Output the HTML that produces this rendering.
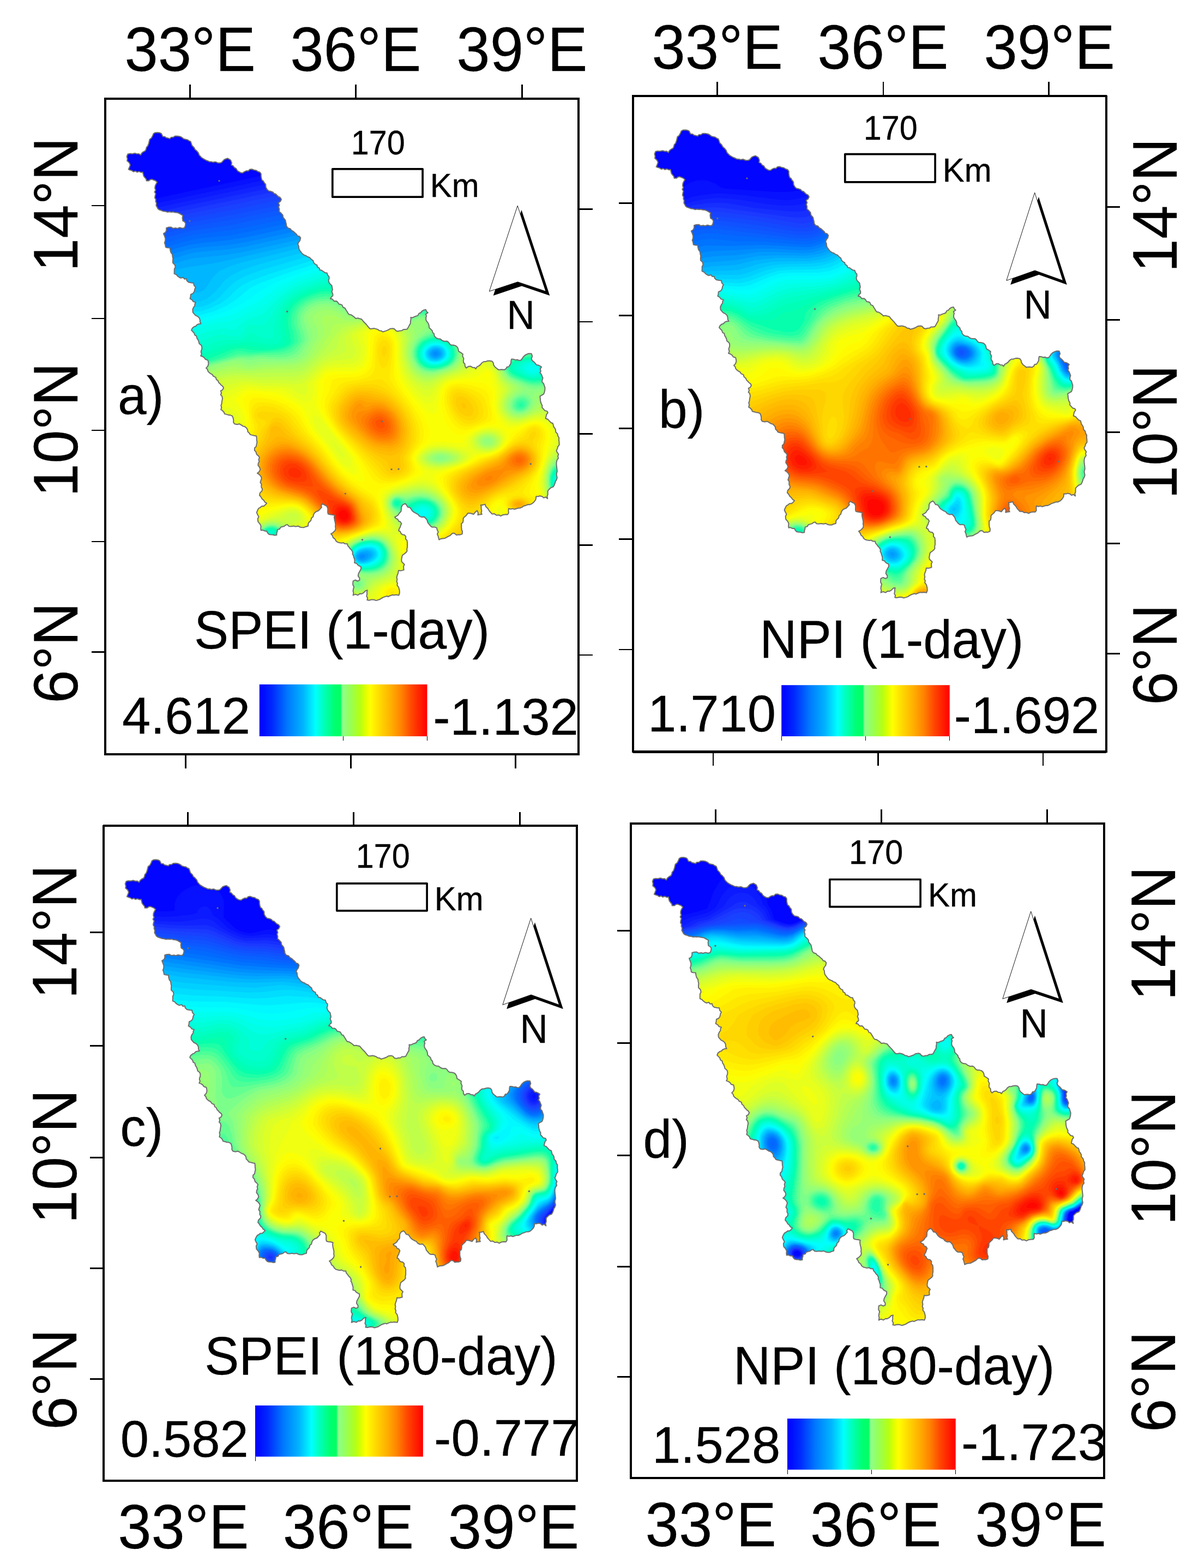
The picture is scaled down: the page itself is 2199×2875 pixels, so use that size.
<!DOCTYPE html>
<html lang="en"><head><meta charset="utf-8"><title>SPEI and NPI drought index maps</title>
<style>html,body{margin:0;padding:0;background:#fff}svg{display:block}text{font-family:'Liberation Sans', Arial, Helvetica, sans-serif;fill:#000;stroke:#000;stroke-width:.3px}</style>
</head><body>
<svg width="2199" height="2875" viewBox="0 0 2199 2875">
<defs>
<linearGradient id="ramp" x1="0" y1="0" x2="1" y2="0">
<stop offset="0" stop-color="#0000ff"/>
<stop offset="0.075" stop-color="#0028ff"/>
<stop offset="0.167" stop-color="#0078ff"/>
<stop offset="0.26" stop-color="#00b4ff"/>
<stop offset="0.334" stop-color="#00ffff"/>
<stop offset="0.38" stop-color="#00ffbe"/>
<stop offset="0.45" stop-color="#00ff6e"/>
<stop offset="0.483" stop-color="#00ff64"/>
<stop offset="0.494" stop-color="#8cff8c"/>
<stop offset="0.538" stop-color="#96ff5a"/>
<stop offset="0.6" stop-color="#b4ff14"/>
<stop offset="0.63" stop-color="#dcff00"/>
<stop offset="0.66" stop-color="#ffff00"/>
<stop offset="0.72" stop-color="#ffd700"/>
<stop offset="0.785" stop-color="#ffaf00"/>
<stop offset="0.847" stop-color="#ff8200"/>
<stop offset="0.908" stop-color="#ff4600"/>
<stop offset="1" stop-color="#ff0000"/>
</linearGradient>
<path id="basin" d="M39.6,106.3 41.4,101.9 45.2,101 49.5,101.3 54.5,100.3 57.8,101.5 61.9,101.4 65,103.7 66.9,100.2 69.5,98 73.6,95.8 75.1,92.2 75.5,89.7 78.1,86.7 79.8,82.2 80.5,79 81.5,74.9 84.5,72.7 86.8,68.7 88.5,64.4 91.6,62.6 96.4,62.3 100.3,63 103,64.4 105.6,69.6 109.3,69.8 111.8,71.9 114.7,72.5 118.7,73.6 120.8,71.2 124.9,71 127.8,68.9 132.6,68.8 137,69.6 140.3,71.1 143.9,74 147.5,74.9 150.9,75.6 154.1,77.8 156.6,78.8 157.9,82.4 159.1,86.1 162.9,89.9 164.5,93.2 167.9,96.1 170.9,99.7 172.4,103.7 175,106.6 177.4,108.9 181,111.1 184.2,112.9 187.3,114.1 191.1,115.9 194.2,115.8 197.2,116.8 202,116.1 206.7,118.1 210.3,118.1 213.3,117.3 216.1,114.3 218.2,112 220.8,110.9 224.7,109.7 230,112.9 231.9,117.7 231.3,122 234.3,123.3 237.2,126.9 239.9,128.2 242.1,131.9 244.4,133.8 248.6,136.1 252.2,136.4 255.1,134.3 259.1,132.5 262.1,132.9 265.3,129.9 269,129.6 273.2,131.2 276.9,131.8 279.8,133.9 283.7,135.1 285.8,138.2 285.8,142.1 286.3,145.6 287.4,149.5 290.3,151.7 291.4,154.1 294.2,157.4 294.6,162.7 296.8,166.6 300,169.7 303.4,170.2 307.4,171.6 309.9,174.4 312.7,175.1 315.2,177.6 317.5,179.9 320.8,181.4 323,184.9 321.3,188.7 317.7,191.4 319.4,195.8 318,198.8 319.3,203 319,207.2 322.1,209.8 325.6,213.7 326.3,218.2 328.3,220.4 330.3,222.9 331.1,226.8 332.1,230.7 332.4,233.8 334.8,237.3 339.6,238.8 341.2,241.4 345.2,243.8 347.2,245.7 351,249.1 352.6,251.8 356,252.6 358.3,255.6 357.2,260.3 354.6,263.8 353.1,267.4 354.7,270.1 355.2,275 356.3,278 358.3,280.5 361.3,284.6 364.9,287 368.6,288.4 371,290.2 375.1,291.7 378,294.9 381.3,297.3 382.3,301 385.5,304.2 388.4,305.4 389,308.9 392.4,310.7 393.7,314.5 396.8,314.9 400.7,317.7 403.1,319.3 406.8,319.8 407.9,323.9 410.5,326.6 410.7,330.2 409.5,333.1 410.4,337.3 412.2,339.9 415.4,342.9 416.1,346.2 416.9,350.6 415.5,354 417.4,358.7 417.4,361.9 415,363.7 412.9,367.1 416.2,367.6 419.7,371.6 424,371.4 426.5,373.7 428.5,377 432.1,377.6 434.4,378.7 436.4,383.2 439.6,384.2 441.7,387.9 443.6,390.7 444.9,393.3 446.9,395.8 450.8,396.6 454.1,398.8 456.7,400.7 459.3,403.3 463.5,402.7 466.3,403.6 469.8,404.3 473.3,408.6 476.3,411.7 479.2,414.7 480.9,416.9 482.6,419 485.5,422.1 488.6,422.2 493.3,421.5 496.3,422.3 499.9,423.5 502.8,425.6 506.2,426 509,427.9 514.1,426.3 518.2,424.8 522.5,422.2 527.4,421.6 530.5,422.6 533.1,425.8 536.5,426.9 540.4,425.8 543.8,425.7 547,423.5 550.4,423.5 553.8,422.9 556,419.1 557.7,415.8 559.8,412.4 559.9,408 560.7,404.5 560.3,401.4 563.7,401.8 568,399.7 570.8,398.8 573.5,397.8 575.4,394 578.7,392.7 580.8,390 584.4,387.8 587.8,387 589.5,390.8 591.8,392.7 587.8,395.4 589.2,398.9 588.2,401.4 588.3,406.1 589.7,408.5 592.5,412.4 593.6,415.6 594.2,420.4 597,422.9 599.6,425.5 600.5,429 603.1,431.7 603.5,435.1 606.2,438.6 610,440.4 614.3,440.8 618,443.8 621.8,445.2 626.9,445 629.7,447 632.3,450.7 635,452.2 638.5,452.2 642.8,453.4 645.5,455.6 647.2,458.8 648.1,463.5 652.7,466.3 655.9,468.7 655.3,472.3 657.5,477.1 656.7,480.8 657.2,484.4 659.5,486.5 659.9,491 662,494.1 666.4,491.2 670.3,491 673.6,493.1 677.5,493.4 679.5,495.7 682,491.8 685,490.5 688.7,487.5 690.2,485.2 693.9,482.6 697.4,482.5 701.2,481.2 705.1,480.8 709.6,481.8 711.7,484.8 712.4,488.8 714.9,492.3 717.7,494.6 721.4,497.5 724.1,497.1 727.6,496.8 731.9,497.5 735,495.6 736.6,492.3 740.1,491.9 742.4,488.3 744.1,485.1 744.3,480.8 745,477.9 748.4,478 752.5,479.3 755.8,478.8 758.7,480.2 762,480 764.6,477.2 766.6,473.9 770.3,470.4 773.8,468.7 777.1,467.7 781.7,467.9 783.3,472.5 781.6,476.7 783,480.5 785.7,482.4 788.5,485.3 790.8,488.3 794.2,488.8 797.9,490.7 800,492.3 797.9,495.5 798.8,500.1 797.4,502.7 799.7,505.5 801.3,509.3 802.6,512.6 801.4,516.3 801.3,519.8 803.9,522.6 805.2,526.3 806.5,530.3 806.3,534.9 805.2,539.4 804,542.1 800.7,543.9 797.4,546 797.8,549.7 798.1,553.6 798.9,557.5 800,560.4 801.5,563.1 801.2,566.5 803.9,569.5 806.3,572.3 810.4,573.3 811.8,576.1 809.4,579.4 808.4,583.3 807.8,586.6 811.7,588.1 814.8,591.5 817.6,594.4 820.9,595.7 821.9,599.5 822.7,602.4 824.5,604.2 826,607.7 826.2,611.4 829.4,614.8 830.2,618.7 832.2,621.9 832,626.6 832.5,629.8 832.7,635 830.1,638.5 829.2,642 827.5,645.5 828.7,648.6 831.4,652.4 830.1,655.5 831,659.6 828.6,662.8 827.5,667.6 827.5,670.7 827.9,674.9 828.5,679.7 828.8,683.8 827.7,687.9 827.8,690.9 828.8,695.3 827.5,699.5 825.7,702 825,704.8 823.6,708.7 821.7,712 817.2,713.8 814.7,716 811.8,719.2 811.6,722.7 811.7,725.8 810.4,729.5 811.3,733.6 807.8,730.8 804.2,732.2 801.3,729.6 796.9,728.7 794.3,729.7 790.3,729.6 789.8,734.4 788.2,737.5 785.5,740.6 782.6,743 779,744.6 775.6,744.4 771.5,746.1 767.6,747.2 764.6,749.3 760.7,751 758.4,750.9 754.2,751.9 750.6,753.2 747.3,752 743.6,752.9 739.7,751.9 739.5,756.2 739.8,759.8 737.9,762.9 734.1,762.7 728.9,763.6 725.3,765.5 721.9,763.6 717.5,764.1 713.7,761.5 709.6,761.9 706.8,758.9 704.4,756.2 701.8,751.9 698,748.1 696.5,744 692,745.4 688.7,745.4 689.7,748.3 689.4,751.7 690.4,756.3 689.4,759.6 690.8,762.4 686.4,762.8 683.4,763.7 683.9,759.5 682.1,755.8 678.9,758.2 675.6,762.4 672.3,761.1 668.5,760.3 665.1,760.3 662.7,763.8 658.5,767.6 656.6,769.8 656.6,773.7 655.8,777.6 653.2,779.4 653.3,783.3 653.2,786.8 653.8,790.7 655.1,794.1 654.6,798.5 650.6,800 648,799.7 644.1,800.4 640.7,797.4 637.6,797 635.2,798.7 632.7,801.2 629.5,802.8 625.8,804.8 623,806.4 618.4,806.9 615.5,807.3 612.2,809 611.3,805.4 610.5,802.1 609,798.7 610.8,794.9 608.7,790.7 608,787.3 604.4,785.8 599.6,786 596.8,784.1 594.3,781 591.8,778.1 590.4,773.3 588.7,770.9 585.2,767.1 580.1,767.5 576,765.5 573.4,762.2 570.3,760.9 565.5,758.1 563,755.8 560.6,752.2 558.9,749.9 554.8,749.1 552.4,745.1 549.9,742.7 545.1,745.4 543,749.4 542.9,753.5 542.5,757.1 539.6,759.9 537.3,763.6 533.9,766 531,767.6 533,770 536.3,771.3 538.4,775.2 541.1,775.8 543.3,779.4 541.9,782.8 541.1,785.7 539.4,788.4 538.1,792.5 541,794.1 542.7,797.8 545.3,799.6 548.7,800.1 551.2,803 551,807.7 553.5,810.3 554.1,815.2 554,819.1 554.1,822 553.2,826.7 553.6,829.6 551.8,832.3 548.3,835.1 545,837.5 544.1,840.9 543.3,845.7 543.7,849.3 546,851.6 548.9,854.5 547.2,857.4 547.2,860.6 547.6,864.5 542.4,865.8 537.9,865.5 537.1,870.5 535.8,873.4 534.5,878.1 535.4,881.5 534.5,886 536,888.7 535.3,892.5 538.1,896.1 538.9,899.1 539.7,902.3 539.8,906.8 538.4,910.8 533.8,910 529.7,910.6 526.8,910.2 522.7,911.6 518.9,913.4 516.7,912.4 513,913.5 509.6,914.8 506.7,916.4 504.1,918.2 500.2,919.5 496.5,920.5 493.1,919.1 488.9,918.8 483.8,920.1 480.3,919.5 481.3,916.1 479.3,912.4 480.3,908.1 479.9,905.5 480.8,901.7 477.4,902.6 473.5,906.5 470.3,908.2 467,908 463.3,910.6 458.7,909 454.6,910.8 455.5,906.3 454.5,903.3 455.1,899.1 456.2,895.3 454.2,891.6 454.2,888.7 454.6,884.7 458.8,882.9 462.8,884.9 466.4,883.3 466.5,879.7 463.8,875.5 464.4,871.4 466.4,867.6 469.1,862.7 469,858.5 466.2,857.2 463,855.1 461.2,852.4 457.2,851.4 457.5,847.6 457.1,844.2 455.9,841.4 455.3,838.3 453.5,835.2 453.9,832 452,828.3 449.1,825.5 447.9,823.4 445,820.2 444.1,816.6 439.8,816.5 436.5,814.5 433.7,815.2 430.6,814.7 426.3,813.6 423.2,811.3 421.4,807.8 418.1,805.3 416.4,801.1 414,798.2 417.5,796.2 419,794.7 421.8,791.8 422.7,788.5 422,784.8 422.4,781.5 421.8,777.4 420.7,773.5 419.9,768.1 420.5,764.3 416.9,763.3 411.8,762.7 408.7,761.7 408.1,758.5 408.2,754.1 408.2,751.3 406.1,747.3 401.7,745.1 398.2,743.3 395.8,746.6 396.9,749.6 394.3,752.5 391.3,755.7 386.4,757.7 383.5,760.3 382,763.1 381.2,766.9 378.2,769.3 377.1,773.8 374.6,776.1 372.4,779 372,783.9 367.8,785.1 364.2,786.6 360.7,786.5 357.4,785.9 353.7,783.9 349.2,784.8 345.4,784 340.6,784.7 336.9,784.3 334,781.3 331.2,782 328.6,784.2 324.9,785.2 321.4,786.3 319.9,789.4 315.7,790.5 315.5,793.9 314.5,796.4 314.4,800.4 310.4,800.9 307.5,799.9 302.8,799.7 300,798.9 297.6,796.2 296.1,793.1 292.7,793.1 288.4,791.2 285.6,791.8 285.2,788.3 285.6,783.9 283.7,780 280.3,776.1 279.7,770.7 281.6,766.9 279.2,762.6 277.7,759.1 279.7,754.5 281.6,751.2 284.1,750 287.3,747.4 290.8,747.3 294.2,744.5 296.1,742 292.5,739.7 290.6,736.5 287.8,734.3 285.2,729.9 283,727.6 283.8,723.3 287.5,719.4 288.2,715.8 286.3,712.7 286.5,706.9 284.3,704.1 285.3,700.8 286.9,696.2 285.3,692.5 282.3,689.2 279,687 282,684.7 284.3,680.5 283.2,676.6 280.3,672.6 280.8,668.4 282.4,666.1 281.5,661.8 283,658.2 280.8,655 277.8,652.6 276.2,647.5 273.8,645.1 274,640.7 276.8,638.2 277.7,633.3 278.5,630.3 277.7,626 277.7,622.8 277.2,618.9 273.3,618.2 269.4,617.3 265.9,616.3 264.2,613.5 261.4,610.9 261.2,607.8 259.4,604.5 256.1,601.7 253.2,601 250.1,599 246.3,596.7 241.8,597.7 237.1,596.7 235.1,593.5 235.4,590.2 234.7,586.4 233.2,582.3 229.3,580.6 226.7,580.5 222.6,579.3 218.8,578.3 217.9,575.4 214.6,571.9 212.2,570.5 213.3,566.6 212.3,562.6 213.5,560 214,555.8 214.4,553.1 215.1,550.1 214,545.5 211.7,543.3 213.1,539.9 211.8,536.1 214.9,534.5 217,530.8 215.9,528.1 212.2,525.1 210.5,523 208.1,520.8 206.7,517.3 203.8,515.3 202.6,511.2 198.4,509.3 196.2,506 193.4,504.6 190.3,502.2 188.4,500 187.5,496.7 185,494.2 188.2,490.7 189.5,486.3 188.9,482.4 188.2,479.8 183.7,478.3 182,475.6 179.1,473.4 175.1,471.9 176.8,468.5 175.6,464.6 176.1,462.2 177.3,459.1 177.2,454.9 175.8,452 172.5,449.6 171.3,445.1 170,442.1 168.3,439.7 167.2,435.2 164.3,433.9 163,429.9 160,426.9 158.1,424.8 159.6,421.2 163.3,418.2 165.8,417.6 168.7,414.5 171.9,413.4 175.6,413 173.8,409.6 173.9,406.4 172.5,402.5 169.8,399.7 165.4,397.5 163.6,395.5 160.7,392 160.3,387.1 162,382.9 164.4,379.8 164.2,377 165.9,373.7 161.5,372.5 159.3,369.3 155.5,367.1 156.5,363.4 156.8,359.3 161.1,357.3 163.3,354 164.2,349.3 165.9,346.2 162.8,342.7 162,338.3 157.8,338 152.8,337 149.6,334 148.9,330.5 145.3,331.1 143.1,328.1 138.7,329.3 135.8,327.9 132.6,325.6 130.6,323.1 126.6,321.3 126.7,317.5 126.8,312.5 128.6,309.3 127.6,304.8 124,301.4 123.9,297.5 124.3,293.6 123.4,289.7 122.9,285.6 120.5,282.6 119.4,278.8 118.7,273.9 114.3,273.6 110.8,272.6 110.1,268 108.7,264.8 110,261.3 110.3,256.9 108.8,252.3 106.9,247.7 110.8,245.1 112.2,241.3 112.1,237.3 116,236 120.7,235.8 124.2,238.1 129.1,237.3 132.3,238.3 136.6,236.7 141.7,238 144.9,237.3 146.7,233.8 147.5,229.4 145.8,226.3 142.2,224.2 141.5,218.7 142.2,214.5 138.6,212.3 134.8,210.2 131.8,209.2 127.8,208.9 124.3,207.9 120.9,208.3 118.1,207.7 114,208.3 110.8,207.2 106.2,206.7 104,205.7 99,204 96.4,201.9 95.2,199.3 93.4,196.4 93.9,191.7 92.5,188.8 92.8,185 90.9,182 91.5,178.2 92.6,174.6 90.4,171.4 92.5,167.8 91.2,165.2 91.3,161.4 92.6,157.8 95.1,153.5 92.1,150.7 88.7,149.4 85.9,148.2 82.7,148.6 79.9,150.8 75.5,150.8 75,147.8 72.5,144.8 70.5,142.2 69.5,138.1 68.9,135.1 65.7,135.5 61.9,133.8 58.4,135.1 55.4,133.1 51.9,134.3 48.5,132 45.4,131.2 42.7,129.9 44.2,126.4 45.9,122 44.2,118 40.1,114.2 40.7,110.7Z"/>
<clipPath id="bclip"><use href="#basin"/></clipPath>
</defs>
<rect width="2199" height="2875" fill="#fff"/>
<g id="panel-a">
<g transform="translate(193 180.6)">
<g clip-path="url(#bclip)">
<g fill-rule="evenodd"><rect x="16" y="36" width="848" height="908" fill="#0205ff"/>
<path fill="#0710ff" d="M860 942l-840 0-2-2 0-124 2-617 736-159 104 0 2 380 0 520z"/>
<path fill="#0c1aff" d="M860 942l-840 0-2-2 0-124 2-608 780-168 60 0 2 380 0 520z"/>
<path fill="#1124ff" d="M860 942l-840 0-2-2 0-124 2-599 132-29 687-148 21 0 2 380 0 520z"/>
<path fill="#162fff" d="M860 941l-840 0-1-1 0-124 1-591 132-29 184-39 524-113 1 376 0 520z"/>
<path fill="#1b39ff" d="M860 941l-840 0-1-1 0-124 1-583 132-29 196-41 512-111 1 368 0 520z"/>
<path fill="#1942ff" d="M860 941l-840 0-1-1 0-124 1-574 130-30 218-45 492-106 1 359 0 520z"/>
<path fill="#144aff" d="M860 941l-840 0-1-1 0-124 1-565 52-11 80-20 84-16 132-28 492-106 1 350 0 520z"/>
<path fill="#1052ff" d="M860 941l-840 0-1-1 0-124 1-555 52-12 80-21 84-15 136-28 488-106 1 341 0 520z"/>
<path fill="#0c5aff" d="M860 941l-840 0-1-1 0-124 1-546 52-12 80-22 88-15 132-27 488-106 1 332 0 520z"/>
<path fill="#0862ff" d="M860 941l-840 0-1-1 0-124 1-537 52-12 80-23 24-4 52-7 32-7 132-27 468-101 1 322 0 520z"/>
<path fill="#036aff" d="M860 941l-840 0-1-1 0-124 1-528 56-13 56-17 22-6 22-4 52-6 32-6 132-28 468-101 1 313 0 520z"/>
<path fill="#0073ff" d="M860 941l-840 0-1-1 0-124 1-519 56-13 56-18 24-6 20-4 52-5 32-6 600-129 1 304 0 520z"/>
<path fill="#0081ff" d="M860 941l-840 0-1-1 0-124 1-510 60-14 56-19 20-5 20-3 48-5 36-6 600-130 1 296 0 520z"/>
<path fill="#008eff" d="M860 941l-840 0-1-1 0-124 1-502 60-14 60-20 16-4 20-3 48-4 36-6 600-131 1 288 0 520z"/>
<path fill="#009bff" d="M860 941l-840 0-1-1 0-124 1-494 64-15 56-18 16-5 20-3 48-4 32-5 220-49 384-83 1 280 0 520zM608 472l3-4-3-4-4 0-4 4 4 4zM473 844l4-4-1-3-4-1-4 1-2 3 2 4z"/>
<path fill="#00a8ff" d="M860 941l-840 0-1-1 0-124 1-486 68-16 68-20 16-2 48-5 32-5 192-44 416-89 1 271 0 520zM613 472l2-4-2-4-5-3-4 0-4 2-3 5 2 4 5 3 4-1zM479 844l3-4 1-4-3-2-8-1-4 1-4 4-1 2 1 4 4 2 4 1z"/>
<path fill="#00b6ff" d="M860 941l-840 0-1-1 0-124 1-478 128-28 52-8 28-6 204-47 428-92 1 263 0 520zM610 476l6-4 1-4-1-4-4-4-4-1-7 1-5 4-1 4 1 4 5 4 3 1zM475 848l8-4 4-4 1-4-3-4-5-2-8 1-4 1-5 4-2 4 1 4 2 2 4 2z"/>
<path fill="#00c3ff" d="M860 941l-840 0-1-1 0-124 1-470 68-14 20-3 16 0 8 1 8 4 13 14 7 6 7 2 5 0 8-4 4-4 13-20 11-11 19-9 26-8 171-42 108-22 328-71 1 255 0 520zM614 476l4-4 1-4-1-4-3-4-7-3-4 1-6 2-4 4-1 4 1 4 3 4 7 2 4 0zM480 848l6-4 4-4 1-4-1-4-2-2-8-2-8 1-8 3-3 4-1 5 1 3 3 4 8 2z"/>
<path fill="#00d0ff" d="M860 941l-840 0-1-1 0-124 1-461 56-11 16-1 12 0 8 2 9 3 7 5 14 11 10 5 12 4 10-1 11-4 11-8 8-8 16-19 12-9 20-10 30-10 133-36 117-23 68-16 260-56 1 247 0 520zM617 476l3-4 1-4-1-4-2-4-6-3-8-1-4 1-5 3-3 4-1 4 1 4 4 5 4 2 8 1zM483 848l6-4 4-4 1-4-1-4-4-4-9-2-8 1-8 4-5 5 0 4 0 4 5 5 8 2z"/>
<path fill="#0df" d="M860 941l-840 0-1-1 0-124 1-450 48-9 16-2 12 1 12 3 8 3 32 18 12 3 16-1 12-4 12-6 10-8 14-15 12-11 9-6 11-6 32-12 100-29 44-11 96-16 74-18 258-56 1 236 0 520zM612 480l7-4 3-4 1-4-1-4-2-4-6-4-6-2-8 1-7 5-3 4-1 4 1 4 2 4 4 3 4 2 8 0zM476 852l11-4 5-4 3-4 2-4-1-4-4-5-8-2-8 0-10 3-6 5-2 3-1 4 1 4 2 3 4 3 4 2z"/>
<path fill="#00ebff" d="M860 941l-840 0-1-1 0-124 1-439 44-8 24-1 12 1 12 4 8 4 12 8 12 5 8 1 8 1 16-2 18-6 17-8 12-8 17-17 12-9 16-8 32-12 92-29 40-9 64-9 28-5 84-20 252-54 1 224 0 520zM615 480l6-4 3-6 0-6-4-6-4-3-4-1-8-1-8 3-5 4-3 4 0 4 0 4 4 6 4 3 8 1 4 0zM481 852l9-4 5-4 3-4 1-4-1-4-2-4-6-4-10-1-12 3-4 2-4 3-3 5-1 4 1 4 3 5 4 3 4 1 8 0z"/>
<path fill="#00f8ff" d="M860 941l-840 0-1-1 0-124 1-428 44-8 12-1 12 0 8 1 8 2 20 11 16 6 16 1 16-2 28-8 23-10 18-12 24-20 15-8 48-18 68-22 36-8 64-5 28-5 96-23 240-52 1 213 0 520zM618 480l5-4 2-4 1-4-2-7-4-5-8-4-8 0-8 2-7 6-2 4-1 4 1 4 1 4 4 4 4 2 8 2 8-1zM485 852l8-4 4-4 3-4 1-4-1-4-4-7-4-2-4-1-12 1-12 3-6 6-2 4-1 4 1 4 4 6 4 3 8 1z"/>
<path fill="#00fffa" d="M860 941l-840 0-1-1 0-124 1-416 36-8 20 0 16 2 32 11 12 3 16 1 16-3 44-12 20-8 19-10 37-25 26-15 26-10 56-18 24-6 20-2 40-1 28 1 16-2 23-6 65-20 108-24 88-18 52-12 1 202 0 520zM611 484l9-4 5-4 2-4 0-4 0-4-2-4-5-5-8-4-8 0-8 2-5 3-4 4-2 4 0 8 2 4 3 4 6 3 8 2zM488 852l8-4 3-4 3-4 0-4 0-4-2-4-4-5-8-2-8 0-8 1-8 3-4 3-3 4-2 4 0 8 2 4 4 4 7 3 4 0 8 0z"/>
<path fill="#00ffef" d="M860 941l-840 0-1-1 0-124 1-396 36-7 20-2 16 0 44 7 12 0 12-2 68-18 12-5 36-19 38-26 18-10 23-10 41-14 28-5 24-1 20 3 32 9 12 0 12-1 24-5 68-21 44-12 72-16 88-17 40-10 1 182 0 520zM615 484l7-4 4-4 2-4 1-8-2-4-3-4-8-5-8-2-8 1-4 1-7 5-4 4-2 8 2 8 3 4 6 4 6 2 8 0zM787 496l-3-2-2 2 2 1zM585 764l3-2 1-2-1-3-4-2-4 1-2 4 2 3zM479 856l13-4 6-4 3-4 3-7 0-5-4-7-4-3-8-3-8 1-8 1-8 3-5 4-4 4-1 4 0 8 2 4 3 4 9 4z"/>
<path fill="#00ffe4" d="M860 941l-840 0-1-1 0-124 1-375 40-9 20-3 16 0 36 1 16-1 16-4 36-12 32-5 8-3 44-22 12-8 23-19 19-12 14-7 28-11 20-6 24-3 20 1 20 4 36 14 12 1 16-1 40-8 84-24 49-12 47-10 76-14 36-9 1 161 0 520zM618 484l6-4 4-4 2-4 0-8-2-5-4-5-8-5-12-1-8 2-4 2-5 4-3 4-2 8 1 8 5 6 4 2 8 3 8 0zM793 500l2-4-1-4-6-4-8 0-7 4 0 4 3 4 4 2 8 0zM585 768l3-1 4-3 2-4-1-4-5-4-4-1-6 1-5 4-1 4 2 4 2 2 4 2zM485 856l11-5 4-3 3-4 2-4 0-8-1-4-3-4-5-4-4-1-8-1-12 2-8 3-4 3-4 4-3 6 0 8 3 6 4 3 8 4 8 0z"/>
<path fill="#00ffd9" d="M860 941l-840 0-1-1 0-124 1-355 68-14 48-4 12-2 12-3 32-12 12-3 12-1 20 2 4-1 10-11 6-4 8-4 20-7 8-4 29-29 10-8 9-6 12-6 24-9 24-8 20-2 20 1 20 5 28 13 12 4 16 2 24 0 24-4 31-6 81-21 56-13 36-8 60-10 32-7 1 139 0 520zM607 488l9-2 10-6 3-4 2-4 0-8-3-8-8-6-8-3-8 0-8 1-8 5-6 7-2 8 2 8 6 7 8 4zM794 504l4-4 2-4-1-4-4-4-3-1-4-2-8 0-9 3-4 4 0 4 3 4 6 4 8 2zM829 708l1-4 0-4-2-5-4 5 0 4 3 4 1 1zM593 768l3-4 1-4 0-4-5-5-4-2-8-1-8 4-3 4-1 4 2 4 3 4 3 1 8 2zM489 856l11-6 4-4 3-6 0-8-1-4-6-7-8-3-8-1-8 1-12 4-8 6-3 4-1 8 2 8 3 4 7 5 8 1 8 0z"/>
<path fill="#00ffcd" d="M860 941l-840 0-1-1 0-124 1-336 68-15 64-12 12-3 28-12 12-4 12-1 20 3 9 0 6-4 6-12 7-5 8-1 12 2 4-1 4-2 8-9 19-28 9-9 12-10 20-10 24-9 12-4 20-2 20 1 20 6 32 15 12 4 12 2 16 1 36 0 24-3 24-4 72-18 69-16 23-5 56-9 28-6 1 120 0 520zM613 488l11-5 4-3 3-4 2-8-1-8-6-8-10-6-12-1-12 4-8 6-3 5-2 8 1 8 4 6 8 5 12 2zM790 508l10-4 3-4 1-4-1-4-3-4-4-2-8-3-12 0-12 5-3 4 0 4 9 8 10 4zM829 712l3-6 0-6-1-4-3-5-4 3-2 10 2 6 4 3zM590 772l6-4 3-4 1-4-1-4-3-5-4-3-4-1-8-1-7 2-6 4-2 4 0 4 1 4 3 4 6 4 5 1zM493 856l7-4 4-3 4-9 0-8-1-4-2-4-4-4-9-4-8 0-8 1-12 4-5 3-4 4-4 8 0 8 5 8 4 4 8 3 8 0 8 0z"/>
<path fill="#00ffc2" d="M860 941l-840 0-1-1 0-124 1-318 128-29 20-7 28-13 12-4 12-2 20 0 8-1 6-2 10-8 4-2 24 10 8 1 4-1 5-4 1-20 4-16 8-16 9-12 13-11 12-7 24-10 16-4 12-2 12 0 20 3 16 6 32 16 20 5 44 5 52 0 8-1 8-2 12-2 8-3 10-1 6-2 12-2 8-3 9-1 7-2 12-2 8-3 9-1 7-2 10-2 26-7 40-8 9-1 11-3 10-1 6-2 13-2 7-3 1 103 0 520zM617 488l7-3 4-3 5-6 1-4 1-8-2-4-5-8-8-6-12-2-12 1-6 3-5 4-6 8-2 8 2 8 5 8 8 5 8 1 8 0zM799 508l5-4 3-4 0-4-1-4-3-4-7-5-8-2-12 0-11 3-8 4-3 4 0 4 2 2 8 6 8 4 8 2 8 1zM828 716l4-4 2-12-2-8-4-4-4 2-3 10 1 8 1 4 1 2zM595 772l5-5 2-7 0-4-2-4-4-4-8-4-8 0-8 2-4 2-4 4-2 4 0 4 1 4 2 4 5 4 6 2 8 1 4 0zM310 796l-2-3-4-1-4 1-1 3 5 3 4-1zM483 860l9-2 8-4 4-3 5-7 1-8-1-8-6-8-7-4-8-1-8 0-16 5-6 4-4 4-4 8 0 8 2 4 3 4 4 4 9 4 8 1z"/>
<path fill="#00ffb7" d="M860 941l-840 0-1-1 0-124 1-310 136-31 23-7 11-4 22-10 12-3 40-5 8 1 32 5 8-1 4-1 4-3 3-7 1-8-3-16 1-12 3-12 7-12 11-12 12-8 17-8 20-6 20-3 20 2 16 6 28 15 12 5 60 11 8 1 24-3 24-1 16-2 240-52 1 95 0 520zM620 488l7-4 5-4 4-8 0-8-1-4-3-6-4-4-4-3-8-4-12-1-12 3-9 7-6 8-1 8 1 8 5 8 6 4 4 2 8 2 12-1zM796 512l8-4 4-4 2-4 0-4-1-4-2-4-4-4-7-3-12-2-13 1-15 5-5 3-3 4 0 4 3 4 17 9 8 3 8 1zM831 716l3-8 1-8-3-11-4-4-4 2-3 5-1 4 0 8 1 8 3 5 4 1zM590 776l8-4 4-4 2-4 0-8-4-7-8-6-8-1-12 1-8 5-4 5-1 7 1 4 4 6 4 3 8 4 8 0zM309 800l4-4-2-4-7-2-6 2-2 4 4 4 4 1zM490 860l6-2 8-5 4-4 2-5 1-4 0-8-3-8-3-4-9-5-12-1-16 3-6 3-6 4-4 5-3 7 0 8 4 8 7 6 8 3 12 1z"/>
<path fill="#06ffad" d="M860 941l-840 0-1-125 1-304 136-31 24-7 40-15 16-4 12-2 12 0 28 4 16 1 13-2 11-4 3-4 2-12-1-4-3-16 0-12 2-8 5-12 10-12 11-8 15-7 20-7 20-2 16 2 16 5 28 16 12 5 36 6 20 5 12 1 24-4 8 0 20 1 16-2 240-52 1 89zM611 492l13-4 6-4 3-4 4-8 1-8-1-4-5-8-4-4-8-5-12-2-12 1-11 6-8 8-3 8 0 8 2 4 4 8 8 6 12 3zM803 512l6-4 3-4 1-4 1-4-1-4-5-7-4-3-8-3-8-2-8 0-16 3-12 4-5 4-2 4 0 4 3 5 4 3 20 9 8 2 8 0 8-1zM829 720l3-2 3-6 1-12-3-12-1-2-4-3-4 1-4 7-1 13 1 9 4 7 4 1zM595 776l5-3 4-5 3-8-2-8-5-6-8-5-12-2-12 3-8 6-3 4-1 8 3 8 5 5 8 4 8 2 8-1zM312 800l3-4-2-4-1-1-4-2-4 0-4 0-4 3-2 4 3 4 7 2zM495 860l8-4 4-4 3-4 3-8 0-8-1-4-4-6-4-4-4-3-8-2-8 0-8 1-8 2-8 4-8 7-4 9 1 8 3 8 4 4 8 4 8 2 12 0z"/>
<path fill="#1effa6" d="M860 941l-840 0 0-424 9-1 7-3 29-5 7-2 12-2 8-3 9-1 11-3 8-1 8-3 9-1 7-2 12-3 32-9 40-16 12-3 12-1 16 3 20 1 24-2 16-4 8-4 4-4-1-16-3-12-1-12 2-12 5-12 7-8 11-9 16-7 16-5 20-2 16 2 13 5 27 16 11 4 13 3 24 3 24 5 12 1 20-4 8-1 24 4 20-3 24-6 12-2 8-2 11-2 5-2 12-2 8-2 49-10 23-6 13-2 7-2 11-2 5-2 13-2 7-2 12-2 8-3 8-1zM616 492l12-5 7-7 3-4 1-4 0-8-2-8-2-4-4-4-7-5-12-4-8 0-8 2-12 5-8 9-3 9 0 8 1 4 4 8 6 5 4 3 8 2 8 0zM800 516l8-4 4-3 4-5 1-4-1-8-2-4-4-4-6-4-12-4-16-1-20 5-9 4-4 4-1 4 0 4 1 4 4 4 5 3 16 6 12 4 12 0zM832 720l4-8 1-4 0-12-1-5-3-7-5-3-4 1-4 6-2 8 0 12 2 8 4 6 4 1zM541 744l-1-4-4-2-4 1-1 1 0 4 1 2 4 1zM589 780l10-4 4-4 3-4 2-4 0-8-3-8-9-7-12-3-12 1-12 5-4 4-2 4-1 4 1 8 2 4 8 8 8 3 8 2zM314 800l2-4-1-4-6-4-9 0-6 4-1 4 2 4 5 3 8 0zM499 860l5-3 6-5 2-4 2-8 0-8-1-4-5-8-4-4-4-2-8-2-8 0-8 1-8 2-8 4-6 5-4 4-3 8 1 8 3 8 5 5 8 5 12 2 12-1z"/>
<path fill="#35ff9f" d="M860 941l-840 0 0-421 161-36 28-8 31-13 8 0 12 2 8 1 32-2 20-2 12-4 8-4 6-6 1-4-1-12-5-16 0-8 1-12 4-8 6-9 12-9 12-6 16-5 16-1 16 1 13 5 27 16 11 4 13 2 24 3 32 6 8 1 24-6 8 0 16 4 12-1 248-55zM620 492l8-4 6-4 3-4 4-8-1-12-3-8-3-4-10-7-8-3-8-1-8 1-8 2-12 7-7 9-2 8 0 4 1 8 2 4 6 8 8 5 8 2 12 0zM807 516l6-4 4-4 2-4 1-8-3-8-3-4-6-5-7-3-9-2-8-1-16 2-18 5-7 4-3 4-1 4 0 4 2 4 3 4 4 3 8 4 16 6 12 3 12-1zM765 564l1-4-2-2-4 1-1 1-1 4 2 2 4-1zM830 724l2-1 4-7 2-8 0-8-2-13-4-7-4-2-4 2-4 5-3 7 0 12 1 8 3 8 3 4 4 1zM542 748l2-4-1-4-3-3-4-1-2 0-2 0-3 4 0 4 3 4 4 1zM594 780l6-3 6-5 2-4 3-8-1-4-2-6-4-5-4-4-12-5-12 0-14 4-11 8-1 4 0 4 2 8 4 7 5 5 7 4 8 2 8 0zM308 804l8-4 2-4-1-4-4-4-5-1-8 0-4 1-4 4-1 4 2 4 7 4zM492 864l12-5 4-3 6-8 2-8 0-8-3-8-3-4-4-4-6-3-12-2-8 0-12 3-12 7-7 7-3 8 1 8 1 4 4 6 8 7 8 3 12 1z"/>
<path fill="#4cff98" d="M860 941l-840 0 0-419 154-34 45-12 13-4 8-3 4-1 20 1 24-2 24-1 12-1 8-2 8-4 8-7 4-4 1-4-2-16-4-12-1-8 2-12 3-8 7-8 10-8 12-5 12-3 16-2 12 1 14 5 26 15 12 5 44 5 36 7 4 0 12-5 8-2 24 3 16-2 244-54zM610 496l14-4 7-4 5-4 5-8 1-4 1-8-2-8-2-4-7-8-12-7-8-2-8 0-8 2-8 3-7 4-4 4-3 4-4 8-1 12 5 12 3 4 7 5 12 4zM804 520l8-4 6-4 3-4 3-8-1-8-2-4-8-8-7-4-10-3-8-2-8 0-12 2-13 3-10 4-5 4-3 4-1 4 1 4 3 7 5 5 7 4 16 6 12 4 12 0zM766 568l4-4 0-4-1-4-5-3-4 1-4 2-2 4 0 4 2 4 4 1zM833 724l3-5 2-7 1-8 0-8-3-12-4-6-4-2-4 1-5 7-3 12 0 12 3 12 5 6 4 1zM583 784l9-1 8-4 4-3 6-8 2-5 0-7-3-8-5-6-8-5-12-3-8 0-8 2-16 6-4 0-8-7-4-1-6 2-3 4 1 6 4 4 12 3 2 3 5 12 7 8 10 6 8 2zM312 804l6-4 2-4-1-4-4-4-7-3-8 1-6 2-4 4-1 4 2 4 5 4 8 1zM498 864l6-3 7-5 3-4 3-8 1-8-2-8-4-7-4-5-7-4-5-2-12 0-12 2-8 3-8 4-5 5-5 8-1 4 1 8 3 8 7 7 8 5 12 3 12-1z"/>
<path fill="#64ff91" d="M860 940l-840 0 0-416 145-32 79-20 20 0 20-2 36 0 16-3 7-3 5-5 8-9 4-6-2-12-5-16-1-8 0-8 4-10 4-6 10-8 10-5 12-3 16-1 12 1 12 4 24 14 12 5 12 2 36 2 12 3 20 5 12-1 16-6 24 2 16-2 244-54zM616 496l8-3 8-4 6-5 3-4 2-4 2-8-2-12-3-6-4-6-4-3-8-5-8-3-8-1-12 2-8 3-8 5-8 9-3 5-2 8 1 12 4 8 4 5 4 4 8 4 12 2zM801 524l7-2 10-6 4-4 4-8 1-8-3-8-4-5-8-6-8-4-8-2-8-1-12 0-13 2-14 4-8 4-4 4-2 4 0 8 3 8 6 6 8 4 24 9 12 2zM761 572l7-2 5-6 1-4 0-4-3-4-3-2-4 0-4 0-4 2-4 4-2 8 2 4 4 3zM830 728l5-4 3-8 2-8 1-8-2-12-3-8-4-4-4-2-5 2-3 3-2 5-3 8 0 12 2 12 3 8 4 4 4 1zM593 784l7-3 7-5 3-4 4-8 0-8-1-4-5-8-4-4-12-6-12-2-12 1-16 6-4-1-8-5-4 0-4 0-4 3-2 4 0 4 1 4 5 4 9 4 3 3 7 13 5 5 8 5 8 3 12 1zM314 804l5-4 2-4 0-4-5-5-8-3-8 1-8 3-3 4-1 4 2 4 6 5 8 1zM487 868l13-3 8-4 4-4 4-5 3-8-1-12-2-8-3-4-3-4-6-4-8-3-8 0-8 1-12 3-8 3-6 4-4 4-3 4-3 8 1 8 1 4 5 8 5 5 12 5 8 2z"/>
<path fill="#7bff8a" d="M860 940l-840 0 0-414 132-29 92-22 24 0 12-2 40 2 12-1 12-4 4-2 5-4 13-20-1-12-6-16-1-8 0-8 3-8 6-8 5-4 8-4 12-4 16-1 12 2 12 5 20 11 12 5 12 1 40 3 12 2 12 4 12 2 8-2 16-5 8 0 16 2 20-3 41-10 87-18 112-26zM604 500l20-5 13-7 6-8 2-4 2-8-1-8-2-8-4-7-4-4-4-4-8-4-8-3-8-2-12 2-12 6-8 6-7 10-4 12 1 12 4 8 6 8 5 4 7 3 8 1zM795 528l13-3 8-3 7-6 6-8 2-8-2-8-4-8-9-8-9-4-11-3-8-1-12 0-16 3-12 3-8 4-6 6-2 4 0 4 2 8 5 8 5 4 32 14 12 2zM768 572l6-4 2-4 2-4 0-4-2-4-4-4-4-2-4 0-8 2-5 4-3 4-1 8 1 4 4 4 4 2 8 0zM833 728l3-4 4-8 1-8 0-12-2-12-3-7-4-4-4-1-4 1-3 3-5 8-2 12 0 12 2 10 4 8 4 4 4 1zM597 784l7-4 5-4 5-8 2-8-1-8-2-4-2-4-7-6-12-6-12-2-12 1-16 5-16-5-4 1-5 4-2 4 0 4 1 4 6 6 8 5 8 13 9 8 7 4 12 3 12 0zM317 804l4-4 2-4-1-4-3-4-7-4-8-1-8 2-6 3-3 4 0 4 1 4 4 4 4 2 4 1 8 0zM497 868l7-2 8-6 4-5 3-7 2-8-1-8-3-8-5-8-5-4-7-3-12-1-8 1-12 3-8 3-8 5-6 8-3 8 0 4 2 8 2 4 5 7 8 6 12 4 12 1zM466 892l-2-4-3 4 3 1z"/>
<path fill="#8cff81" d="M860 940l-840 0 0-412 120-25 100-25 12 0 12 2 20-3 36 2 16-1 12-3 8-5 5-6 11-20 1-4-2-12-7-20 0-8 1-4 3-5 8-7 8-4 8-3 16-1 12 2 12 5 16 10 8 3 8 1 48 2 12 3 16 4 8 2 12-1 12-4 8-1 15 2 5 3 8 1 35-12 25-7 88-18 61-15 43-9zM612 500l20-7 7-5 4-4 3-4 3-8-1-12-3-12-9-11-8-6-12-7-8-2-4 0-8 3-8 4-8 6-8 7-4 6-3 8-2 8 0 8 3 8 4 8 6 7 4 3 8 3 8 1 8 0zM794 532l10-2 12-4 9-6 6-8 3-8 0-8-3-8-6-8-9-6-8-4-12-3-12-1-16 1-16 4-12 4-6 5-3 4-1 4 0 8 4 8 6 7 8 6 28 14 8 2zM762 576l10-4 5-4 4-8 1-4-2-7-4-5-4-2-8 0-8 3-8 6-3 5-1 8 1 4 3 4 8 4zM618 660l-2-1-4 1zM831 732l5-5 4-7 2-12 1-12-2-12-4-8-5-5-4-1-5 2-3 2-3 6-4 12 0 12 1 12 6 12 4 4 4 1zM589 788l11-4 7-4 5-5 4-7 2-8-1-8-4-8-5-5-12-8-8-2-8-1-12 1-16 4-16-3-6 2-5 4-1 4-1 4 2 4 3 5 10 7 7 12 8 8 7 4 12 4 8 1zM308 808l8-2 7-6 1-4 0-4-3-4-5-4-4-1-8-1-8 2-7 4-3 4-1 4 3 6 4 3 4 2zM503 868l7-4 6-6 4-6 2-8 0-8-3-12-5-8-5-4-5-3-8-2-8-1-8 2-12 3-8 3-8 5-5 5-4 8-1 4 0 8 3 8 3 4 8 8 12 6 8 2 16-1zM467 896l4-4 0-4-3-3-4-1-4 1-3 3-1 4 4 4 4 1z"/>
<path fill="#96ff76" d="M860 940l-840 0 0-408 124-27 81-21 15-3 8 1 16 5 20-4 44 0 16-2 8-2 8-5 6-6 14-28 0-8-2-8-7-16 0-8 1-4 4-5 8-5 8-3 12-2 8 1 8 2 8 3 16 9 8 3 8 1 52 1 8 2 17 5 15 2 12 0 12-4 4 0 6 2 2 4 1 4-1 4-12 11-4 5-9 16-2 12 1 12 3 8 5 8 10 9 4 1 8 2 8 0 8-1 20-6 12-7 6-6 2-4 3-8-1-16-4-12-6-8-10-8-6-8-1-4 2-4 5-4 18-8 20-6 92-19 100-25zM769 576l7-4 7-8 3-8 0-12 2-4 24-8 12-6 8-7 4-6 2-5 1-4-1-8-3-8-3-4-4-5-8-6-12-6-8-2-12-1-12 0-16 3-20 6-8 5-4 6-1 4 2 8 3 8 4 6 8 7 19 11 3 4 0 4-14 8-8 8-3 8 1 8 3 4 3 3 4 2 8 1zM618 664l8-4-2-4-4-1-8-1-6 2-2 4 6 4zM834 732l5-8 3-8 2-12-1-12-1-8-3-8-3-5-4-3-4-1-4 1-4 4-5 8-3 12 0 16 2 12 6 11 4 3 4 1 4-1zM595 788l9-4 8-7 6-9 2-8-1-8-3-6-4-6-8-6-12-6-8-2-8 0-24 5-12-2-8 1-4 2-4 4-2 4 0 4 2 5 4 6 10 9 8 12 6 6 8 4 12 4 12 0zM313 808l8-4 3-4 2-4 0-4-2-3-4-4-8-3-8-1-8 1-4 2-5 4-3 4 0 4 1 4 3 4 4 2 8 3 8 0zM498 872l6-2 8-5 5-5 5-8 2-8-1-12-3-8-5-8-3-4-8-4-8-2-8-1-12 2-12 4-8 4-7 5-6 8-1 4-1 8 1 8 4 8 4 4 6 5 8 6 8 4 12-1zM471 896l3-4 0-4-2-6-4-2-4 1-4 1-4 3-2 3 0 4 2 4 4 3 4 0 4-1z"/>
<path fill="#a0ff6b" d="M860 940l-840 0 0-403 124-27 88-22 12-1 20 5 24-4 32-1 20-1 8-1 8-3 10-6 7-8 10-20 5-8 1-4 0-12-1-4-6-12-1-4 0-4 3-4 5-4 7-3 8-1 8 0 8 2 20 10 12 3 12 1 32-1 16 1 40 9 8 3 5 4 2 4 1 4-1 8-7 19-1 9 1 12 5 12 7 10 8 5 4 2 8 2 12-1 16-5 16-6 9-7 6-8 3-12-2-16-4-11-4-6-6-7-3-4-1-4 1-4 3-4 6-4 12-5 20-6 88-19 96-24zM761 580l11-3 7-5 8-8 8-16 4-4 21-9 8-5 7-6 5-8 2-4 2-8-3-12-4-8-4-4-13-10-8-4-12-3-12-1-12 0-16 3-16 4-12 6-5 5-2 4 1 8 2 8 4 8 8 9 17 11 2 4-2 4-9 8-7 8-3 8 1 8 5 7 4 3 8 2zM707 632l2-4-3-4-2-1-4 0-4 1-3 4 2 4 5 2 4 0zM626 664l5-4-1-4-10-4-12 1-7 3-2 4 4 4 5 2 8 0zM831 736l5-4 6-12 3-12 0-12-1-12-4-10-4-6-4-2-4-1-4 1-4 3-4 7-4 12-1 16 1 12 4 12 4 5 4 3 4 1zM582 792l10-1 12-5 8-6 6-8 3-8 0-8-2-8-7-10-8-6-8-5-8-2-8-1-12 1-16 4-16-1-4 0-6 4-3 4-2 4 1 8 2 4 11 12 9 13 8 7 8 4 12 4zM316 808l7-4 3-4 1-4 0-4-2-4-5-5-4-2-8-1-12 1-8 4-3 3-2 4-1 4 1 4 4 4 5 4 4 1 8 1zM469 900l5-4 3-4 1-12 6-2 16-4 8-3 9-7 3-4 4-8 2-12-2-8-2-8-5-8-3-4-10-6-8-2-8 0-12 2-12 4-12 6-4 4-6 8-1 4-1 8 2 12 6 8 14 12 1 4-9 8-2 4 0 5 1 3 3 3 4 2 4 0z"/>
<path fill="#aaff5f" d="M860 940l-840 0 0-399 124-27 84-21 12 0 20 3 8 0 24-3 52-3 12-3 8-3 8-6 5-6 6-8 8-16 8-12 2-12-4-16 0-4 3-4 4-2 8-1 8 1 16 7 8 2 12 0 36-2 16 0 31 7 11 4 8 8 3 8 0 8-4 16-1 12 3 12 5 12 8 9 8 6 8 2 12 0 24-7 14-6 10-7 6-9 2-12-1-16-3-12-9-16 1-4 2-4 6-5 12-5 16-5 88-19 92-24zM769 580l8-4 12-8 15-17 28-15 8-7 6-9 2-8 1-8-1-8-4-8-10-12-10-7-8-4-12-4-12-1-12 0-12 1-16 4-12 3-12 7-4 5-1 4 0 8 7 16 6 8 15 12 2 4-2 4-7 8-6 8-2 8 1 8 5 8 6 4 8 2 8-1zM707 636l5-4 1-4-2-4-7-4-4 0-4 1-5 3-2 4 1 4 2 2 4 2 4 1zM619 668l13-4 5-4-1-4-7-4-13-2-12 1-8 5-1 4 2 4 3 1 8 3zM835 736l5-8 5-12 2-12-1-12-2-12-4-10-4-5-4-2-4-1-4 2-4 3-6 9-4 16 0 16 3 16 3 6 4 6 4 2 4 1 4-1zM593 792l7-2 9-6 8-8 4-8 2-8-1-8-3-8-7-8-8-7-8-4-8-2-8-1-12 1-16 3-16 0-8 3-4 3-3 4-1 4 1 8 3 6 20 27 11 7 13 5 12 1zM319 808l6-4 3-4 1-4 0-4-1-4-4-4-4-3-12-3-12 2-8 4-5 4-2 4 0 4 1 4 3 4 7 5 12 2 8-1zM473 900l4-4 5-12 2-2 3-2 17-5 8-4 8-7 4-6 2-6 1-8 0-8-2-8-3-8-6-8-5-4-7-3-8-2-12 1-12 3-12 4-8 4-6 5-3 4-4 8-1 8 3 12 5 8 11 12 0 4-5 7-2 5 0 4 1 4 3 4 6 3 8-1z"/>
<path fill="#b4ff54" d="M860 940l-840 0 0-394 124-27 68-17 16-3 12-1 28 2 28-3 20-1 28 0 12-2 12-7 17-15 9-12 9-16 9-12 4-11 4-5 8-3 64-6 16 0 12 2 20 6 4 1 5 4 6 8 2 8 0 8-3 12 0 12 2 12 5 12 7 10 4 3 8 5 8 3 12-1 40-15 8-5 7-8 4-12 0-20-3-12-6-16 2-4 8-6 12-6 12-3 88-19 88-23zM760 584l8-2 8-3 13-7 19-13 26-11 10-8 6-8 3-8 2-8 0-12-2-8-4-8-6-8-9-8-10-6-12-5-12-3-12-1-16 1-20 4-16 5-8 5-5 4-2 4-1 8 8 21 5 7 13 12 1 4-1 4-11 16-2 8 1 8 5 8 5 5 8 3zM712 636l3-4 1-4-1-4-4-4-7-2-8 0-4 2-5 4-1 4 1 4 5 5 8 2 4 0zM627 668l11-4 4-4-1-4-9-5-8-2-8-1-8 1-8 2-8 5-1 4 2 4 7 4 12 2zM833 740l3-3 4-5 5-12 3-12 0-16-1-12-5-12-6-6-4-2-4-1-4 2-4 3-4 6-3 6-4 12-1 16 3 16 5 13 4 5 4 3 4 0zM598 792l10-5 8-7 5-8 4-12-1-8-3-8-5-7-8-7-8-5-8-4-8-1-8-1-8 1-16 4-20 2-4 1-6 5-3 8 0 4 2 8 16 24 7 8 12 7 16 4 12 0zM308 812l12-3 8-7 3-6 0-4-3-7-4-3-4-2-12-3-12 2-10 5-4 4-2 4-1 4 1 4 3 4 9 6 8 2zM469 904l8-4 11-16 20-8 8-4 7-8 4-8 2-8 0-8-4-16-7-12-4-4-6-3-8-3-8 0-12 1-12 4-12 5-7 4-4 4-6 8-2 8 1 12 3 8 12 16 0 4-5 12-1 4 2 4 2 4 5 3 8 2z"/>
<path fill="#bfff49" d="M860 940l-840 0 0-390 128-27 76-18 16-2 28 1 32-1 32 0 16-1 8-1 8-4 8-5 25-24 13-16 7-12 15-17 4-3 12-4 21-4 23-3 16 0 16 3 14 4 6 4 6 8 3 8 1 8-3 16 1 12 2 8 6 16 8 10 8 6 4 2 8 3 8-1 44-16 8-4 8-8 5-8 2-12-1-20-2-24 1-4 7-4 9-4 15-4 88-18 80-23 0 129-5-8-6-8-14-12-11-6-8-3-12-4-8-1-12 0-12 2-16 3-16 4-8 3-9 6-4 4-2 4 0 4 2 8 8 20 5 7 9 9 2 4-1 4-9 16-2 8 0 4 2 8 3 4 4 5 6 3 10 2 12-2 36-15 12-3 20-3 11-3 7-4 6-6zM708 640l7-4 3-4 1-4-1-4-3-4-3-2-8-2-8 0-8 4-4 4-1 4 1 4 4 5 8 4 8 0zM633 668l9-4 4-4 0-4-6-4-16-5-12-1-12 3-8 4-3 3-1 4 1 4 6 4 9 3 12 1zM836 740l6-8 5-12 3-16 0-16-3-16-4-8-7-6-4-2-4 0-4 2-4 3-4 5-4 9-4 17-1 16 2 12 3 8 4 8 4 4 4 3 4 1 4-1zM590 796l10-3 9-5 9-8 5-8 4-12-1-8-3-8-7-10-8-7-8-5-12-4-8-1-12 1-20 4-12 2-8 2-4 3-5 7-2 4 1 8 4 8 12 20 6 7 12 8 12 5 12 1zM315 812l5-2 8-5 4-5 1-4-1-8-2-4-4-4-10-4-8 0-8 0-12 5-5 3-3 4-2 4 0 4 1 4 2 4 4 4 7 3 8 2 8 0zM474 904l6-4 8-11 4-3 20-9 8-5 7-8 3-8 1-8 0-8-1-8-5-12-4-8-4-4-9-5-8-2-12 0-12 2-16 6-8 4-9 7-6 8-1 4-1 8 2 12 13 20 0 4-4 12 0 8 6 7 8 3 8 0z"/>
<path fill="#c9ff3d" d="M860 940l-840 0 0-385 128-28 64-15 16-3 16-1 16 0 24 3 28-1 36 0 8-2 12-6 25-22 28-20 3-4 2-4 3-12 2-4 3-4 10-8 8-4 13-4 19-4 12-1 16 1 16 3 8 3 7 6 5 8 2 8-1 24 0 8 2 8 6 16 7 11 12 10 4 2 8 2 8-1 24-11 26-9 7-4 8-8 4-8 2-8-1-12 2-28 2-8 3-4 8-4 15-4 56-11 32-7 76-23 0 114-13-13-19-12-16-6-20-3-12 0-16 3-28 8-8 3-8 5-6 6-1 4 2 8 10 24 3 5 9 11 1 4 0 4-8 16-1 12 2 8 2 4 7 7 8 4 12 1 8-2 28-10 16-2 12 1 36 6zM713 640l5-4 2-4 1-4 0-4-3-4-5-4-9-2-8 0-8 3-4 3-3 4-1 4 1 4 2 4 5 4 4 2 8 1 8-1zM625 672l14-4 8-4 3-4 0-4-3-4-10-4-9-2-12-2-12 1-8 3-7 4-4 4 0 4 1 4 4 4 6 3 12 3 8-1zM835 744l7-8 6-12 4-16 1-20-2-16-3-8-3-4-5-5-4-2-4-1-4 1-4 1-4 4-7 10-3 8-3 12-1 16 0 8 3 12 3 8 4 7 4 4 4 3 4 0zM597 796l11-5 9-7 6-8 5-12 1-8-2-8-7-12-8-8-8-6-8-4-8-3-12-1-8 1-20 5-16 3-8 4-4 4-3 5-1 4 1 8 1 4 14 26 8 9 12 7 16 4 16 1zM319 812l8-4 4-4 3-4 1-4 0-8-1-4-2-4-4-3-12-3-8 0-8 1-12 4-7 5-3 4-2 4 1 8 3 5 8 6 8 3 8 1 8-1zM469 908l7-2 4-3 10-11 5-4 26-12 4-4 5-8 3-8 1-8-1-8-3-12-7-16-3-4-8-6-8-2-12-1-12 2-16 5-12 5-7 5-4 4-6 8-2 8 1 12 3 8 10 16 0 4-4 12 1 8 4 6 8 5 8 2z"/>
<path fill="#d3ff32" d="M860 940l-840 0 0-381 72-16 68-13 64-15 28-2 12 1 20 2 36 0 28 2 8-2 12-6 24-22 8-6 12-6 22-8 6-4 2-4 0-4-2-12 1-8 8-8 11-6 8-3 12-3 16-3 16 1 12 2 8 3 6 5 6 8 2 8 1 32 5 20 3 8 9 12 8 8 12 6 8 1 8-3 20-12 32-12 10-8 6-8 3-8 0-8-1-8 3-16 2-8 5-8 5-4 11-5 12-3 52-7 16-3 16-6 27-12 11-4 30-9 0 101-20-14-16-9-16-5-16-1-12 1-16 2-16 4-16 6-16 8-4 4-3 4-1 4 1 4 9 16 6 16 8 12 2 4 0 4-8 20 0 8 2 8 2 4 6 7 8 6 4 1 8 1 8-2 20-7 12-3 8 0 9 1 13 4 15 8 11 8 8 10 0 40-4 3-4-1-12-4-8-1-8 3-4 4-4 6-6 12-5 16-1 12 1 12 1 8 6 16 4 6 4 4 4 2 4 1 4-1 4-2 4-3 7-11 7-20 6-28zM707 644l9-4 4-4 3-4 1-4 0-4-4-6-8-5-12-1-12 3-7 5-3 4-1 4 1 4 1 4 4 4 9 4 8 1zM632 672l12-4 7-4 4-4 0-4-3-4-7-4-9-3-12-2-12 0-12 1-8 3-7 5-3 4-1 4 3 6 4 4 8 3 8 2 8 0zM588 800l12-3 12-7 8-7 7-11 3-12 0-8-5-12-9-11-8-7-12-7-8-3-8-1-16 2-32 8-8 4-4 3-5 8 0 4 0 8 3 8 10 21 8 11 8 5 16 6 16 2zM323 812l7-4 7-8 1-4 3-16 11-8 2-4-2-4-4-3-4-1-4 0-7 4-5 5-4 1-16 1-16 4-9 5-4 4-3 4-2 4 1 8 5 8 8 5 8 2 8 1 12-1zM477 908l6-4 13-12 25-12 6-4 4-4 3-8 2-8 0-8-1-12-3-8-4-12-4-7-5-5-7-4-8-2-12 0-12 2-20 7-8 3-9 6-8 8-3 8-1 8 1 8 2 8 9 16 1 4-3 12 0 4 3 8 3 4 5 4 8 2 8 1z"/>
<path fill="#ddff26" d="M860 940l-840 0 0-373 80-18 88-15 64-15 12 0 20 3 36 0 28 3 8-1 4-1 8-5 24-23 12-8 12-5 28-4 8-2 4-4 2-4 1-8-7-20-1-4 2-4 5-4 7-4 10-4 9-3 16-2 12 0 12 3 5 2 9 8 4 8 2 8 0 24 1 12 5 16 3 8 7 10 12 12 12 8 4 1 4 0 8-5 12-10 6-4 10-5 20-6 8-3 8-5 5-5 6-8 3-8 0-8-2-8 0-4 4-11 4-7 8-7 8-3 16-4 52-5 16-3 12-5 36-20 28-11 0 88-24-14-16-8-16-4-16 0-12 1-16 4-24 7-12 5-16 9-4 4-3 4 0 4 2 4 9 10 4 6 5 16 9 16-1 8-5 16-1 8 4 12 6 8 7 6 4 1 8 2 12-2 20-6 8-2 8 0 8 1 10 4 12 8 7 8 6 12 2 8-2 8-4 4-11 7-8 6-8 13-7 22-2 12-1 8 3 16 5 16 5 8 5 5 4 3 4 0 4 0 4-2 6-6 8-12 10-22zM712 644l7-4 4-4 4-8-1-4-1-4-5-5-5-3-7-2-12 0-12 5-6 5-3 4-1 8 1 4 5 6 8 3 8 2 8-1zM622 676l22-6 12-6 3-4 1-4-2-4-10-6-12-3-12-2-12-1-12 2-8 3-8 5-5 6-1 4 2 5 4 5 8 5 12 2 8 0zM596 800l8-3 8-5 10-8 7-12 3-12 0-8-3-8-8-12-9-10-12-9-8-3-8-2-8 0-12 2-32 9-8 4-6 5-5 8 0 12 3 9 8 18 4 8 4 6 4 3 8 5 20 5 16 1zM317 816l7-2 10-6 6-8 5-12 3-4 10-8 2-4 0-4-2-4-6-6-8-2-8 1-8 3-8 5-28 8-12 7-6 8-2 8 1 4 1 4 4 4 5 4 5 2 12 3 8 1zM475 912l9-4 13-12 5-4 27-12 5-4 4-8 1-8 0-12-1-8-3-12-8-20-3-4-8-5-12-3-12 0-12 3-20 6-12 6-7 5-8 8-4 8-1 8 1 8 3 8 8 16 0 4-1 16 2 8 7 8 8 4 8 1z"/>
<path fill="#e7ff1b" d="M860 461l-28-16-12-6-12-3-20-4 33-24 11-7 12-7 16-6zM860 940l-840 0 0-365 88-20 96-13 16-4 28-12 12-2 8 0 20 3 28 1 16 1 9 3 12 8 12 4 3-1 1-3 2-16 21-23 8-6 8-4 8-2 36-3 7-2 5-4 4-8 1-12-1-8-6-16 1-4 4-4 7-4 10-4 12-2 12-1 12 2 8 4 6 5 4 8 3 8 1 32 4 20 3 8 7 12 8 11 16 15 8 4 4 1 4-2 17-21 11-8 38-12 6-4 12-10 8-4 4 0 8 3 8 5 5 6 3 7 4 13 5 12 0 8-4 16 0 8 3 12 8 11 8 6 4 2 8 1 8-1 28-9 8 0 8 1 8 4 8 5 6 8 5 8 1 8-1 8-5 8-10 13-5 11-6 16-4 20 0 16 4 16 5 12 6 10 4 3 4 2 8 1 8-5 7-7 13-18zM700 464l-8 2-4-2-3-4-2-4 5-8 3-4 9-6 12-3 16-2 20 0 18 3-2 1-1 3-7 2-24 8zM704 648l12-4 6-4 3-4 4-8 0-4-1-4-2-4-5-4-5-3-12-2-8 1-8 2-10 6-4 4-4 8 1 8 1 4 4 4 8 3 8 1zM439 656l-3-6-4-6-16-17-1 1 1 2 4 8 12 18 4 3zM630 676l18-5 12-7 3-4 2-4-1-5-3-3-5-2-12-4-20-4-12 0-8 1-12 3-10 6-4 4-2 4-1 4 1 4 2 4 6 5 8 5 8 2 8 0 12-2zM477 916l7-2 4-2 10-12 10-8 8-3 20-7 3-2 3-4 1-12-1-16-2-12-7-24-3-12 2-1 4 0 32 6 12 0 8-1 12-3 12-6 8-7 7-8 7-16 1-8-2-8-4-8-9-13-12-12-8-6-12-5-8 0-8 1-40 12-12 6-5 5-2 4-2 4 0 8 3 12 11 32 1 4-2 3-24-1-8 1-12 3-20 6-12 6-10 6-8 8-4 8-1 12 3 12 7 16 1 4 0 16 2 8 6 8 8 6 12 3zM324 816l8-4 6-4 4-4 8-12 10-8 4-6 1-6-2-8-3-4-8-5-8-2-12 2-40 16-12 6-7 7-2 4-2 8 3 8 4 5 8 6 8 3 12 1 12 0z"/>
<path fill="#f1ff10" d="M860 452l-44-24 6-8 14-12 12-7 12-5zM860 940l-840 0 0-357 68-16 28-5 28-4 48-2 16-2 8-2 8-4 28-16 12-3 24 3 28 1 8 1 5 2 27 16 8 3 8 0 4-2 3-5 2-8 1-16 1-4 10-12 8-8 7-4 12-2 36-1 8-3 4-3 5-7 3-12 0-12-3-16 0-8 3-4 6-4 14-4 12-1 8 1 9 4 8 8 3 8 2 8 1 32 3 16 4 12 6 12 12 16 12 13 12 9 4 1 4 0 4-2 4-6 8-19 6-8 6-5 12-4 29-7 9-4 14-8 4-2 8 0 4 2 4 3 4 5 4 16 4 12 1 8-3 20 1 12 5 10 8 10 8 6 4 1 8 0 8-1 24-8 8-1 8 1 6 2 6 4 7 8 4 8 1 8-1 8-11 23-10 29-4 16 0 16 4 16 7 16 7 11 8 5 4 1 8-2 8-5 12-11 4-2zM704 452l-1 0 2 0zM220 628l8-3 4-3 8-8 6-10 2-12-1-8-7-9-8-6-4-2-8-1-8 1-4 2-8 7-4 6-2 6-2 12 3 12 5 9 8 6 4 1zM452 672l0-4-2-8-10-16-44-55-8-7-4-2-3 4 0 4 2 8 5 11 22 29 18 26 8 8 8 5 4 1zM622 680l22-6 14-6 6-4 4-4 4-6 4-3 28-1 8-3 7-3 5-4 6-8 3-8-2-8-7-7-8-3-12-1-12 2-13 5-9 8-5 8-1 9-3 3-9 0-28-5-8 0-12 1-8 1-8 4-8 6-5 5-2 4-1 4 1 4 3 6 8 8 8 4 8 1 12-1zM495 924l1-2 2-10 3-8 7-8 12-6 24-4 4-1 3-5 0-8-5-24-8-28-1-8 2-4 1-1 4-1 24 2 12 0 12-2 8-3 12-6 8-6 7-7 6-12 3-8 1-8-3-12-6-10-12-15-12-12-8-6-8-2-4 0-12 2-44 14-9 5-5 4-3 4-2 4 0 8 1 12 8 28 1 4-1 4-6 3-16 2-12 2-32 11-17 10-5 4-6 8-3 8 0 12 2 8 8 20 1 16 2 8 4 8 6 6 4 2 12 5 24 5 8-1zM321 820l7-2 8-4 9-6 19-17 4-7 2-8-2-8-5-8-4-4-7-4-8-2-12 1-25 9-19 9-8 5-7 6-5 8-2 8 2 8 4 5 8 7 8 3 12 3 12 0z"/>
<path fill="#fbff04" d="M860 443l-12-7-15-12 7-8 5-4 15-8zM860 940l-293 0 9-5 8-7 4-8 0-8-6-12-18-23-8-14-12-37-1-6 0-4 1-2 4-3 32-1 8-1 12-4 16-8 8-7 5-6 5-8 5-12 1-8-2-8-6-12-27-36-2-4 0-4 5-4 48-17 7-3 17-13 28-5 8-3 8-5 6-6 5-8 2-8-2-8-3-6-12-3-12-1-16 2-16 7-13 9-7 10-4 2-8 0-20-3-20 1-4 1-8 4-12 8-8 9-3 8 2 8 12 16 1 4-4 4-18 8-44 16-7 4-3 4-2 4-1 8 2 12 7 28 0 4-1 4-1 2-4 2-24 6-32 11-21 11-10 8-4 8-2 12 2 12 7 20 3 20 2 8 6 12 9 10 12 9 10 5-446 0 0-349 68-16 28-5 32-3 16-1 8 1 2 1-4 12-1 8 0 12 3 19 4 13 5 8 8 8 7 3 4 1 8-1 12-4 8-5 8-7 12-15 6-12 2-12 0-12-8-16-10-16 14-12 8-4 4-1 48 4 12 4 12 6 20 12 8 7 4 7 8 21 6 12 6 8 17 20 19 28 8 9 12 10 8 5 4 1 4 0 3-5 0-4-2-8-5-12-11-16-30-36-16-24-10-16-2-8 0-4 3-20 1-16 9-12 4-4 4-2 8-2 8 0 32 0 8-3 8-5 6-8 2-8 1-20 0-20 1-4 2-4 8-4 4-1 12-1 10 2 6 3 5 5 3 6 2 6 1 8 1 28 2 16 3 12 5 12 10 15 16 20 12 13 12 9 4 2 4-1 4-5 6-33 3-8 7-9 8-4 8-2 28-4 12-2 16-10 4-1 4 1 4 5 1 6 1 8 6 16-2 24 1 8 2 8 4 8 11 18 8 2 12-1 8-2 20-8 12-1 8 1 4 2 6 5 3 4 3 8 1 12-21 72-2 12 1 8 3 12 8 20 6 9 8 7 4 2 8 1 8-2 12-5 8-1zM325 824l11-3 24-9 8-6 4-7 2-15 0-8-2-8-6-8-4-4-10-6-8-2-12 1-14 3-18 6-16 8-8 6-8 8-5 8-1 8 1 8 6 8 7 6 12 5 12 3 12 0zM732 764l0-4-8-10-4 0-2 6 0 4 2 4 4 3 4 0zM540 924l-8 3-8 0-4-1-8-4-4-3-3-7 0-4 1-4 3-4 7-5 12-4 12 1 8 4 4 4 1 4 1 4-1 4-5 7z"/>
<path fill="#fffa00" d="M860 431l-9-7-2-4 11-7zM388 940l-368 0 0-340 12-2 3-2 13-2 4-2 51-12 29-4 8 20 3 12 1 8-2 36 1 12 3 8 4 8 6 6 6 2 6 1 12 0 12-3 8-4 16-12 12-12 12-13 8-11 8-13 5-13 1-16-1-8-8-32 1-4 10-6 8-1 12 1 24 4 12 3 12 6 12 7 9 6 7 8 12 24 7 12 24 28 25 34 12 12 12 9 12 7 8 2 4-4 0-4-3-12-7-16-13-20-28-32-14-20-13-24-2-8-1-8 5-20 1-16 1-4 2-2 4-4 4-2 8-2 40-1 8-3 8-5 5-5 3-8 1-12 2-32 2-8 5-4 6-2 4-1 8 1 6 2 6 4 4 5 3 7 1 8 1 28 1 20 3 12 3 8 8 14 29 38 10 16 7 16 1 12-5 12-18 19-5 9-1 8 7 16 1 4-2 4-4 4-15 8-17 6-28 8-5 2-4 4 0 8 11 44 0 8-2 4-8 3-20 7-38 14-23 12-9 8-4 8 0 8 0 8 5 24-1 12-2 9-14 27-2 8-1 8zM656 616l-8 1-8-4-8-8-6-9-4-12-5-20 0-16 3-12 4-7 4-4 4-2 8-3 24-1 32 3 8 7 5 7 2 8-1 16 1 8 7 24-2 4-28 6zM860 940l-58 0 2-4 2-4 0-4-4-8-7-8-13-12-22-17-12-7-8-2-8-1-12 1-34 6-10 4-20 11-12 4-12 1-12-2-16-7-24-16-12-10-7-9-4-8-7-20-1-4 1-4 2-2 3-2 21-2 12-2 12-4 12-6 9-6 8-8 6-8 4-8 3-12 0-8-5-12-21-32-3-8 0-4 2-4 4-4 8-4 33-12 24-15 24-5 12-5 8-6 5-5 5-8 6-13 3-3 25-13 12-4 8 0 4 0 8 5 6 8 2 8 0 8-5 20-5 24-14 40 0 8 2 8 14 32 5 8 7 8 4 3 8 3 20 2 12 6zM744 784l4-4 1-4 1-4-1-4-16-16-5-9-4-3-4 1-4 3-4 4-3 8 0 8 3 7 8 9 8 5 8 2 4-1zM335 856l9-3 8-4 16-11 12-13 3-5 1-8 0-8-6-28-6-12-7-8-5-4-8-5-8-1-16 1-20 4-17 5-11 5-11 7-8 8-7 12-1 8 1 8 2 4 2 4 6 8 8 7 21 13 11 11 4 3 8 3 8 1zM528 921l-8-1-6-4-3-4-1-4 1-4 3-4 6-4 8-1 8 1 7 4 2 4 0 4-1 4-4 4-4 3z"/>
<path fill="#fff100" d="M532 704l-12 2-12 0-8-1-8-6-6-7-11-20-11-16-35-40-12-16-11-20-2-8-2-8 2-12 7-16 4-16 2-4 11-4 28-1 8-1 12-5 8-7 4-6 1-4 2-32 2-16 2-4 4-4 5-2 4 0 8 1 4 3 5 6 4 8 1 12-1 44 1 8 3 8 7 12 21 28 13 20 7 16 3 12 0 12-2 8-5 8-10 12-4 8 0 8 4 12 1 4-1 4-3 5-10 7-10 4zM672 605l-12 3-8-1-4-2-10-9-5-8-5-8-3-8-3-12 0-16 3-8 2-4 4-4 5-3 8-1 8-1 12 2 14 3 10 3 8 4 4 4 3 5 6 36 0 8-2 4-3 1zM424 813l-8 2-8 1-4-1-4-3-7-8-4-8-10-24-4-8-11-12-12-6-8-2-12 0-56 8-16 0-12-2-8-4-7-6-7-8-4-8-2-8 0-8 1-8 2-8 7-16 27-44 8-16 2-8 0-8-3-24-1-12 2-8 3-4 4-3 12 0 16 2 12 3 20 8 14 10 10 11 17 29 27 30 20 28 8 10 12 12 12 10 36 23 8 9 6 14 4 16 0 12-2 5-3 3-10 4zM648 880l-16 2-12-1-12-4-20-9-12-8-8-7-8-13-2-8-1-4 2-4 5-3 28-7 12-5 12-7 8-6 8-8 6-8 5-8 3-12-1-8-6-12-17-28-2-8 0-8 3-4 4-4 8-4 29-12 22-12 22-6 13-6 11-8 20-23 17-13 7-4 8-2 4-1 8 2 4 3 4 4 3 6 0 4 0 8-4 16-1 20-2 8-4 12-15 28-3 12 0 4 10 12 3 8 0 8-3 10-4 4-4 2-8-1-8-1-12-4-12-7-6-7-2-8-2-4-6-1-4 1-6 4-5 4-5 8-3 8 1 8 5 12 14 20 6 12 2 12-2 8-5 8-3 4-7 6-8 6-40 18zM536 912l-4 3-4 1-8-2-4-3-1-3 0-4 5-4 4-2 8 1 3 1 3 4 1 4z"/>
<path fill="#ffe800" d="M532 701l-12 1-8-1-8-3-8-7-27-35-33-36-12-15-10-17-3-8-2-8-1-8 4-11 15-25 4-4 9-4 24-4 15-4 8-4 4-4 4-12 0-28 1-13 4-11 4-3 4-2 4 1 4 1 4 3 4 7 2 5 0 20-4 32 0 8 1 4 7 12 25 32 10 16 9 20 3 16-1 12-2 8-10 16-4 8 0 8 3 12 0 4-2 4-2 4-7 5-8 4zM672 601l-12 1-8-3-8-7-4-4-7-12-6-16-1-12 2-8 2-4 6-6 4-1 8-1 16 3 12 4 10 5 6 5 4 5 2 6 3 12 1 8-1 8-2 4-5 4-8 4zM432 808l-8 2-8 1-8-2-4-3-7-6-5-8-12-24-5-8-9-8-10-7-8-2-8-1-44 1-12 0-8-2-8-3-8-4-7-6-7-8-4-8-3-8-1-8 1-8 3-12 4-12 20-36 5-12 2-8 0-8-4-16-1-8 1-8 2-4 5-5 4-1 8-1 20 2 16 6 16 11 8 8 19 28 29 31 21 29 11 13 20 19 16 12 20 13 8 7 3 4 5 12 3 12 0 8-1 4-2 4-5 4-27 12zM648 868l-12 2-8 0-12-2-12-4-12-5-12-8-7-7-4-8 0-4 2-4 1-1 5-3 27-11 12-7 8-6 12-12 6-8 5-8 2-8 0-8-4-12-13-20-5-12-2-8 2-8 2-4 5-4 7-4 23-9 24-13 24-8 12-6 10-8 14-13 12-9 16-14 8-3 4-1 8 3 4 5 3 8-1 8-4 12 1 20-1 12-4 12-5 8-23 32 0 4 14 10 4 6 2 4-1 4-2 4-7 6-8 2-12 0-8-3-8-5-3-4-1-4 0-4 1-8-1-1-4-1-12 3-12 7-10 12-3 8-1 4 0 4 2 8 9 20 4 12 1 12-4 12-10 12-11 8-21 11zM528 910l-4-1-2-1 1-4 5-1 2 1 1 4z"/>
<path fill="#ffdf00" d="M512 494l-4 0-4-5-4-13-1-12 1-8 3-8 5-5 4 0 4 1 4 5 2 7 0 8-2 16-4 10zM536 696l-8 1-8 0-8-2-8-6-21-25-47-49-8-9-6-10-7-16-1-8 0-8 3-8 5-8 10-13 8-7 8-4 12-2 40-7 4 0 4 1 8 7 24 26 12 15 8 12 7 16 3 12 1 12-1 12-3 8-7 12-4 8 0 8 2 12 0 4-2 4-3 4-5 3zM672 596l-8 1-4-1-8-4-8-8-8-12-4-12-1-12 3-8 2-3 4-3 4-1 8 0 12 4 13 7 7 6 5 6 3 8 2 8-1 8-1 4-3 4-6 4zM440 804l-12 3-8 0-8-1-8-5-5-5-6-8-10-20-6-8-9-9-11-7-13-4-40-1-18-3-9-4-7-4-8-8-6-7-4-9-3-8 0-8 0-8 2-8 4-12 17-32 6-16 2-12-7-16 0-4 2-8 5-6 4-1 8-1 16 2 16 7 11 7 7 8 15 20 7 8 31 32 21 28 14 16 18 16 36 26 8 8 5 10 3 12-1 8-1 4-3 4-5 4-16 8zM636 860l-16-1-16-5-8-4-8-6-3-4-1-4 0-4 3-4 29-18 17-14 14-16 7-12 0-8-2-8-17-28-4-12-1-8 3-8 7-7 8-5 40-19 24-9 8-3 8-6 20-16 19-11 10-12 7-4 4 0 4 2 4 4 1 6-1 7-4 9 0 4 4 16 1 8-2 12-6 12-13 15-20 18-8 5-20 4-12 5-13 9-8 8-7 12-2 8 2 8 9 24 1 8-1 12-3 8-10 12-12 8-20 9zM768 757l-12 1-8-3-4-2-5-5-1-4 1-4 2-4 7-6 8-2 12 3 8 4 4 5 2 4-1 4-5 6z"/>
<path fill="#ffd700" d="M512 474l-4-2-1-8 1-8 4-3 3 3 1 3 0 5 0 4zM536 692l-12 1-5-1-7-4-21-24-23-21-28-28-8-9-7-10-4-8-2-8-1-8 2-8 4-8 8-12 7-8 5-4 12-5 16-2 20-1 12 3 12 6 16 14 12 13 11 16 6 12 3 12 2 12 0 12-4 12-8 16-2 4 0 8 2 12-1 4-3 4-4 4zM676 589l-8 2-8-2-8-4-8-9-5-8-3-12 1-8 1-4 5-4 5-2 4 1 8 2 11 7 8 8 4 8 2 8 0 4-1 4-2 4zM432 804l-8 1-8-2-4-1-8-6-8-9-11-19-5-8-8-8-12-8-8-4-8-2-36-3-16-3-8-4-8-5-7-7-6-8-4-8-3-12 0-8 3-12 4-12 15-28 8-20 3-4 6-8-1-4-2-2-8-3-4-3-1-4 2-4 7-2 20 1 12 3 9 6 8 8 13 16 7 8 23 21 12 12 24 31 14 16 18 16 36 27 8 9 4 12 0 8-2 8-3 4-12 8-11 5-24 8zM648 849l-16 2-12-2-13-5-5-4-2-4-1-4 2-4 4-4 33-28 20-20 6-8 0-4-2-4-21-32-6-12-1-8 1-4 3-8 6-6 10-6 38-18 28-11 28-21 8-4 19-6 3-4 1-4 3-4 2-1 4-1 2 2 0 4-2 5-2 3-2 4 1 4 7 16 2 12-2 12-3 8-9 10-24 20-12 7-24 9-11 6-16 12-15 16-3 4-1 4 1 4 9 18 3 10 1 12-2 8-5 8-9 9-12 8zM760 756l-8-1-4-2-6-5-2-4 1-4 3-4 4-2 8-2 8 0 8 3 5 5 1 4 0 4-4 4-6 3z"/>
<path fill="#ffce00" d="M536 688l-8 1-4-1-7-4-12-16-29-23-24-22-15-15-8-12-4-8-2-8 1-12 3-8 8-12 7-8 6-4 12-5 12-1 16 0 16 4 12 6 12 9 12 12 10 15 6 12 4 12 1 12 0 12-3 12-10 20-1 4 2 16-2 4-3 4zM672 581l-4 2-4 0-4-1-8-5-4-5-4-7-2-5 1-8 2-4 3-2 4 0 4 0 8 5 5 5 5 8 2 8-1 4zM444 800l-12 2-8 1-12-4-8-6-4-5-15-24-5-6-8-8-8-6-8-4-8-3-36-4-16-5-14-8-6-6-5-6-5-8-3-12 0-12 2-12 5-12 14-24 9-20 9-12 2-5 4-5 4-1 4 0 7 3 5 3 21 25 27 22 12 12 28 35 14 15 13 12 27 20 14 12 4 5 4 7 1 8-1 8-2 4-8 8-14 8zM672 752l-4 0-4-2-4-3-8-8-10-15-3-8 0-8 2-8 3-4 8-7 8-5 32-16 28-11 24-18 8-4 8-3 8-1 8 2 4 3 9 12 2 4 1 8-2 12-2 5-5 7-11 10-24 16-36 17-8 5-24 17zM768 753l-8 2-8-2-3-1-5-4-2-4 2-4 4-4 8-2 8 0 4 2 6 4 2 4-1 4zM644 840l-12 1-6-1-6-3-5-5 0-4 1-4 11-12 25-21 8-4 4-1 4 1 5 5 4 8 1 8-2 9-4 7-8 8-8 4z"/>
<path fill="#ffc500" d="M540 680l-4 3-4 1-4-1-4-2-4-5-2-8-3-4-23-13-16-11-28-25-13-15-5-8-2-8 0-12 2-8 5-8 6-8 7-6 8-5 12-2 16 0 16 3 12 5 12 8 12 11 8 10 6 12 4 8 2 12 1 12-3 16-3 8-10 16-1 4 2 12 0 4zM660 569l-4-1-2-4-1-4 3-2 4 2 2 4 0 4zM436 800l-8 1-8-1-4-2-8-5-8-9-16-24-8-9-12-9-8-4-8-2-32-6-16-5-14-9-11-12-4-8-3-12 0-8 2-12 7-16 15-24 8-20 4-6 4-3 4-2 4 0 7 3 19 20 34 27 16 16 20 25 14 16 13 12 27 20 18 20 4 8 1 8-3 8-3 4-11 8-7 4-17 6zM676 745l-8 0-8-4-8-8-6-9-3-8 0-8 3-8 4-4 6-6 10-6 24-12 30-13 24-18 8-4 8-2 8 0 8 3 4 3 4 4 4 7 2 8-1 8-1 4-4 7-4 5-8 6-28 18-32 16-28 17zM764 753l-8 0-8-3-2-2-1-4 1-4 6-4 4-1 8 1 4 2 3 2 2 4-1 4-4 3zM644 828l-8 0-4-4 1-4 2-4 5-6 8-6 8-3 4 1 3 2 1 4 0 4-1 4-3 4-5 4-7 4z"/>
<path fill="#ffbc00" d="M532 653l-8 2-8-1-12-3-12-5-8-5-12-9-20-18-12-13-4-6-3-7-2-12 2-8 4-8 11-13 8-5 12-3 12 0 12 3 12 3 12 5 12 9 8 9 9 12 5 12 3 12 0 12-2 12-3 8-8 11zM448 796l-16 3-8 0-8-3-6-4-6-6-18-26-7-8-11-9-8-5-8-3-32-7-13-4-14-8-12-12-5-8-2-8-1-8 1-12 6-16 19-28 2-4 3-16 4-3 4-1 4 1 5 3 11 12 40 27 16 15 24 30 15 16 14 12 19 14 10 10 13 20 1 4 0 8-5 8-10 8-8 4zM684 736l-8 3-8 0-8-4-7-7-4-8-2-8 2-8 6-8 10-8 14-8 41-19 24-18 8-4 8-1 8 0 8 3 4 4 5 7 2 4 1 8-2 8-6 8-12 10-30 18zM768 749l-4 2-8 0-8-3-1-4 2-4 3-2 4-1 8 1 4 2 3 4z"/>
<path fill="#ffb400" d="M532 645l-8 2-8 0-12-2-12-4-16-11-21-18-11-12-4-5-3-7-1-4 0-8 4-12 6-8 6-6 8-5 8-1 9 0 23 5 12 4 8 4 8 7 8 8 5 8 5 12 3 12 1 8-2 12-3 8-5 7zM444 796l-8 1-8 0-12-3-8-6-3-4-20-28-8-8-9-7-8-5-8-3-28-6-16-6-12-7-10-10-5-8-3-12-1-8 2-12 6-12 7-10 8-9 12-11 4-2 4 0 8 2 20 9 20 13 18 16 26 32 11 12 14 12 22 16 7 8 13 24 1 8-1 4-7 8-6 4-8 4zM684 732l-8 2-8 0-8-4-5-6-3-8 1-8 4-8 7-7 7-5 14-8 35-16 24-18 8-4 8-2 8 1 7 3 5 4 5 8 1 8-3 8-7 9-8 6-17 9-20 12zM764 749l-8 1-4-1-3-5 3-4 4-1 8 0 4 5-2 4z"/>
<path fill="#ffab00" d="M528 641l-8 1-16-2-8-2-8-3-14-11-17-16-9-9-7-11-1-4 0-8 6-12 6-8 4-4 4-2 8-2 36 6 8 3 8 5 12 11 5 7 6 12 3 12 0 8-2 12-4 8-4 4zM432 796l-12-2-9-6-7-8-16-24-8-8-12-9-8-5-8-3-28-7-11-4-13-8-9-8-5-8-3-8-1-8 0-8 3-12 5-8 6-8 8-7 12-7 4-1 8 0 16 4 16 9 12 8 11 10 26 32 15 16 12 10 20 14 7 8 3 4 10 24 0 4-1 4-2 4-4 4-5 4-8 3-12 4zM680 729l-8 0-8-3-4-4-2-6-1-4 3-8 4-5 7-7 20-12 29-13 8-6 16-13 8-4 8-2 8 1 8 5 4 4 3 8 0 8-5 8-6 6-24 12-23 14-15 8-18 9zM760 748l-5 0-4-4 5-4 4 0 5 4-1 2z"/>
<path fill="#ffa000" d="M524 637l-20-1-8-2-8-4-8-5-14-13-15-16-5-8-1-4 0-4 4-12 6-8 4-4 5-2 4-1 12 4 24 1 8 3 8 5 11 10 5 8 4 8 2 12 0 8-2 11-4 7-4 3zM448 793l-8 1-8 1-8-2-8-4-10-9-16-24-8-8-10-9-8-5-8-3-37-11-11-6-8-6-7-8-4-8-3-8 0-8 1-8 3-8 5-8 5-6 12-8 12-4 8 0 8 2 16 7 12 7 12 11 29 35 15 15 11 9 22 16 4 4 4 8 8 20 0 4 0 4-3 4-3 4-7 4zM680 724l-8-1-4-2-4-5-1-4 3-8 3-4 8-8 19-11 24-10 8-6 13-13 11-6 8-2 4 0 8 3 5 5 4 8-1 8-4 7-4 4-8 5-21 8-18 12-17 10-16 7zM760 745l-5-1 5-1 1 1z"/>
<path fill="#ff9500" d="M524 632l-8 1-8 0-12-3-12-7-17-15-12-16-3-8 0-8 4-8 4-5 4-3 4-1 8 7 4 0 12-4 12 0 12 5 11 9 6 8 3 8 2 8 1 8-1 8-3 8-4 4zM444 792l-8 1-8 0-11-5-9-8-13-20-6-8-17-15-8-5-8-3-24-7-12-4-10-6-9-8-8-12-3-8 0-8 2-12 4-7 4-5 4-4 8-6 12-3 8-1 8 2 16 6 12 8 12 10 26 32 16 16 10 8 16 11 8 6 5 7 4 8 5 16 0 8-2 4-8 7-8 3zM692 716l-12 2-6-2-3-4 0-4 2-4 2-4 9-8 13-8 27-11 4-3 12-14 4-4 8-4 8-2 4 1 8 3 4 4 3 6 0 4-3 8-4 4-8 5-24 8-28 19z"/>
<path fill="#ff8a00" d="M520 629l-12 0-8-1-9-4-10-8-12-12-7-12-2-8 1-4 2-4 5-2 12-2 12-5 8-1 12 3 11 7 6 8 4 8 2 8 1 8-2 8-2 5-4 4zM452 789l-8 2-8 1-8-1-8-3-10-8-12-20-7-8-11-11-8-6-8-5-8-4-32-9-9-5-7-5-9-11-4-8-1-8 1-12 4-8 2-4 7-6 8-5 8-2 8-1 8 1 12 4 12 7 8 6 12 12 19 24 11 12 14 12 24 16 7 8 7 16 2 12 0 4-2 4-5 4zM700 709l-8 2-4 0-4-1-2-2-1-4 2-4 4-4 11-8 10-4 20-5 4-4 8-15 8-8 8-3 8 0 7 3 3 4 2 4 0 4-1 4-2 4-5 4-12 5-20 1-4 2-15 16-6 4z"/>
<path fill="#ff7f00" d="M520 625l-8 1-12-2-8-4-6-4-8-8-7-12-2-8 2-4 4-4 8-4 13-6 4 0 8 1 8 4 4 3 8 11 3 7 1 8-1 8-1 4-3 4-3 3zM448 789l-8 1-8 0-8-2-4-2-4-3-7-7-9-16-6-8-18-17-8-5-8-4-24-7-12-5-8-5-6-5-4-4-5-8-4-12 2-12 4-8 4-4 5-4 8-4 8-2 8 0 8 1 12 5 8 5 9 7 11 12 16 21 11 11 17 15 21 13 8 8 4 8 4 12 1 8-1 4-2 4-4 4zM760 677l-8 0-7-1-4-4-1-4 3-8 4-4 7-4 6-1 5 1 6 4 2 4 1 4-2 4-3 4-5 3zM704 701l-4 0-4-1 2-4 6-4 6 0 0 4z"/>
<path fill="#ff7400" d="M520 620l-8 2-8-1-8-3-9-6-6-8-4-8 0-4 1-4 2-4 5-4 7-4 8-2 8 1 9 5 7 8 4 12 0 8-1 4-3 5zM444 788l-8 1-8-1-8-4-4-3-5-5-15-24-12-13-12-10-12-6-32-10-8-4-6-5-7-8-5-12 0-12 2-5 4-7 5-4 7-4 12-3 12 2 8 2 8 4 8 6 8 7 23 30 12 12 15 12 18 11 8 6 4 4 3 7 4 12 1 8-1 4-3 5-8 5zM760 673l-4 1-6-2-4-4 0-4 2-4 4-4 4-2 4 0 4 1 4 2 2 3 0 4-2 5-4 3z"/>
<path fill="#ff6800" d="M516 616l-8 1-7-1-5-3-7-5-5-8-1-4 0-4 2-4 3-4 8-5 8-1 6 2 6 4 6 8 2 8 0 4-2 8zM452 784l-8 3-8 1-8-2-5-2-9-8-12-20-6-8-20-19-12-7-32-10-13-8-8-8-3-6-2-6 0-8 0-4 2-4 4-6 4-3 8-5 12-1 8 1 8 2 8 4 8 6 10 10 14 20 11 12 19 16 22 13 9 7 3 5 3 7 2 8 1 8-1 4-3 4zM760 669l-5-1-3-3 1-5 3-2 4 0 5 2 1 4-2 3z"/>
<path fill="#ff5d00" d="M508 612l-4 0-8-4-4-4-2-4-1-4 0-4 2-4 6-4 7-1 4 1 6 4 5 8 0 8-2 4-5 4zM448 784l-12 2-8-1-4-2-8-7-12-21-5-7-15-16-8-7-12-6-24-7-8-3-12-8-7-9-3-8 0-8 1-4 5-8 8-5 12-3 12 2 12 6 8 6 6 6 17 24 12 12 20 16 25 14 4 4 4 6 4 16-1 8-3 4z"/>
<path fill="#ff5100" d="M508 605l-4 0-3-1-4-4-1-4 0-4 4-3 4-1 4 2 4 5 1 5-1 2zM444 784l-12 0-8-3-4-3-5-6-8-16-4-8-19-21-8-7-12-5-27-7-8-4-5-4-6-8-3-8 0-8 4-8 4-4 5-2 8-2 12 2 12 5 6 5 6 6 16 25 9 9 23 17 20 10 8 5 4 4 4 8 2 8 0 8-1 4-4 4z"/>
<path fill="#ff4500" d="M380 712l-12-1-20-4-11-3-7-4-6-6-3-6-1-8 3-8 5-5 4-2 8-1 12 3 8 4 8 8 6 9 7 20zM448 781l-8 2-8 0-7-3-5-4-5-8-8-20-15-20-4-8 0-2 4 0 4 1 24 14 20 8 8 5 4 5 2 5 3 12 0 4-2 4z"/>
<path fill="#ff3800" d="M368 701l-4 2-12 0-8-1-8-4-7-6-2-4-1-8 2-4 4-4 8-3 8 1 8 4 8 6 4 8 2 8zM444 781l-8 1-7-2-5-3-4-4-4-9-5-16-3-8-1-4 1-1 28 7 8 4 4 3 4 7 3 12 0 4-3 4-4 3z"/>
<path fill="#ff2c00" d="M356 695l-4 1-4 0-9-4-3-5 0-3 1-4 3-2 4-1 4 0 6 3 4 4 2 4-1 4zM448 777l-4 2-8 1-8-3-4-3-4-6-3-8 0-8 1-4 2-3 8-1 8 1 8 3 4 4 4 8 1 8-1 5z"/>
<path fill="#ff1f00" d="M444 777l-4 1-8-1-7-5-2-4-2-8 0-4 3-6 4-2 8 0 8 3 4 5 3 8 0 4-1 4-2 2z"/>
<path fill="#ff1300" d="M444 774l-4 2-4 0-4-2-4-3-4-7 0-4 2-4 2-3 4-2 4 0 4 1 5 4 3 5 1 7-2 4z"/>
<path fill="#ff0600" d="M440 773l-6-1-4-4-2-4 1-4 3-4 4-1 4 1 4 4 2 4-1 4-1 2z"/></g>
</g>
<use href="#basin" fill="none" stroke="#6e6e6e" stroke-width="2" stroke-linejoin="round"/>
<circle cx="209" cy="151" r="1.7" fill="#6e6e6e"/>
<circle cx="154.8" cy="224.6" r="1.7" fill="#6e6e6e"/>
<circle cx="333.6" cy="390.7" r="1.7" fill="#6e6e6e"/>
<circle cx="507.5" cy="592" r="1.7" fill="#6e6e6e"/>
<circle cx="525" cy="680" r="1.7" fill="#6e6e6e"/>
<circle cx="538" cy="679.5" r="1.7" fill="#6e6e6e"/>
<circle cx="780.3" cy="670.2" r="1.7" fill="#6e6e6e"/>
<circle cx="440.3" cy="724.5" r="1.7" fill="#6e6e6e"/>
<circle cx="471.5" cy="809" r="1.7" fill="#6e6e6e"/>
</g>
<rect x="193" y="180.6" width="868.1" height="1202.4" fill="none" stroke="#000" stroke-width="4.1" stroke-linejoin="round" shape-rendering="crispEdges"/>
<line x1="348.4" y1="155.1" x2="348.4" y2="180.6" stroke="#000" stroke-width="2.9" shape-rendering="crispEdges"/>
<line x1="652.5" y1="155.1" x2="652.5" y2="180.6" stroke="#000" stroke-width="2.9" shape-rendering="crispEdges"/>
<line x1="957.5" y1="155.1" x2="957.5" y2="180.6" stroke="#000" stroke-width="2.9" shape-rendering="crispEdges"/>
<line x1="340.5" y1="1383" x2="340.5" y2="1408.5" stroke="#000" stroke-width="2.9" shape-rendering="crispEdges"/>
<line x1="643.3" y1="1383" x2="643.3" y2="1408.5" stroke="#000" stroke-width="2.9" shape-rendering="crispEdges"/>
<line x1="945.6" y1="1383" x2="945.6" y2="1408.5" stroke="#000" stroke-width="2.9" shape-rendering="crispEdges"/>
<line x1="167.5" y1="377" x2="193" y2="377" stroke="#000" stroke-width="2.9" shape-rendering="crispEdges"/>
<line x1="167.5" y1="584" x2="193" y2="584" stroke="#000" stroke-width="2.9" shape-rendering="crispEdges"/>
<line x1="167.5" y1="789" x2="193" y2="789" stroke="#000" stroke-width="2.9" shape-rendering="crispEdges"/>
<line x1="167.5" y1="993" x2="193" y2="993" stroke="#000" stroke-width="2.9" shape-rendering="crispEdges"/>
<line x1="167.5" y1="1195.3" x2="193" y2="1195.3" stroke="#000" stroke-width="2.9" shape-rendering="crispEdges"/>
<line x1="1061.1" y1="383.3" x2="1086.6" y2="383.3" stroke="#000" stroke-width="2.9" shape-rendering="crispEdges"/>
<line x1="1061.1" y1="590" x2="1086.6" y2="590" stroke="#000" stroke-width="2.9" shape-rendering="crispEdges"/>
<line x1="1061.1" y1="795.5" x2="1086.6" y2="795.5" stroke="#000" stroke-width="2.9" shape-rendering="crispEdges"/>
<line x1="1061.1" y1="999.5" x2="1086.6" y2="999.5" stroke="#000" stroke-width="2.9" shape-rendering="crispEdges"/>
<line x1="1061.1" y1="1201" x2="1086.6" y2="1201" stroke="#000" stroke-width="2.9" shape-rendering="crispEdges"/>
<text transform="translate(228.4 130.1) scale(1.000 1.042)" font-size="110.3">33°E</text>
<text transform="translate(532.2 130.1) scale(1.000 1.042)" font-size="110.3">36°E</text>
<text transform="translate(837.3 130.1) scale(1.000 1.042)" font-size="110.3">39°E</text>
<text transform="translate(142 498.2) rotate(-90) scale(1.000 1.042)" font-size="110.3">14°N</text>
<text transform="translate(142 911.2) rotate(-90) scale(1.000 1.042)" font-size="110.3">10°N</text>
<text transform="translate(142 1289.8) rotate(-90) scale(1.000 1.042)" font-size="110.3">6°N</text>
<rect x="609.8" y="309.9" width="165.3" height="51.3" fill="#fff" stroke="#000" stroke-width="3.7" stroke-linejoin="round"/>
<text transform="translate(643.8 282.7) scale(1.000 1.050)" font-size="59.4">170</text>
<text transform="translate(788.8 361.2) scale(1.000 1.030)" font-size="60">Km</text>
<path d="M956.5,384.9 L904.7,541.9 L956.8,524.6 L1008.3,541.9Z" fill="#000"/>
<path d="M949.2,377.2 L897.4,534.2 L949.5,516.9 L1001,534.2Z" fill="#fff" stroke="#000" stroke-width="0.9" stroke-linejoin="miter"/>
<text transform="translate(929.4 602.9) scale(1.000 1.050)" font-size="71">N</text>
<text transform="translate(216 759.2) scale(1.000 1.035)" font-size="94.7">a)</text>
<text transform="translate(356 1189.1) scale(1.000 1.035)" font-size="94.7">SPEI (1-day)</text>
<rect x="475.8" y="1254.9" width="307.7" height="95.1" fill="url(#ramp)"/>
<line x1="629.5" y1="1350" x2="629.5" y2="1358" stroke="#000" stroke-width="1" shape-rendering="crispEdges"/>
<line x1="783.3" y1="1350" x2="783.3" y2="1358" stroke="#000" stroke-width="1" shape-rendering="crispEdges"/>
<text transform="translate(223.9 1344.8) scale(1.000 1.015)" font-size="94">4.612</text>
<text transform="translate(794.2 1347.4) scale(1.000 1.015)" font-size="94">-1.132</text>
</g>
<g id="panel-b">
<g transform="translate(1160.9 175.9)">
<g clip-path="url(#bclip)">
<g fill-rule="evenodd"><rect x="16" y="36" width="848" height="908" fill="#0205ff"/>
<path fill="#0710ff" d="M860 942l-840 0-2-2 0-380 2-347 30-13 22-19 16-12 16-10 12-4 12-1 12 2 12 5 10 7 10 2 92 6 16 0 12-1 12-2 12-5 12-6 32-20 16-9 20-10 20-7 28-8 84-20 185-48 147 0 2 288 0 300 0 312z"/>
<path fill="#0c1aff" d="M860 942l-840 0-2-2 0-368 2-349 72-32 16-6 16-3 24-3 20 0 36 3 64 8 16 1 20-3 16-5 13-7 33-24 22-13 20-9 28-9 88-21 233-60 103 0 2 288 0 300 0 312z"/>
<path fill="#1124ff" d="M860 942l-840 0-2-2 0-360 2-347 44-22 24-10 24-8 20-4 20-2 24 1 24 3 44 7 28 3 20 0 16-2 12-4 12-6 49-33 13-8 18-8 20-7 88-20 208-55 75-18 57 0 1 288 1 300 0 312z"/>
<path fill="#162fff" d="M860 942l-840 0-2-2 0-348 2-349 44-23 24-11 24-9 20-3 16-1 20 0 20 3 32 6 60 6 20 1 12-1 9-3 11-6 36-26 20-13 20-11 20-7 24-6 72-16 204-54 117-29 15 0 1 288 1 300 0 312z"/>
<path fill="#1b39ff" d="M860 942l-840 0-2-2 0-348 2-337 46-27 22-11 24-9 20-3 16-1 16 1 124 17 16 1 12-1 8-2 12-7 32-26 20-14 20-11 16-6 24-7 76-17 336-87 1 283 1 300 0 312z"/>
<path fill="#1942ff" d="M860 942l-840 0-2-2 0-348 2-328 30-16 26-16 16-8 20-8 20-3 16-1 16 1 72 9 64 11 12 1 11-2 9-4 8-6 30-26 18-14 20-11 20-8 24-7 72-15 336-88 1 275 1 300 0 312z"/>
<path fill="#144aff" d="M860 942l-840-1-1-1 0-348 1-319 20-10 56-32 16-7 16-3 20-1 41 4 51 7 56 10 16 1 12-2 12-5 11-7 26-24 19-15 16-9 20-9 24-6 72-16 336-87 1 266 1 300 0 312zM800 488l2-4 0-4-2-4-4 0-1 4 1 4z"/>
<path fill="#1052ff" d="M860 941l-840 0-1-1 0-348 1-310 20-10 56-33 20-8 16-2 20-1 28 3 48 6 48 8 20 3 20 1 12-2 8-3 12-8 32-28 16-12 16-10 20-8 24-6 68-14 336-88 1 258 1 300-1 312zM801 492l3-2 1-10-2-4-3-4-4 0-4 4 0 4 4 9 4 4z"/>
<path fill="#0c5aff" d="M860 941l-840 0-1-1 0-348 1-300 24-12 56-35 16-6 12-3 16-1 20 2 136 18 16 0 12-1 8-3 12-7 40-33 12-9 16-9 16-6 24-7 72-15 332-86 1 249 1 300-1 312zM606 472l-1-4-1-1-4 0-1 1 0 4 1 1 4 1zM801 496l3-2 1-2 1-4 0-8-2-6-2-2-2-2-4-1-5 3-1 4 0 4 2 6 4 7 4 3z"/>
<path fill="#0862ff" d="M860 941l-840 0-1-1 0-348 1-290 28-15 56-35 12-6 12-2 12-1 16 1 144 17 20 0 12-2 8-3 12-8 32-26 20-14 16-8 16-6 20-6 48-9 28-7 328-85 1 541 0 312zM605 476l4-4 0-4-5-4-4 0-4 4 0 4 4 4zM805 496l3-8 0-4-1-4-3-8-4-4-4-1-4 1-4 4-1 4 1 4 4 10 4 7 4 3 4-2z"/>
<path fill="#036aff" d="M860 941l-840 0-1-1 0-348 1-281 12-5 16-8 60-39 12-5 8-2 20 0 48 5 52 4 56 5 16 0 12-2 12-4 8-5 34-27 14-10 16-9 20-7 20-6 42-8 35-8 327-85 1 533 0 312zM611 476l2-4 0-4-4-4-5-2-4 0-4 2-2 4 0 4 3 4 3 2 4 0zM804 500l4-7 1-5-2-12-3-7-4-3-4-1-4 1-4 2-2 4-1 4 1 4 6 14 4 6 4 2z"/>
<path fill="#0073ff" d="M860 941l-840 0-1-1 0-348 1-273 16-6 16-7 10-6 46-29 12-6 8-2 16-1 44 4 52 1 64 5 16 0 12-2 12-4 12-7 34-27 14-10 16-7 16-6 20-6 84-18 320-83 1 526 0 312zM608 480l7-4 1-4 0-4-4-4-4-2-8-2-4 2-3 2-1 4 0 4 3 4 5 4zM801 504l3-1 4-7 2-12-1-8-4-8-5-4-4-1-4 1-7 4-2 4 0 4 9 22 4 5 4 1z"/>
<path fill="#0081ff" d="M860 941l-840 0-1-1 0-348 1-265 16-6 16-7 60-33 12-5 8-2 12 0 36 1 56-2 76 4 12 0 12-3 12-4 12-7 32-25 12-9 16-8 16-6 20-5 84-18 320-83 1 519 0 312zM613 480l5-4 1-4-1-4-3-4-6-4-5-1-8 1-4 3-2 5 0 4 2 4 4 3 8 3 4 0zM805 504l3-4 2-8 1-8-2-8-1-4-4-6-4-3-4-1-4 0-5 2-4 4-2 4 0 4 11 25 4 4 4 1z"/>
<path fill="#008eff" d="M860 941l-840 0-1-1 0-348 1-257 28-11 44-23 16-7 12-5 12-3 16-2 36-1 44-3 28 0 52 3 16-1 12-2 12-4 15-8 33-26 12-8 12-6 16-6 20-5 52-11 32-7 216-56 68-17 36-10 1 512 0 312zM617 480l4-4 1-4-1-4-3-4-5-4-5-2-8-1-4 1-4 2-3 4-1 4 1 4 2 4 5 5 4 2 8 1 4-1zM801 508l3-1 5-7 2-12 0-8-3-11-4-5-4-3-4-1-4 0-8 4-4 4-1 4 0 4 13 27 4 4z"/>
<path fill="#009bff" d="M860 941l-840 0-1-1 0-348 1-250 28-10 56-27 16-6 12-3 16-2 40-2 44-6 28 0 52 2 16-1 12-3 12-4 15-8 30-24 11-8 12-5 12-5 24-6 52-11 32-7 220-57 64-16 36-10 1 505 0 312zM614 484l6-4 3-4 1-4-1-4-2-4-5-4-12-4-8 0-7 4-2 4-1 4 2 6 4 6 4 3 8 2zM805 508l3-4 4-12 0-12-2-8-5-8-5-4-4-1-8 1-7 4-3 4-1 4 0 4 11 24 4 5 4 4 4 1z"/>
<path fill="#00a8ff" d="M860 941l-840 0-1-1 0-348 1-243 28-9 40-20 16-7 24-7 20-2 40-3 32-6 16-2 28-1 52 1 16-2 12-2 13-5 14-8 37-29 12-6 12-4 20-5 84-18 228-59 56-14 40-11 1 498 0 312zM619 484l5-5 2-7-1-4-2-4-4-4-8-4-11-2-8 1-5 5-2 4 0 8 2 4 5 6 4 2 8 3 8 0zM807 508l4-8 2-8 0-12-2-8-4-8-3-3-4-3-4-1-8 1-4 2-5 4-3 5 0 7 12 26 4 5 4 3 4 2 4-2zM478 844l2-2 1-2-1-1-4-3-4 1-1 3 1 2 3 2z"/>
<path fill="#00b6ff" d="M860 941l-840 0-1-1 0-348 1-235 32-11 48-23 16-5 12-3 20-3 40-2 36-9 20-2 24-2 52 1 24-4 12-4 12-5 13-9 31-24 20-8 20-5 52-11 32-7 284-73 40-11 1 491 0 312zM614 488l6-2 6-6 2-8 0-4-2-4-4-4-6-3-12-4-8-1-4 1-4 3-3 4-2 8 1 5 4 6 5 5 7 3 8 2zM804 512l4-4 5-12 1-12-2-11-4-9-4-5-4-2-4-1-8 0-7 4-4 4-2 4-1 4 0 4 9 16 5 12 3 4 5 4 4 1zM484 844l1-4-1-2-4-4-4-2-4 1-4 3-1 4 1 3 4 4 4 1 4-1z"/>
<path fill="#00c3ff" d="M860 941l-840 0-1-1 0-348 1-228 32-11 48-22 24-7 20-3 36-1 12-1 12-3 26-8 25-4 21-1 48 0 24-4 12-4 12-6 14-9 26-20 12-6 12-4 20-5 44-9 32-7 288-74 40-11 1 484 0 312zM620 488l6-4 4-8 0-8-2-4-4-4-8-5-16-5-8 1-7 5-2 4-2 8 3 8 4 5 8 6 8 3 8 0zM806 512l2-2 3-6 3-12 0-12-2-10-4-8-4-4-4-2-8-2-8 2-6 4-3 4-2 4 0 8 9 16 4 12 6 7 4 3 4 1 4-1zM484 848l3-4 1-4-4-6-4-3-4-1-4 1-4 2-3 3-1 4 2 4 2 3 4 2 4 1 4 0z"/>
<path fill="#00d0ff" d="M860 941l-840 0-1-1 0-348 1-221 32-11 48-22 24-7 24-3 44 0 12-2 32-11 20-5 24-2 48-1 24-3 12-4 12-6 44-30 20-7 88-20 288-73 44-13 1 477 0 312zM613 492l7-1 4-2 5-5 3-6 1-6-3-8-3-4-7-5-16-6-8-1-8 3-5 5-3 8 0 4 2 8 6 7 8 6 8 2zM800 516l4-1 4-3 4-8 3-12-1-16-4-12-6-7-8-4-8 0-7 3-5 4-5 8 0 8 2 4 7 12 4 10 4 6 4 5 4 2zM591 760l2-4-1-1-4 0-2 1 0 4 2 2zM481 852l7-4 2-4 0-4-1-4-3-4-6-3-8 0-4 1-5 6-1 4 2 6 4 4 4 2 4 0z"/>
<path fill="#0df" d="M860 941l-840 0-1-1 0-348 1-214 28-9 52-24 24-7 24-3 36 1 11 0 16-4 32-12 21-5 20-2 44 0 16-2 12-3 12-4 12-6 40-25 20-9 16-4 68-14 72-19 220-56 44-12 1 469 0 312zM623 492l7-4 2-4 3-8 0-8-5-8-10-7-20-7-8 1-8 5-5 8-1 8 3 8 6 8 9 6 8 3 8 1zM805 516l3-3 3-5 4-12 1-16-3-12-5-9-4-4-4-2-8-2-8 2-8 4-4 5-2 6 0 8 1 4 8 12 5 12 4 6 4 4 4 3 4 1zM588 768l4-1 5-7 1-8-2-4-4 0-6 4-4 4-1 4 1 4 2 2zM486 852l5-4 1-4 0-5-4-7-5-4-7-1-8 1-5 4-2 4-1 4 1 4 3 5 4 3 8 2 4 0z"/>
<path fill="#00ebff" d="M860 941l-840 0-1-1 0-348 1-206 28-10 52-24 24-8 24-2 48 1 16-3 36-14 20-6 16-1 52-1 20-3 8-2 12-6 48-28 20-8 80-18 72-19 216-55 48-13 1 462 0 312zM630 492l4-4 2-4 2-12-3-8-7-8-8-5-20-8-4 0-4 1-4 2-7 6-4 8-1 8 3 8 2 4 7 7 8 5 12 4 12 0zM806 516l6-7 4-13 0-16-2-12-6-10-8-7-8-1-8 1-9 5-3 4-3 4-1 8 2 8 8 12 5 12 5 8 4 4 4 2 4 1 4-1zM591 772l5-4 4-8 1-4-1-11-4-5-4 3-9 9-3 4-1 4 0 4 2 4 3 3 4 1zM476 856l8-1 5-3 4-4 2-4 0-4-3-6-4-5-4-2-8-2-8 2-4 2-4 5-2 6 2 6 4 5 4 3z"/>
<path fill="#00f8ff" d="M860 941l-840 0-1-1 0-348 1-199 28-10 52-25 24-7 12-2 16-2 36 2 16 0 12-3 36-15 20-6 20-1 48 0 20-3 16-6 44-26 24-10 76-18 79-21 213-53 48-14 1 455 0 312zM631 496l6-4 1-4 2-16-1-4-4-8-4-4-7-5-16-7-4-3-4-1-8 1-8 5-8 10-2 8 0 4 3 8 6 8 9 7 12 5 12 2zM801 520l3-1 4-3 4-5 3-7 2-16-1-16-5-12-7-8-8-3-4-1-8 1-8 4-6 7-3 8 0 8 4 8 5 8 5 12 5 8 6 6 4 2zM593 776l3-1 2-3 5-12 1-4-1-8-2-8-1-2-4-3-4 2-3 7-9 8-4 8 0 4 1 4 3 4 8 4zM486 856l6-4 3-4 2-4 0-4-1-4-4-6-4-3-8-3-8 0-9 4-4 4-2 8 0 4 3 5 4 4 8 4 8 1z"/>
<path fill="#00fffa" d="M860 941l-840 0-1-1 0-348 1-191 28-11 48-24 24-8 16-4 16-1 16 0 28 3 12 0 16-4 34-16 18-5 12-1 48 0 24-2 16-6 44-25 10-5 14-5 12-4 60-13 80-22 212-52 32-9 20-7 1 448 0 312zM626 500l16-4 3-4-3-8 1-12-3-8-4-6-7-6-17-9-8-5-4-1-4 0-4 1-8 6-4 4-6 8-2 8 0 4 3 8 9 11 12 8 16 5zM805 520l3-2 4-6 5-12 1-16-2-14-4-10-4-5-4-4-8-4-4 0-8 1-9 4-7 8-3 8 1 8 1 4 9 14 6 14 6 8 4 3 4 2 4 1zM602 776l4-16 0-12-2-7-3-5-5-4-4 1-6 11-8 8-3 4-1 8 1 4 2 4 7 5 8 3 4 0 4-2zM490 856l6-6 3-6 0-4-1-4-5-8-5-3-4-2-8-1-8 2-8 5-4 6-1 5 1 5 4 7 8 5 8 2 8 0z"/>
<path fill="#00ffef" d="M860 941l-840 0-1-1 0-348 1-182 24-9 37-21 15-8 16-6 12-4 16-3 20-1 40 5 12 1 8-2 8-3 32-15 16-6 16-1 48-1 24-3 16-6 48-25 20-7 60-13 112-31 56-13 44-12 84-20 32-9 24-7 1 438 0 312zM644 500l6-4 1-4-5-8-1-4 0-8-2-8-6-8-5-5-20-11-8-6-4-1-4 0-8 4-12 13-5 10-1 8 3 8 3 4 12 12 12 6 16 4 12 1zM807 520l6-8 3-8 2-8 1-16-3-13-3-7-5-7-8-6-8-2-12 2-8 5-6 8-2 8 2 12 10 16 5 12 7 10 4 3 4 2 4 0zM606 780l2-4 0-20-2-16-2-4-4-5-4-1-4 1-7 13-9 8-2 4-2 8 0 4 2 4 4 4 10 6 8 1 4 0zM485 860l8-4 7-8 1-8-3-8-6-7-8-3-12-1-8 3-5 4-3 4-2 4 0 8 1 4 5 6 8 5 8 2z"/>
<path fill="#00ffe4" d="M860 941l-840 0-1-1 1-520 16-6 12-6 39-24 15-8 14-6 12-3 16-3 16-1 16 2 28 6 12 0 12-3 36-17 16-6 12-1 44-2 24-3 16-5 44-20 24-9 64-14 208-56 92-20 28-8 24-8 1 429 0 312zM639 504l9-2 3-2 2-4 1-4-5-12-2-12-4-8-3-4-8-7-26-17-6-2-4 0-4 2-12 10-10 14-2 8 0 4 3 8 6 8 7 7 12 7 20 7 8 0zM802 524l6-3 4-5 5-12 2-16-1-16-2-8-4-7-8-9-8-4-12 0-10 4-5 4-3 4-3 8 0 12 3 8 8 12 5 12 5 7 8 8 4 1zM609 784l2-4 1-4-3-32-3-8-2-4-4-3-4-1-4 1-3 3-3 8-12 12-2 4-2 8 0 4 2 4 4 5 4 3 8 4 12 2 4 0zM489 860l6-4 4-4 4-8 0-8-3-5-4-5-8-5-12-1-12 3-7 5-3 4-2 8 1 8 3 4 8 7 8 3 8 1z"/>
<path fill="#00ffd9" d="M860 941l-840 0-1-1 1-511 12-4 12-5 12-7 44-29 16-8 12-4 16-3 16 0 20 2 32 8 12-1 12-4 28-15 16-5 16-3 44-3 24-4 16-6 44-18 20-6 60-13 84-22 124-34 92-20 32-9 24-7 1 419 0 312zM650 504l5-4 1-4 0-4-8-28-5-8-11-10-27-18-5-1-4 0-4 1-4 3-15 17-6 12-1 8 1 4 5 8 8 9 8 6 8 5 16 6 8 1 8 0 12-1zM805 524l3-2 5-6 4-8 2-8 1-16-2-16-6-13-8-8-4-3-8-2-12 1-9 5-4 4-3 5-3 11 2 12 1 4 9 12 7 16 6 8 6 5 4 1 4 0zM609 788l5-4 1-4-5-36-2-8-2-4-4-4-6-2-4 1-4 5-4 9-12 11-4 8 0 8 5 8 4 4 7 4 12 5 8 0zM482 864l6-2 4-2 9-8 4-8 0-8-1-4-4-5-8-6-12-3-12 2-8 4-5 4-2 4-3 8 2 8 4 6 8 6 8 3z"/>
<path fill="#00ffcd" d="M860 941l-840 0-1-1 1-502 16-5 12-6 52-36 16-8 16-6 16-3 20 0 20 4 24 9 4 0 8 0 12-4 28-15 16-6 16-3 40-5 24-4 16-5 40-15 24-7 56-11 44-12 48-11 68-20 56-16 92-19 32-8 24-8 1 410 0 312zM643 508l12-4 2-4 1-4-1-12-5-16-4-9-9-11-27-20-8-4-4-1-4 1-4 1-4 3-12 14-9 14-3 8 0 4 0 4 3 4 14 16 7 5 8 5 20 7 12 0zM807 524l7-8 3-8 2-8 2-12 0-8-4-16-6-12-7-7-4-2-4-2-8-1-12 3-8 5-4 5-3 7-1 12 3 12 8 12 7 16 10 12 4 2 4 1 4 0zM615 788l2-4 0-8-3-24-4-16-2-4-4-5-4-2-4 0-4 1-4 3-4 10-10 9-6 8-2 8 2 8 2 4 6 6 8 5 8 3 12 2 8-2zM489 864l11-8 5-8 3-8-1-4-3-8-3-4-6-4-11-3-8 0-8 2-10 5-4 4-5 8 0 8 3 8 8 8 8 4 12 2z"/>
<path fill="#00ffc2" d="M860 941l-840 0-1-1 1-493 16-5 16-8 53-38 15-8 16-6 16-3 20 1 18 4 22 11 4 1 12-1 12-4 28-15 16-6 44-8 32-7 20-6 40-14 20-5 55-10 45-11 56-11 16-5 48-17 48-14 24-6 40-6 40-9 28-7 20-7 1 401 0 312zM652 508l4-2 2-2 2-4 0-8-1-8-4-16-4-8-3-6-12-12-20-15-8-4-8-3-4 1-4 1-4 3-16 19-7 12-3 12 1 4 2 4 11 13 12 10 24 12 8 1 12-1zM802 528l6-3 4-5 5-8 2-8 2-8 1-12-2-16-3-8-5-8-8-8-4-3-8-2-12 0-8 4-4 3-4 4-3 6-2 12 1 12 4 8 6 8 7 16 7 10 4 4 4 2 4 1zM614 792l4-4 2-4 0-4-5-28-3-16-4-7-4-4-4-2-4 0-4 1-4 4-4 10-16 14-4 8 0 8 4 8 4 4 12 9 8 3 8 2 8 0zM492 864l10-8 3-4 4-8 1-8-1-4-5-8-8-6-8-2-8 0-12 2-6 2-6 4-7 8-2 8 1 8 5 8 7 6 12 5 12 1z"/>
<path fill="#00ffb7" d="M860 941l-840 0-1-1 1-485 20-7 17-8 53-40 14-8 16-6 16-2 16 0 12 3 8 3 20 12 12 1 12-1 12-4 24-13 8-3 44-11 104-31 24-6 44-7 40-10 64-11 20-6 52-19 36-11 24-6 44-7 32-7 32-8 20-6 1 392 0 312zM642 512l15-4 3-3 2-5 0-8-1-8-4-16-3-8-5-8-5-6-28-22-12-6-8 0-4 1-4 3-4 4-17 22-5 12-2 8 1 4 7 10 16 16 8 6 9 4 7 5 12 1zM805 528l7-6 4-6 5-16 1-8 0-12-3-16-3-8-4-6-8-8-4-2-8-3-8 0-8 2-9 5-4 4-4 8-2 12 3 15 10 17 6 14 8 11 4 3 8 3 4-1zM608 796l8-3 4-4 1-5 0-8-5-28-4-16-4-6-4-3-4-1-4-1-4 1-4 3-2 3-2 8-14 12-4 4-4 8 0 8 2 4 4 7 12 9 8 4 8 3zM489 868l11-8 4-4 5-8 3-8 0-4-1-4-3-7-4-5-4-2-12-3-8-1-8 1-12 5-10 8-4 8 0 8 2 8 8 9 12 6 12 3 4 0z"/>
<path fill="#06ffad" d="M860 941l-840 0-1-1 1-478 20-7 20-9 15-10 24-20 16-12 14-8 15-5 16-3 16 1 8 3 8 3 16 10 8 4 8 1 12 1 12 0 8-1 8-4 8-6 4-2 20-5 27-13 19-8 70-22 32-8 52-9 44-11 48-6 16-3 16-5 48-19 40-12 32-8 80-15 40-11 1 385 0 312zM294 416l-4 0 2 1zM651 512l5-1 5-3 2-8 1-8-1-12-3-12-3-8-5-8-12-13-19-15-9-6-5-2-7-1-8 1-4 3-20 25-5 8-3 8-1 8 0 4 2 4 7 8 16 16 8 6 16 10 24-1zM798 532l6-2 4-2 6-8 4-8 3-8 2-12-1-20-5-16-5-8-4-5-4-3-8-4-8-1-8 0-8 3-4 2-4 4-4 6-4 10 0 8 1 8 3 10 6 10 7 16 5 8 6 7 4 3 4 2zM615 796l5-4 3-4 0-4-4-28-4-20-4-8-3-4-4-3-8-2-4 1-5 4-2 4-3 8-14 12-4 4-3 8-1 8 4 8 3 4 9 8 8 4 8 4 8 2 8 0zM304 800l3-4-3-1-5 1 1 2zM485 872l3-1 8-6 8-7 5-6 2-4 3-8-1-8-1-4-5-8-7-5-8-2-8 0-16 2-10 5-9 8-4 8-1 4 1 8 4 8 4 4 7 6 12 5 8 1z"/>
<path fill="#1effa6" d="M860 941l-840 0-1-1 1-471 24-8 20-10 22-15 23-20 10-8 14-8 15-5 16-2 16 2 12 5 16 10 8 4 40 14 24 5 8 0 8-1 7-4 5-6 6-10 1-8 3-8 8-8 10-7 11-5 29-10 28-9 24-6 72-14 32-8 20-3 36-1 16-3 16-5 49-21 37-12 34-8 84-16 36-10 1 378 0 312zM639 516l19-4 5-4 1-3 1-9 0-12-2-12-3-12-5-8-7-9-28-24-8-4-8-3-8 1-4 1-4 2-4 4-18 24-4 8-4 12 0 8 2 4 8 10 16 16 20 14 8 2zM804 532l5-4 7-8 3-8 3-8 2-20-1-12-2-8-3-8-4-8-6-6-4-4-12-4-8-1-8 1-8 4-4 3-4 5-3 6-2 12 0 8 2 8 3 8 7 12 6 16 8 12 6 4 5 2 8-1zM609 800l7-2 4-3 2-3 2-4 1-4-1-8-4-24-5-20-3-6-4-4-4-3-8-1-4 0-4 3-4 5-4 10-12 9-6 7-3 8-1 8 2 5 5 7 7 7 8 5 8 4 8 3 8 1zM310 800l0-4-6-3-4 0-5 3 2 4 3 1 4 1zM490 872l18-16 6-12 2-8 0-4-3-8-2-4-7-6-8-2-8 0-16 1-8 3-9 4-8 8-4 8 0 4 0 8 4 8 9 9 8 5 8 3 8 2 4 0 4-1z"/>
<path fill="#35ff9f" d="M860 941l-840 0-1-1 1-464 28-10 20-10 20-14 36-30 14-8 14-5 16-2 8 1 8 3 8 4 24 16 28 12 14 3 14 2 16 2 8-1 8-2 5-5 16-24 3-8 2-4 8-8 18-10 24-9 44-12 76-15 36-8 20-2 36 1 16-1 16-6 43-22 37-13 40-10 80-14 36-10 1 371 0 312zM651 516l10-4 4-4 1-8 1-12-1-12-2-12-6-12-6-8-8-8-16-14-12-8-8-4-8 0-8 1-4 3-4 3-19 27-5 8-3 8-1 8 1 4 3 7 8 9 16 16 8 7 12 7 4 1 8 0 24-1zM806 532l6-5 4-6 4-9 3-8 2-20-3-20-3-8-4-8-7-8-4-3-12-5-8-1-8 1-8 3-4 3-5 6-3 5-2 7-1 8 3 16 3 8 7 12 7 20 7 11 4 2 8 3 8-1zM616 800l4-3 4-4 2-9-4-28-4-20-3-8-7-8-8-4-8 0-4 2-4 5-4 10-2 3-11 8-7 8-3 8 0 8 3 8 4 5 8 8 12 7 8 4 8 2 8 0zM313 800l0-4-1-1-4-3-4-1-8 1-3 4 1 4 6 3 4 1 4-1zM489 876l17-16 9-12 3-12-2-12-4-6-4-4-8-3-20 0-12 2-8 3-11 8-6 8-2 8 1 8 1 4 5 8 4 4 8 6 8 4 12 5 4 0z"/>
<path fill="#4cff98" d="M860 941l-840 0-1-1 1-457 28-9 24-13 20-13 40-34 11-6 11-4 14-2 8 1 8 2 11 7 21 16 12 6 12 4 24 4 24 2 12 0 8-3 4-3 14-22 6-8 4-8 8-8 8-6 8-4 24-9 32-9 116-25 24-2 36 4 16-2 16-5 15-6 20-12 17-8 32-11 44-11 76-13 32-9 1 364 0 312zM634 520l22-3 4-2 4-3 2-4 2-8 1-16-1-12-3-12-5-10-8-10-24-22-8-6-8-3-8-2-8 1-8 3-4 4-24 33-4 12-1 8 1 5 4 8 8 9 16 17 12 9 8 4 4 1zM802 536l6-4 4-4 6-8 4-12 3-12 1-12-1-8-2-12-3-8-4-9-4-5-8-7-12-5-8-1-8 1-8 3-5 3-4 4-5 8-2 12 0 8 2 8 4 12 6 12 8 23 4 8 4 4 8 2 8 1zM828 692l0-1 0 2zM609 804l7-2 4-2 4-4 3-8 0-8-4-28-5-20-4-8-3-4-7-4-8-2-4 0-4 2-4 4-3 4-2 8-3 3-11 9-5 5-4 7-1 4 0 8 3 8 3 4 7 7 8 6 16 9 8 2zM309 804l6-4 0-4-4-4-7-2-4 0-7 2-2 4 1 4 4 3 8 2zM490 880l21-24 6-8 2-8 1-8-3-12-5-6-4-3-4-2-8 0-12 0-12 2-8 2-8 4-9 7-3 4-4 8-1 8 2 8 5 8 6 6 12 9 16 9 4 0 4-2z"/>
<path fill="#64ff91" d="M860 941l-840 0-1-1 1-451 30-9 22-11 24-16 30-25 14-11 9-5 11-4 12-1 12 3 9 6 19 17 5 3 7 3 28 6 40 4 12 0 4-1 4-3 4-4 15-25 17-20 8-6 8-4 24-10 24-6 120-26 20-1 24 2 12 1 20-2 20-6 56-26 36-12 36-8 70-12 34-9 1 357 0 312zM649 520l11-3 4-3 4-6 1-4 2-16 0-12-2-12-5-12-5-8-7-8-20-18-12-9-8-4-8-1-8 1-4 2-8 6-25 35-3 8-2 8 1 8 1 4 8 12 20 21 8 7 8 4 8 2 8 1zM805 536l7-6 5-6 4-8 3-12 2-12 0-12-1-12-2-8-7-15-4-5-8-7-8-4-8-2-8 0-8 1-7 4-5 4-4 5-4 7-2 8 0 8 4 16 9 20 9 31 3 5 5 2 12 2 8-2zM829 700l1-8-2-9-4 1-1 8 1 7 4 2zM616 804l8-6 4-6 1-4-1-12-7-40-2-8-7-9-8-5-8-2-4 0-4 2-4 3-4 6-4 9-12 10-5 6-5 8-1 4 0 8 3 8 6 8 10 8 12 8 8 4 8 2 8 0zM313 804l4-4 0-4-3-4-6-3-8-1-4 1-5 3-2 4 1 4 6 5 8 1zM490 888l9-16 17-20 5-12 1-12-5-12-5-6-4-2-4-1-12 0-16 2-12 3-8 4-8 5-6 7-2 4-2 8 0 8 3 8 6 8 5 5 25 19 7 2z"/>
<path fill="#7bff8a" d="M860 941l-840 0-1-1 1-447 32-10 29-11 24-16 37-32 10-6 12-5 12 0 8 2 6 5 14 16 4 3 8 4 30 5 50 5 12 0 4-2 7-7 17-28 7-8 9-8 8-6 8-5 20-8 16-4 124-28 16-2 48 4 16-2 20-6 44-20 36-12 48-13 64-13 40-10 1 353 0 312zM628 524l16-1 12-3 8-4 4-4 2-8 3-20 0-12-2-8-4-12-5-8-6-8-20-19-12-9-8-5-8-2-8 0-8 3-8 7-24 33-6 12-1 8 1 8 2 7 4 6 20 23 9 8 7 4 8 3 12 1zM800 540l8-4 4-4 6-8 5-12 3-12 1-12 0-12-2-12-6-16-5-8-6-7-8-5-8-3-8-1-8 1-12 4-4 3-6 8-4 8-1 8 0 8 1 8 4 12 7 16 8 32 3 7 4 2 8 1 8 0zM829 704l2-4 1-8-2-8-2-4-4 0-2 8-1 4 3 12 4 1zM609 808l7-2 4-2 5-4 4-8 1-12-5-32-3-16-4-8-3-4-4-4-7-4-8-2-4 0-5 2-5 4-9 16-9 8-8 8-2 4-3 8 0 8 3 8 2 4 8 8 12 9 16 9 8 2zM315 804l4-4 0-4-3-4-8-4-8-1-5 1-6 4-2 4 1 4 4 4 4 2 8 1 4 0zM493 892l2-4 3-8 4-8 16-20 4-8 2-8 0-8-4-12-7-8-5-2-8-1-20 2-12 3-8 3-8 4-8 7-6 8-2 8 1 8 2 8 5 7 8 9 18 16 6 4 8 2 4 0z"/>
<path fill="#8cff81" d="M860 941l-840 0 0-444 40-12 40-17 7-4 11-8 31-28 7-4 8-4 8-1 9 1 5 4 10 16 4 4 11 4 33 3 32 3 24 3 8-1 4-1 4-2 5-5 17-28 11-12 7-5 16-10 20-8 52-12 56-15 28-5 12-1 20 0 36 4 8 0 8-2 16-6 42-20 26-9 56-16 72-15 36-9 1 349zM648 524l8-2 8-4 4-4 3-6 3-20 1-12-1-12-4-12-4-8-7-8-19-19-12-11-8-5-8-3-8-1-8 2-8 5-4 4-11 16-12 16-5 8-3 8-1 8 1 8 2 8 5 7 20 23 6 6 6 4 10 4 14 2zM791 544l9-2 8-4 6-6 6-10 4-10 3-12 1-16 0-12-3-12-2-8-4-8-7-9-8-7-8-4-8-2-12 0-12 4-7 6-4 4-5 12-1 8 0 8 3 12 11 28 7 36 4 4 4 1zM829 708l3-7 1-9-1-8-4-7-4 1-1 2-2 4-1 8 1 8 3 8 4 1zM617 808l6-4 4-4 2-4 2-8 0-8-4-28-4-20-3-8-3-4-9-8-4-2-8-2-8 1-4 2-4 4-8 14-15 15-5 7-3 9 0 8 1 4 4 8 8 8 10 9 12 7 8 4 8 2 8 0zM317 804l3-4 1-4-5-5-8-4-8-1-8 2-5 4-1 4 0 4 2 2 2 2 6 3 4 1 8 0zM493 896l4-4 5-16 2-4 16-20 4-8 2-8-1-12-5-12-4-5-4-2-4-2-12 1-20 3-12 3-8 3-8 5-6 6-5 8-3 8 1 8 4 12 7 8 19 20 4 4 11 5 8 0z"/>
<path fill="#96ff76" d="M860 941l-840 0 0-440 28-8 24-9 56-24 29-24 6-4 5-2 4 0 4 1 4 4 4 9 4 3 8 4 8 2 64 3 36 4 8-1 5-3 7-6 19-30 9-10 8-5 12-7 24-9 42-9 50-15 36-8 16-2 16 0 16 2 24 5 12 0 12-4 51-26 21-8 64-18 68-14 36-10 1 346zM657 524l7-4 4-3 4-9 5-32 0-12-4-12-4-8-6-8-19-20-16-14-8-5-8-3-4-1-8 1-8 4-8 8-9 14-19 24-3 8-2 8 1 12 2 8 6 9 20 24 4 5 8 5 16 4 12 1 24-1zM800 544l8-4 7-8 5-8 5-12 4-16 0-12 0-12-2-12-5-12-4-8-6-8-8-6-8-4-8-3-8 0-8 1-12 5-4 4-6 7-4 8-1 8 0 8 1 8 4 12 9 20 2 12 3 24 3 8 5 3 4 1 16-2zM831 708l1-4 2-8-1-12-1-4-4-5-4 0-4 9-1 8 1 9 4 10 4 1zM611 812l5-1 8-5 5-6 3-8 0-12-6-44-4-12-6-8-4-4-4-2-8-4-8-1-4 1-4 1-4 3-10 18-18 20-5 12-1 8 3 8 6 8 21 18 8 5 8 3 8 2zM311 808l8-4 3-4 0-4-2-4-4-3-8-3-8-1-8 2-4 2-3 3-1 4 1 4 3 4 4 2 8 3zM488 900l8-3 5-5 4-16 5-8 12-16 5-12 1-12-3-12-5-8-4-4-4-2-8-1-20 3-12 2-12 4-8 4-8 6-7 8-4 8 0 12 3 10 7 10 17 20 4 4 8 5 8 2z"/>
<path fill="#a0ff6b" d="M860 941l-840 0 0-436 44-14 76-30 16-5 8-2 12 0 16 4 12 1 28-1 28 0 16 1 28 4 8-1 8-4 6-6 6-8 12-20 8-9 8-6 8-5 20-8 16-5 40-9 52-16 16-4 24-4 16 0 18 2 14 4 20 10 4 0 8-4 27-18 14-8 15-8 12-5 72-21 68-14 36-10 1 342zM649 528l7-2 8-3 4-4 5-7 6-32 1-12-2-12-4-8-6-10-28-31-16-13-16-9-4 0-8 6-12 12-11 17-13 16-5 8-4 8-1 8 2 17 3 7 5 8 20 25 8 6 8 3 20 4 16 0zM794 548l10-4 8-6 7-10 4-8 4-12 3-12 1-16-1-12-3-12-3-8-4-8-8-10-8-7-8-4-8-2-12-1-8 2-8 4-8 6-3 4-5 12-1 8 0 8 3 12 11 28 2 12 2 24 3 8 3 4 5 2 8 0zM830 712l2-3 2-5 1-12-2-12-1-3-4-5-4 1-4 6-2 13 1 12 4 8 1 1 4 1zM618 812l6-3 4-5 4-8 2-8-5-44-3-16-8-12-10-8-12-5-8 0-5 1-3 1-3 3-11 20-14 16-5 8-3 8 0 4 1 8 4 8 8 8 15 13 12 8 12 4 8 2 8-1zM315 808l6-4 3-4 0-4-3-4-5-4-8-3-12-1-8 3-4 5-2 4 1 4 3 4 6 3 12 3zM496 900l5-4 3-4 3-16 5-8 12-16 4-8 2-8 0-12-4-12-6-8-8-4-8 0-24 4-12 3-14 5-7 4-9 8-5 8-2 8 0 8 4 12 9 13 15 19 9 5 12 5 8 0z"/>
<path fill="#aaff5f" d="M860 940l-840 0 0-431 44-14 68-25 24-7 16-1 32 3 32-3 24-1 16 1 28 4 8-1 8-3 8-7 8-10 10-17 6-8 9-8 15-8 23-8 41-10 64-19 24-5 20-1 16 1 16 6 6 4 4 4 2 4-1 8-4 8-12 20-20 24-5 12-2 8 2 12 2 8 4 8 12 16 11 16 5 4 4 2 28 6 20 0 16-2 8-3 5-3 5-4 4-8 7-32 1-12-1-8-3-12-7-12-27-31-12-12-7-5-2-4 1-4 4-8 8-8 17-12 15-9 16-7 72-22 68-14 36-10 1 338zM783 552l13-2 8-3 8-7 6-8 7-12 3-12 3-12 1-16-2-16-3-12-5-12-6-9-8-8-8-5-8-3-12-2-8 1-8 2-7 4-5 4-4 4-5 8-2 8-1 8 3 16 10 24 3 8 1 8 2 28 2 8 3 5 4 2 4 2zM829 716l3-4 2-4 1-8 1-8-1-8-2-8-5-6-4 1-4 5-2 8-1 8 1 8 2 10 4 6 4 1zM614 816l6-2 8-7 5-7 2-8 0-12-4-36-4-16-3-7-4-6-4-4-8-6-8-3-8-2-20 0-4 4 3 4-6 16-17 23-5 9-1 8 1 8 4 8 7 8 14 13 12 8 8 4 8 3 8 1zM317 808l6-4 2-4 0-4-2-4-7-5-12-4-8 0-8 3-3 2-3 4-1 4 1 4 3 4 6 4 5 2 8 1 8-1zM489 904l7-2 4-2 4-4 4-8 1-8 3-8 14-20 4-8 2-8 0-12-4-13-4-6-4-4-8-3-8 0-24 4-12 3-12 5-8 4-8 6-7 8-3 8-1 8 2 12 5 10 16 23 8 7 8 4 12 4z"/>
<path fill="#b4ff54" d="M860 940l-840 0 0-428 40-12 64-23 28-7 16-1 36 0 32-4 20-1 20 1 28 4 12-1 8-5 8-7 6-8 12-20 6-7 8-6 12-7 22-8 42-10 64-20 24-5 20-1 16 2 12 5 6 5 2 4 2 4 0 4-3 8-7 16-23 28-5 12-1 8 2 12 2 8 3 8 15 20 7 13 4 4 4 2 8 3 12 1 12 3 20 0 16-2 12-5 4-3 6-8 3-8 7-28 1-12 0-8-3-12-6-10-44-54 1-4 5-8 8-8 17-12 13-8 12-5 72-22 60-12 40-11zM798 552l6-3 8-6 8-11 6-12 4-12 2-16 1-16-1-12-3-12-5-12-5-8-7-9-8-6-12-5-8-2-12 1-8 2-8 4-8 6-4 5-3 4-3 8 0 8 0 8 5 16 11 24 2 12 0 28 2 8 2 4 4 4 8 3 20-1zM831 716l2-4 3-8 0-16-2-12-2-4-4-4-4 1-5 7-2 8-1 12 2 12 4 8 2 2 4 1zM621 816l7-5 4-6 2-5 2-8 0-8-4-40-3-16-4-8-5-7-12-10-8-4-8-2-12-2-8 1-4 1-3 3-1 4 1 8 0 4-3 8-17 24-4 8-2 8 1 4 2 8 5 8 8 8 17 15 12 7 12 4 8 1 8 0zM320 808l5-4 2-4 0-4-3-5-8-6-8-2-12-1-8 3-5 3-3 4-1 4 1 4 3 4 9 6 8 1 8 1zM497 904l7-5 5-7 3-16 2-4 14-20 3-8 3-8 0-12-1-8-3-8-3-4-5-4-6-3-4-1-8 1-28 5-16 5-11 5-6 4-9 8-5 8-2 8 0 8 3 12 14 23 8 11 10 6 14 5 12 1z"/>
<path fill="#bfff49" d="M860 940l-840 0 0-424 36-10 68-24 28-6 12-1 36-1 37-6 23-2 20 2 28 5 8 0 8-4 8-8 7-9 13-21 6-7 6-5 13-7 20-8 43-10 44-16 20-6 20-4 20-2 12 1 12 4 7 5 4 4 2 4 0 4-1 8-6 16-22 28-4 8-2 8 0 8 5 20 4 8 12 16 7 16 3 4 7 3 16 2 12 3 24 1 16-2 8-3 8-5 4-4 4-7 10-36 2-12 0-8-2-12-4-8-13-16-28-40 1-4 5-8 9-8 12-9 12-7 12-5 71-23 61-12 36-10zM794 556l6-2 4-2 8-7 8-10 6-11 4-12 3-16 1-16-1-16-3-12-4-12-6-10-8-10-8-6-12-6-8-1-12 0-8 2-8 3-8 6-6 6-6 12-2 8 1 8 4 16 14 28 1 8 0 32 3 12 3 4 4 3 4 2 8 1zM830 720l3-4 3-8 1-16 0-8-2-8-3-6-4-3-4 0-4 5-3 8-2 12 1 12 4 12 4 5 4 0zM618 820l6-3 6-5 5-8 2-8 1-12-3-20-2-24-2-12-4-8-5-8-6-6-8-6-12-6-8-2-8-2-8 2-7 4-3 4-1 4 0 12-2 8-5 8-12 16-3 8-2 12 2 8 5 8 4 5 20 18 12 8 8 3 12 3 8 1zM311 812l11-4 5-4 1-3 1-5-2-4-4-4-11-6-12-1-12 2-7 5-2 4-1 4 1 4 5 6 4 3 8 3 8 1zM500 904l5-4 6-8 4-16 2-4 15-24 3-8 2-8-1-12-2-8-2-5-5-7-7-4-4-1-12 0-24 5-16 5-12 5-11 6-9 8-5 8-2 8 0 12 4 12 14 24 7 8 6 4 8 3 16 4 12 0z"/>
<path fill="#c9ff3d" d="M860 940l-840 0 0-419 36-11 64-22 28-6 16-2 36-1 36-8 24-2 20 1 28 8 8 0 4-1 8-5 4-4 28-41 8-6 9-5 23-9 40-10 60-21 24-5 20-2 12 2 12 4 5 5 4 8 1 4-1 8-4 12-17 20-6 8-4 8-2 8 1 8 4 20 4 8 13 20 2 4 1 12 3 4 4 2 8 1 16 1 8 2 28 2 16-3 8-2 8-6 4-3 4-6 3-8 10-32 2-12 1-8-2-12-3-8-5-8-8-8-17-28-6-12-1-4 2-4 8-8 12-9 12-6 12-5 68-24 60-12 36-10zM782 560l14-1 8-4 8-7 8-10 6-10 5-16 4-16 1-20-2-16-4-16-6-12-8-12-8-7-12-7-12-3-8 0-16 3-8 4-9 6-4 4-5 8-3 8-1 8 1 8 3 8 17 36 1 8-1 28 1 8 2 8 6 8 4 3 8 2zM832 720l5-12 1-8 0-12-1-8-3-8-2-4-4-3-4 0-4 4-1 3-4 12 0 12 1 12 4 10 4 5 4 1zM614 824l6-2 9-6 6-8 4-12 0-12-3-20-1-24-2-12-4-8-5-8-12-11-12-8-12-6-4-1-8 1-8 4-4 3-5 6-1 4 0 12-2 8-5 8-11 16-4 8-2 8 2 12 4 8 4 5 21 19 11 7 8 4 12 4 8 2zM316 812l8-4 4-4 2-4 0-4-1-4-5-5-12-6-12-2-12 3-9 6-2 4-1 4 1 4 3 4 4 4 8 4 8 1 8 0zM496 908l8-5 7-7 3-4 5-20 15-24 4-12 1-12-3-16-4-8-4-3-8-4-8 0-8 1-32 7-20 7-14 8-8 8-5 8-3 8 1 12 3 12 13 24 7 8 10 7 16 5 12 2z"/>
<path fill="#d3ff32" d="M860 940l-840 0 0-415 36-11 64-21 28-6 52-4 40-9 20-2 20 1 28 10 12-1 8-3 8-7 7-12 17-26 8-7 11-7 25-10 36-9 44-17 16-5 20-5 20-2 12 1 12 4 7 7 4 8 0 8-4 12-20 24-7 12-1 8 4 24 2 8 15 24 1 8-2 8 1 8 4 3 4 0 24 0 12 2 24 2 16-1 8-3 8-4 8-6 4-6 4-7 4-16 7-20 4-12 1-12 0-8-2-8-6-8-8-9-12-23-8-20 1-4 11-9 16-10 68-25 16-5 52-10 36-11zM778 564l14 0 8-3 12-9 8-11 7-13 6-16 4-20 0-16-1-16-3-12-6-16-8-12-7-8-12-8-12-4-12-1-16 2-12 6-7 5-5 4-6 8-4 8-1 8 1 8 3 8 19 34 2 6 1 8-2 28 0 8 3 9 4 7 8 6 8 2zM831 724l3-4 3-8 2-12 0-12-1-8-2-8-4-6-4-3-4 0-4 4-2 5-4 12 0 12 2 15 4 10 4 4 4 1zM623 824l6-4 6-8 4-8 1-8 1-8-3-24-1-24-3-12-6-13-12-14-24-19-4-2-8 0-8 4-8 6-5 6-3 4-3 24-4 8-12 16-5 12 0 12 3 12 3 8 2 2 28 20 12 7 12 4 12 2 12 0zM319 812l7-4 4-4 2-4 0-4-1-4-3-4-8-5-8-3-8-2-12 1-10 5-4 4-2 4-1 4 1 4 2 4 4 4 6 3 8 3 8 1 8-1zM500 908l8-6 8-10 6-20 12-20 7-16 1-12-2-20-1-4-3-4-4-3-3-1-9-2-12 1-36 9-16 6-14 6-11 8-6 8-4 8-2 12 3 12 11 24 8 12 5 4 7 4 19 6 16 1 8-1z"/>
<path fill="#ddff26" d="M860 940l-840 0 0-411 32-9 56-19 24-6 24-5 48-3 32-9 12-2 16-1 12 1 8 2 16 7 8 3 8 1 8-2 8-4 8-6 6-9 5-12 11-16 7-8 11-7 24-10 24-6 12-3 42-18 18-6 20-5 20-2 12 1 10 4 5 4 3 4 2 8-1 12-2 4-21 24-6 12-1 8 7 32 11 20 3 8 0 4-4 12 1 8 4 4 5 1 28-2 36 4 8 0 8-2 8-3 8-4 8-6 6-8 3-8 6-20 10-24 9-28-1-4-2-4-17-16-9-24-4-12-1-8 4-4 8-5 12-6 32-12 36-14 12-4 44-9 40-12zM796 568l8-5 12-12 8-13 7-14 4-16 4-20 0-20-3-16-5-16-6-12-8-12-9-8-12-6-20-6-12 0-8 1-8 3-4 3-7 9-13 12-6 8-4 8 0 4 4 8 14 20 16 26 1 10-2 16 0 16 2 12 3 8 4 5 4 3 8 3 20 2zM828 728l4-2 5-10 2-12 1-12-1-12-2-8-5-8-4-3-4 1-4 3-2 3-4 12-1 12 1 16 4 12 2 4 4 4zM494 912l6-2 4-3 14-15 2-4 4-16 12-20 6-12 3-12 2-12 1-4 4-2 32 16 12 3 12 2 8-1 8-3 8-6 6-9 3-8 1-12-3-28-1-24-2-12-4-10-8-12-19-18-9-11-4-3-4-1-4 0-8 4-16 14-5 5-3 8-2 16-2 8-14 20-3 8-2 8 0 16-1 4-4 2-16 4-36 9-25 9-11 6-7 6-4 4-5 8-3 12 0 8 2 8 10 24 8 12 11 8 12 5 20 4zM322 812l7-4 3-4 2-4 0-4-1-4-5-6-12-7-12-2-12 1-8 3-4 3-4 4-2 4-1 4 1 4 2 4 4 4 8 5 8 2 8 1 8-1z"/>
<path fill="#e7ff1b" d="M860 940l-840 0 0-407 32-9 56-18 24-7 28-4 48-4 28-9 16-3 12-1 8 1 12 4 20 10 8 1 12-1 12-5 9-8 6-8 5-16 4-5 9-11 11-8 26-12 18-4 12-4 44-20 16-6 24-7 20-1 12 2 9 4 4 4 3 4 2 8-1 8-2 4-15 16-8 12-4 8-1 8 0 4 5 12 2 16 12 24 1 8-5 16 1 8 4 4 5 2 8 0 24-4 8 0 24 6 8 0 12-3 12-5 11-8 7-8 4-8 8-24 14-30 4-5 4-2 4-1 4 2 8 7 8 10 10 15 1 8-3 20 0 16 2 12 5 12 5 5 8 5 24 5 8 0 4-2 8-8 8-10 7-11 10-20 5-20 3-24-1-20-5-20-7-16-8-13-12-11-15-8-9-6-8-4-8-2-12-1-12 1-12 5-4 3-6 8-2 8 1 8-9 6-4 2-4 0-4-1-4-3-2-32 1-12 2-4 39-14 32-15 52-12 40-12zM832 728l4-6 3-10 2-12 0-12-2-12-3-8-4-6-4-3-4 1-4 3-4 8-3 13-1 12 2 16 3 8 3 7 4 3 4 1zM499 912l9-7 12-13 2-4 5-16 14-24 11-26 4-2 4 0 36 13 8 1 8 0 8-1 8-4 8-9 4-7 3-9 1-12-4-24 0-28-2-12-3-8-7-12-18-20-10-18-4-3-8 0-4 1-8 4-24 24-4 8-1 16-2 8-11 16-5 8-2 8-3 19-4 5-24 8-28 7-23 9-9 5-10 7-4 4-5 8-3 12 0 8 1 8 9 24 8 12 4 4 8 5 8 4 12 3 20 3 8-1zM312 816l13-4 6-4 3-4 2-4 0-4-1-4-3-5-4-4-12-6-8-2-8 0-8 1-8 3-7 5-3 4-2 8 0 4 2 4 6 6 8 4 8 2 8 1z"/>
<path fill="#f1ff10" d="M860 940l-840 0 0-403 32-9 56-17 24-7 32-5 48-1 19-10 12-4 9-2 12 0 12 2 8 4 12 8 8 3 12 1 12-2 13-6 10-8 8-12 4-16 3-4 6-7 8-6 16-7 36-12 47-24 17-7 24-7 12-1 8 0 12 2 8 4 4 5 3 8 0 8-3 4-14 16-8 12-4 8-1 8 1 8 4 8 3 16 3 9 6 11 2 8 0 4-5 12-1 4 1 8 2 4 3 3 8 2 12 1 8 0 20-4 8 1 12 5 8 1 12-3 16-7 11-7 7-8 4-8 8-24 4-8 10-17 4-5 4-3 4-1 4 1 8 5 8 9 8 11 1 8-3 20 0 20 2 12 6 12 6 6 8 4 24 6 8 1 4-2 4-3 12-16 10-16 7-16 5-16 4-20 1-20-2-16-3-16-5-12-5-12-8-11-8-8-8-5-16-17-8-5-21-10-4-4 2-4 15-7 48-13 40-13zM830 732l2-1 4-6 3-9 2-12 1-12-1-12-4-12-5-8-4-2-4 0-4 3-4 7-4 16-1 12 2 16 4 12 3 5 4 4 4 0zM491 916l5-1 8-4 19-19 2-4 3-12 4-8 10-16 10-19 4-5 4-1 4 0 36 10 8 1 8 0 8-2 6-4 6-6 4-7 4-11 1-12-1-12-2-16 0-28-2-12-3-8-5-9-19-27-5-17-4-5-4-1-8 0-8 2-8 5-4 3-12 13-12 12-4 8-1 16-1 8-11 16-5 8-2 8-3 16-2 4-6 4-10 4-39 12-24 9-8 4-9 7-4 4-5 8-4 12 0 8 1 8 7 20 4 8 5 8 9 8 16 7 20 5 12 0zM318 816l6-2 8-5 4-5 2-4 0-8-2-4-4-4-8-7-12-4-16 1-8 2-8 4-5 4-3 4-2 4 0 8 6 8 4 3 8 4 12 3 8 0z"/>
<path fill="#fbff04" d="M860 940l-840 0 0-398 32-9 64-20 28-7 28-3 8 1 24 5 8 0 8-3 12-10 7-4 13-4 12-1 8 2 7 3 13 9 8 3 12 1 16-2 17-7 7-5 8-7 6-8 4-8 5-16 9-7 12-5 20-5 54-31 26-12 24-7 12-1 8 0 8 1 8 4 4 3 3 4 1 4 1 4-1 4-3 4-13 15-6 9-4 8-4 12 2 8 4 8 2 12 2 8 8 20 1 8-5 11-1 5 1 8 4 8 8 4 24 3 8-1 12-4 4 1 12 6 8 2 12-3 12-5 16-9 8-7 4-5 4-8 7-22 5-11 12-17 4-3 4-1 4 0 4 1 8 6 8 10 3 7 0 8-4 16 0 20 3 16 6 12 8 7 8 4 24 5 8 1 4-1 8-7 8-11 9-14 7-16 6-16 4-16 3-28-2-24-4-16-4-12-5-12-6-9-6-7-9-8-7-20-2-12 1-4 3-3 6-5 16-8 34-13zM675 664l5-8 1-4-1-4-8-4-12-1-8 2-6 3-2 4 3 4 13 8 8 3 4-1zM498 916l6-3 21-21 3-4 3-12 4-8 17-28 4-5 4-2 8-1 32 10 8 1 8 0 8-2 8-5 7-8 4-8 3-12 1-12-4-28 0-24-1-12-2-8-3-8-20-32-1-8-1-16-3-4-8-2-8 1-16 6-9 7-11 13-18 15-5 8-1 4 3 12-1 8-13 20-4 12-2 12-2 4-3 4-6 4-9 4-35 10-28 11-12 7-5 4-4 4-5 8-3 8-1 8 0 8 2 8 6 20 5 8 6 8 7 5 8 5 16 5 24 3 12 0zM833 732l5-8 3-12 1-12 0-12-1-12-4-12-5-6-4-2-4 0-4 3-5 9-4 16-1 16 4 20 2 6 4 6 4 3 4 1zM322 816l9-4 4-4 3-4 2-4 1-4-2-8-7-12 0-5-3-3-25 2-16 4-11 6-7 8-2 4 1 8 4 8 7 5 8 4 12 2 12 0z"/>
<path fill="#fffa00" d="M860 940l-840 0 0-392 36-10 51-18 33-8 16-1 8 1 12 2 24 6 12 1 8-1 9-4 7-4 12-11 4-2 8-1 8 0 16 8 12 4 16 0 20-4 16-6 13-8 9-8 14-17 8-8 8-4 16-5 4-3 9-11 42-28 17-9 17-7 15-4 16-1 8 1 10 4 6 7 2 5-2 4-2 4-13 16-8 12-3 8-2 8 1 8 5 8 4 20 7 20 0 8-4 12-1 8 2 8 6 7 8 4 28 6 16-1 16 5 8 0 16-6 21-11 7-5 7-7 7-12 7-24 4-8 11-14 4-4 4-1 4-1 4 1 8 6 4 5 5 8-1 8-4 16 1 24 3 16 6 12 8 8 10 4 28 4 8-1 5-3 8-8 9-12 8-16 7-16 5-16 3-16 2-16 0-24-5-24-5-16-5-13-7-11-8-8-1-8 1-12 3-9 8-9 12-9 20-12zM489 920l7-1 8-4 12-13 12-10 3-4 5-15 4-8 12-18 4-5 4-3 4-1 8 0 28 8 8 2 8 0 12-3 7-5 5-6 4-7 2-7 3-16-1-16-4-20 1-32-2-8-3-10-17-30-2-8 1-8 2-4 4-4 4-2 4 0 8 1 8 2 16 7 4 0 8-7 12-18 8-9 2-6-2-2-4 1-8 7-4 1-28-1-12 1-20 6-16 3-12 3-12 5-8 4-9 8-11 13-18 11-5 4-7 8-1 4 0 4 6 8 1 4 0 4-11 24-5 20-2 4-4 4-6 4-9 4-31 9-29 11-14 8-6 4-7 8-4 8-2 8-1 8 0 8 6 20 3 8 6 8 4 5 8 6 16 7 24 5zM833 736l5-8 3-12 2-12 0-16-1-12-4-12-6-8-4-2-4 0-4 3-6 11-4 16 0 16 3 20 5 12 2 3 4 3 4 1zM310 820l10-2 8-3 8-5 5-6 2-8-1-16 5-8 1-4-2-4-2-1-8-3-11 0-33 10-8 4-8 4-6 6-2 4-2 4 0 8 5 8 5 4 8 5 8 2 8 1z"/>
<path fill="#fff100" d="M860 940l-840 0 0-383 36-10 56-18 20-5 12-2 12 1 40 7 16 0 16-3 36-12 8-1 24 1 12 0 16-2 12-4 15-5 13-7 32-24 24-13 9-8 11-16 4-4 16-12 18-12 16-8 14-6 16-3 12-1 8 2 8 4 4 4 2 4-1 4-3 4-12 16-8 12-3 8-2 8 1 8 7 12 3 16 5 20 0 8-3 12 1 12 3 8 6 6 28 9 24 12 4 0 8-1 16-5 32-17 8-5 7-7 8-12 7-24 3-8 7-9 8-8 4-2 4 0 8 3 4 3 4 5 2 4 0 8-4 16 0 24 2 16 4 10 4 7 8 8 8 4 12 1 28-1 4-1 10-8 7-8 5-8 11-24 8-28 3-16 2-16 0-16-2-16-6-24-5-16-5-11-8-13 3-12 6-12 11-10 16-11zM498 920l6-3 12-13 15-12 3-4 6-16 4-7 8-11 8-8 4-2 8-1 8 2 24 8 12 2 8-2 8-3 4-3 6-7 6-13 3-19-1-16-4-24 1-32-2-8-2-8-15-32-1-8 1-4 4-5 8-3 12 1 16 6 4 0 4-2 6-5 23-28 4-8-1-5-4-3-4 0-4 2-12 8-4 1-36-2-16 3-32 11-20 10-9 7-11 14-4 3-17 7-7 4-4 4-3 4-2 4 0 8 1 4 4 8 1 4 0 4-7 20-5 20-2 4-4 4-6 4-9 4-28 8-36 14-12 6-6 4-7 8-5 8-2 8-1 8 1 12 2 12 3 8 4 8 7 9 8 6 8 5 20 7 16 2 16 2 12-1zM832 740l6-8 4-12 2-12 0-16-1-16-4-12-5-8-2-2-4-2-4 0-4 3-5 9-4 12-2 8 0 16 2 20 5 13 4 6 4 2 4 1zM320 820l8-3 8-4 5-5 3-4 2-8 1-12 8-12 1-4-2-4-6-5-8-3-8-1-8 0-8 2-36 16-9 7-6 8-2 8 3 8 2 4 8 6 8 4 12 3 12 1z"/>
<path fill="#ffe800" d="M860 940l-840 0 0-375 35-9 53-16 20-4 12-2 12 0 40 4 20-1 20-4 36-10 12-2 36-2 16-3 16-5 20-9 60-38 12-12 13-20 9-8 17-12 14-8 15-6 12-3 12-1 12 2 6 4 3 4-1 4-2 4-19 28-3 8-1 8 0 8 7 12 1 4 6 28 1 8-3 16 1 12 4 9 8 7 20 7 10 5 9 8 5 8 4 4 4 1 4 0 4-1 30-20 28-16 10-8 6-8 4-8 6-24 4-8 4-5 8-7 4-2 4-1 4 1 4 2 4 4 2 4 1 8-3 12-1 8-1 16 1 12 5 20 8 15 4 4 8 3 8 0 36-3 8-3 6-4 8-8 6-8 9-20 9-28 4-16 2-16 1-16-1-16-3-16-7-32-4-12-6-12 2-8 6-9 8-9 12-10zM492 924l8-2 4-2 13-16 18-12 3-4 6-15 4-7 8-10 8-6 4-1 8 1 28 10 8 2 8 0 12-4 8-6 4-5 4-7 3-8 2-16-1-20-5-28 1-32-3-16-13-28 0-4 0-6 4-6 8-3 8 0 16 4 4 0 4-1 4-3 24-26 8-11 3-8 1-4-3-4-5-1-8 1-4 2-12 9-4 1-8 0-36-4-12 1-12 5-36 20-12 10-12 13-24 9-7 6-3 4-2 4-2 8 1 8 5 12-1 8-9 36-2 4-4 4-12 6-54 18-20 8-14 8-8 8-5 8-2 8-2 8 0 12 3 12 4 12 5 8 7 8 14 9 8 4 12 3 12 3 20 2zM831 744l5-5 4-7 2-8 3-16 0-16-1-16-4-12-4-8-4-4-4-2-4 0-4 3-6 11-5 16-2 16 3 24 5 16 5 6 4 3 4 0zM327 820l9-4 9-8 4-8 3-12 9-12 2-4 0-4-1-4-6-5-8-4-12-3-12-1-8 2-8 3-28 14-9 6-7 8-3 8 0 8 4 8 4 4 7 5 12 5 12 1 16 0z"/>
<path fill="#ffdf00" d="M860 940l-840 0 0-366 80-22 24-5 20-3 44 1 28-2 20-4 36-10 48-5 32-7 12-3 11-6 16-12 33-20 11-8 11-12 19-28 15-12 14-8 10-5 12-3 12-2 12 2 6 4 1 4-4 8-15 24-3 8-1 8 1 8 1 4 7 12 4 24 1 12-1 20 2 12 5 8 4 4 24 10 9 6 6 8 5 9 4 6 8 6 8 4 4 0 4-5 6-12 12-12 14-10 23-14 10-8 6-8 3-8 6-28 4-6 4-3 8-5 4 0 4 0 4 3 2 3 1 4-3 24-1 16 0 12 3 16 10 29 4 3 8 1 48-8 8-3 10-6 5-4 6-8 5-8 6-12 8-28 6-32 2-16-1-16-7-52-7-28 8-12 11-11zM501 924l3-2 4-3 7-11 5-5 19-11 3-4 6-13 4-7 4-4 8-6 4-1 8 0 28 11 8 2 8 1 8-1 8-4 4-2 7-8 5-10 3-10 1-12 0-12-2-16-5-28 1-24 0-12-3-12-10-24-1-8 0-4 4-5 8-3 8 0 16 3 8-3 9-8 24-28 10-16 1-4 0-4-4-2-4-1-8 1-12 5-12 8-8 2-24-4-28-8-4 0-4 1-14 14-34 25-16 16-4 2-16 5-8 4-8 8-4 8-1 8 1 8 3 12 0 12-6 28-4 8-4 4-7 4-6 2-78 26-15 8-9 8-4 8-4 12-1 8 0 12 3 12 5 12 5 8 8 8 10 7 8 4 12 4 12 2 20 2 20 1 12-1zM831 748l5-5 2-3 5-12 3-16 1-20-2-16-5-16-5-8-3-3-4-1-4 0-4 3-4 5-4 8-5 20-1 16 3 24 6 16 5 6 4 3 4 0zM321 824l7-2 8-3 10-7 6-8 7-16 9-12 1-4 0-4-1-4-3-4-6-4-11-4-16-4-12 0-8 2-12 4-24 15-9 7-7 8-2 8 0 8 4 8 3 4 7 5 12 6 12 2 12 1z"/>
<path fill="#ffd700" d="M860 940l-840 0 0-358 76-20 28-6 16-2 20-1 16 0 16 1 12 0 20-4 52-15 44-5 24-4 20-1 8-1 12-6 11-10 16-16 20-12 10-8 11-12 22-32 9-8 13-8 16-7 12-2 8 0 4 2 4 3 0 4-4 8-12 20-3 8-1 8 3 12 5 9 3 7 2 12 2 16-1 20 2 12 3 8 7 8 6 4 18 8 10 8 18 32 2 8-1 4-2 4-6 8-25 20-14 12-8 5-20 7-6 4-6 8-4 8-1 8 1 8 3 12 0 12-4 28-5 8-4 4-7 4-35 12-32 9-29 7-10 4-6 4-4 4-6 8-3 8-2 12 1 20 2 12 3 8 4 8 6 8 8 7 7 5 17 7 20 3 40 1 12 0 12-2 8-3 4-4 8-14 4-4 8-5 10-3 7-4 11-18 8-7 4-1 8 0 32 13 8 2 8 1 8-1 8-4 6-5 6-7 4-8 3-9 1-12 0-12-2-20-7-36 2-28-1-8-3-12-8-20-2-8 1-4 2-4 6-4 8-1 16 2 4-1 7-4 17-16 14-16 18-23 10-9 10-5 16-5 40-10 15-8 5-4 6-8 7-12 6-16 7-28 4-24 1-20 0-16-4-28-3-32-3-16 2-4 9-10zM680 625l-8 0-12-2-10-3-8-4-8-8-1-4 0-8 4-8 12-12 11-8 22-12 9-8 3-4 3-8 4-24 2-8 5-5 4-3 4-1 4 0 4 2 2 3 1 4-5 44 1 12 6 24 0 12-2 4-3 3-24 10-16 11zM362 628l2 0 4-4 4-8 2-8 0-12-2-5-4-3-4 1-4 5-4 14 0 12 1 4 3 4zM833 752l3-3 4-7 5-14 2-20 1-20-3-16-3-12-6-10-4-3-4-2-4 1-4 3-4 5-4 8-6 22-1 20 2 20 3 12 4 8 6 7 4 3 4 0zM313 828l11-1 12-4 12-6 6-5 5-8 5-11 8-11 2-6 0-8-1-4-3-4-5-4-13-6-16-5-12-1-12 1-12 4-16 8-16 12-10 11-4 8-1 8 1 4 3 8 7 7 8 6 12 4 12 3z"/>
<path fill="#ffce00" d="M860 940l-840 0 0-349 96-24 12-1 4-1 8 4 8 3 12 1 12-1 28-6 53-18 23-6 20-3 44-1 8 2 5 4 1 4 0 8-4 16-2 10-1 14 1 16 2 12 3 8 3 3 4 1 4 0 6-4 6-6 4-8 4-10 2-12 1-8-3-28 1-12 5-12 9-12 21-25 12-11 12-9 7-7 32-44 8-8 13-7 12-4 8 0 4 0 4 3-2 8-11 20-3 12 2 12 8 16 4 12 2 16 0 24 2 12 3 8 7 9 4 3 18 8 10 8 7 12 8 20 1 8-1 8-6 8-33 29-8 5-24 8-4 3-6 7-5 12-1 8 1 8 3 16 0 16-4 20-4 8-5 4-8 4-31 11-20 5-16 4-12 1-12 0-12-1-4-1-3-3-1-1 0-7 3-12 0-8-2-8-5-7-8-5-20-8-16-4-12 0-12 2-16 5-11 5-9 6-8 7-6 7-4 8-3 12 2 12 5 8 6 6 12 8 12 4 8 1 16 2 28-1 4 0 4 3 2 5 0 20 3 16 6 24 3 8 6 9 8 8 8 6 16 6 16 2 20 0 48-4 12-2 12-4 6-5 5-12 5-6 8-5 19-5 5-4 8-10 4-3 4-2 4 0 8 1 32 16 12 3 8 0 8-2 8-5 4-4 7-10 5-12 2-12 0-12-3-24-10-48 2-28-1-8-3-12-7-20-1-8 1-4 4-4 4-2 8-1 12 1 4 0 11-6 17-16 28-32 16-13 12-6 12-5 42-12 8-4 10-7 8-9 8-16 6-20 6-31zM680 622l-8 0-9-2-11-4-4-3-5-5-2-4-1-4 1-8 5-8 8-8 10-7 25-13 10-8 4-8 1-24 2-8 2-4 4-2 4-1 4 2 1 5-1 13-5 23 0 4 7 32 0 8-1 4-3 4-4 4-18 11-12 9zM831 760l5-4 3-4 6-16 3-20 1-20-1-20-5-16-3-7-4-5-4-4-4-1-4 1-4 2-4 5-4 8-7 25-1 20 2 24 3 12 3 8 4 6 4 4 4 3 4 0z"/>
<path fill="#ffc500" d="M428 801l-12 1-8 0-9-2-9-4-4-4-1-4-3-20-2-6-4-6-5-4-7-3-28-10-12-3-8 0-48 6-20 1-8-1-8-2-12-6-35-26-9-8-10-12-7-12-3-12-1-12 2-16 5-16 7-12 11-12 15-12 29-16 28-12 24-7 20-2 20 2 9 3 5 4 2 4 3 8 9 48 5 16 3 5 5 3 7 0 8-3 9-9 5-8 5-12 4-16 3-28 2-12 4-12 7-12 13-17 24-23 24-31 24-29 11-8 5-1 4 0 1 5-6 20 0 8 3 12 10 18 3 10 2 16 1 28 3 12 5 8 6 7 20 11 8 6 3 4 4 8 5 16 2 8 0 8-3 8-7 8-24 21-8 5-27 10-5 4-4 6-5 10-2 8-1 8 5 20 0 12-2 20-3 8-3 4-5 4-4 2-26 10-14 4zM860 940l-374 0 10-3 12-5 4-5 5-15 2-4 5-4 8-3 20-2 12-6 8-3 8 2 9 4 11 8 20 17 8 5 4 1 8 0 4-1 8-4 4-4 8-11 6-15 4-20 1-16-4-24-16-60 0-12 2-16 0-8-3-12-8-24 1-8 1-3 4-4 4-1 8-1 12 0 8-3 4-3 15-13 29-32 12-10 12-7 24-11 41-12 8-4 6-4 8-8 8-12 4-12 5-20zM680 617l-4 1-8-1-8-2-5-3-5-4-2-4-2-4 1-8 4-8 4-4 9-7 28-12 8-3 4 0 4 3 4 7 3 12-1 8-4 8-5 4-21 15zM835 772l3-4 4-8 5-16 3-24 1-28-2-16-2-12-4-8-3-7-4-5-4-3-4-1-4 1-4 2-4 5-7 16-6 24-1 32 4 24 4 12 4 8 6 7 4 3 4 1 4-1zM340 940l-320 0 0-57 64-18 16-6 12-5 12-8 12-9 32-33 16-12 16-8 8-2 8 0 8 3 3 3 7 20 5 8 9 9 8 6 8 4 12 3 25 6 9 4 4 4 6 10 4 10 3 12 2 24 2 12 4 12z"/>
<path fill="#ffbc00" d="M444 796l-24 3-12-1-8-2-5-4-3-4-2-4-4-16-6-11-8-8-12-5-28-10-8-2-36 1-16-1-16-4-12-6-12-9-19-17-12-12-5-8-6-12-2-8-2-12 1-12 3-12 8-16 11-12 14-12 17-10 20-8 16-5 16-1 12 2 8 3 4 3 7 8 9 20 11 36 4 8 4 4 5 3 8 1 11-4 5-4 6-8 5-8 6-12 5-16 7-36 4-12 6-12 13-16 24-21 4-5 7-14 9-12 8-7 4-3 8-3 4 1 4 4 15 24 4 8 3 16 2 32 2 8 3 8 5 8 5 4 21 12 7 8 5 8 3 12 3 12-1 8-3 8-6 8-20 18-12 7-24 8-4 3-6 8-8 16-1 8 1 8 4 16 1 12-2 20-2 4-3 6-7 6-9 4-24 9zM720 896l-4 1-8-3-8-6-4-6-4-9-10-29-18-47-7-25 0-12 2-16 0-8-2-12-7-20-1-8 1-4 3-4 3-2 8-2 8 1 7-1 5-2 8-5 15-13 25-28 12-10 16-10 27-12 17-6 20-4 14-6 6-5 7-7 5-8 4-9 0 205-4-5-3-11 0-52-3-28-4-12-7-12-7-6-4-1-4 1-4 2-4 4-4 8-6 16-5 20-3 56 4 40 0 12-1 16-5 16-4 8-5 8-12 12-39 33-8 5zM680 613l-4 1-8-1-4-1-6-4-4-4-2-4 0-4 2-8 6-8 12-7 16-5 8-1 4 1 4 3 3 5 1 8-1 4-2 4-7 8-10 8zM592 940l-86 0 6-5 3-3 1-4 1-12 1-4 3-4 7-4 8-1 16 2 20 0 8 3 8 8 4 8 1 8z"/>
<path fill="#ffb400" d="M436 796l-12 1-8 0-8-2-8-4-5-7-7-20-5-8-7-7-8-5-40-15-8-1-32-1-16-3-12-4-12-7-10-9-15-16-9-12-4-8-4-8-2-12-1-8 2-12 4-12 6-12 11-12 9-8 13-8 16-7 16-3 12 0 8 2 8 4 8 6 4 6 9 16 13 32 6 9 4 3 8 3 8 0 8-3 5-4 8-8 12-20 6-16 9-40 5-12 5-8 6-9 7-7 21-16 5-4 3-5 8-18 4-5 8-7 8-2 4 1 4 3 4 4 7 9 4 8 4 16 4 36 2 8 4 8 7 8 20 12 5 4 5 8 4 8 2 12 1 8 0 8-3 8-3 4-7 8-12 11-12 7-20 6-8 4-4 3-4 7-10 18-1 8 1 8 5 16 1 12-1 16-2 8-2 4-3 4-4 3-11 5-22 8zM676 608l-8 0-4-2-4-4-2-6 1-8 3-4 4-4 10-5 12-1 7 2 3 4 1 4-2 8-2 4-7 6-8 5zM732 860l-8 2-8 0-8-3-4-3-8-8-8-11-16-28-8-19-5-18 0-12 3-16 0-8-2-8-7-24-1-8 2-4 6-5 4-1 8 1 8-2 12-6 14-11 26-28 16-13 12-7 24-12 20-8 20-2 12-3 12-7 5-4 7-8 0 155-2-15-4-36-4-20-5-12-6-8-7-5-4-1-4 1-4 2-4 4-6 11-9 32-5 28-2 8-4 8-9 16-3 8-1 12 2 24 0 12-2 12-2 8-7 12-10 12-14 11zM568 940l-48 0 2-4 0-4-3-12 1-8 4-5 8-3 8 1 6 3 20 12 4 4 1 4 0 8-1 4z"/>
<path fill="#ffab00" d="M448 793l-16 2-12 0-8-2-8-4-4-4-3-5-7-16-6-11-8-8-8-4-40-15-8-2-24-1-12-1-16-6-12-7-8-6-10-11-9-12-5-8-5-12-2-8-1-12 1-8 1-8 6-12 8-12 8-8 12-8 12-6 12-3 12 0 8 1 8 4 12 10 10 14 15 32 7 8 8 5 8 1 8-1 8-3 4-3 7-7 9-12 7-12 6-16 9-36 5-12 7-12 6-8 8-7 20-13 4-4 10-20 6-7 4-3 4-1 4 1 8 5 4 5 4 8 4 16 5 32 6 16 5 7 4 3 16 9 4 3 5 6 2 4 3 8 2 12 1 8-1 8-3 8-5 8-8 8-8 6-12 6-24 8-5 4-19 32 1 8 5 16 3 12 0 16-2 12-2 4-4 4-6 4-20 8zM680 601l-4 1-4 0-4-2-3-4-1-4 1-4 3-4 8-4 8 1 5 3 1 4-1 4-3 4zM732 841l-8 2-8 0-8-2-8-5-8-7-8-9-12-19-7-17-4-12 0-12 3-16 1-8-2-8-7-24 0-9 2-3 6-4 16-1 8-3 12-8 10-8 18-21 7-7 17-12 12-8 36-17 8-1 20 0 8-1 13-5 11-7 0 101-6-26-4-12-7-12-7-8-4-2-4 0-4 0-4 3-7 7-3 8-18 62-8 12-16 18-5 8-2 12 2 24 0 12-2 12-3 8-4 8-6 7-8 6zM544 930l-4 1-8 0-8-6-2-5-1-4 1-4 2-3 4-2 8-1 4 2 5 4 2 4 1 4-1 4z"/>
<path fill="#ffa000" d="M444 792l-12 2-8 0-8-2-8-4-8-8-9-20-4-8-7-7-8-5-36-15-8-3-32-3-12-2-12-5-12-7-10-9-7-8-5-8-7-12-4-12-1-8 1-16 4-12 4-8 6-8 8-8 11-7 8-3 12-3 8 0 8 2 8 3 12 10 8 11 14 27 6 7 4 4 8 4 8 2 10-1 10-4 5-4 7-8 10-12 7-12 5-12 10-40 5-12 5-8 7-8 7-7 20-13 5-4 11-17 4-5 4-2 4-1 4 1 4 4 4 7 4 13 7 32 6 16 6 8 4 4 15 8 5 4 5 8 3 8 1 8 1 12-1 8-3 8-6 8-13 12-10 5-23 7-7 4-4 4-10 20-8 8-2 4 1 4 8 20 4 16 0 16-3 8-2 4-6 5-14 7-14 5zM724 828l-12 1-8-2-8-5-8-6-8-10-11-18-4-12-2-8 0-8 4-16 1-8-2-8-7-24 0-4 1-5 4-4 16-2 8-3 11-6 13-10 19-22 9-9 20-13 36-18 8-4 4 0 24 5 4 0 12-3 12-4 0 59-6-13-7-12-7-8-4-3-4-2-4 0-8 4-5 5-5 8-10 36-8 24-2 4-10 12-23 20-6 8-2 4 0 8 2 32-1 12-3 8-5 8-6 6-4 3zM532 924l-4-1-3-3-2-4 1-4 4-3 4-1 4 1 4 3 1 4-1 5-4 3z"/>
<path fill="#ff9500" d="M436 792l-8 0-8-1-7-3-5-3-7-9-7-16-4-8-7-8-7-5-40-17-12-3-24-3-12-2-12-5-12-7-7-6-7-8-7-12-4-8-4-12-1-8 2-16 2-8 4-8 6-8 8-7 8-5 8-3 8-2 8 0 8 1 8 4 12 9 8 11 14 24 10 10 8 4 8 2 12-1 9-3 6-4 4-4 17-20 6-8 4-12 10-40 5-12 7-11 12-12 24-17 16-15 4-1 4 1 4 5 3 6 11 36 7 16 7 8 20 12 5 8 2 8 1 8 1 12-2 8-5 12-6 7-6 5-10 6-24 7-6 3-6 6-8 17-4 4-4 3-10 2-2 4 2 4 12 20 4 8 2 8 1 12-1 8-2 8-3 4-4 4-7 4-12 5-12 4zM720 817l-4 1-8 0-8-3-8-4-12-11-10-16-4-12 0-8 5-28-1-8-7-20-1-8 2-4 4-3 16-3 20-10 9-8 23-26 24-17 43-21 5 0 4 1 6 3 1 4-1 4-9 12-1 4-7 32-9 24-7 12-9 9-12 9-22 14-4 4-2 4 0 4 5 28-1 16-3 8-5 8-4 4zM536 917l-4 3-4-2-2-2 1-4 5-1 3 1 2 4z"/>
<path fill="#ff8a00" d="M452 788l-12 2-12 0-8-1-8-4-8-9-9-20-7-10-8-8-8-4-36-16-12-2-20-2-12-3-12-4-8-4-12-11-7-8-4-8-4-8-3-12 0-16 2-8 3-8 5-8 7-8 13-8 8-2 8 0 12 2 12 8 8 8 18 28 6 6 8 5 8 3 12 1 12-2 8-4 6-5 7-8 12-12 6-8 4-12 9-40 5-12 7-12 7-8 10-8 27-18 4-2 4 0 4 2 4 4 4 8 11 30 7 12 6 7 16 8 4 5 3 8 1 5 1 11-1 12-4 12-6 8-6 6-12 6-20 5-8 4-7 7-9 19-4 2-12 0-6 3-2 4 1 4 2 4 13 16 7 12 3 12 0 16-2 8-3 4-5 4-16 8zM708 808l-4 0-8-2-8-5-8-8-8-13-3-8-1-8 1-8 5-16 1-8-7-20-2-8 1-4 5-4 16-5 21-11 7-7 21-25 23-16 36-16 8-2 4 2 0 4-6 12 1 16-3 16-8 21-8 14-12 11-12 7-16 8-21 7-5 4 1 4 7 12 4 12 2 12-1 8-2 8-5 9-8 5z"/>
<path fill="#ff7f00" d="M444 788l-12 1-7-1-9-3-4-3-7-10-7-16-6-9-8-9-8-6-36-16-12-3-32-4-12-4-12-7-10-10-6-8-4-8-2-8-2-8 0-8 1-8 2-8 4-8 9-11 12-7 8-2 8 0 12 4 8 5 8 9 16 23 8 8 8 5 8 3 12 1 12-1 12-4 7-5 6-8 15-12 5-8 4-12 3-24 4-16 4-12 8-13 10-11 14-10 16-9 4-1 4 1 4 2 4 5 14 32 6 9 8 9 13 6 4 4 3 12 0 12-1 12-4 12-7 9-4 3-8 4-24 7-8 4-5 5-7 14-4 6-4 0-8-1-8 0-4 2-3 3-1 4 2 8 6 8 12 12 8 12 3 12 1 8 0 8-3 8-3 4-5 4-17 8zM712 797l-8 2-4 0-8-2-8-6-4-4-6-11-3-8 0-8 3-8 5-12 2-8-1-4-8-16 0-8 2-4 2-1 36-17 8-8 17-22 7-7 12-8 16-8 20-6 2 1 1 8 4 12 0 12-2 12-5 12-4 7-6 9-6 6-8 5-16 8-20 6-28 3-6 4-1 4 3 4 10 8 7 8 4 8 2 8 1 8-2 8-4 8z"/>
<path fill="#ff7400" d="M456 784l-8 3-12 1-8-1-8-3-6-4-4-4-12-24-6-10-6-6-6-5-12-6-24-11-12-3-24-3-12-2-12-5-8-5-5-4-7-8-7-12-3-12-1-8 1-8 2-8 4-8 8-10 4-3 8-4 12-1 12 3 8 5 8 9 12 17 8 8 8 7 8 4 12 2 12 1 16-2 11-4 9-7 16-9 5-8 3-12 1-28 2-16 5-16 6-12 6-8 12-10 16-9 8-2 4 1 4 3 4 5 14 28 6 9 8 8 12 7 2 4 1 8-2 24-4 12-7 8-10 6-24 5-8 4-6 5-6 10-4 4-4 1-24-5-4 1-4 5 0 8 4 12 6 8 18 16 7 8 4 8 3 12-1 12-2 8-3 3-8 6zM700 720l-8 3-4 0-4-2-4-4-2-5-1-4 1-4 3-4 7-4 8-4 16-6 4-3 24-31 16-12 8-5 12-4 8-1 4 2 4 5 4 10 1 5-1 8-5 16-4 8-7 9-12 10-16 7zM708 789l-8 2-8-1-9-6-3-4-4-7-2-9 2-9 4-8 4-5 4-2 4 0 4 1 8 6 5 5 5 8 2 8 0 8-3 8z"/>
<path fill="#ff6800" d="M480 653l-4 1-4-1-4-4-12-17-4-8-4-13-2-11 1-12 2-12 3-10 5-10 6-8 8-8 9-6 8-4 8-1 4 2 4 3 4 5 14 25 18 24 4 16-1 16-2 8-2 4-4 4-6 4-9 3-24 4zM452 784l-12 2-8 0-8-2-7-4-7-8-10-22-6-10-7-8-11-7-24-11-12-4-12-3-20-2-12-2-12-6-8-5-7-8-5-8-3-8-2-8-1-8 2-10 4-10 4-5 8-7 8-4 8-1 8 1 8 4 4 3 4 4 20 25 8 7 8 5 8 3 12 2 40 1 5 2 6 4 19 24 30 24 6 8 3 8 2 8 1 8-2 8-2 4-3 4-6 4-7 4zM696 716l-4 0-4-1-3-3-2-4 1-4 4-4 8-5 8-2 12-2 4-4 17-27 11-12 12-8 12-4 8-1 4 1 4 4 4 6 2 6-1 12-3 8-4 8-10 12-8 6-12 6-12 2-20 1-16 7zM704 781l-4 2-4 1-4-1-8-5-4-6-2-8 1-8 5-7 4-2 4-1 8 4 5 6 3 4 1 8 0 4-1 4z"/>
<path fill="#ff5d00" d="M524 636l-8 2-8 0-8-1-8-2-24-12-8-7-5-8-2-8-1-8 1-12 4-12 5-12 6-7 8-8 8-4 8-2 4 0 4 2 4 3 4 6 22 38 2 10 4 14 0 12-1 4-3 6-4 4zM444 784l-8 0-8-1-7-3-5-4-5-8-9-20-6-11-8-9-8-5-20-10-16-6-12-3-24-2-12-3-8-3-11-8-9-12-3-8-2-8 0-8 2-8 3-8 4-5 8-7 8-3 8 0 8 1 8 5 21 25 15 13 8 4 8 3 32 4 12 3 8 6 16 15 36 24 7 8 4 8 2 12 0 8-1 4-6 8-6 4-12 6zM748 700l-12 0-4-2-4-4-1-6 0-4 6-12 10-16 13-11 12-5 8-1 5 1 3 2 4 5 3 9-1 8-5 12-9 12-8 6-8 4zM704 710l-8 1-5-3 0-4 3-4 6-3 4 0 4 2 2 1 0 4-3 4zM700 772l-4 3-4 0-4-2-4-5-1-4 0-4 1-4 4-3 4-1 4 2 4 4 2 6 0 4z"/>
<path fill="#ff5100" d="M520 629l-8 1-8-2-16-9-12-4-6-3-5-4-5-8-2-8 0-8 4-16 4-8 6-8 4-4 8-6 8-2 4 1 5 3 7 8 16 28 2 8 2 20 0 8-3 8zM456 780l-12 3-8 0-8-2-8-5-6-8-10-24-7-12-7-8-10-7-16-7-16-6-12-3-32-3-12-4-8-5-6-5-5-8-5-12 0-8 1-8 3-8 3-4 5-5 8-4 8-1 8 1 8 5 21 24 15 13 12 6 28 6 12 4 8 4 17 15 23 11 16 10 8 7 4 8 3 12-1 8-3 8-4 4-6 4zM760 693l-12 2-8-2-4-2-2-3 0-4 0-4 7-16 6-8 4-4 5-4 8-4 8-1 4 0 4 2 4 3 2 4 1 8-1 8-4 8-6 8-8 6z"/>
<path fill="#ff4500" d="M512 617l-4 1-8-2-20-8-6-4-5-4-4-8 0-12 2-8 3-8 5-8 4-4 5-4 4-1 4-1 4 1 4 3 4 4 8 11 8 15 1 12-1 15-4 8zM448 781l-8 0-8-1-8-4-4-3-6-9-14-37-4-6-8-6-28-13-8-2-12-3-32-1-12-4-8-4-5-4-6-8-4-12 0-12 3-8 2-4 6-5 5-3 7-1 8 1 8 5 28 30 8 7 8 4 8 3 24 7 8 4 20 16 28 9 12 6 8 5 4 4 5 8 3 12 0 8-4 8-4 4-8 5zM760 688l-8 1-4-1-4-2-2-2-1-4 0-4 2-8 5-8 8-8 7-4 5-2 8 1 4 3 3 6 1 4-2 8-2 5-5 7-7 5z"/>
<path fill="#ff3800" d="M508 606l-8 1-8-2-8-4-7-5-4-8-1-8 3-12 5-8 4-4 4-2 4-1 4 2 4 2 8 10 7 13 1 8-1 8-3 7zM336 692l-16 1-12-1-12-3-8-6-6-7-2-4-3-8 1-12 2-4 4-6 4-3 8-3 8 2 4 2 21 20 19 22 8 6-4 2zM768 681l-8 2-4 0-4-1-4-4-1-6 3-8 5-8 7-4 6-2 4 1 4 2 2 3 2 4 0 4-3 8-5 6zM456 777l-12 2-8 0-8-3-5-4-3-4-4-7-5-17-4-16 0-4 1-4 4-2 4-1 12 0 8 2 20 8 8 5 4 4 4 8 1 4 0 12-1 4-4 5-4 4z"/>
<path fill="#ff2c00" d="M504 597l-4 1-8-2-6-4-3-4-2-4 0-8 3-8 4-3 4-2 4 1 4 3 4 4 4 7 2 6 0 4-2 5zM324 689l-12 0-8-1-8-4-8-7-5-9-1-8 2-8 4-5 4-3 4-2 8 1 8 5 17 16 5 8 3 8-2 4-7 4zM764 677l-4 0-4-1-3-4 0-4 3-7 4-4 4-2 4 0 4 1 3 4 0 4-1 4-2 4-4 3zM452 776l-8 1-8 0-8-4-5-5-6-12-4-20 2-8 4-4 9-2 8 1 8 2 15 7 5 4 3 4 2 4 2 8 0 8-2 4-3 4-5 4z"/>
<path fill="#ff1f00" d="M320 684l-8 1-8-2-6-3-5-4-2-4-3-8 2-8 3-4 3-2 4-1 4 1 8 4 12 11 4 7 1 4-2 4zM764 669l-1-1-1-4 2-2 4 2zM456 772l-8 3-8 0-8-3-5-4-5-8-3-12-1-8 0-4 2-4 4-3 4-1 12 0 12 4 7 4 4 4 3 4 2 7 0 9-2 4-3 4z"/>
<path fill="#ff1300" d="M316 677l-8 0-4-1-4-3-3-5-1-4 2-4 2-1 4-1 4 1 7 5 3 4 2 4-2 4zM448 772l-8 0-4-1-4-3-4-4-3-8-2-12 1-6 1-2 3-2 4-1 8 0 11 3 9 6 4 6 1 8-1 4-2 4-6 6z"/>
<path fill="#ff0600" d="M452 768l-8 1-4-1-4-2-4-5-2-5 0-8 0-4 4-4 6-1 8 1 8 4 3 4 2 4-1 8-2 4z"/></g>
</g>
<use href="#basin" fill="none" stroke="#6e6e6e" stroke-width="2" stroke-linejoin="round"/>
<circle cx="209" cy="151" r="1.7" fill="#6e6e6e"/>
<circle cx="154.8" cy="224.6" r="1.7" fill="#6e6e6e"/>
<circle cx="333.6" cy="390.7" r="1.7" fill="#6e6e6e"/>
<circle cx="507.5" cy="592" r="1.7" fill="#6e6e6e"/>
<circle cx="525" cy="680" r="1.7" fill="#6e6e6e"/>
<circle cx="538" cy="679.5" r="1.7" fill="#6e6e6e"/>
<circle cx="780.3" cy="670.2" r="1.7" fill="#6e6e6e"/>
<circle cx="440.3" cy="724.5" r="1.7" fill="#6e6e6e"/>
<circle cx="471.5" cy="809" r="1.7" fill="#6e6e6e"/>
</g>
<rect x="1160.9" y="175.9" width="868" height="1202.6" fill="none" stroke="#000" stroke-width="4.1" stroke-linejoin="round" shape-rendering="crispEdges"/>
<line x1="1315.2" y1="150.4" x2="1315.2" y2="175.9" stroke="#000" stroke-width="2.9" shape-rendering="crispEdges"/>
<line x1="1620" y1="150.4" x2="1620" y2="175.9" stroke="#000" stroke-width="2.9" shape-rendering="crispEdges"/>
<line x1="1923.6" y1="150.4" x2="1923.6" y2="175.9" stroke="#000" stroke-width="2.9" shape-rendering="crispEdges"/>
<line x1="1308" y1="1378.5" x2="1308" y2="1404" stroke="#000" stroke-width="2.9" shape-rendering="crispEdges"/>
<line x1="1610.9" y1="1378.5" x2="1610.9" y2="1404" stroke="#000" stroke-width="2.9" shape-rendering="crispEdges"/>
<line x1="1913" y1="1378.5" x2="1913" y2="1404" stroke="#000" stroke-width="2.9" shape-rendering="crispEdges"/>
<line x1="1135.4" y1="372.9" x2="1160.9" y2="372.9" stroke="#000" stroke-width="2.9" shape-rendering="crispEdges"/>
<line x1="1135.4" y1="578.9" x2="1160.9" y2="578.9" stroke="#000" stroke-width="2.9" shape-rendering="crispEdges"/>
<line x1="1135.4" y1="785.4" x2="1160.9" y2="785.4" stroke="#000" stroke-width="2.9" shape-rendering="crispEdges"/>
<line x1="1135.4" y1="988.2" x2="1160.9" y2="988.2" stroke="#000" stroke-width="2.9" shape-rendering="crispEdges"/>
<line x1="1135.4" y1="1191" x2="1160.9" y2="1191" stroke="#000" stroke-width="2.9" shape-rendering="crispEdges"/>
<line x1="2028.9" y1="379.4" x2="2054.4" y2="379.4" stroke="#000" stroke-width="2.9" shape-rendering="crispEdges"/>
<line x1="2028.9" y1="586.8" x2="2054.4" y2="586.8" stroke="#000" stroke-width="2.9" shape-rendering="crispEdges"/>
<line x1="2028.9" y1="792.6" x2="2054.4" y2="792.6" stroke="#000" stroke-width="2.9" shape-rendering="crispEdges"/>
<line x1="2028.9" y1="996.7" x2="2054.4" y2="996.7" stroke="#000" stroke-width="2.9" shape-rendering="crispEdges"/>
<line x1="2028.9" y1="1198.8" x2="2054.4" y2="1198.8" stroke="#000" stroke-width="2.9" shape-rendering="crispEdges"/>
<text transform="translate(1195.5 125.6) scale(1.000 1.042)" font-size="110.3">33°E</text>
<text transform="translate(1499.3 125.6) scale(1.000 1.042)" font-size="110.3">36°E</text>
<text transform="translate(1804.4 125.6) scale(1.000 1.042)" font-size="110.3">39°E</text>
<text transform="translate(2158.4 499.4) rotate(-90) scale(1.000 1.042)" font-size="110.3">14°N</text>
<text transform="translate(2158.4 915.2) rotate(-90) scale(1.000 1.042)" font-size="110.3">10°N</text>
<text transform="translate(2158.4 1293) rotate(-90) scale(1.000 1.042)" font-size="110.3">6°N</text>
<rect x="1549.8" y="282.6" width="165.3" height="51.3" fill="#fff" stroke="#000" stroke-width="3.7" stroke-linejoin="round"/>
<text transform="translate(1583.8 256.2) scale(1.000 1.050)" font-size="59.4">170</text>
<text transform="translate(1728.8 332.8) scale(1.000 1.030)" font-size="60">Km</text>
<path d="M1905,360.9 L1853.2,522.1 L1905.3,503.7 L1956.8,522.1Z" fill="#000"/>
<path d="M1897.7,353.2 L1845.9,514.4 L1898,496 L1949.5,514.4Z" fill="#fff" stroke="#000" stroke-width="0.9" stroke-linejoin="miter"/>
<text transform="translate(1877.4 583.6) scale(1.000 1.050)" font-size="71">N</text>
<text transform="translate(1208 784.2) scale(1.000 1.035)" font-size="94.7">b)</text>
<text transform="translate(1393.3 1205.5) scale(1.000 1.035)" font-size="94.7">NPI (1-day)</text>
<rect x="1433.2" y="1256.2" width="308.5" height="93.8" fill="url(#ramp)"/>
<line x1="1433.4" y1="1350" x2="1433.4" y2="1358" stroke="#000" stroke-width="1" shape-rendering="crispEdges"/>
<line x1="1587.5" y1="1350" x2="1587.5" y2="1358" stroke="#000" stroke-width="1" shape-rendering="crispEdges"/>
<line x1="1741.5" y1="1350" x2="1741.5" y2="1358" stroke="#000" stroke-width="1" shape-rendering="crispEdges"/>
<text transform="translate(1187.9 1340.8) scale(1.000 1.015)" font-size="94">1.710</text>
<text transform="translate(1749.8 1343.5) scale(1.000 1.015)" font-size="94">-1.692</text>
</g>
<g id="panel-c">
<g transform="translate(190.1 1514)">
<g clip-path="url(#bclip)">
<g fill-rule="evenodd"><rect x="16" y="36" width="848" height="908" fill="#0205ff"/>
<path fill="#0710ff" d="M860 941l-840 0-1-1 0-440 1-348 68 5 24 0 18-1 0-12 2-8 5-8 7-7 8-5 12-6 12-2 12 0 8 2 8 4 8 7 5 7 3 8 1 8-1 24 21 20 7 4 12 4 8 1 8-1 20-5 8-1 48 8 84 4 148 19 88 10 188 22 2 571-1 116zM832 744l2-4 3-4 0-8 3-5 0-3 0-17-4-7-7 4-5 5-9 11-3 8 3 12 5 8 4 3 4 0z"/>
<path fill="#0c1aff" d="M860 941l-840 0-1-1 0-440 1-339 68 5 24 1 20-1 28-3 11-3 1-4 4-5 4-2 4-1 4 0 6 4 3 4 3 8 12 8 16 16 16 8 16 5 12 1 24-3 8 0 48 7 60 3 36 4 116 15 88 9 76 10 56 6 76 10 1 561 0 116zM792 500l1-4-1-3-4-2-3 5 2 4 1 1zM829 748l3-2 4-7 4-15 1-20-1-4-4-6-4 2-9 8-9 12-4 8 2 8 6 12 6 5z"/>
<path fill="#1124ff" d="M860 941l-840 0-1-1 0-440 1-333 68 7 40 2 16 0 32-5 12 0 7 1 5 2 17 14 15 8 16 7 12 3 12 0 20-1 12 0 44 6 84 6 428 51 1 556 0 116zM794 504l3-4 0-4-1-5-4-4-4-1-4 2-3 4-1 4 1 4 3 4 4 2 4 0zM831 748l5-8 4-12 1-8 1-12-1-8-2-4-3-4-4 2-4 4-10 10-6 8-3 8 0 4 3 8 8 12 4 2 4 0z"/>
<path fill="#162fff" d="M860 941l-840 0-1-1 0-440 1-328 104 10 28 1 36-1 12 4 37 18 11 4 12 3 12 0 28-1 44 6 52 3 32 2 232 28 64 9 136 16 1 550 0 116zM795 508l3-4 2-4 0-8-4-6-4-3-4 0-4 1-4 4-2 4-1 4 1 4 2 5 4 3 4 2 4-1zM832 748l4-6 2-6 4-16 0-12-1-8-1-6-4-4-4 3-4 3-15 16-5 8-1 4 0 4 4 8 4 8 5 5 4 3 4-1z"/>
<path fill="#1b39ff" d="M860 941l-840 0-1-1 0-440 1-323 104 11 64 2 12 3 40 18 20 4 12 1 28 0 40 5 52 2 36 3 216 26 80 11 136 16 1 545 0 116zM793 512l6-4 2-4 1-4 0-8-2-5-4-5-4-2-4 0-4 1-4 3-3 4-2 4 0 8 4 8 5 4 4 1zM829 752l3-3 5-9 3-8 2-12 1-12-2-12-1-4-4-3-4 2-20 21-6 8-1 4 1 4 3 8 8 12 3 3 4 2zM309 792l-1-2-4 0-1 2 5 1z"/>
<path fill="#1942ff" d="M860 941l-840 0-1-1 0-436 1-322 108 11 60 4 12 3 36 14 12 4 12 2 40 1 40 6 48 1 36 3 212 25 84 12 140 16 1 540 0 116zM798 512l4-4 2-8 0-8-1-4-3-5-4-4-4-1-4-1-4 1-7 6-5 8 0 6 2 6 6 8 4 2 4 1 4 0zM830 752l6-7 2-5 3-8 2-12 0-12-1-12-2-7-4-3-4 3-26 27-2 4-1 4 1 4 4 8 8 13 4 3 4 2 4 0zM308 796l3-4-2-4-5-1-2 1-1 4 3 3z"/>
<path fill="#144aff" d="M860 941l-840 0-1-1 0-436 1-317 124 14 40 2 16 4 38 13 22 4 40 2 36 6 52 1 36 3 104 13 100 11 92 13 140 16 1 535 0 116zM797 516l4-4 5-8 0-8-1-8-5-8-4-3-4-2-8 1-7 4-6 8-1 4 0 8 4 8 3 4 5 4 6 2 4 0zM832 752l4-6 4-10 3-20 0-12-1-12-2-6-4-2-32 32-2 8 0 4 4 8 5 8 7 8 6 4 4-1zM311 796l2-4-1-4-4-3-4 0-5 3-1 4 4 4 6 1z"/>
<path fill="#1052ff" d="M860 941l-840 0-1-1 0-436 1-311 136 15 28 2 16 4 40 12 20 3 40 2 36 6 48 0 36 3 100 13 104 11 92 14 80 8 64 8 1 530 0 116zM793 520l7-3 4-5 4-8 0-8-1-8-5-8-6-5-8-2-8 2-6 5-5 8-2 8 2 8 7 10 8 5 4 1zM828 756l4-3 6-9 4-12 2-12 0-16-2-12-2-9-4-1-16 17-15 13-3 4-2 4 0 4 2 8 10 16 8 8 4 1zM313 796l2-4-1-4-5-4-5-1-4 1-3 4 0 4 3 4 8 2z"/>
<path fill="#0c5aff" d="M860 941l-840 0-1-1 0-436 1-306 136 16 28 3 16 3 36 9 20 4 44 3 32 5 48 1 36 3 96 12 108 12 96 14 80 8 64 8 1 525 0 116zM799 520l5-4 4-8 2-8-1-12-4-8-5-5-8-4-8 0-8 4-8 9-3 8 0 8 2 4 5 8 8 8 8 3 4 0zM830 756l6-7 4-9 4-20 0-16-1-12-3-12-4 0-16 18-17 14-3 4-2 8 1 4 4 8 11 16 6 5 4 1 4-1zM314 796l2-4-1-4-3-4-4-2-4 0-4 0-3 2-2 4 0 4 3 4 6 3 4 0 4-1z"/>
<path fill="#0862ff" d="M860 941l-840 0-1-1 0-436 1-301 164 20 20 4 32 8 20 3 40 3 36 6 40-1 40 3 96 13 108 11 100 16 80 7 64 8 1 520 0 116zM796 524l4-2 4-3 5-7 2-8 0-12-4-12-7-7-8-4-8 0-8 4-4 3-7 8-3 8 1 8 6 12 8 8 7 4 4 1zM831 756l5-6 4-9 3-9 1-12 1-12-1-16-4-15-4 0-8 11-8 9-19 15-4 8 0 4 2 8 4 8 9 12 8 7 4 1 4-1zM309 800l3-1 4-3 1-4 0-4-4-4-5-3-4-1-4 1-6 3-2 4 1 4 3 4 8 4z"/>
<path fill="#036aff" d="M860 941l-840 0-1-1 0-436 1-296 72 9 60 9 32 4 52 11 16 3 44 3 36 5 36-1 28 1 32 4 76 11 101 9 28 4 59 12 20 3 80 7 68 8 1 514 0 116zM801 524l7-7 4-9 1-12-2-12-7-10-8-6-8-1-8 1-8 5-10 11-3 8 1 8 7 12 7 8 6 4 4 2 8 1zM827 760l5-3 6-9 4-12 2-12 1-16 0-16-2-8-3-11-4 1-13 18-7 7-16 12-3 5-2 4 0 4 2 8 10 16 7 8 6 4 4 1zM313 800l4-4 2-4-1-4-3-4-6-4-5-1-8 1-4 3-2 5 1 4 4 4 9 5 4 0z"/>
<path fill="#0073ff" d="M860 941l-840 0-1-1 0-436 1-289 72 9 92 14 68 12 76 6 48 1 28 2 92 14 84 6 32 4 24 4 48 11 24 4 88 7 64 8 1 507 0 116zM797 528l7-4 4-4 4-6 3-10 0-12-5-12-6-8-8-6-4-1-8 0-8 3-10 8-4 4-4 8-1 8 0 4 4 8 7 8 8 8 7 4 5 1zM829 760l3-2 4-6 4-8 3-8 2-12 1-16-1-16-1-10-4-12-4 1-11 17-5 6-20 15-4 5-3 6 0 4 2 8 5 8 9 12 7 7 4 2 4 1zM315 800l4-4 1-4-1-4-3-5-4-3-8-2-8 0-4 2-3 4 0 4 1 4 3 4 7 4 4 1 4 1z"/>
<path fill="#0081ff" d="M860 941l-840 0-1-1 1-717 80 10 152 23 76 5 60 2 28 4 56 10 24 4 24 2 52 2 28 2 32 5 52 13 20 4 24 2 68 5 64 8 1 500 0 116zM802 528l9-8 5-12 1-12-3-12-6-11-8-7-8-3-4 0-8 1-8 4-4 3-9 9-5 8-1 4 1 8 5 8 6 8 7 7 8 6 4 2 8 1 4-1zM831 760l5-6 5-10 3-12 2-12 0-16-1-20-1-8-4-10-4 2-9 16-6 8-17 12-8 7-3 5-2 8 1 4 3 8 9 12 8 9 8 6 4 1 4-2zM317 800l3-4 1-4 0-4-2-4-5-4-10-4-8 0-4 2-4 4-1 6 2 4 3 4 4 3 4 2 8 2 4-1z"/>
<path fill="#008eff" d="M860 941l-840 0-1-1 1-710 72 9 156 23 24 2 76 3 32 2 32 4 60 12 24 3 20 1 56 2 28 2 32 5 52 14 20 4 24 3 72 4 60 8 1 493 0 116zM800 532l4-2 6-6 6-10 2-6 0-8-1-12-5-12-8-9-5-3-7-3-4 0-8 1-6 2-6 4-9 8-8 12-1 4 0 4 3 8 6 8 9 10 8 7 4 2 8 3 8-1zM827 764l5-4 4-5 4-7 4-12 2-12 1-20-2-20-1-13-4-9-4 2-13 24-7 7-12 7-8 7-5 7-2 8 1 4 4 8 8 12 7 8 7 6 4 2 4 1zM318 800l4-4 1-4-1-4-2-4-4-4-8-4-8-1-8 1-5 4-1 4 0 4 1 4 4 4 5 4 8 3 4 0 4 0z"/>
<path fill="#009bff" d="M860 941l-840 0-1-1 1-703 224 31 32 2 60 1 48 4 28 4 56 12 24 4 24 1 56 0 28 3 32 5 52 16 20 4 24 2 72 4 60 8 1 486 0 116zM793 536l7-1 5-3 4-4 6-8 5-12 0-8 0-8-4-12-4-7-4-5-5-4-7-3-4-2-8 0-12 4-12 9-11 12-3 8 0 4 1 4 6 8 19 20 5 4 7 3zM829 764l7-8 4-8 4-12 2-12 1-20-2-28-1-11-4-8-4 4-11 23-3 4-6 5-12 7-8 7-6 9-2 8 0 4 4 8 11 16 8 8 5 4 4 2 4 0zM312 804l8-4 3-4 1-4 0-4-4-6-8-6-8-2-8-1-4 1-4 3-4 7 0 4 2 4 3 4 6 4 5 3 8 1z"/>
<path fill="#00a8ff" d="M860 941l-840 0-1-1 1-696 132 19 92 11 36 2 52-1 44 5 29 4 59 13 28 5 24 1 52-1 32 2 32 6 48 15 20 5 28 3 72 4 60 8 1 479 0 116zM803 536l5-3 5-5 5-8 2-6 2-6 0-8-1-8-2-8-3-8-4-6-6-6-6-4-4-1-8-2-12 2-12 6-16 15-5 8-1 4 0 4 1 4 2 4 11 12 12 12 8 6 12 4 8 0zM831 764l5-6 5-10 4-12 2-16 0-24-2-28-1-10-4-6-4 5-13 27-7 8-12 7-8 6-8 11-2 8 0 4 3 8 12 16 7 8 8 6 4 1 4 1 4-2zM316 804l6-4 3-4 1-4-1-4-2-4-3-4-8-5-8-3-12 0-4 2-4 6-1 4 1 6 4 6 8 6 8 3 8 0z"/>
<path fill="#00b6ff" d="M860 941l-840 0-1-1 1-688 132 18 92 10 32 2 52-2 16 1 52 8 70 15 26 4 20 1 56-2 32 3 32 6 48 16 20 5 28 3 76 4 56 8 1 472 0 116zM800 540l8-4 4-4 4-4 4-8 3-8 1-8-2-16-4-12-6-8-4-5-5-3-7-4-8-1-8 1-8 2-8 5-12 9-8 8-5 8-2 4 0 4 1 4 2 4 25 24 11 8 12 5 8 0zM826 768l6-4 4-5 4-7 5-16 2-12 1-24-2-32-2-17-4-4-4 5-6 16-8 16-6 6-12 7-8 6-7 9-4 8-1 4 0 5 3 7 17 22 7 6 5 4 4 1 4 0zM318 804l6-4 2-4 1-4 0-4-2-4-3-4-10-7-8-2-8-1-4 0-4 2-4 5-2 7 0 4 2 4 3 4 9 6 8 3 8 1z"/>
<path fill="#00c3ff" d="M860 941l-840 0-1-1 1-681 40 5 88 14 92 9 40 1 48-2 12 1 56 8 64 14 28 5 24 1 56-2 28 1 20 4 16 4 16 5 32 12 28 7 24 2 68 2 28 4 32 5 1 465 0 116zM794 544l6-1 8-4 4-3 7-8 4-8 2-8 1-8-1-12-2-8-3-8-5-8-7-7-12-7-8-1-8 0-8 3-8 4-21 16-7 8-3 4-2 8 1 4 4 6 36 30 12 7zM829 768l7-8 5-8 4-12 3-16 0-24-2-40-2-16-4-3-4 6-7 21-8 16-5 5-12 6-8 6-9 11-5 12 0 4 3 8 15 20 8 8 8 5 4 2 4-1zM321 804l5-4 2-4 1-4-2-8-7-7-4-3-8-4-12-2-4 1-4 1-4 4-3 6 0 8 2 4 5 6 8 5 8 3 8 1z"/>
<path fill="#00d0ff" d="M860 941l-840 0-1-1 1-671 128 19 88 7 40 2 48-5 16 1 56 8 68 16 28 4 16 1 56-4 32 2 16 2 20 5 25 9 27 12 28 7 28 3 44 0 20 1 24 3 32 5 1 457 0 116zM806 544l6-4 7-8 5-8 3-8 1-8 0-12-4-16-4-8-6-8-6-6-8-5-12-3-8 1-8 2-16 9-14 10-9 8-5 8-1 4 0 8 2 4 3 4 20 15 15 13 9 6 8 4 8 1 8 0zM821 772l7-2 4-3 5-7 7-16 4-16 1-24-2-48-3-18-4-2-4 6-7 22-5 12-4 7-4 4-12 6-8 6-10 13-6 12 0 7 2 5 16 20 13 12 5 3zM323 804l4-4 3-4 1-4-1-4-2-4-7-8-9-6-12-3-8 0-4 1-4 3-4 9 0 8 4 7 4 4 12 7 8 2 8-1z"/>
<path fill="#0df" d="M860 941l-840 0-1-1 1-661 40 5 76 13 28 3 104 6 24-1 36-4 20 0 40 6 76 17 28 4 20 0 48-4 20 0 16 1 16 2 19 5 13 5 40 18 16 6 16 4 24 3 44-1 24 1 24 3 28 5 1 448 0 116zM806 548l10-7 7-9 5-12 3-12-2-16-3-12-7-12-7-9-8-6-8-4-8-1-12 1-12 5-10 6-18 12-9 8-5 8 0 8 3 8 3 4 36 29 16 10 12 4 8-1zM827 772l5-4 4-5 6-11 4-12 3-16 0-20-1-56-1-8-3-8-4-2-4 6-7 24-4 12-5 9-4 4-14 7-6 5-14 19-4 8-1 4 1 4 2 4 24 29 12 8 4 1 4-1zM317 808l9-4 4-4 2-4 0-4 0-4-1-4-3-4-12-9-12-5-12-1-4 1-4 3-4 7-2 8 2 8 3 4 9 7 8 4 8 2z"/>
<path fill="#00ebff" d="M860 941l-840 0-1-1 1-651 44 6 68 13 28 3 56 2 60 4 20-1 40-4 36 2 20 2 85 16 23 3 16-1 52-5 28 1 16 3 20 6 56 25 16 7 16 4 12 2 12 1 40-2 24 1 24 3 28 6 1 438 0 116zM807 552l9-6 9-10 5-12 3-12-1-16-4-16-6-12-10-12-8-6-8-3-8-2-12 1-8 3-14 7-20 12-10 8-6 8-2 8 2 8 6 9 36 29 20 13 8 4 4 0 8 0zM829 772l7-7 7-13 4-12 2-20-1-80-1-8-3-6-4-1-4 5-9 34-7 15-4 5-16 7-4 4-16 21-4 8-1 4 0 4 2 4 20 24 8 8 7 5 8 2 4 0zM322 808l6-4 6-8 1-8-2-4-3-4-10-9-8-4-8-3-12-2-4 1-4 3-5 6-2 8 1 8 4 8 10 8 12 5 8 1z"/>
<path fill="#00f8ff" d="M860 941l-840 0-1-1 1-641 44 7 72 14 24 2 64 1 68 6 16 0 60-5 16 0 100 14 16 2 20-1 48-4 28 1 16 3 20 6 68 33 24 8 20 3 40-3 24 0 24 3 28 7 1 428 0 116zM800 560l8-3 8-5 8-8 5-8 5-12 3-12-3-20-3-12-4-8-5-8-10-11-8-6-8-4-8-1-12 0-12 5-32 17-8 5-7 7-4 8-1 4 0 8 4 8 4 5 32 30 32 19 8 3zM726 572l-2-2-4 0-4 2 4 3zM825 776l7-5 8-11 6-16 3-16 1-20 0-64-2-16-4-8-4 0-4 4-4 13-5 23-7 17-4 5-3 2-13 5-4 3-17 24-6 12 0 4 1 4 26 30 12 9 8 2zM325 808l6-4 5-8 1-8-1-4-3-4-13-11-12-6-8-2-8-1-4 0-4 2-5 6-3 12 0 8 5 8 11 9 12 5 12 1z"/>
<path fill="#00fffa" d="M860 941l-840 0-1-1 1-631 36 5 92 17 28 2 40 0 16 0 16 2 32 7 20 2 16 0 20-2 40-8 12-1 48 3 64 9 24-1 48-3 24 1 20 4 20 7 22 11 50 27 12 5 8 2 8 1 12 1 40-5 20 0 24 4 28 7 1 418 0 116zM725 580l8-4 6-4 4-4 2-4 2-8 2-4 7-1 8 1 19 12 5 2 8 0 9-2 11-5 8-7 9-12 5-12 3-16-2-12-3-12-6-16-5-8-9-12-12-9-8-4-8-1-12 0-8 2-41 20-7 5-8 9-3 6-2 8 1 8 2 4 6 10 14 14 7 8 5 12 1 4-3 4-12 10-14 6-2 4 1 4 3 4 4 1zM828 776l8-8 7-12 4-12 3-16 1-16 0-76-3-17-4-6-4 1-4 5-2 5-2 6-6 30-6 15-4 5-4 3-12 4-4 3-21 30-4 8-1 4 1 4 3 4 10 10 12 15 8 7 6 4 6 2 8 0zM316 812l8-2 5-2 5-4 5-8 1-8-1-4-3-5-12-10-8-4-20-7-8-1-4 1-4 3-2 3-3 8-1 12 3 8 7 8 8 5 12 6z"/>
<path fill="#00ffef" d="M860 941l-840 0-1-1 1-623 40 6 72 15 24 3 20 1 40-1 20 1 16 3 32 9 16 3 20 0 28-3 12-3 24-8 20-2 36 1 60 7 28 0 44-2 20 0 24 5 21 8 27 14 48 28 16 7 8 2 8 0 44-4 24-1 24 4 24 6 1 408 0 116zM724 584l22-8 14-10 4-1 4 0 16 6 8 1 8-1 10-3 10-4 8-5 4-4 7-11 5-12 3-16-1-4-4-20-7-16-6-12-13-17-12-9-8-4-12-2-12 1-8 2-40 19-8 7-8 10-5 13 0 8 1 4 7 12 17 20 2 4 3 8-1 8-4 8-4 4-13 8-1 4 0 4 2 5 4 3 4 1zM822 780l6-3 4-3 7-10 8-16 3-16 1-16 1-84-3-20-1-2-4-5-4 1-4 6-4 10-6 34-2 8-4 9-4 5-4 3-12 4-4 2-25 37-4 8 0 4 3 4 10 8 13 16 7 7 12 8 4 1zM325 812l8-4 7-8 2-4 2-8 0-4-2-4-4-4-14-9-20-9-16-4-4 0-5 2-3 4-1 4-2 16 1 8 5 8 9 8 12 6 12 3 8 0zM471 912l-6-4-5 0-4 4 8 2 4 0z"/>
<path fill="#00ffe4" d="M860 941l-840 0-1-1 1-615 44 7 76 16 20 3 16 1 40-4 16 1 20 5 28 12 16 3 16 0 40-6 12-3 32-11 12-2 16-1 24 1 52 6 88 0 20 3 16 5 16 7 16 8 38 24 26 20 8 8 1 4 0 4-5 8-12 12-6 8-5 12-1 8 0 10 4 10 5 8 14 16 4 8 1 4-1 8-3 8-3 4-12 8-1 4 0 8 4 7 4 2 8-1 44-12 24 1 32-5 8 1 7 3 1 2 2-2 2-3 4-21 6-20 2-16-1-4-13-32-7-12-12-20-7-8-11-12-3-4 2-4 8-2 8-1 20 3 20 6 1 398 0 116zM826 780l6-4 4-5 7-11 5-16 3-16 2-104-1-12-4-18-4-10-4 5-3 11-5 15-3 13-4 28-5 15-4 6-4 3-16 4-10 16-17 24-5 8 0 4 2 4 14 11 13 17 10 8 5 3 8 3 4 0zM331 812l9-7 6-9 2-8 0-4 0-4-4-6-4-3-8-2-16-8-20-8-16-4-4 1-3 2-2 8 1 24 3 8 5 7 12 8 16 7 12 1zM474 916l4-4-4-4-6-2-8-2-4 0-7 4 0 4 6 4 9 1z"/>
<path fill="#00ffd9" d="M860 941l-840 0 0-608 44 7 80 17 20 4 16 0 32-5 12 0 8 1 11 3 9 4 24 15 8 3 8 1 12-1 28-7 28-6 32-12 12-3 16-3 28 0 56 6 84 1 20 4 24 8 20 11 31 19 14 12 8 8 5 8 2 8 0 8-12 22-3 10-1 8 0 8 4 11 5 9 13 16 5 8 1 4 0 8-3 8-3 4-10 7-2 5-1 8 3 8 4 5 4 0 4 0 12-4 16-2 20-5 48-3 8 2 4 3 3 4 1 12-4 24-3 28-5 16-4 7-4 3-16 4-2 2-9 16-21 28-4 8 1 4 16 12 19 22 12 8 8 2 8-1 4-2 8-9 9-16 5-16 2-20 0-40 2-52 0-36 2-16 4-23 1 271zM860 496l-8-11-16-25-8-20 0-4 4-4 4 0 8 1 16 5zM326 816l6-2 8-5 8-9 3-8 2-8-1-8-3-4-5-5-16-4-44-17-11-6-3-4-2-4 0-26-4-13-4-5-4-2-4 0-4 2-4 4-3 8-1 4 1 8 3 7 3 5 10 12 5 8 6 22 2 18 4 8 6 8 8 6 8 4 8 4 8 2 8 1zM480 916l2-4-4-4-14-6-8-1-4 1-6 2-3 4 1 4 4 4 8 3 12 0z"/>
<path fill="#00ffcd" d="M860 941l-840 0 0-599 44 6 88 19 16 3 12 0 32-7 12 0 8 2 12 5 12 10 12 12-1 12 2 4 4 4 7 1 4 0 4-2 4-4 7-11 25-11 12-4 28-6 24-11 12-4 16-3 16-2 20 0 48 6 48 2 32 0 20 3 16 4 16 6 24 13 17 11 11 9 11 11 5 8 2 8 1 8-7 20-3 12-1 8 1 8 2 8 4 8 17 24 3 4 2 8-1 8-2 4-2 4-6 4-5 4-1 4-1 8 1 7 1 5 3 6 8 0 16-5 20-2 24-5 32-3 8 1 4 2 4 3 4 7 1 8-3 20-1 24-1 8-4 10-4 7-4 3-4 2-12 2-4 4-8 16-26 32-2 4 0 4 4 4 8 4 8 6 12 15 7 7 9 6 8 4 8 0 4-1 8-6 10-15 4-8 4-12 3-20 0-48 4-72 3-19 1 239zM860 472l-4-2-6-6-3-4 2-4 3-2 8 2zM335 816l5-3 6-5 8-12 3-12-1-8-1-4-3-4-6-4-6-2-8-1-12-3-25-10-13-8-4-4-4-8-2-27-4-13-4-5-4-4-4-2-6-1-6 3-5 5-4 8-2 8 0 12 3 8 4 8 14 20 10 17 5 19 3 8 7 8 5 4 8 5 12 6 8 3 8 1 8-1zM475 920l9-4 2-4-4-4-18-8-8-2-8 1-4 1-4 3-2 5 1 4 3 4 9 4 13 1z"/>
<path fill="#00ffc2" d="M860 941l-840 0 0-591 48 7 100 21 12 0 32-7 8-1 10 2 10 5 9 11 0 4-3 16 0 4 2 5 8 7 7 4 9 3 8 1 12-1 6-3 6-7 10-21 5-4 8-4 13-5 28-7 24-12 12-4 12-3 16-2 20 0 44 5 56 4 28 1 16 1 16 4 16 7 22 11 18 11 11 9 7 8 5 8 4 8 1 8-7 32 1 16 2 8 4 8 16 24 4 7 1 5 0 8-1 4-3 4-5 3-4 4-2 5-1 8 0 16-3 12 2 3 12-7 20-6 56-10 16-1 12 2 4 3 5 8 1 12-2 32-1 12-3 8-4 7-4 4-4 2-12 1-4 3-5 11-4 8-11 14-16 18-3 4 0 4 3 5 12 6 7 5 13 16 8 8 8 5 8 3 8 0 4-1 8-6 9-13 5-8 4-12 3-20 1-56 6-70zM332 820l8-3 7-5 5-5 4-7 3-8 1-8 0-8-3-8-5-4-8-4-16-2-12-3-20-9-10-6-4-4-4-8-3-32-3-9-4-7-4-5-8-7-4-1-4 0-4 2-5 3-6 8-4 8-2 8-1 8 1 8 2 8 4 8 27 37 4 8 5 15 5 8 3 4 15 10 16 8 12 3zM480 920l8-4 1-4-1-1-2-3-7-4-19-8-8-1-8 0-8 5-2 4-1 4 1 4 3 4 7 4 8 2 8 1 12-1z"/>
<path fill="#00ffb7" d="M860 940l-840 0 0-582 64 10 20 4 50 12 14 2 12 0 16-5 16-3 8 0 8 2 7 4 3 4-2 16 0 8 0 4 4 6 12 11 8 5 8 3 12 2 8 0 8-2 4-1 6-4 5-8 7-16 5-8 3-4 6-4 12-5 24-6 36-17 12-3 12-2 24-1 40 5 100 8 16 4 16 6 20 10 16 9 10 8 8 8 6 8 4 8 2 8-4 32 0 16 6 16 19 28 3 8 0 8-1 4-3 4-6 4-3 4-1 4-2 20-5 16 1 4 2 3 4 0 16-9 12-4 64-11 12 0 8 1 7 4 3 4 2 12-1 28-1 12-3 12-3 5-4 4-4 2-12 2-4 2-6 13-5 8-13 17-15 15-2 4-1 4 2 5 4 3 10 4 6 4 12 16 8 8 8 6 8 4 8 1 4-1 8-4 6-6 6-8 7-12 3-8 4-20 0-60 6-54zM342 820l6-4 5-4 5-8 4-8 2-8 0-8-2-8-2-4-3-4-6-4-7-2-16-2-8-2-16-6-14-8-4-4-4-8-5-36-5-12-4-8-8-8-8-5-4-1-4 1-4 2-6 7-6 8-4 8-3 12-1 12 2 8 2 8 4 8 9 12 21 24 4 8 8 16 6 8 5 4 23 14 12 5 12 1 8-2zM468 924l17-4 6-4 1-4-3-4-7-4-22-11-8-2-8-1-4 1-4 1-4 4-4 7 0 5 1 4 3 4 6 4 10 3 8 1z"/>
<path fill="#06ffad" d="M860 940l-840 0 0-571 36 6 80 15 24 4 16 0 32-7 12 1 4 4 3 16 3 8 4 8 6 7 9 9 7 5 8 3 12 2 20-1 5-1 7-4 4-4 4-5 12-25 9-10 11-5 24-7 24-12 12-5 12-3 12-2 24 0 136 15 16 3 16 7 16 7 16 10 10 8 8 8 6 8 3 8 1 8-2 32 1 12 6 16 7 12 10 16 5 12 0 4-1 4-9 8-4 8-1 20-6 16 0 4 2 3 4 2 4 1 5-2 11-7 12-4 64-11 12 0 8 2 4 2 4 6 2 12 0 28-1 12-3 8-6 8-4 2-12 2-4 2-2 2-5 12-5 8-12 15-17 17-2 4-2 4 1 4 4 4 16 8 4 4 15 20 9 7 8 4 8 2 4 0 8-2 4-3 8-8 5-8 5-8 5-12 3-12 1-8 0-56 1-18 4-29zM342 824l6-3 7-5 5-7 4-8 3-9 0-8 0-8-3-8-4-5-8-5-8-3-16-1-12-3-16-7-11-8-3-4-3-8-3-32-4-12-4-8-8-11-8-8-8-4-4 0-4 2-8 8-8 12-4 9-4 12-1 12 0 8 3 12 4 8 12 16 22 23 15 25 9 9 20 13 16 7 12 1 8 0zM476 924l12-4 6-4 1-4-4-4-31-18-12-5-8-2-4 0-4 1-5 4-3 6-2 6 1 8 1 4 3 4 5 4 11 4 9 2 12 0z"/>
<path fill="#1effa6" d="M860 940l-840 0 0-556 80 11 43 5 25 1 32-2 8 1 4 2 4 3 12 19 12 16 8 8 12 6 16 2 12 0 12-2 8-3 6-3 7-8 13-28 6-7 4-3 8-3 24-8 32-15 12-4 12-2 12-1 16 1 28 3 34 3 34 5 36 5 12 3 16 6 16 7 16 10 8 6 8 7 5 7 5 8 1 8 0 32 1 12 8 20 16 27 3 9 0 4-1 4-7 8-4 8-2 20-5 16 0 4 2 4 6 3 4 0 8-2 12-6 12-4 28-4 24-5 12-1 8 0 8 2 4 4 3 5 1 8 1 28-1 12-3 8-5 6-4 3-16 3-3 4-5 12-5 8-11 14-19 18-4 8 1 4 2 4 15 8 5 4 12 17 7 7 9 7 8 3 8 2 4 0 8-3 4-3 6-6 6-8 5-8 6-12 3-12 1-8 0-60 5-39zM343 828l9-4 6-4 6-8 3-8 3-12 1-8-1-8-3-8-7-8-6-4-10-3-16-1-12-3-16-7-8-6-3-4-4-8-2-16-2-20-4-12-5-11-8-11-8-8-8-6-4-1-4 1-4 2-4 5-8 13-9 16-4 12-2 12 1 12 2 10 4 10 11 16 29 28 13 20 11 10 24 16 12 5 12 3 8-1zM481 924l11-4 5-4 0-4-3-4-21-12-21-15-12-6-8-1-4 0-5 2-4 4-3 8 0 16 3 8 3 4 5 4 13 6 12 1 16 0z"/>
<path fill="#35ff9f" d="M860 940l-840 0 0-541 45 5 55 4 28 0 40-2 12 1 8 3 8 7 28 37 4 3 6 3 14 2 12 0 16-2 12-3 8-3 4-3 4-4 4-7 10-24 6-7 4-3 8-4 24-8 32-16 20-5 12-1 12 1 60 6 40 7 32 4 12 3 16 6 18 9 14 8 15 12 9 12 2 12 1 28 2 12 7 19 16 29 3 8 0 4-7 12-3 8-1 16-7 20 0 4 2 4 5 4 8 1 5-1 15-7 12-4 64-10 8 1 8 3 4 5 2 4 1 8 1 24-1 12-3 8-4 5-4 2-12 3-5 2-4 4-4 12-5 8-14 16-16 15-3 5-2 4 0 4 2 4 5 4 14 8 4 4 8 13 6 7 10 8 8 4 8 3 8 0 4-1 8-5 12-14 11-19 4-12 2-12-1-56 1-16 3-20zM347 832l5-2 8-4 5-6 4-8 4-12 1-12-1-12-3-8-6-8-8-5-8-3-20-2-12-3-12-5-9-6-4-4-4-8-3-16-1-20-3-12-5-12-11-17-12-12-8-6-4-2-4 0-4 4-19 37-5 12-2 8-2 12 1 12 2 12 5 12 6 8 6 8 13 12 15 12 19 24 13 10 20 14 12 6 16 3zM469 928l15-3 11-5 4-4 1-4-3-4-22-12-23-19-12-8-8-3-8-1-8 2-4 3-4 6-1 12 3 16 4 8 3 4 4 4 7 4 12 4 12 1z"/>
<path fill="#4cff98" d="M860 940l-840 0 0-527 23 3 49 2 44-1 48-4 12 1 7 2 5 3 8 8 12 16 8 14 6 7 7 4 11 2 16-1 24-4 12-3 8-4 9-6 2-4 11-28 6-8 4-3 10-5 22-8 28-14 12-4 12-2 20 0 32 4 32 2 36 8 32 5 12 3 12 5 32 17 12 9 10 11 4 16 1 24 2 12 8 20 15 28 2 8 0 4-5 12-2 8-1 16-7 20 0 4 1 4 4 4 4 2 8 1 8-3 16-6 8-3 64-9 8 1 4 1 4 3 4 5 2 8 1 24-1 12-4 8-2 3-4 3-12 3-4 1-3 2-3 4-4 12-5 8-13 15-16 14-5 7-1 4-1 4 3 6 4 4 12 6 4 4 10 16 6 8 8 6 8 4 8 3 8 1 4 0 8-4 8-7 6-7 8-12 6-12 4-12 2-12-2-52 1-16 3-18zM356 836l8-3 4-4 3-5 3-8 3-16 0-12-2-12-3-8-5-8-5-4-6-3-8-3-20-1-12-3-13-6-10-8-2-4-3-8-2-12 0-16-2-11-4-12-4-9-8-13-12-16-16-16-8-6-4 3-8 28-15 32-4 16-2 16 1 12 3 12 5 11 6 9 11 12 27 21 22 23 30 23 12 6 12 3 16 1zM476 928l12-3 10-5 4-4 1-4-3-4-22-12-5-4-21-20-8-6-8-5-8-3-12-1-8 1-4 2-4 4-2 4-1 8 3 16 6 16 5 8 5 4 12 7 16 4 16 0z"/>
<path fill="#64ff91" d="M860 940l-840 0 0-517 40 3 48 2 28-2 44-6 8 0 8 1 7 3 5 4 12 16 4 8 5 16 3 6 4 4 4 1 8 0 12-1 44-8 12-3 8-4 8-5 6-6 9-28 5-8 4-3 9-5 23-9 28-14 8-3 12-3 20 0 32 4 32 3 36 9 28 4 20 7 40 21 12 9 3 4 2 4 5 16 3 32 22 48 3 8-1 8-4 16-2 16-7 20 0 4 1 4 3 4 8 4 8 0 32-11 52-7 12-1 8 0 4 2 4 3 3 6 3 20 0 12-1 8-4 8-5 5-16 4-4 3-3 4-4 12-5 8-12 13-17 15-3 4-4 8 0 8 3 4 17 12 3 4 9 16 4 5 7 7 9 5 8 3 8 2 8-1 8-4 8-7 5-6 8-12 9-16 4-12 1-12-2-48 1-16 2-17zM379 844l1-1 1-3 0-48-2-12-4-12-7-10-8-6-12-3-20-2-12-3-12-5-8-7-4-5-3-7-2-12 0-16-1-8-2-11-4-11-12-22-27-36-6-12-7-17-4-7-4-4-4 3-1 5 0 8 3 32-1 16-5 16-14 32-4 20 0 12 2 12 3 12 5 11 8 11 11 10 29 21 20 19 28 23 8 6 12 5 16 3 28 3zM462 932l14-3 17-5 8-4 3-4 1-4-5-5-19-11-6-4-11-13-16-16-12-8-12-5-12-2-20-1-8 1-1 4 1 8 6 24 8 20 7 12 10 8 13 6 16 3z"/>
<path fill="#7bff8a" d="M860 940l-840 0 0-508 40 3 48 0 40-2 36-6 10 1 7 4 8 8 5 8 3 12 0 16-1 8 2 8 2 3 4 4 4 1 4 0 8-2 32-15 12-4 32-6 16-7 8-6 6-8 6-24 4-8 4-3 8-5 24-10 24-13 12-4 8-2 20-1 32 5 28 2 12 2 28 8 32 7 12 6 20 11 24 12 8 7 6 10 4 12 3 28 21 44 3 12 0 8-3 16-1 16-7 20 0 8 3 4 7 4 8 2 4 0 8-2 16-7 12-3 56-7 12 1 7 4 2 4 3 14 1 14 0 8-3 8-2 4-4 4-4 1-12 3-5 4-7 16-6 8-10 12-16 13-6 7-4 8 0 8 2 4 4 4 11 8 4 4 9 18 8 10 8 6 8 4 8 2 8 1 8-1 8-4 4-3 8-9 11-16 7-12 4-12 2-7zM471 932l17-5 12-5 3-2 4-4 0-4-2-4-5-3-17-9-6-4-25-29-12-11-12-6-24-8-9-6-5-8-3-8-3-28-3-12-5-12-8-9-8-5-8-3-24-1-12-3-12-6-8-7-4-6-2-8-2-12 1-12-1-10-3-14-5-13-8-15-23-32-4-8-6-16-7-27-4-9-4-4-4-2-4 0-4 1-4 5-2 4-1 12 6 44 1 12-1 8-4 12-13 32-3 12-2 12 0 16 2 12 4 12 6 12 6 8 9 9 12 9 24 14 52 46 8 4 8 4 36 9 8 4 4 3 4 5 4 7 17 38 6 8 9 8 12 6 16 5 16 0zM860 719l-2-31 2-27z"/>
<path fill="#8cff81" d="M860 940l-840 0 0-499 40 3 44-1 36-2 44-5 8 0 4 2 4 4 4 6 2 8 0 20-1 16 5 32-6 7-4 8-2 13 0 16 7 36 1 12-1 8-3 12-13 32-3 12-2 12 0 16 1 12 3 12 4 12 8 13 11 11 11 8 26 14 8 5 25 21 15 15 8 7 12 6 32 11 12 7 5 6 6 8 13 28 5 8 7 8 5 4 7 5 12 5 12 3 12 1 12-1 12-2 24-8 14-7 3-4 1-4-3-4-6-4-16-8-5-4-28-34-8-9-12-7-24-11-9-7-3-4-4-8-5-28-4-12-5-8-6-8-8-6-8-4-8-1-20-1-12-3-12-6-8-7-4-8-3-12 1-24-2-12-3-12-9-20-22-32-6-12-6-20-4-28-2-8-8-12 2-4 8-8 20-16 18-11 12-5 24-4 12-4 11-4 7-4 6-5 6-7 1-4 5-24 3-4 4-4 21-10 31-18 13-5 12-1 12 0 32 4 28 2 12 2 28 10 20 5 10 3 7 4 19 14 28 12 8 7 4 5 3 6 2 8 2 16 2 8 14 28 10 24 1 12-3 28-9 28 0 4 3 4 6 4 5 2 12 1 8-2 16-6 12-3 56-7 12 1 4 2 4 6 3 14 1 12-1 12-3 6-4 4-4 2-12 3-4 2-3 3-6 16-6 8-13 14-13 10-7 8-3 8-1 8 4 7 15 13 2 4 7 17 8 11 8 6 8 4 8 2 8 2 8-1 8-3 8-6 4-4 8-10 11-18 6-12 3-7zM609 468l3-4 0-4-1-4-3-3-4 0-4 3-3 4 0 4 3 4 4 1zM860 709l-1-21 1-21z"/>
<path fill="#96ff76" d="M860 940l-406 0 22-6 24-9 9-5 3-4 0-4-2-4-6-4-16-8-8-6-17-22-11-16-8-8-8-5-22-11-10-8-4-5-4-8-7-27-3-8-8-12-6-7-8-5-8-4-28-2-12-2-12-6-8-9-2-5-3-12 1-16-1-12-2-12-3-12-10-22-22-34-4-12-3-16-2-24-2-16 1-4 3-4 7-8 10-9 9-7 11-7 12-4 36-9 10-4 7-4 9-8 6-8 5-20 4-8 19-12 24-18 12-5 8-3 8-1 12 1 32 4 32 2 12 3 24 11 24 7 10 7 6 8-6 16-1 12 3 12 4 6 4 2 4 1 8 1 11-2 2-4 1-8 2-7 4-5 4-1 4 0 4 2 4 4 4 7 2 20 18 32 7 16 3 12 0 8-2 28-10 28-1 4 3 4 6 4 10 4 12 0 36-10 56-7 8 1 4 1 4 3 3 4 3 12 1 12-1 8-2 8-4 5-4 2-12 3-4 2-4 4-6 16-6 8-12 12-14 12-7 8-4 8-1 8 1 4 3 4 12 12 3 4 7 21 4 6 4 5 8 6 8 4 16 5 8 0 8-2 4-2 8-7 8-9 10-15 7-12 7-13zM424 940l-404 0 0-490 32 2 36 0 40-1 52-5 8 2 4 4 2 8 1 8-2 24 2 32-4 12-1 16 2 12 6 32 2 16-2 16-14 36-3 12-1 12-1 16 1 16 3 16 4 12 9 13 11 11 13 9 28 13 8 5 22 17 14 16 8 7 12 7 28 11 12 7 11 12 17 32 9 12 7 7 9 5 11 5 11 3z"/>
<path fill="#a0ff6b" d="M860 940l-395 0 27-10 13-6 7-5 2-3 1-4-3-4-5-4-19-10-8-6-15-20-12-20-5-6-8-6-24-13-8-7-8-12-8-24-5-12-5-8-8-8-10-7-8-2-24-2-16-3-12-6-7-8-3-8-2-8 1-28-1-12-4-14-9-22-20-32-4-8-2-8-1-12-1-12 2-28 2-4 7-8 8-8 10-8 8-4 12-5 40-11 9-4 6-4 14-12 8-8 8-20 22-24 4-4 9-7 12-5 8-2 12-1 32 5 36 2 16 5 39 19 4 4 1 4-1 16 1 8 7 24 3 4 6 3 12 2 20 0 8-1 4-2 4 1 8 7 8 10 7 12 5 12 4 12 3 12-2 32-2 8-7 16-4 2-9 2-3 3 0 1 5 4 11 2 16 6 12 2 8-1 20-7 12-3 40-5 16-1 8 1 5 2 4 4 3 10 2 14-1 8-2 8-3 3-4 3-12 3-4 2-4 4-5 13-7 10-12 13-16 13-7 8-4 8 0 8 0 4 3 5 12 15 7 24 5 9 7 7 9 6 12 4 8 2 8 1 8-2 8-4 8-6 12-16 20-33zM408 940l-388 0 0-480 36 2 100-3 12 2 8 4 5 7 0 24 4 28-2 12 1 16 2 12 4 20 3 24-1 16-13 36-3 12-2 16 0 20 0 16 4 16 4 12 10 15 12 11 16 9 24 10 12 6 18 13 17 20 9 8 12 6 24 10 12 8 10 12 15 28 8 12 7 7 7 5 16 8zM644 476l-4 1-1-1-1-4 2-3 4 2z"/>
<path fill="#aaff5f" d="M860 940l-388 0 32-14 8-4 5-6 0-4-2-4-7-5-20-10-6-5-14-20-11-20-5-7-8-7-24-14-9-8-8-12-9-24-4-8-5-8-8-8-9-7-8-3-8-2-20 0-16-3-12-7-4-4-4-6-3-12 2-28-1-12-3-12-9-24-19-32-3-8-2-8-1-20 4-32 11-12 16-12 12-5 32-10 20-7 35-26 6-8 9-20 10-16 7-8 6-4 7-4 8-2 12 0 32 5 32 0 8 2 8 3 15 8 16 12 2 4 10 36 1 12 2 4 4 4 6 4 8 1 40 1 8 1 4 2 8 8 10 15 5 12 4 16 1 12-1 20-3 11-5 9-3 4-12 5-3 3-1 4 4 6 4 2 12 2 20 5 8 1 12-2 16-6 12-3 40-5 16-1 8 1 4 2 4 5 3 9 2 12-1 8-3 8-5 5-12 3-4 2-4 3-2 3-4 12-6 9-12 12-16 13-8 10-3 4-2 8 0 8 4 8 9 12 2 8 4 20 2 6 4 6 8 8 8 4 12 5 12 2 8 0 8-1 8-5 4-3 12-14 24-39zM396 940l-376 0 0-468 36 2 60-3 20 0 9 1 7 2 4 2 4 4 7 12 9 28-1 16 1 12 2 12 6 24 2 16 0 12-1 8-13 40-2 16-2 16 0 24 1 16 4 16 6 12 9 13 12 11 16 8 32 11 10 5 6 4 8 7 13 17 11 10 11 6 21 9 12 7 8 8 6 8 14 28 5 8 11 12 14 8z"/>
<path fill="#b4ff54" d="M860 940l-382 0 30-14 9-6 3-4 0-4-3-4-5-4-20-10-8-6-14-20-10-21-7-11-9-7-22-13-9-8-7-12-12-28-6-8-8-8-12-9-8-4-8-1-20 1-16-4-12-7-6-8-4-12 3-28-1-12-3-16-9-24-18-32-3-12-1-12 1-12 3-16 4-12 10-10 12-8 12-6 28-8 16-6 11-6 21-14 25-14 4-8 2-16 4-12 5-8 3-4 9-6 8-3 8 0 12 1 16 4 8 1 32-2 12 3 11 6 10 8 4 4 4 8 8 28 3 18 4 10 4 4 4 2 8 2 32-3 20 2 8 3 4 4 6 6 5 8 5 12 4 16 0 12-1 20-3 11-4 6-12 8-4 4-2 7 1 4 2 4 3 2 4 2 16 1 16 3 8 1 12-2 20-7 8-2 36-4 24 0 6 2 4 4 3 8 2 12 0 8-3 8-4 4-12 3-4 1-5 4-2 4-4 12-5 7-12 12-16 13-10 12-4 8-1 8 0 4 3 8 5 8 4 8 2 28 5 12 7 8 9 6 12 5 16 4 8 1 8-1 8-3 8-6 12-16 24-40zM384 940l-364 0 0-456 32 1 52-1 20 0 12 3 8 3 4 3 7 7 5 8 6 12 1 24 3 16 6 20 2 16 0 12-1 8-11 40-3 28-1 32 1 16 3 16 6 16 5 8 6 8 13 11 16 8 32 9 12 4 12 9 14 19 9 8 9 6 24 10 13 8 7 8 5 8 13 28 5 8 6 8z"/>
<path fill="#bfff49" d="M860 940l-376 0 28-14 8-6 3-4 0-4-3-4-8-6-20-10-8-6-13-18-9-24-5-8-9-9-24-15-8-8-5-8-13-28-6-8-8-8-12-9-12-6-8-1-20 1-16-4-8-4-4-3-4-5-3-5-2-8-1-4 4-16 0-12-1-12-2-12-7-24-5-12-11-20-3-8-1-7 0-9 1-12 7-24 3-4 5-5 16-10 40-13 12-6 24-15 12-6 38-13 3-4 0-4-6-16 0-12 1-4 4-6 4-4 4-3 8-2 8 0 20 6 8 1 25-4 11 0 12 3 8 4 9 9 7 12 6 20 3 20 3 16 4 9 3 3 5 1 4 0 20-5 16-3 12 0 8 1 8 3 4 2 8 8 4 6 5 11 3 12 1 12-1 20-1 8-5 8-13 12-3 4-1 4 0 8 1 4 3 4 3 2 4 1 16 1 24 3 12-2 16-6 12-3 32-4 26 0 6 2 4 3 4 9 2 10 0 8-1 4-3 4-6 4-8 2-8 4-4 6-4 12-4 5-12 13-18 14-7 8-5 8-2 8-1 8 2 8 7 16 1 8-2 20 1 8 3 8 5 8 8 7 8 5 12 5 16 4 12 1 8 0 8-3 4-3 8-9 8-12 16-31 8-13zM368 940l-348 0 0-445 28 2 48-1 20 1 12 3 8 3 8 5 8 8 2 4 0 12 3 16 10 32 2 12-1 20-8 32-2 16-3 64 1 12 1 12 3 12 6 12 11 16 7 7 8 6 16 7 36 7 12 5 8 7 14 17 9 8 9 6 26 10 10 6 5 6 5 8 15 36 5 8 8 8zM465 664l-1-8-4-5-4-3-4-2-4 2 5 8 7 8 4 2z"/>
<path fill="#c9ff3d" d="M860 940l-371 0 29-16 5-4 3-4 0-4-3-4-7-6-21-10-6-4-5-4-11-16-3-8-4-16-7-12-8-8-20-12-9-8-6-8-9-20-8-12-7-9-14-11-10-6-8-3-8 0-16 1-8-1-11-3-8-4-5-4-6-8-2-6-1-6 5-24 0-12-2-16-6-26-4-10-11-24-3-12 1-8 1-12 4-12 5-12 7-6 8-5 44-16 12-7 20-13 16-8 12-3 16-3 12 0 24 3 4-1 4-2 4-7 0-12-2-8-2-4-4-3-12-1-4-1-4-3-3-4-1-4 2-4 5-4 5-1 4 1 6 4 6 7 4 1 8-2 20-10 12-3 12 0 8 3 4 2 7 6 5 8 5 12 3 12 5 32 1 24-3 20 0 12 1 8 5 12 3 17 4 10 4 4 4 3 4 1 4-1 4-2 3-4 1-4 0-4-2-8-4-8-9-28-1-12 2-8 3-4 5-4 14-7 16-4 16 0 12 4 9 7 7 12 5 16 0 16-1 20-4 8-12 12-4 8-1 16 1 4 4 4 8 2 16 0 20 2 8 0 8-1 18-7 10-2 12-2 28-2 20 1 4 2 4 4 4 11 1 8-2 8-2 4-5 3-12 3-4 2-6 8-4 12-2 4-12 12-12 9-8 7-7 8-5 8-2 8-1 8 2 8 4 12 1 8-5 28 0 8 1 8 3 8 5 8 8 7 8 4 12 4 36 11 8 1 8-2 4-2 4-3 4-6 8-17 17-41 7-12zM352 940l-332 0 0-421 12 0 12-1 24-8 20-1 24 1 9 2 11 4 2 4 4 16 4 12 14 32 1 8 0 12 0 12-6 32-2 12 0 16 1 28-3 40 3 20 4 12 5 12 8 12 5 7 8 7 8 6 8 3 8 3 32 3 12 3 8 6 13 14 11 8 12 7 28 9 6 4 7 8 4 8 11 36 6 12zM471 680l2-8-1-12-3-8-5-6-8-7-12-6-8-2-9 1-3 4 2 4 24 24 10 14 4 3 4 2z"/>
<path fill="#d3ff32" d="M800 940l-306 0 30-18 3-2 3-4 0-4-3-4-7-5-8-5-16-7-5-3-7-7-9-13-3-8-5-20-3-7-4-5-8-8-20-13-8-7-5-8-10-20-5-8-6-8-10-8-16-11-8-4-8-1-20 2-16-3-12-6-4-3-4-6-3-8-1-4 6-24 0-12-1-12-5-32-4-12-8-20-2-12 1-12 2-12 5-12 4-8 14-7 24-8 12-5 12-7 20-14 8-5 12-5 12-2 12-1 12 0 24 5 8-1 4-1 4-4 3-5 2-8 3-20 3-8 3-4 9-8 9-5 8-2 8 1 8 3 8 8 6 11 6 16 2 12 2 24-3 20-4 16 0 12 3 12 12 40 4 7 4 4 8 4 12 1 4 0 4-2 4-6 1-8-1-12-15-40 0-12 3-8 3-4 5-4 8-4 12-4 12 0 12 3 8 5 4 4 7 12 2 12 1 20-3 16-5 8-10 12-3 8 0 8-1 12 1 4 3 3 8 2 20-1 28 2 8-2 25-8 35-4 24 1 8 3 4 6 3 10 0 8-3 7-4 2-12 4-5 3-4 4-6 16-3 4-10 10-14 10-6 6-9 10-5 8-2 8-1 8 1 8 4 12 0 8-10 36-2 20 1 16 3 6 6 6 10 4 28 5 8 2 8 5 9 8 6 8 4 12 2 16zM332 940l-312 0 0-208 11-20 3-8 0-4-2-9-12-22 0-56 1-5-1-7 0-39 20-2 40-12 16-1 8 1 8 3 8 6 12 13 5 6 1 4 4 16 1 12-5 44 0 16 4 32-6 36-1 20 2 12 2 8 13 34 8 16 8 13 8 10 12 10 8 4 12 1 8-2 16-6 12-1 8 2 28 11 32 7 8 4 4 3 4 6 5 16 1 12 2 24zM473 708l4-20 1-16-3-16-3-6-4-5-12-11-8-6-8-3-12-3-12-1-4 1-6 2-2 4 1 4 3 4 28 23 9 9 17 24 2 4 1 12 3 4zM860 940l-5 0 3-32 0-20-2-8-9-16-2-8-1-8 1-12 4-16 6-20 5-10z"/>
<path fill="#ddff26" d="M600 940l-101 0 27-16 6-4 3-4 0-4-3-4-12-8-26-12-10-9-7-11-3-8-3-20-6-12-9-9-20-14-6-5-5-8-10-20-8-12-13-12-22-14-8-3-8-1-12 2-8 1-12-2-9-3-7-4-4-4-4-6-2-6 0-4 6-24 0-16-4-44-2-12-4-12-2-20 3-20 5-12 3-4 6-4 23-7 12-5 12-8 24-18 16-7 12-3 12-1 16 1 24 5 8 0 4-1 4-4 4-8 4-24 5-12 6-8 5-4 8-4 4-1 8 1 4 2 8 6 7 12 5 12 3 20 0 16-3 16-6 20-1 8 3 12 6 16 10 32 4 8 4 4 12 5 16 3 8 0 4-2 3-2 3-8-1-16-4-12-12-32-2-8 0-8 4-8 4-4 6-4 7-3 8-2 12 1 8 2 4 3 7 7 6 12 1 12-1 16-2 12-3 8-12 16-2 8 1 8-8 16 1 4 4 2 8 2 8 0 20-2 28 2 8-1 20-8 12-2 28-3 12 0 12 1 4 2 4 3 3 4 2 8 0 8-1 4-4 4-12 3-7 5-3 4-6 15-3 5-9 8-17 12-17 20-3 8-2 8 0 8 3 16-1 12-19 47-8 16-4 5-8 7-33 21-10 8-7 8-12 20-9 12-11 12zM100 752l-4 0-4-3-4-5-5-12-4-20-1-40 2-20 4-13 4-10 8-13 4-4 4-1 5 1 3 4 2 4 4 32 9 36 1 12-4 16-8 17-8 13-4 4zM471 716l5-3 3-5 2-8 1-12-1-16-2-12-2-8-5-7-8-9-8-7-8-5-8-4-12-4-16-2-8 1-4 1-3 4 0 4 1 8 3 4 7 7 25 21 9 8 6 8 7 12 3 16 2 4 6 4zM860 858l-5-14-1-12 2-16 4-17zM300 940l-31 0-10-8-3-5-3-7 0-12 4-12 2-4 5-4 7-4 5-1 16-1 16 1 4 2 5 3 3 6 1 6 1 8-2 12-4 8-4 5-8 6z"/>
<path fill="#e7ff1b" d="M584 940l-80 0 6-4 28-16 4-4 0-4-4-4-18-11-22-9-6-4-8-8-4-5-3-7-3-24-5-12-9-11-20-15-7-6-5-8-9-20-9-12-6-6-8-5-24-14-8-3-8-1-12 3-8 1-12-2-8-3-8-4-4-4-4-6-1-4 1-8 5-16 1-12 0-28 0-32-2-16 1-24 3-16 4-7 11-9 17-5 8-5 32-26 8-5 12-5 12-2 12 0 12 1 28 6 8 0 4-1 4-3 4-7 4-28 5-12 7-8 6-4 6-2 8 1 8 5 8 12 5 12 2 16-1 16-2 12-8 20-1 4 0 8 2 8 8 20 11 36 4 8 4 4 12 5 36 8 8 5 8 8 4 2 4 1 16-1 24-4 24 2 8-1 32-9 40-3 12 1 8 2 4 4 3 8 1 4 0 4-2 4-2 2-12 4-9 6-5 8-2 8-5 8-11 10-12 7-4 3-16 20-2 4-3 12 1 24-2 12-17 36-9 16-12 13-16 10-16 6-24 4-8 3-4 5-9 27-13 28-5 8zM632 616l-4 2-4-2-2-4-4-16-10-28-10-20-2-8 1-8 4-8 5-4 6-3 12-3 12 2 8 5 4 4 4 7 3 12-1 12-4 20-4 8-12 16-1 4 0 8zM478 716l3-4 3-8 1-12 0-12-3-16-2-11-2-5-6-8-8-8-12-10-8-5-8-3-32-7-8 0-4 3-2 6 0 4 2 8 4 8 8 9 28 24 10 11 6 12 4 16 2 4 6 5 8 3 4-1z"/>
<path fill="#f1ff10" d="M572 940l-62 0 13-8 26-12 5-4-1-4-5-4-28-14-20-7-8-6-8-7-4-6-1-4-2-24-5-13-8-11-8-7-12-9-7-8-14-28-7-10-8-8-8-5-16-7-16-8-8-3-4 0-11 5-5 1-12-1-8-2-12-7-4-4-4-7 0-5 6-15 2-8 2-44 6-36 8-16 12-20 9-20 11-9 24-24 9-7 11-5 12-3 12 0 12 2 32 7 8 0 4-1 4-2 3-6 5-32 4-11 4-6 4-3 8-3 8 2 8 6 5 7 5 12 1 16-1 12-4 12-10 20 0 8 1 8 11 24 14 40 2 5 4 5 12 5 36 11 8 4 12 9 4 1 16 0 28-6 32 2 8-2 24-7 40-3 12 1 8 3 4 6 2 6-1 4-2 4-15 6-7 6-3 4-3 12-7 9-8 7-16 9-8 11-12 12-2 4-1 16 0 20-3 12-21 40-9 12-8 7-12 8-12 5-12 2-12-1-12-4-9-5-8-8-11-16-4-3-3 7 0 12 3 12 6 20 1 12-2 8-3 8-11 16 0 16zM632 589l-4 1-4-3-2-3-8-20-10-16-3-8 1-8 2-4 4-4 4-3 8-2 12 0 8 3 4 3 4 6 3 9-1 8-6 28-5 8zM479 720l4-4 3-4 2-11 0-9-5-36-2-8-5-7-16-16-12-10-8-4-8-3-16-4-24-10-8-1-4 0-3 3 0 4 4 16 5 12 5 8 7 8 34 32 6 8 4 8 3 16 1 4 6 5 8 4 8 2 4-1z"/>
<path fill="#fbff04" d="M564 902l-8 0-12-2-12-4-8-6-13-2-7-2-8-5-12-10-3-7 1-16-1-8-5-12-5-8-7-10-12-10-8-8-5-8-4-12-4-8-11-17-8-8-6-3-22-6-16-8-8-3-4 0-16 8-8 0-8-2-8-3-8-5-4-4-3-5 0-4 7-16 2-8 2-36 5-20 4-8 7-10 4-4 4-2 8-1 12 3 8 5 8 8 21 29 35 36 5 8 3 7 0 5-2 12 2 4 7 4 5 2 8 2 12 2 8-1 9-5 3-4 2-4 2-12-1-8-5-36-3-8-3-5-16-18-16-13-12-7-16-5-8-4-28-20-8-8-7-8-5-8-2-8 10-16 10-12 10-8 12-5 12-3 12 1 12 1 36 9 8 0 4-1 4-4 2-6 1-24 3-16 5-8 5-3 4 0 4 0 8 4 6 7 4 8 1 16-1 12-6 13-11 15-1 8 3 12 11 20 6 15 12 34 4 7 8 4 44 15 8 4 8 5 8 3 16 0 32-7 28 2 8-1 20-6 8 0 16 1 24-4 8 0 4 2 4 3 3 7 0 4-3 3-16 7-4 4-3 6-4 12-6 8-7 6-16 8-12 15-13 11-1 4 1 8-1 24-1 8-3 8-13 24-10 16-10 12-9 7-12 6-8 2-12 1-12-3-12-7-8-8-7-10-9-19-4-5-4-1-4 4-4 13 0 20 1 16 4 20 0 12-2 8-3 4-4 4zM628 558l-4 0-8-4-6-6-3-8 0-4 1-4 3-4 5-4 8-2 8 0 8 4 4 6 3 8-2 8-5 6-8 2zM556 940l-38 0 5-4 9-4 16-4 8 2 3 2 1 4 0 4z"/>
<path fill="#fffa00" d="M512 512l-4 0-4-4-4-12-1-12 1-12 4-12 4-4 4 0 8 2 4 3 3 3 3 8 1 12-2 12-5 8-4 5zM556 894l-4 1-8-1-8-2-12-8-12 0-8-2-12-7-7-7-1-4 1-20-4-12-6-12-7-11-14-13-6-8-4-8-4-14-9-18-3-8 0-4 4-4 4-2 8-1 32-1 8-3 4-2 4-5 2-6 1-16-8-44-3-7-6-9-14-15-16-13-12-7-16-7-14-10-21-20-6-8-4-8-1-4 2-8 7-12 9-10 12-6 8-3 8-1 16 2 60 16 4 2 8 11 17 29 9 20 10 28 4 8 4 4 4 2 48 16 20 10 8 2 12 0 32-8 28 2 28-5 28 2 6-1 14-4 4 0 4 0 4 2 4 6-1 4-3 2-12 6-5 4-4 8-4 12-6 8-9 6-12 6-13 16-7 5-8 5-2 2 2 16 0 12-1 12-2 8-11 20-12 20-10 12-8 7-12 6-12 3-12-1-12-5-8-6-10-12-14-31-4-3-4-1-5 3-3 4-2 4-2 7-1 9-2 32 1 32-3 8-3 4zM628 548l-4 1-4-1-4-3-3-5 0-4 2-4 4-4 5-2 4 0 7 2 4 4 2 4 1 4-2 5-4 2zM404 726l-8 1-8-1-8-2-16-8-8-2-4 1-8 7-4 2-12 0-8-2-8-4-4-3-4-5-1-6 7-16 2-8 3-28 2-12 3-8 4-8 8-8 8-4 8-1 8 2 8 5 12 11 35 39 12 16 3 8 1 4-2 4-9 11-5 9-3 3zM536 940l-2 0 5 0z"/>
<path fill="#fff100" d="M516 501l-4-1-4-4-3-12 1-12 2-5 4-3 5 0 5 4 3 4 1 8-1 8-1 5-4 5zM548 884l-4 1-4-1-8-4-8-2-16 0-8-3-10-7-2-4 1-16-1-8-1-4-15-28-17-20-6-12-8-24-1-8 2-4 5-4 5-2 8-2 20-1 8-3 4-2 4-4 3-6 0-8 0-8-10-48-3-8-6-9-12-14-16-14-12-8-20-11-10-8-15-16-6-8-5-8 0-4 1-8 6-12 8-8 9-5 8-2 8 0 16 1 28 9 14 5 10 5 8 6 4 5 17 24 11 24 11 28 5 8 8 4 52 19 16 7 8 2 12 0 32-8 28 2 28-4 32 3 8-1 12-4 4 2 2 2-1 4-13 7-4 5-7 20-5 6-8 6-12 6-3 2-13 16-12 7-4 4 0 5 2 12 0 12-2 12-3 8-15 28-8 12-10 11-8 6-12 6-12 1-12-2-8-4-8-6-6-8-6-12-8-21-4-6-4-2-4 0-4 1-4 3-4 5-4 12-4 36-5 32-3 8zM632 544l-4-1-5-3-1-4 2-2 4-2 4 1 3 3 1 4zM396 720l-4 1-8-1-20-7-8-2-5 1-11 9-4 1-8-1-8-2-7-3-5-4-3-4 0-4 9-20 4-32 2-8 4-9 4-6 8-7 8-2 8 0 8 3 8 5 8 7 20 21 15 20 6 12 0 8-4 8-6 8-3 4z"/>
<path fill="#ffe800" d="M536 869l-24 3-4-1-8-3-5-4-2-4-1-16-2-8-16-32-16-20-6-12-4-16 0-8 1-4 4-4 7-3 28-4 11-5 3-4 2-4 1-4-1-8-7-28-6-28-3-8-4-7-12-15-16-16-12-9-20-12-10-9-14-16-7-12 0-12 3-8 7-8 9-5 8-2 8 0 20 3 28 10 16 10 12 12 12 16 12 23 14 33 6 7 8 4 35 13 17 5 16 7 12 2 16-1 24-6 28 2 28-4 12 0 12 2 8 2 6 3 0 4-5 20-5 8-8 6-16 8-12 15-12 7-4 4-2 4 0 4 2 12-1 12-1 8-2 8-17 32-8 12-8 8-11 8-12 4-12 1-12-4-8-6-9-11-4-8-7-20-4-9-4-4-4-1-8 1-8 6-4 6-2 5-3 12-4 32-5 16-6 9-4 3zM340 716l-4 2-4 1-12-2-8-5-4-4 0-4 7-16 7-36 5-12 5-7 4-3 8-3 8-1 8 3 8 4 12 11 11 12 10 12 5 8 3 8 1 8-2 8-4 7-4 4-8 4-8 0-28-7-8 2z"/>
<path fill="#ffdf00" d="M532 861l-12 2-8 0-8-4-3-3-7-20-18-37-4-6-12-15-5-10-2-8 0-8 1-4 4-4 6-4 4-1 28-3 8-2 4-3 3-7 0-12-3-8-8-20-8-36-3-8-5-7-12-15-16-16-28-20-11-10-10-12-5-8-3-8 1-8 1-4 7-8 8-5 8-1 8-1 16 3 22 8 10 5 10 7 10 10 12 16 12 21 13 29 5 8 6 6 8 4 32 12 20 5 16 7 12 2 8 1 8-1 24-7 28 2 32-4 20 3 5 2 4 4 1 4-2 12-4 9-8 7-16 8-4 4-8 10-15 10-3 4-2 8 2 12-1 12-4 16-20 36-6 8-7 8-8 5-12 5-12 0-12-4-8-6-9-12-5-12-6-20-4-7-4-2-4-1-8 2-9 4-6 8-4 12-4 32-4 12-4 8-4 4zM336 714l-8 1-8-2-7-5-1-4 6-12 6-34 6-14 6-7 4-3 8-2 8 1 8 3 8 5 11 11 10 12 6 8 3 8 2 8-1 8-5 8-6 4-4 1-8 1-20-4-8 0-7 2z"/>
<path fill="#ffd700" d="M524 857l-8 0-4-1-4-2-4-4-15-30-12-28-15-20-4-12 0-4 2-7 4-4 4-2 12-1 28 0 7-2 3-4 1-8-1-8-2-12-13-24-3-8-6-28-3-8-5-8-10-14-16-17-36-29-7-8-8-12-2-8 1-8 1-4 4-4 7-4 8-2 8 0 16 3 20 9 15 10 12 12 9 11 12 20 19 37 8 8 9 4 32 12 20 5 20 8 8 1 8 1 8-1 24-6 28 1 32-4 8 1 10 2 7 4 1 4 0 12-2 5-4 6-8 5-9 4-6 4-10 12-15 10-4 6-1 8 0 12 0 12-5 16-19 36-7 8-8 8-12 6-8 2-12-2-8-3-8-6-6-9-4-8-7-24-4-8-3-3-4-2-10 1-10 3-4 3-4 4-3 6-4 12-4 32-5 12-4 5-4 4-4 2zM336 708l-8 2-4-1-2-1-3-4 3-12 3-24 3-11 5-9 7-7 8-3 4 0 8 1 8 4 8 7 13 14 5 8 3 8 1 8-1 4-1 4-3 4-5 3-4 1-8 1-24-2-8 2z"/>
<path fill="#ffce00" d="M532 849l-8 3-8-1-7-3-4-4-13-24-11-32-13-16-5-8 0-8 1-4 5-4 3-1 8-1 28 4 8-1 4-1 6-4 2-4 1-8-10-28-11-15-4-8-7-33-3-8-6-10-12-17-12-13-12-11-17-13-8-8-7-8-4-8-2-8 2-8 4-4 8-4 12-1 16 4 16 8 13 9 11 11 8 11 16 25 14 25 5 8 5 4 8 5 36 14 20 4 20 7 8 2 8 1 8-1 24-6 28 0 32-3 8 1 8 2 4 2 3 4 1 4 0 8-4 8-5 4-19 10-12 14-12 8-4 4-3 8-1 28-3 12-18 36-7 9-8 8-8 5-12 3-12-1-8-4-8-7-6-9-5-12-5-20-4-8-4-3-4-1-16 2-8 3-5 3-3 5-5 15-4 28-3 10-5 10zM380 700l-8 1-20-1-16 2-6-2-2-4 0-4 0-20 4-13 4-7 4-5 8-3 4-1 8 2 12 6 12 13 7 12 1 8 0 4-1 4-3 4z"/>
<path fill="#ffc500" d="M532 844l-4 2-8 2-8-3-5-5-7-11-4-9-11-36-5-7-9-9-4-8 1-4 3-4 5-1 8 0 16 4 8 1 8-1 13-3 6-4 2-4 1-4-1-8-15-32-10-10-4-6-4-11-6-29-3-8-7-12-8-11-12-15-8-8-24-20-6-6-5-8-2-4 0-8 1-4 4-4 4-2 12-1 12 3 16 8 10 8 8 8 10 13 24 35 12 20 8 7 8 4 36 14 24 4 24 9 8 1 8-1 28-6 24 0 32-3 8 1 8 2 4 4 2 4 0 8-2 4-3 4-5 4-16 8-12 12-12 9-4 4-3 7-1 4-1 24-5 16-15 32-7 10-8 8-8 6-8 2-12 1-8-3-8-5-8-11-5-12-6-24-2-4-3-3-4-2-4-1-21 2-7 2-4 2-4 7-5 17-4 28-2 8-4 8zM376 696l-12 2-20-2-4 0-5-4-2-4-1-6 1-14 3-8 4-5 4-3 8-3 8 1 11 6 9 9 6 11 1 8-1 4-3 4z"/>
<path fill="#ffbc00" d="M528 842l-4 1-8-1-4-2-7-8-5-10-4-10-6-32-4-8-7-8-2-4 3-1 12 2 16 1 32-5 4-5 1-4 0-8-2-8-9-16-10-20-10-8-5-8-3-8-4-24-3-8-11-23-20-26-26-23-7-8-3-8 0-4 3-4 5-3 8-1 12 4 8 4 9 8 15 16 28 36 16 24 5 4 7 4 40 15 24 4 20 8 8 2 12 0 28-6 28-1 28-3 12 2 5 3 2 4 0 8-3 6-4 3-20 11-11 12-9 6-5 6-4 8-3 28-4 16-11 24-7 12-6 8-8 7-8 4-12 2-12-3-8-6-6-8-4-8-6-27-2-5-3-4-3-2-8-2-12 1-20-1-4 2-3 6-6 28-5 28-4 8zM372 693l-8 1-8 0-10-2-6-4-3-8 1-8 2-7 4-6 4-2 4-2 8 1 8 3 8 8 5 9 0 8-2 4z"/>
<path fill="#ffb400" d="M652 825l-8 2-8 0-8-3-8-7-4-5-4-8-7-32-5-7-4-2-4-1-12 1-12-2-8-2-4-3-3-4-1-4-3-16-2-4-11-16-8-16-4-4-8-6-4-6-4-11-5-29-12-28-18-28-5-5-16-13-4-4-3-6 2-4 5-1 4 0 8 5 33 36 23 22 12 18 8 7 8 4 20 6 20 8 28 5 16 8 8 1 12 0 28-6 28-1 24-3 12 1 6 2 2 3 2 5-1 4-3 4-4 4-18 10-24 21-3 5-3 8-3 24-3 12-12 28-6 12-6 9-8 8zM368 689l-8 2-4-1-5-2-5-4-2-4-1-4 1-4 4-6 4-3 8 0 4 1 6 4 3 4 2 8-2 4zM528 836l-4 3-4 0-4-2-4-2-5-7-4-8-2-8-4-32 1-4 2-4 4-2 16-4 12-1 4 1 4 2 2 4 0 8-7 44-3 8z"/>
<path fill="#ffab00" d="M648 824l-8 1-8-1-8-5-6-7-6-12-5-28-4-8-3-2-4-2-16 1-8-2-7-3-5-4-4-8-4-16-12-16-12-20-12-10-3-6-2-8-4-24-6-24 0-4 2-4 5 0 8 4 4 4 7 12 4 4 5 4 8 4 24 7 20 8 28 4 12 7 8 3 12 1 32-7 28-1 24-3 12 1 6 4 1 4-1 4-3 4-23 13-20 20-4 5-3 6-4 28-3 12-14 32-6 12-6 7-8 6zM364 681l-4 2-4-1-2-2 0-4 2-3 4 0 4 3 1 4zM524 832l-4 1-4-2-4-4-4-7-3-12 0-20 2-8 4-4 8-4 9-1 4 0 4 3 1 6-4 20-2 20-3 8z"/>
<path fill="#ffa000" d="M652 821l-8 2-8 0-8-3-8-8-6-12-5-32-5-8-4-2-4 0-12 1-8-1-8-4-6-6-3-8-4-12-2-4-10-12-12-20-12-12-3-4-3-16-2-32 1-3 4 1 4 6 9 8 11 6 28 8 20 7 24 3 4 2 12 7 8 3 12 0 32-6 28-1 24-4 8 1 5 2 3 4-2 4-2 2-20 12-20 19-5 7-4 8-3 20-4 17-14 35-4 8-6 8-4 4zM520 822l-4-2-2-8 2-8 2-4 1-4-1-8 1-4 5-3 4 1 0 2-3 12-1 20-2 4z"/>
<path fill="#ff9500" d="M648 821l-8 0-8-1-6-4-6-7-3-5-2-8-3-24-2-8-2-4-4-4-8-1-12 2-4-1-8-3-5-5-4-8-7-16-12-16-12-20-8-8-4-5-2-7-1-8 1-8 2-5 4-2 4 1 16 5 24 5 20 7 24 3 4 2 16 10 8 2 12-1 32-7 28-1 20-2 4 0 6 3-2 4-16 10-4 3-21 23-4 8-5 24-6 20-12 32-4 8-6 8-6 5z"/>
<path fill="#ff8a00" d="M652 817l-8 3-8-1-8-4-7-7-4-8-1-8-3-28-1-4-4-6-4-3-4 0-16 3-4-1-8-5-4-4-9-20-11-16-12-20-10-12-2-4-1-8 1-5 2-3 2-2 4 0 32 3 24 8 24 4 20 12 8 2 12-1 20-6 12-2 16 0 22 2 0 4-23 28-5 8-6 28-18 52-7 12-3 4z"/>
<path fill="#ff7f00" d="M648 817l-8 1-8-2-5-4-6-8-3-8-1-8-1-28-4-9-4-3-4-1-20 4-7-3-5-5-10-19-14-20-15-28-2-8 1-5 4-3 8-1 12 0 10 1 22 8 24 4 6 4 10 8 4 2 4 1 12 0 22-7 14-3 12 0 13 3 2 4-1 4-5 8-9 12-4 8-5 24-19 56-4 8-4 5-4 4z"/>
<path fill="#ff7400" d="M640 816l-8-2-4-3-4-5-3-6-3-12 1-28-3-11-4-4-4-2-4 0-16 3-4 0-4-1-4-3-4-5-9-17-11-16-10-20-3-8 0-4 1-4 4-3 8-2 12-1 24 8 20 4 4 2 4 3 12 13 4 2 8 0 28-10 12-3 12-1 4 1 6 3 2 4-1 4-2 4-9 12-3 8-4 24-6 16-12 40-5 8-6 7-8 4z"/>
<path fill="#ff6800" d="M648 813l-8 1-8-2-5-4-4-8-2-8-1-8 2-28-2-10-4-6-4-1-4-1-16 3-8 0-4-1-4-4-4-6-19-30-5-12-3-12 2-4 4-4 5-2 8-1 24 8 13 3 7 2 7 6 9 17 4 3 4 1 8-2 19-11 13-5 8-2 8 0 4 0 5 3 1 4-1 4-6 8-4 8-3 24-8 20-11 40-5 8-4 4z"/>
<path fill="#ff5d00" d="M644 812l-8 0-4-2-5-6-4-8-1-12 4-24 0-8-2-15-3-5-1-1-4-1-20 6-8 1-4-1-4-2-8-10-14-20-4-8-2-8-1-8 1-4 4-4 8-3 4 1 32 10 8 4 4 6 12 27 4 3 8-2 8-4 4-3 10-11 10-6 12-3 8 1 1 4-3 8-3 8 0 16-2 8-10 24-7 32-3 8-5 6-4 3z"/>
<path fill="#ff5100" d="M600 729l-8 2-4 1-4-2-4-2-4-5-16-23-2-4-2-8 0-4 1-4 3-3 4-2 8 1 25 8 7 5 4 6 2 5 2 8 0 8-1 4-3 4zM648 809l-8 1-7-2-5-5-3-7-1-8 0-8 5-20 3-20 3-8 3-4 18-12 8-9 4-3 4-2 4 1 1 5 3 15 0 9-3 8-6 12-4 12-4 24-2 8-6 8z"/>
<path fill="#ff4500" d="M592 725l-4 0-4-1-4-3-16-22-2-7 0-4 2-4 4-2 4 0 8 2 12 5 5 3 4 4 3 8 1 4-1 8-4 5-4 3zM644 808l-8-1-4-2-4-5-2-8 1-12 7-20 3-16 3-8 7-8 13-7 4-4 4-2 4 1 4 5 1 7 0 4-1 5-10 19-3 8-1 20-2 8-4 8-3 4-5 3z"/>
<path fill="#ff3800" d="M592 716l-4 1-4-1-5-8-3-8 0-2 4-1 4 1 4 1 4 2 3 7 0 4zM648 805l-4 1-4 0-4-1-4-3-4-9 0-9 4-12 7-12 4-16 4-8 8-8 9-6 4-1 4 2 2 5 0 8-2 4-9 12-4 8-1 8 1 16-1 8-4 8z"/>
<path fill="#ff2c00" d="M656 749l-4-1-1-4 2-8 3-4 4-4 4-2 4 0 3 2 0 4-1 4-2 4-4 4zM648 802l-4 2-4 0-4-2-5-6-1-8 2-9 4-6 8-8 4-1 4 4 3 8 1 8-1 8-1 4z"/>
<path fill="#ff1f00" d="M664 737l-2-1 0-4 2-2 3 2zM644 801l-4 0-4-2-3-7 0-4 3-9 4-4 4-2 4 1 4 6 1 8-2 8-3 3z"/>
<path fill="#ff1300" d="M644 798l-4-1-2-1-2-4 0-4 4-7 4-1 4 2 2 6-2 7z"/></g>
</g>
<use href="#basin" fill="none" stroke="#6e6e6e" stroke-width="2" stroke-linejoin="round"/>
<circle cx="209" cy="151" r="1.7" fill="#6e6e6e"/>
<circle cx="154.8" cy="224.6" r="1.7" fill="#6e6e6e"/>
<circle cx="333.6" cy="390.7" r="1.7" fill="#6e6e6e"/>
<circle cx="507.5" cy="592" r="1.7" fill="#6e6e6e"/>
<circle cx="525" cy="680" r="1.7" fill="#6e6e6e"/>
<circle cx="538" cy="679.5" r="1.7" fill="#6e6e6e"/>
<circle cx="780.3" cy="670.2" r="1.7" fill="#6e6e6e"/>
<circle cx="440.3" cy="724.5" r="1.7" fill="#6e6e6e"/>
<circle cx="471.5" cy="809" r="1.7" fill="#6e6e6e"/>
</g>
<rect x="190.1" y="1514" width="868.1" height="1201.2" fill="none" stroke="#000" stroke-width="4.1" stroke-linejoin="round" shape-rendering="crispEdges"/>
<line x1="344.4" y1="1488.5" x2="344.4" y2="1514" stroke="#000" stroke-width="2.9" shape-rendering="crispEdges"/>
<line x1="648.9" y1="1488.5" x2="648.9" y2="1514" stroke="#000" stroke-width="2.9" shape-rendering="crispEdges"/>
<line x1="953.3" y1="1488.5" x2="953.3" y2="1514" stroke="#000" stroke-width="2.9" shape-rendering="crispEdges"/>
<line x1="164.6" y1="1709.8" x2="190.1" y2="1709.8" stroke="#000" stroke-width="2.9" shape-rendering="crispEdges"/>
<line x1="164.6" y1="1917.3" x2="190.1" y2="1917.3" stroke="#000" stroke-width="2.9" shape-rendering="crispEdges"/>
<line x1="164.6" y1="2122.2" x2="190.1" y2="2122.2" stroke="#000" stroke-width="2.9" shape-rendering="crispEdges"/>
<line x1="164.6" y1="2325.2" x2="190.1" y2="2325.2" stroke="#000" stroke-width="2.9" shape-rendering="crispEdges"/>
<line x1="164.6" y1="2528.2" x2="190.1" y2="2528.2" stroke="#000" stroke-width="2.9" shape-rendering="crispEdges"/>
<text transform="translate(216.2 2839) scale(1.000 1.042)" font-size="110.3">33°E</text>
<text transform="translate(518.8 2839) scale(1.000 1.042)" font-size="110.3">36°E</text>
<text transform="translate(821.8 2839) scale(1.000 1.042)" font-size="110.3">39°E</text>
<text transform="translate(139.5 1831.8) rotate(-90) scale(1.000 1.042)" font-size="110.3">14°N</text>
<text transform="translate(139.5 2243.7) rotate(-90) scale(1.000 1.042)" font-size="110.3">10°N</text>
<text transform="translate(139.5 2621.8) rotate(-90) scale(1.000 1.042)" font-size="110.3">6°N</text>
<rect x="617.8" y="1619.8" width="165.3" height="50" fill="#fff" stroke="#000" stroke-width="3.7" stroke-linejoin="round"/>
<text transform="translate(652.8 1590.9) scale(1.000 1.050)" font-size="59.4">170</text>
<text transform="translate(796.8 1668.8) scale(1.000 1.030)" font-size="60">Km</text>
<path d="M981,1691.2 L929.2,1850.1 L981.3,1831.7 L1032.8,1850.1Z" fill="#000"/>
<path d="M973.7,1683.5 L921.9,1842.4 L974,1824 L1025.5,1842.4Z" fill="#fff" stroke="#000" stroke-width="0.9" stroke-linejoin="miter"/>
<text transform="translate(953.4 1911.6) scale(1.000 1.050)" font-size="71">N</text>
<text transform="translate(220.3 2101.3) scale(1.000 1.035)" font-size="94.7">c)</text>
<text transform="translate(375.2 2519.9) scale(1.000 1.035)" font-size="94.7">SPEI (180-day)</text>
<rect x="468" y="2577" width="307.9" height="93.8" fill="url(#ramp)"/>
<line x1="468.3" y1="2670.8" x2="468.3" y2="2678.8" stroke="#000" stroke-width="1" shape-rendering="crispEdges"/>
<text transform="translate(220.7 2671.3) scale(1.000 1.015)" font-size="94">0.582</text>
<text transform="translate(796.1 2668.7) scale(1.000 1.015)" font-size="94">-0.777</text>
</g>
<g id="panel-d">
<g transform="translate(1157.1 1509.7)">
<g clip-path="url(#bclip)">
<g fill-rule="evenodd"><rect x="16" y="36" width="848" height="908" fill="#0205ff"/>
<path fill="#0710ff" d="M860 941l-840 0-1-1-1-536 1-112 1-113 32-3 20-2 56-14 12-4 12-32 10-16 6-7 8-6 8-3 8-2 8 0 12 2 12 5 8 5 8 10 4 8 4 12 3 16 7 12 5 16 13 5 11 3 5 0 4 0 8-3 12-7 7-2 13-10 12-7 12-5 12-2 12-1 28 1 16 0 100-13 212-17 84-5 36-4 1 111 1 116-1 384 0 220zM805 496l-1-6-4-2-1 4 1 8 4-1zM823 752l10-4 7-7 4-6 1-11-1-10-3-6-5-4-12 0-4 3-4 1-4 3-5 1-4 4-1 12 2 14 5 6 10 4zM309 792l1-4-2-2-3-2-5 2-1 2 1 4 4 1z"/>
<path fill="#0c1aff" d="M860 941l-840 0-1-1-1-536 1-116 1-97 28 0 20-3 12-4 28-11 32-9 14-8 3-4 10-20 9-11 12-8 12-3 8 1 8 2 8 4 7 7 7 12 4 12 6 6 4 7 6 15 20 8 14 2 9-2 26-12 21-12 8-3 12-2 16-1 32 3 20-1 84-9 224-19 80-5 36-4 1 101 1 116-1 384 0 220zM805 500l1-8-2-4-4-2-2 2 0 4 2 11 4-1zM827 752l8-4 5-5 4-6 1-5 0-12-1-8-4-6-4-3-12 0-4 4-5 1-3 3-6 1-3 4-2 8 1 16 5 8 9 5 4 0zM311 792l1-4-4-4-4-1-4 1-3 4 2 4 5 2 4 0z"/>
<path fill="#1124ff" d="M860 941l-840 0-1-1-1-536 1-112 1-95 60-5 15-4 13-7 8-4 24-6 8-4 17-11 5-4 8-12 6-6 8-5 8-2 12 1 7 4 5 4 4 4 4 8 8 7 5 5 4 8 3 8 24 10 8 1 8 1 8-2 20-10 28-11 8-2 12-2 16 0 26 3 9 0 17-2 37-2 19-3 27-1 17-3 32-1 16-2 32-2 20-3 33-1 15-2 35-2 17-3 32-1 16-2 36-2 16-2 24-2 1 88 1 120-1 384 0 220zM804 504l3-8 0-4-3-7-4-1-3 4 1 12 2 5zM829 752l7-4 4-4 5-8 1-8 0-8-1-8-7-8-2-1-4-1-8 1-12 7-7 2-3 4-2 8 1 16 4 8 6 4 5 2 8 0zM312 792l1-4-3-4-2-1-4-1-4 1-2 1-2 4 1 4 7 4 4-1z"/>
<path fill="#162fff" d="M860 941l-840 0-1-1-1-536 1-112 1-93 56-4 17-3 16-4 7-4 8-4 18-4 6-3 37-21 7-5 8-3 8 0 4 1 20 11 8 8 7 12 1 1 24 9 8 3 8 1 12-2 20-10 20-7 8-2 20-3 12-1 36 1 24-1 420-34 1 89 1 116-1 384 0 220zM805 504l3-8 0-4-4-8-4-2-3 2-1 4 2 16 2 3 4-1zM830 752l7-4 4-4 3-5 2-7 1-8-1-8-2-6-5-6-3-2-4-1-8 1-12 7-8 3-3 4-2 8 1 16 4 9 4 3 8 3 8-1zM309 796l4-4 1-4-2-4-4-2-4-1-4 0-4 3-1 4 1 4 6 4z"/>
<path fill="#1b39ff" d="M860 941l-840 0-1-1-1-536 1-112 1-91 56-4 20-3 23-6 5-3 24-7 36-18 8-3 8-2 12 1 8 2 5 2 7 5 4 4 4 7 4 2 28 10 8 2 8 1 12-2 20-10 12-4 24-5 92-4 412-33 1 91 1 112-1 384 0 220zM801 508l3-1 4-6 1-9-1-4-3-4-1-2-4-2-4 3-1 5 1 16 4 4zM832 752l8-6 4-6 3-8 1-8-1-8-3-7-4-5-4-3-4-1-8 2-12 7-8 3-4 5-1 11 1 16 1 4 4 4 3 2 8 2 8-1zM310 796l5-4 0-4-3-5-4-3-4 0-4 0-5 4-1 4 2 5 4 3 4 1z"/>
<path fill="#1942ff" d="M860 941l-840 0-1-1-1-536 1-112 1-88 48-4 28-4 56-15 15-5 21-10 12-3 8 0 8 2 8 4 8 7 8 4 36 11 12 2 12-2 20-10 12-4 12-3 16-3 60-1 32-2 408-33 1 89 1 112-1 384 0 220zM805 508l3-4 1-4 0-8-2-8-3-3-4-2-4 2-1 3 1 20 2 4 2 1zM823 756l9-3 8-7 6-10 2-8 0-10-2-6-2-4-4-5-4-2-4-1-8 1-8 5-12 5-4 5-2 4 0 8 1 16 2 8 3 2 8 3zM312 796l4-4 0-4-1-4-3-2-4-2-8-1-6 5-1 4 1 4 4 4 6 2 4 0z"/>
<path fill="#144aff" d="M860 941l-840 0-1-1 0-536 1-198 44-3 24-3 52-13 21-3 20-4 15-6 12 1 8 4 20 3 40 11 12 2 12-3 28-13 12-3 16-2 96-4 408-33 1 87 0 112 0 384 0 220zM806 508l3-4 1-4 0-8-2-8-4-5-4-1-4 1-2 5 1 20 1 4 4 3 4-1zM826 756l10-5 7-7 4-8 2-8-1-12-3-8-5-5-4-3-4-1-8 2-8 5-14 6-3 4-2 8 0 24 1 4 2 3 4 2 8 1 8 0zM781 764l-1-4-16-8-3 4 3 6 4 3 4 1 4 1zM314 796l3-4 0-4-1-4-4-4-4-1-8 0-4 1-3 4-1 4 1 4 3 4 8 3 4-1z"/>
<path fill="#1052ff" d="M860 941l-840 0-1-1 0-536 1-196 40-3 24-2 16-4 32-9 28-4 40-3 28 0 12 2 36 10 12 1 12-2 16-8 12-5 12-3 16-3 20-1 44 0 36-2 404-33 1 197 0 384 0 220zM807 508l2-4 2-8-1-8-1-4-5-6-4-2-4 1-2 3-1 4 1 20 1 4 5 4 4-1zM788 768l8-6 24-3 8-3 8-4 7-8 6-12 0-12-2-8-2-4-5-6-4-2-4-1-4 0-26 13-3 4-2 4-1 24-1 4-3 7-4 1-8-1-16-6-4 0-3 3 1 4 2 5 4 5 4 3 8 2 4 0zM315 796l3-4 1-4-2-4-5-5-8-2-4 1-5 2-3 4-1 4 1 4 4 5 8 2 4 0z"/>
<path fill="#0c5aff" d="M860 941l-840 0-1-1 0-536 1-194 40-2 24-3 16-3 32-10 24-4 72-3 12 2 36 10 12 1 12-3 16-8 12-5 12-3 16-2 20-1 44-1 36-1 404-33 1 195 0 384 0 220zM803 512l5-4 2-4 1-4 1-8-4-11-4-4-4-2-4 1-3 4-1 3 2 13 0 8 2 6 4 3zM789 772l14-8 25-7 8-5 8-8 5-12 1-12-4-12-6-7-4-2-4-1-4 1-12 6-15 7-3 4-1 4-3 24-2 5-4 3-8 1-20-6-4 1-1 4 2 8 3 5 8 7 4 2 8 1zM306 800l6-1 4-3 3-4 1-4-2-4-6-5-8-3-4 1-6 3-3 4-1 4 1 4 5 5 4 2z"/>
<path fill="#0862ff" d="M860 941l-840 0-1-1 0-536 1-192 40-2 24-3 20-4 32-10 16-3 76-2 12 2 36 9 12 1 8-2 20-10 12-4 12-3 16-2 20-1 48-1 36-2 400-32 1 193 0 384 0 220zM805 512l4-4 3-8 0-12-4-8-4-5-4-1-4 0-4 5-1 5 2 12 0 8 1 4 2 4 4 2zM789 776l15-9 20-7 8-4 8-6 5-6 5-12 0-12-3-12-7-7-4-2-8-1-12 7-12 5-4 2-3 4-1 4-2 20-2 6-4 4-4 1-8 0-16-6-4 1-2 2-1 4 2 8 5 8 4 4 6 4 6 2 8-1zM311 800l6-4 3-4 1-4-2-4-3-4-4-2-8-2-8 1-4 3-2 4-1 4 1 4 3 4 7 4 4 1z"/>
<path fill="#036aff" d="M860 941l-840 0-1-1 0-536 1-190 40-2 28-3 16-4 32-11 16-2 76-1 16 2 32 9 8 0 12-2 20-10 12-5 24-4 20-2 52 0 40-2 396-32 1 191-1 384 1 220zM807 512l3-4 3-8 0-12-4-8-3-4-2-2-4-2-4 1-4 3-1 4-1 4 3 12 0 12 3 5 4 2 4-1zM737 504l-1-5-4 1-1 4 1 2 4-1zM263 588l-2-4-1-1-1 1-1 4 2 3zM786 780l9-4 13-9 24-10 8-6 5-7 5-12 1-12-2-8-2-4-3-5-4-3-4-2-8 0-4 1-8 6-12 4-4 3-3 4-1 4-3 20-2 4-3 3-4 2-8 0-16-6-5 1-3 4 0 6 4 10 4 6 4 5 4 3 8 3zM313 800l6-4 2-4 1-4-1-4-4-4-5-3-8-2-8 1-5 4-2 4-1 4 1 4 3 4 7 4 5 1z"/>
<path fill="#0073ff" d="M860 941l-840 0-1-1 0-536 1-187 44-3 24-3 20-5 28-10 12-2 16-1 32 2 32-2 16 3 32 8 8 0 12-2 18-10 10-4 12-3 16-3 20-1 52 0 40-2 396-31 1 188-1 384 1 220zM573 472l-1-2-1 2 1 1zM808 512l3-4 2-8 1-8-2-8-4-8-4-3-4-2-4 0-4 3-2 6 0 4 2 12 0 12 4 6 4 2 4-1zM735 508l1 0 2-4 0-4-2-3-4 1-3 6 2 4 1 1zM264 596l3-4 0-4-1-4-2-4-4-2-4 1-3 5 0 4 2 4 1 3 4 2zM793 780l18-12 21-10 8-6 6-8 5-12 0-12-1-8-2-4-4-5-4-4-4-2-8 0-4 2-8 5-12 5-5 3-3 4-1 4-1 12-2 8-4 6-4 2-4 0-8-1-12-5-4 1-4 2-1 3 0 4 1 6 4 9 8 10 8 5 8 1 8-1zM315 800l5-4 2-4 1-4-1-4-3-4-7-4-8-2-8 1-6 5-3 4 0 4 1 4 4 5 5 3 7 2 4 0z"/>
<path fill="#0081ff" d="M860 941l-840 0-1-1 0-536 1-185 44-2 24-3 16-4 32-12 12-3 20 0 28 2 32-1 16 3 28 6 12 1 12-3 16-9 12-5 12-3 16-2 20-1 52 0 40-2 396-31 1 186-1 384 1 220zM576 476l1-4 0-4-1-1-4-2-4 2-2 5 2 6 4 2zM803 516l5-3 4-6 2-7 0-12-2-6-4-7-4-3-4-2-4 0-4 2-2 4-1 4 2 16 1 12 1 4 3 3 4 1zM737 508l2-4 0-4-3-5-4 1-4 8 1 4 3 2 4-1zM265 600l3-3 2-5-1-8-2-4-3-3-4-2-4 0-5 5-1 4 1 8 5 7 4 2 4 0zM790 784l8-4 17-12 17-9 8-7 7-8 4-12 1-8-1-8-2-8-3-4-6-5-4-2-8 0-4 1-8 6-12 4-6 4-2 4-1 4-3 17-4 7-4 2-8 1-16-6-4 1-5 2-2 4 1 4 1 8 5 10 4 6 8 6 8 4 8 0zM316 800l5-4 2-4 1-4-1-4-3-4-4-3-8-3-8-1-7 3-5 4-2 4 0 4 1 4 5 6 4 2 8 3 8-1z"/>
<path fill="#008eff" d="M860 941l-840 0-1-1 0-536 1-183 48-2 24-3 16-5 26-11 14-3 20 0 28 3 24-1 12 1 40 7 12 1 12-3 15-9 9-4 12-4 16-2 24-1 52 0 44-2 392-31 1 184-1 384 1 220zM577 480l2-4 1-8-4-5-4-1-4 1-4 5-1 4 0 4 2 4 3 3 4 0zM481 476l3-4-4-4-2 4 2 4zM805 516l5-4 4-8 1-8 0-8-3-8-4-6-4-4-4-1-4 0-5 3-2 4-1 4 3 16 0 12 1 4 4 4 4 1zM738 508l2-4 0-4-1-4-3-3-4 1-5 10 0 4 1 1 4 3 4-1zM266 604l2-2 3-6 1-4-1-8-3-6-4-4-4-2-4 0-4 3-3 5-1 4 1 8 3 7 4 4 4 2 4 0zM725 600l3-4-4-3-3 3 2 4zM785 788l11-4 22-16 18-11 5-5 6-8 5-12 1-12-4-12-5-7-4-3-8-2-4 0-4 2-9 6-11 4-6 4-3 4-1 4-2 16-4 6-4 3-8 1-16-6-4 1-4 1-2 2-2 4 0 4 2 8 6 12 4 6 4 4 8 5 8 1zM377 756l3-4-4-4-4 4 3 4zM318 800l4-4 2-4 1-4-1-4-2-4-6-4-8-3-8-1-8 3-5 5-2 4 0 4 1 4 3 4 5 4 6 3 8 0 4 0z"/>
<path fill="#009bff" d="M860 941l-840 0-1-1 0-536 1-180 48-2 24-3 16-4 28-14 12-2 20 0 28 4 32 0 44 7 12 0 12-3 16-10 8-4 12-3 16-3 24-1 56 1 44-2 388-31 1 182-1 384 1 220zM577 484l3-3 2-5 0-8-2-4-4-3-4-1-4 1-4 3-2 4-1 8 1 4 2 4 4 2 4 1zM486 476l0-4-1-4-1-1-4-2-4 4 0 3 1 4 3 4 4-1zM807 516l4-4 4-8 1-8-1-8-2-8-5-8-4-3-4-2-4 0-4 2-3 3-2 4 0 8 3 12 0 12 2 5 4 4 4 1 4 0zM736 512l4-5 1-7-1-5-4-4-4 1-3 4-3 8 0 4 3 4 3 1zM265 608l3-1 4-7 2-8-1-8-1-4-4-5-4-3-4-2-4 0-4 1-4 5-2 8 1 8 3 8 2 4 4 3 4 2zM728 600l1-4-1-3-4-2-2 1-3 4 0 4 1 1 4 1zM793 788l7-4 15-12 21-14 8-8 6-10 3-12 0-12-3-8-2-4-8-7-8-2-4 0-4 2-10 7-11 4-6 4-3 8-3 16-3 5-4 3-8 1-16-5-8 1-4 3-1 4 1 7 4 13 4 7 7 9 5 3 8 3 8 1zM380 756l2-4-2-4-4-2-4 2-2 4 2 5 4 1zM308 804l8-2 7-6 3-4 0-4 0-4-3-4-3-3-8-4-12-1-8 2-4 3-4 7 0 4 1 4 3 4 8 6 4 1z"/>
<path fill="#00a8ff" d="M860 941l-840 0-1-1 0-536 1-178 48-2 28-3 16-5 24-13 12-2 20 1 28 4 36 0 40 6 12 0 12-3 16-10 8-4 12-4 16-2 24-1 56 1 44-1 388-31 1 179-1 384 1 220zM576 488l4-3 3-5 1-5 0-7-4-7-4-2-4-1-6 2-4 4-3 8 0 8 2 4 3 4 4 2 4 0zM486 480l2-4 0-4-1-4-3-4-4-1-4 2-1 3 0 8 1 3 4 3 4 0zM808 516l4-4 3-8 2-8-2-12-3-8-4-5-4-3-4-2-4 0-5 2-3 4-2 4 0 8 4 12 0 12 2 6 4 4 4 1 4-1zM738 512l3-4 1-8-2-7-4-4-4 1-4 5-3 9-1 4 2 4 2 1 4 1 4-1zM265 612l3-1 4-5 3-6 1-8-1-8-3-7-4-5-8-4-5 0-3 1-4 3-2 4-2 8 1 8 3 10 4 6 4 3 4 2zM729 600l1-4-2-5-4-1-4 1-2 5-1 4 3 3 4 1zM789 792l11-5 18-15 18-13 8-8 5-7 4-12 1-8 0-8-3-8-3-4-3-4-5-4-8-2-4 1-4 2-11 7-11 4-6 4-2 4-4 20-2 3-4 4-8 1-12-4-8-1-5 1-4 4 0 8 1 8 4 10 8 13 4 4 8 5 8 1zM376 760l4-2 2-2 1-4-1-4-2-2-4-1-4 1-2 2-1 4 0 4 3 3zM312 804l9-4 4-4 2-4 1-4-1-4-2-4-9-6-12-3-8 0-4 2-4 2-3 5-2 4 0 4 1 4 3 4 5 4 8 4 8 1z"/>
<path fill="#00b6ff" d="M860 941l-840 0-1-1 0-536 1-175 48-2 28-3 16-5 19-11 8-4 9-1 20 1 28 5 40 1 44 5 8-1 8-3 16-11 8-4 12-3 12-2 24-1 60 2 48-2 384-31 1 177-1 384 1 220zM575 492l5-4 3-4 2-4 1-8-2-8-3-4-5-3-4-1-4 1-4 2-4 5-3 8-1 8 3 8 5 5 4 1 4 0zM484 484l4-4 1-8 0-4-3-4-2-2-4-1-4 2-1 1-2 4 0 8 3 5 4 3zM800 520l4-1 4-2 5-5 3-8 1-12-2-12-5-8-6-6-4-1-4 0-4 1-4 3-3 7 0 4 4 16 0 8 1 8 2 4 4 3zM739 512l2-4 1-4 0-4-1-8-1-2-4-3-4 1-4 4-4 11-1 5 1 4 4 2 4 1 4-1zM265 616l3-1 4-4 4-8 2-11-1-8-4-8-5-6-8-4-8 1-4 2-4 7-1 8 1 12 4 11 4 5 4 3 4 2zM726 604l4-4 1-4-3-6-4-2-4 2-2 2-2 4 0 4 2 4 2 1zM796 792l8-5 16-15 20-15 10-13 4-12 1-8-1-8-5-12-3-4-6-4-4-2-8 0-15 10-12 4-5 4-2 4-3 16-2 4-5 6-4 1-4 0-12-4-8-1-6 2-3 4-1 8 2 12 5 12 7 10 8 6 8 3 8 0zM380 760l4-4 1-4-1-4-6-4-2 0-4 1-4 4-1 3 1 5 4 4 4 1zM315 804l7-4 4-4 2-4 1-4 0-4-2-4-7-5-12-5-12 0-8 4-4 5-2 5 2 8 2 4 6 5 8 4 8 0z"/>
<path fill="#00c3ff" d="M860 941l-840 0-1-1 0-536 1-173 52-2 28-3 16-5 20-13 8-3 4 0 16 1 36 6 40 2 40 3 8-1 8-3 16-11 8-4 12-4 12-1 24-1 60 2 48-2 384-30 1 174-1 384 1 220zM574 496l6-5 4-6 2-5 1-8-1-8-3-4-5-4-6-1-8 2-7 7-3 8 0 8 2 10 4 7 4 3 4 0zM487 484l3-4 0-4 0-8-2-4-5-4-3-1-4 1-3 4-1 4 0 8 1 4 3 4 4 2 4 0zM805 520l6-4 5-8 2-8 0-12-4-12-6-8-4-3-4-2-4 0-4 1-5 4-2 4-1 8 5 16 0 12 2 8 5 4 4 1zM734 516l2 0 4-3 3-9-1-12-2-4-4-3-4 1-4 4-3 6-3 12 0 4 2 2 4 2zM566 524l3-4 0-4-1-4-4-5-4 0-7 5-2 4 1 4 5 4 3 1zM266 620l6-4 4-8 3-12-1-12-3-8-7-8-8-3-8-1-5 4-5 8-1 8 1 12 4 12 6 8 4 3 4 2zM728 604l3-4 1-3-1-5-4-4-3-1-4 1-3 4-2 4 0 4 0 4 1 1 4 2 4-1zM792 796l12-7 19-17 13-11 8-7 7-10 4-12 1-8-1-8-5-12-6-7-4-2-8-2-4 1-16 10-12 4-4 3-3 5-3 16-2 4-4 5-4 1-4 0-12-4-8 0-8 2-2 4-1 8 3 14 4 10 8 12 8 6 8 3 8 1zM382 760l3-4 1-4-2-6-4-3-4-1-5 2-4 4-1 4 0 4 2 4 4 3 4 0zM317 804l7-4 3-4 4-8 0-4-2-4-5-4-12-6-12-1-8 1-4 2-4 4-2 4-1 8 4 8 4 4 7 4 8 2 8 0z"/>
<path fill="#00d0ff" d="M860 941l-840 0-1-1 0-536 1-170 56-2 28-4 8-2 8-3 20-14 8-2 15 1 37 7 80 4 8-1 8-3 16-12 8-4 12-3 12-1 24-1 60 2 48-2 384-30 1 172-1 384 1 220zM564 528l4-1 4-3 1-4 0-16 11-15 4-9 1-4-1-8-3-8-5-5-8-2-8 2-4 3-5 6-2 4-2 12 1 20-6 12 0 4 1 4 3 4 6 3zM485 488l3-2 1-2 2-4 1-8-1-4-3-6-4-3-4-2-4 2-4 4-1 5 0 8 1 4 4 6 4 2zM807 520l5-4 4-8 3-8 0-12-4-12-5-8-6-5-4-1-4 0-4 0-4 3-4 6-1 5 0 4 5 16 1 16 3 6 4 3 4 1zM737 516l3-2 3-6 1-8-3-12-1-2-4-2-4 0-4 3-3 5-4 12-1 8 4 4 8 2zM268 624l4-3 3-5 4-8 2-12-1-12-4-9-8-9-8-3-8-1-4 2-4 4-4 8-1 12 2 12 4 12 7 9 4 3 4 2 4 0zM721 608l3-1 5-3 3-4 1-4-1-4-3-4-5-2-4 1-4 4-3 9 0 4 3 4zM785 800l11-3 12-8 17-17 15-13 6-7 5-8 4-8 1-8 0-8-1-8-4-8-3-4-8-6-8-1-4 0-4 2-12 8-12 5-4 2-4 6-3 16-2 4-3 4-4 1-4 1-12-4-8-1-8 2-3 5-1 8 3 12 4 12 5 10 4 5 8 6 8 3zM377 764l3-1 4-3 2-4 1-4-1-4-2-3-4-3-4-1-4 1-4 3-3 7 0 4 1 4 2 2 4 2zM320 804l5-4 4-4 3-8 0-4-1-4-4-4-15-6-12-2-8 0-4 2-4 4-3 6-1 8 4 8 4 4 8 5 8 2 8 0z"/>
<path fill="#0df" d="M860 941l-840 0-1-1 0-536 1-168 56-2 28-3 8-1 8-4 20-14 8-2 12 0 32 7 12 1 76 3 8-1 8-3 4-2 13-11 7-3 20-4 24-1 64 2 52-2 380-30 1 170-1 384 1 220zM573 528l3-4 1-4 0-16 11-20 2-8 1-4-2-8-5-7-4-3-8-3-4 1-8 4-7 8-4 8-3 24-6 16 1 4 1 4 4 4 6 4 12 2 4 0zM489 488l3-6 1-6-1-8-1-4-3-4-4-3-4-1-4 1-4 3-3 8 1 8 1 4 5 8 4 2 4 1zM808 520l4-3 3-5 4-8 1-8-1-12-5-12-6-7-8-5-8 1-4 2-4 5-2 8 0 4 5 16 1 16 1 4 3 4 4 2 4 1 4-1zM739 516l5-8 0-12-1-8-3-4-4-2-4 1-6 5-3 8-4 16 0 4 5 2 12 0zM270 628l6-7 5-13 2-12-1-12-4-8-6-8-8-5-8-2-4 0-4 1-4 3-4 7-1 4-1 12 2 16 4 11 4 7 4 5 4 3 4 1 4 0zM725 608l3-2 4-4 1-6 0-4-3-4-2-2-4-1-4 1-4 4-3 6-1 8 0 4 4 2zM794 800l6-3 8-6 32-31 8-9 6-11 2-8 1-8-1-12-2-4-5-8-4-4-5-3-8-1-4 1-4 1-12 9-12 4-4 3-2 2-2 4-3 16-5 7-4 2-4 0-12-4-8-1-8 3-4 5 0 12 4 16 4 10 8 11 8 6 8 3 8 0zM381 764l4-4 3-4 0-4 0-4-3-4-5-3-4-1-4 1-4 2-3 5-2 8 1 4 4 4 4 2 4 0zM322 804l5-4 4-4 3-8 1-4-2-4-3-4-14-6-16-4-8 1-4 2-4 3-4 8-1 8 4 8 4 4 9 5 8 3 8-1z"/>
<path fill="#00ebff" d="M860 941l-840 0-1-1 0-536 1-165 60-2 32-4 12-5 16-12 8-3 12 0 32 7 16 2 20 0 52 1 12-2 8-4 16-13 12-4 12-1 24-1 64 2 52-1 380-30 1 167-1 384 1 220zM570 532l6-3 3-5 1-20 10-20 2-8 0-4-2-8-5-8-5-4-8-2-8 1-4 3-4 3-6 7-3 8-5 20-6 20 0 4 2 4 4 4 5 4 13 4zM487 492l4-4 2-4 1-8-1-8-1-5-4-5-4-3-4-1-4 1-4 3-3 6-1 8 1 8 3 6 4 4 4 2 4 1zM810 520l6-8 3-8 2-12-2-12-4-8-7-9-8-4-8 0-4 2-4 4-3 7-1 4 1 4 6 16 0 12 1 7 3 5 5 3 8 0zM741 516l3-8 1-8 0-8-3-8-2-3-4-1-4 1-4 2-3 5-5 14-3 14 3 3 12 1 4-1zM266 636l6-4 4-5 5-11 3-16 0-8-1-8-3-8-8-10-8-5-8-2-4 0-4 1-4 2-4 6-2 4-2 12 1 16 4 16 7 12 4 5 4 3 4 1zM717 612l11-5 4-4 1-3 1-4-1-4-1-3-4-4-4-2-4 1-4 4-4 8-2 12 2 5zM789 804l11-4 12-10 32-33 9-13 3-8 2-8 0-12-4-12-3-4-7-6-8-3-8 1-4 2-12 9-15 5-4 4-1 2-4 18-4 6-4 2-8 0-8-4-8 0-8 2-3 2-1 3-1 9 3 16 4 12 6 11 8 8 8 4 8 2zM383 764l4-4 2-4 0-4 0-4-3-4-6-4-4-1-4 1-4 2-4 6-2 8 0 4 3 4 3 2 4 1 4 0zM313 808l11-4 8-8 4-8 1-4-1-4-3-4-5-3-16-5-16-3-8 1-6 6-4 8 0 8 4 8 6 6 8 4 8 2z"/>
<path fill="#00f8ff" d="M860 941l-840 0-1-1 0-536 1-163 60-2 32-4 12-3 16-12 4-2 8-2 12 1 40 7 24 1 48 0 12-2 10-3 6-4 12-10 4-2 20-4 24 0 64 3 52-2 380-30 1 165-1 384 1 220zM577 532l3-3 1-5 2-20 10-24 1-8-4-12-6-7-8-4-8 0-8 2-4 3-6 6-3 4-3 8-6 20-5 16-1 8 2 4 4 4 5 4 9 4 16 2 4 0zM491 492l2-4 2-8 0-8-1-8-2-4-8-7-4-1-4 1-4 3-4 8-1 8 1 8 4 8 4 4 4 2 4 1 4-1zM804 524l4-2 4-3 5-7 4-12 0-12-3-12-4-8-3-4-7-5-4-2-8 0-4 1-6 6-3 8 1 8 6 16 0 12 2 9 4 5 4 2zM737 520l3-2 4-6 1-8 1-8-2-12-4-5-4-1-4 1-4 3-4 5-9 29 1 3 4 2 12 0zM264 644l4-2 4-3 4-5 4-8 5-18 1-12 0-8-4-12-6-8-4-4-8-5-8-2-4 0-4 1-4 2-6 8-2 8-2 8 1 16 5 20 4 9 4 7 4 5 4 2 4 2zM721 612l7-4 4-4 2-4 1-4-3-9-4-4-4-1-5 2-3 3-3 5-3 8-3 12 1 3 4 1zM796 804l8-5 8-6 32-34 5-7 7-12 3-12 0-8-1-8-3-8-3-4-4-4-7-4-5-1-8 0-4 2-12 9-16 6-4 4-1 4-4 16-3 5-4 2-8 0-8-3-8-1-8 2-4 4-1 3-1 8 3 16 5 16 6 10 8 8 4 2 8 3 12 0zM377 768l7-4 4-4 3-8-1-4-2-4-6-4-6-2-6 2-5 4-4 8-1 8 2 4 2 2 4 2zM318 808l10-6 6-6 3-4 3-8 0-4-2-4-8-4-26-7-12-2-4 1-4 3-4 5-3 8 0 8 4 8 7 7 8 4 12 3z"/>
<path fill="#00fffa" d="M860 941l-840 0-1-1 0-536 1-161 60-2 32-3 8-2 8-3 16-11 8-3 12 1 28 5 16 2 60 0 16-1 8-2 8-3 7-5 9-8 4-2 8-2 12-2 20 0 68 3 52-2 380-30 1 163-1 380-2-8-2-4-6-8-10-5-8-1-4 1-4 2-12 9-16 6-4 4-4 16-1 4-3 4-4 2-4 1-4 0-8-4-12 0-4 2-4 3-2 8 1 12 3 16 4 12 6 9 8 8 8 3 8 2 8-1 12-4 8-6 36-39 7-8 4-8 3-8 2-8 1 88 0 124zM576 536l4-2 3-6 2-24 10-24 0-8-2-8-5-9-4-4-4-2-8-2-8 1-9 4-5 4-6 7-3 9-4 16-9 24-1 4 2 4 4 4 15 8 16 4zM491 496l3-4 2-8 0-12-1-8-3-6-4-4-8-4-4 1-4 2-4 7-2 8 1 12 3 8 6 6 8 4 4-1zM806 524l7-4 3-4 4-8 3-12-1-12-4-12-6-9-8-6-8-3-4 1-8 4-4 5-2 4 0 8 0 4 6 11 1 5 1 16 2 7 4 4 4 2 4 0zM740 520l4-6 2-6 0-8 0-12-2-8-4-3-4-1-4 1-4 3-4 4-3 8-5 16-3 8 2 4 5 3 12 0 4-1zM265 652l7-6 4-5 6-13 5-20 1-12-1-8-3-12-8-10-4-4-8-4-12-3-4 1-4 2-4 3-4 7-2 8-1 8 1 20 2 13 3 11 5 10 4 7 4 4 4 3 4 1zM716 616l12-7 4-4 3-5 0-8-3-6-4-4-4-1-4 1-4 3-4 7-3 8-4 12 1 4 2 3zM380 768l4-2 5-6 3-8-1-4-2-4-5-4-8-3-4 1-4 2-4 4-3 4-2 8-1 8 3 4 7 2 8 0zM321 808l7-4 8-8 7-12 1-4 0-4-6-4-38-10-12-1-4 2-6 9-2 8 0 8 4 8 8 8 12 5 12 1z"/>
<path fill="#00ffef" d="M860 941l-840 0-1-1 0-536 1-159 60-2 32-3 15-4 17-10 4-2 8-2 8 1 28 5 12 1 64 0 16-1 8-2 8-3 20-15 16-3 24-1 68 3 52-2 380-30 1 161-1 374-5-10-7-7-8-3-8-1-4 1-4 2-12 9-17 7-4 4-4 16-1 4-3 4-3 2-4 1-4-1-12-4-8 1-4 1-5 4-1 4-1 8 2 16 3 12 5 12 5 8 8 7 8 4 8 1 8 0 8-3 8-4 12-11 33-38 7-12 4-10 1 82 0 124zM583 536l3-8 1-24 9-24 1-8-4-12-6-8-7-5-4-2-8 0-8 2-9 5-6 4-4 4-1 4-6 28-11 24 1 4 4 4 20 9 12 3 16 3 4-1zM492 500l3-4 2-8 0-16-1-9-4-7-4-4-4-3-4-1-4 1-5 3-5 8-1 12 2 12 4 8 5 5 8 3 4 1zM809 524l5-4 3-4 5-12 2-12-2-12-5-12-9-11-8-4-8-1-4 1-5 3-4 4-2 4-1 8 1 8 6 12 2 4 1 20 2 5 4 3 4 2 8 0zM736 524l4-2 4-6 3-12 0-16-1-8-2-3-4-3-4 0-4 1-4 3-4 4-3 6-6 20-3 8 1 4 3 3 4 2 4 0zM262 664l6-4 4-5 8-13 4-9 4-21 1-20-1-8-3-8-9-12-5-4-7-4-12-3-4 1-5 2-4 4-4 8-4 16 0 20 5 24 8 21 8 12 4 3 4 1zM712 620l16-10 4-4 3-6 1-4-2-8-2-4-4-3-4-2-4 1-4 4-7 12-4 12-1 8 2 4 2 1zM324 808l7-4 8-8 13-20 4-3 20-2 8-4 3-3 3-4 3-8-1-4-1-4-3-3-4-3-8-2-4 1-4 1-4 4-4 6-6 16-2 4-4 2-24-3-36-9-4 0-2 2-5 8-3 12 1 8 5 9 8 8 12 5 12 1 8-1zM449 820l-1-7-4-3 0 6 4 7z"/>
<path fill="#00ffe4" d="M860 941l-840 0-1-1 0-536 1-157 60-2 32-3 16-4 16-8 12-4 8 0 28 4 16 1 60-1 16-1 8-1 8-3 8-5 12-10 7-2 9-1 20-1 72 3 52-2 380-30 1 159-1 369-3-5-4-4-5-4-4-2-8-1-8 1-4 1-12 10-18 7-3 4-6 20-3 4-6 2-4 0-12-4-8 0-4 1-5 5-2 4-1 8 5 28 3 10 6 10 6 7 8 5 8 2 8 1 8-2 8-3 12-9 38-45 6-8 4-10 1 78 0 124zM582 408l1-4 0-4-3-3-4-1-4 2-2 6 2 5 4 2 4-1zM585 540l2-4 1-4 1-28 3-8 6-16 0-8-4-12-6-9-8-6-4-1-8-1-8 2-17 7-5 4-1 4-4 28-5 13-11 15 0 4 5 4 8 4 22 8 28 6zM497 504l1-4 0-24 0-8-2-8-1-4-7-7-4-2-4-1-4 0-4 2-4 4-3 8-1 12 2 12 2 6 4 6 8 6 12 3 4 0zM810 524l8-8 5-12 2-12-3-16-6-12-8-9-8-4-8-2-4 1-5 2-5 4-4 8-1 4 1 8 10 20 1 20 3 6 4 4 4 1 8 0zM739 524l5-6 2-6 1-8 1-20-1-8-3-3-4-1-8 1-4 3-4 4-4 8-6 20-3 8 1 5 4 4 4 2 12 0 4-1zM272 724l4-2 4-3 2-3 1-4-2-4-8-12-4-8 0-4 0-8 4-12 11-22 3-10 4-24 0-20-2-8-4-8-9-10-8-6-8-3-8-2-4 1-4 1-4 3-6 8-2 8-2 8-1 12 1 24 6 25 14 39 2 20 2 8 2 6 5 6 7 4zM715 620l16-12 5-8 0-8-4-9-4-4-4-1-4 1-4 3-4 6-10 24 0 4 2 5 4 1zM316 812l8-2 9-6 9-8 14-16 4-3 20-6 8-6 4-5 2-8 0-4-2-4-3-4-5-3-8-2-8 2-7 7-9 18-4 2-4 2-8 0-12 0-22-6-14-6-4 0-5 2-3 7-3 17 1 8 4 8 8 8 10 6 12 2zM451 824l0-4-2-8-5-5-1 1-1 4 2 8 4 6z"/>
<path fill="#00ffd9" d="M860 941l-840 0-1-537 1-155 60-2 32-3 16-4 24-10 8-1 44 4 64-1 16-1 8-2 8-3 22-14 6-2 8-1 20-1 68 3 56-2 380-30 1 157-1 365-8-8-8-4-8-1-8 1-4 2-12 9-12 5-7 3-3 4-5 20-5 4-4 1-4 0-12-4-8 1-4 1-6 5-2 4 0 8 4 30 4 12 4 7 4 5 8 7 8 3 12 1 8-1 8-4 12-9 40-47 8-14 1 74zM583 412l2-4 1-4 0-4-2-4-4-3-4-1-4 2-5 6 0 4 1 5 4 5 4 1 4-1zM520 436l-4-1-1 1 1 3 4-1zM585 544l3-3 2-5 1-8 0-16 0-8 2-8 7-16 0-4-1-8-3-8-5-8-7-7-8-3-4-1-8 1-16 4-14 2-1 4 1 12 0 12-3 16-7 12-8 6-4 1-5-3-5-8-2-12-1-24-3-10-8-8-8-3-4 0-4 1-4 5-5 11-1 8 1 8 1 8 3 8 5 6 4 4 28 15 10 7 6 3 28 9 20 5 12 4zM803 528l5-1 4-3 5-4 5-8 4-12 0-8 0-8-4-12-4-8-6-7-4-4-8-5-4-1-8 0-8 2-7 7-4 8 0 4 5 12 6 8 3 8 1 16 1 8 3 4 4 3 4 1zM736 528l5-4 3-3 2-5 1-8 3-28 0-4-2-4-4-2-4-1-8 2-4 3-6 6-4 8-5 20-3 8 0 4 2 3 4 4 4 2 8 1zM275 736l13-17 2-3 0-4-12-20-2-12 2-12 10-29 3-11 2-24 0-16-2-8-4-8-6-8-5-4-8-6-8-3-8-2-4 1-6 2-5 4-4 8-3 8-2 12-1 12 2 28 10 44 4 32 3 12 7 12 11 11 4 3 4 2zM717 620l15-11 5-9 0-8-3-8-2-3-4-4-4-1-4 1-4 4-4 5-8 18-3 8 0 4 1 4 2 2 4 2 4-1zM322 812l6-3 8-5 25-24 19-8 8-5 5-7 2-8-1-8-3-4-11-5-8 0-4 1-5 4-11 17-4 4-8 3-8 0-12 0-14-4-30-15-3 3-1 6-1 26 1 8 4 8 8 8 12 7 12 3 8-1zM452 828l0-9-4-10-4-4-3 3 2 12 5 8 4 1z"/>
<path fill="#00ffcd" d="M860 941l-840 0-1-537 1-153 64-2 28-3 12-2 24-10 12-3 12 1 32 3 76-2 16-3 8-4 20-12 12-3 20-1 68 3 60-2 376-30 1 155-1 361-6-5-10-4-8-1-8 1-4 2-12 10-12 4-8 4-4 8-2 12-2 4-4 4-4 1-4 0-12-4-8 0-4 1-4 3-3 3-1 4-1 8 2 20 2 12 4 12 5 9 7 7 6 4 11 3 8 1 8-2 8-3 12-9 38-46 10-15 1 71zM583 416l3-4 2-4 0-8-2-4-2-3-4-2-4-1-4 1-4 3-3 6-1 8 2 4 2 3 4 3 4 1 4-1zM584 548l6-4 3-8 0-32 4-12 5-12 1-4-2-8-4-8-5-8-4-5-8-6-8-2-20 3-8 0-6-2-11-8-7-3-4 0-4 0-5 3-2 4 0 4 6 4 9 2 4 2 4 4 2 4 2 8 0 12-1 8-2 8-5 9-4 4-4 2-4 0-4-3-5-8-2-12-2-28-3-9-8-6-8-2-8 1-4 4-4 8-2 8-1 16 2 8 3 8 5 8 5 5 23 15 16 8 53 15 12 5zM807 528l5-3 6-5 7-12 2-8 1-8-1-8-2-8-3-8-6-9-4-5-8-7-12-4-8 0-6 1-7 4-7 8-3 8 1 4 6 6 13 18 2 8 0 16 3 8 6 4 4 1 4 0zM734 532l6-4 4-5 4-11 2-24 4-16-2-4-4-2-4 0-8 1-8 4-5 5-5 8-6 24-3 8 0 4 2 4 5 5 4 2 8 2zM327 812l12-8 25-22 16-8 8-6 4-4 4-8 1-8-1-4-3-4-7-4-6-2-8-1-4 2-6 5-10 14-4 4-8 3-12 2-12-2-15-5-12-8-3-4-2-4-1-4 1-4 10-16 0-4-11-20-2-8 0-8 1-8 9-28 2-12 2-28-1-16-3-8-5-8-6-7-6-5-10-5-8-3-8 0-4 1-4 2-4 4-5 9-5 16-1 16 0 16 1 16 7 40 3 32 3 12 5 12 15 20 5 8 3 12 2 16 2 8 4 8 3 4 6 5 8 5 12 4 12 1zM712 624l20-14 4-6 1-4 0-4-1-8-4-9-4-4-4-1-4 2-4 3-4 5-11 24-2 8 2 4 5 4 2 1zM452 832l2-4 0-4-2-8-4-9-4-4-4 1 0 4 0 4 4 12 4 7z"/>
<path fill="#00ffc2" d="M860 941l-840 0-1-537 1-152 64-1 28-3 16-3 20-9 12-2 12 0 20 3 12 0 76-2 16-3 8-4 20-12 8-2 8-1 16 0 68 2 60-2 376-30 1 153-1 358-8-5-8-2-8-1-8 2-4 2-12 9-16 6-4 3-4 7-3 13-2 4-3 3-4 1-4 0-12-4-8 1-4 1-4 2-3 4-2 4 0 8 3 32 4 12 3 8 7 9 8 5 8 3 12 1 8-1 8-3 12-9 8-9 15-20 16-20 9-13 1 69zM583 420l5-6 2-6 0-8-1-4-5-6-4-2-4 0-4 1-5 3-3 4-2 4-1 8 1 4 2 4 4 4 4 2 4 1 4-1zM590 548l4-4 2-8 0-8-1-16 1-12 2-8 7-12 0-4-3-8-5-12-5-7-8-8-4-3-8-2-16 3-8 0-7-3-13-8-8-3-4-1-4 1-8 2-8 7-4 1-16 0-4 0-4 2-4 8-3 11-1 12 0 12 2 8 3 8 6 8 5 5 16 11 20 9 20 5 32 9 16 7 4 0 4 0zM736 536l8-10 2-6 2-8 2-20 2-9 4-6 4-2 4 1 4 2 8 8 4 6 2 8 1 20 2 4 3 3 8 3 8 0 8-3 8-7 5-8 3-8 1-8 0-12-3-12-4-8-6-9-8-8-8-5-8-3-12-2-8 1-4 2-5 4-11 13-4 3-16 6-8 7-4 5-3 6-4 20-5 12 0 4 4 7 8 6 12 5zM516 504l-4-1-4-3-4-7-2-9 0-28 2-5 4-2 8 0 4 1 4 3 5 7 2 8 0 12-3 12-4 7-4 4zM320 816l8-2 8-5 12-9 17-16 23-14 5-6 4-8 2-8-1-4-3-4-7-5-8-2-8-1-4 1-4 3-16 19-8 4-12 2-12-1-11-4-7-4-8-8-2-4 0-4 0-4 8-14 1-6-1-4-6-8-3-8-2-12 1-12 8-28 2-12 1-28-1-16-3-8-4-8-5-5-8-7-8-5-8-4-8-1-8 1-8 5-7 12-4 12-3 20 0 16 1 16 4 36 2 32 3 16 7 16 14 20 7 11 4 9 5 20 5 8 3 4 11 9 12 6 12 2zM715 624l17-13 4-6 2-5 0-8-2-6-4-9-4-4-4-1-4 1-4 4-7 11-8 16-3 8 0 4 2 4 4 5 4 1zM454 832l1-8-4-12-3-6-4-4-4 0-1 2 0 8 5 15 4 6 4 2z"/>
<path fill="#00ffb7" d="M860 940l-840 0-1-536 1-150 60-1 32-3 16-3 20-8 12-3 12 0 28 3 80-2 12-2 8-3 24-13 16-4 16 0 72 2 60-2 372-30 1 151-1 355-8-4-12-2-8 1-8 3-12 10-16 6-5 3-3 6-3 14-2 4-3 2-4 2-4 0-12-4-8 0-4 1-5 3-3 4-1 4-1 8 2 24 2 12 3 12 4 8 7 8 8 5 8 3 12 1 8-1 8-3 12-9 8-8 17-24 23-30 1 66zM589 552l5-4 4-8 1-8-2-20 0-8 3-12 7-12-1-8-10-20-8-10-9-10 0-4 9-10 4-10 0-8-4-8-4-4-8-2-4 1-4 2-6 7-3 8 0 8 3 8 7 8-2 4-3 1-8 2-8-1-20-11-8-2-8 0-8 2-16 6-16 2-4 2-4 3-3 8-3 16 1 20 3 12 2 6 4 7 7 7 18 12 19 8 16 2 32 9 8 3 12 6 4 1zM738 544l10-24 4-33 4-6 4-3 4 1 4 1 8 8 3 4 2 8 1 20 2 5 4 4 8 2 8 0 4-1 10-6 3-4 6-8 3-8 1-8 0-12-2-8-5-12-8-12-8-8-8-6-8-4-12-2-12 1-8 3-5 4-8 12-4 4-15 10-9 10-4 12-3 16-5 12 0 4 2 4 3 5 14 11 6 6 4 0zM520 500l-4 2-4-1-4-4-3-5-2-8 0-12 1-13 4-6 4-2 4 1 4 1 4 3 3 4 2 8 1 12-2 8-4 8zM328 816l14-8 28-24 18-12 4-4 5-8 3-8 1-8-2-4-6-4-13-5-8 0-8 4-5 5-7 9-8 6-8 3-12 1-8-1-8-3-6-3-8-8-3-8 1-4 5-12 2-8-1-4-8-16-2-12 2-12 6-27 2-13 1-28-1-16-3-8-4-8-7-8-5-4-11-7-8-4-8-1-8 1-8 4-7 11-6 16-3 20-1 24 4 72 2 12 2 12 8 16 25 38 7 18 8 12 13 10 8 5 8 2 12 2zM717 624l15-12 4-6 2-6 0-8-2-9-4-9-4-5-4 0-4 2-4 4-6 9-10 20-3 8 0 4 1 4 6 6 4 1 4-1zM608 628l-4-1-1 1 1 2 4-1zM455 836l1-2 0-6-4-16-4-7-4-4-4-1-2 4 0 4 4 16 6 11 4 3z"/>
<path fill="#06ffad" d="M860 940l-840 0-1-536 1-148 64-1 20-1 20-4 28-10 12-2 36 3 80-2 8-1 12-4 26-14 14-3 20 0 68 1 60-1 372-30 1 149-1 351-12-2-8-1-8 1-8 3-12 10-16 6-6 4-2 4-4 16-4 6-4 1-4 0-12-4-8 1-4 1-5 3-3 4-2 4-1 8 2 24 1 12 3 12 5 10 5 6 7 6 8 4 12 2 8-1 8-2 8-3 8-6 8-9 19-27 21-27zM594 552l5-8 3-8 0-8-3-16 0-12 3-8 7-8 1-4-2-8-6-12-6-11-10-13-1-4 0-4 6-12 3-8-1-8-1-4-5-8-7-3-4-1-8 3-6 5-3 4-3 8-1 8 2 12-2 4-7 0-20-8-8-2-8-1-8 2-16 5-16 3-8 5-5 8-2 8-1 12 1 20 2 12 3 8 5 8 5 6 14 10 21 8 25 5 28 7 24 11 4 0 4-1zM708 628l8-2 8-6 8-7 6-9 1-4 0-8-7-24 0-8 2-4 6-8 2-4 7-24 2-28 2-4 3-5 4-2 4 0 4 2 8 6 4 7 1 20 1 8 3 4 7 4 8 1 4-1 8-2 8-6 3-4 8-12 3-12 0-8-1-8-5-12-6-12-10-13-8-7-7-4-13-3-12 0-12 2-8 4-5 5-7 12-16 15-8 12-3 9-2 16-5 12 0 4 4 8 11 12 3 4 2 4 2 8-1 4-11 13-4 6-13 25-3 8 0 4 1 4 3 4 4 3zM520 498l-4 2-4-2-5-6-3-8 0-8 1-12 3-7 4-3 4 0 5 2 4 4 3 8 1 8-1 8-3 8zM322 820l10-3 12-7 30-26 14-10 5-6 6-8 8-20-3-3-20-6-12-1-4 1-4 2-16 17-4 3-8 3-8 2-8-1-8-2-8-4-7-7-2-4-1-4 0-4 6-13 1-7-1-6-6-10-2-12 1-12 5-28 2-16 1-32-2-16-3-8-5-8-7-7-7-5-17-9-8-1-8 1-8 4-7 9-7 16-4 20-2 28 2 68 1 16 3 12 3 8 6 12 25 36 11 20 6 8 11 9 8 5 8 4 12 2zM608 632l1-4-1-2-4-1-2 3 2 4zM455 840l1-1 1-7-1-8-2-8-6-12-4-5-4-1-2 2-1 4 0 8 3 10 4 10 4 6 4 3z"/>
<path fill="#1effa6" d="M860 940l-840 0-1-536 1-145 60-1 24-1 16-3 32-12 12-2 36 3 64 0 16-1 16-4 32-16 12-3 20 0 72 1 56-2 372-29 1 147-1 348-24 0-8 2-4 2-12 10-16 6-6 4-3 4-3 16-4 5-4 2-4 0-12-4-8 0-4 1-6 4-3 4-1 4-1 8 2 36 3 12 5 12 5 7 8 6 8 4 12 2 8-1 8-2 8-3 8-6 8-9 20-30 20-25zM594 556l2-2 4-6 4-12 0-8-3-16 0-12 3-8 7-8 1-4-1-4-5-12-17-28-1-4 1-4 6-16 0-8-1-8-2-4-4-5-5-3-7-2-6 2-6 3-7 9-7 20-2 3-4 1-24-5-12 0-8 1-28 8-8 4-4 4-3 4-2 8-1 16 2 20 1 12 2 8 4 8 5 8 11 8 21 8 12 3 20 3 28 7 8 3 16 9 4 1 4-1zM713 628l7-4 12-10 4-5 2-5 1-4 0-8-4-24 2-8 8-16 4-20 3-31 4-8 4-2 4 0 8 4 4 4 3 5 1 4 0 16 0 8 4 5 8 4 12 1 8-3 4-2 10-9 8-12 3-8 1-8-1-8-4-12-8-16-9-13-8-8-8-5-12-4-16-1-12 2-12 5-6 4-3 4-6 12-13 17-4 7-3 8-3 20-5 12 0 4 3 7 12 17 2 4 0 8-2 8-8 12-14 28-3 8 0 4 1 4 2 4 6 4 4 1zM520 496l-4 1-4-1-4-5-2-7-1-8 0-8 3-8 4-3 4 0 4 1 4 4 2 6 1 8 0 8-3 7zM333 820l11-6 8-6 21-20 19-16 6-8 6-10 8-11 2-3 0-4-2-3-4-1-12 0-20-4-8 1-8 6-12 13-4 3-8 3-8 2-8 0-8-3-8-5-4-4-2-4-1-4 0-4 6-16 0-4-2-8-5-12-1-8 8-56 0-32-2-16-3-8-4-8-6-6-8-6-12-7-8-4-8-1-8 1-8 3-4 4-6 8-6 16-4 20-3 28 0 68 1 16 3 16 7 15 11 17 21 27 9 13 11 12 8 7 8 5 16 6 12 1zM610 632l1-4-3-4-5 0-2 4 1 4 2 1 4 0zM352 700l4-2 1-2 0-4-3-4-6-2-6 2-2 4 2 4 6 4zM458 840l0-4 0-8-5-16-5-9-4-5-4-1-4 3 0 8 3 12 4 12 5 9 4 3 4-1z"/>
<path fill="#35ff9f" d="M860 940l-840 0-1-536 1-143 60 0 24-1 16-3 28-11 16-4 12 1 24 3 60-1 20-1 16-4 32-16 16-3 16 0 68 1 56-1 340-26 36-4 1 145-1 345-24 2-8 2-4 2-12 10-17 7-6 4-2 4-4 16-3 4-4 2-4 0-12-3-8 0-5 1-6 4-3 4-1 4-1 8 2 36 2 13 4 11 5 8 10 8 9 4 12 2 8-1 8-1 8-4 8-6 8-8 22-34 18-22zM594 560l2-1 4-7 7-16 0-8-4-16-1-8 2-8 2-4 7-8 1-4-4-12-18-32-1-4 1-4 4-14 1-10-2-8-1-4-6-7-4-2-8-2-4 0-6 3-9 8-9 17-4 4-4 1-24-3-12 1-32 9-8 4-4 3-6 8-2 8 2 40 1 12 3 12 5 8 4 4 9 6 12 5 21 5 23 3 24 6 12 5 16 9 4 1 4 1zM716 628l16-13 4-5 3-6 1-8-3-20 0-8 1-4 9-16 2-8 2-16 1-26 1-6 3-5 4-2 4 0 8 4 3 3 4 8-1 20 2 6 1 2 6 4 9 3 12-1 12-6 13-12 9-12 1-8 0-8-4-12-6-12-10-16-9-12-4-4-10-6-12-4-16-1-12 1-14 6-10 7-4 5-4 12-15 24-2 8-2 20-4 12-1 4 4 10 10 14 1 4 0 8-2 8-13 28-9 16-2 8 1 4 2 3 5 5 7 2zM520 494l-4 1-4-1-4-6-2-8 0-8 2-8 4-4 4-1 4 1 3 4 3 8-1 12-1 4zM332 824l12-5 8-6 40-39 16-22 8-8 2-4 0-4-1-4-5-3-4-1-12 1-24-3-8 3-16 17-4 3-12 4-8 1-8-1-8-4-5-5-3-4-1-4 1-4 5-16 0-4-1-8-4-8-2-8 7-60 0-32-1-12-2-8-6-14-6-6-5-4-17-10-8-3-8-1-8 1-4 1-7 4-7 8-7 16-6 24-3 28-2 68 1 16 3 16 8 19 17 25 29 32 10 10 16 12 12 5 8 2 8 1zM448 596l-2-4-2-1-2 1-1 4 3 1zM611 632l1-4-4-5-4 0-2 1-2 3 1 5 3 2 4 0zM360 700l1-4 0-4-2-4-5-4-6-1-4 0-4 2-3 3-1 4 1 4 3 3 4 3 8 2 4-1zM454 712l2-4 1-12-1-5-4-3-4 1-4 4-2 7 0 4 2 4 4 4 4 1zM458 844l2-4-1-8-2-12-3-8-6-10-4-5-4-1-1 0-3 2-1 2 0 8 4 16 4 12 5 9 4 3 4-1z"/>
<path fill="#4cff98" d="M860 940l-840 0-1-536 1-140 60 0 28-2 20-5 20-9 16-4 12 1 16 2 12 1 56 0 20-1 12-3 8-3 16-9 12-6 16-3 20 0 64 1 68-1 304-24 60-6 1 143-1 342-24 4-8 2-4 2-12 11-20 8-3 3-3 4-4 16-2 4-4 2-4 0-8-3-8-1-8 1-4 2-3 3-3 4-2 4-1 8 2 40 2 12 4 12 5 7 8 7 12 5 12 2 12-1 8-3 8-4 6-5 10-12 20-32 16-20zM598 560l10-20 2-8-5-20 0-12 3-7 7-9 1-4-4-12-17-32-1-8 4-16 0-8-3-12-6-8-5-3-4-1-9 0-7 3-4 4-5 5-7 11-4 4-4 2-8 1-20-2-16 3-24 7-8 4-7 6-6 8-2 8 2 28 1 24 1 8 2 8 5 8 4 4 8 4 12 4 24 5 24 3 24 6 12 5 16 10 8 3 4-1zM718 628l14-12 4-5 4-7 1-8-2-16 0-8 2-8 8-16 3-8 0-8 0-28 1-8 3-7 4-2 4 0 8 3 4 5 2 9-1 20 2 4 5 4 8 3 12 1 12-4 26-16 4-4 3-4 2-8-2-12-5-12-9-16-19-28-12-7-8-4-12-3-16-1-16 4-12 5-8 7-6 7-3 12-12 24-2 8-1 20-4 11 0 5 2 8 9 16 2 8 0 4-2 8-10 24-11 20-2 8 1 4 2 4 4 4 5 3 4 0 4 0zM516 493l-4-2-2-3-2-4-1-8 1-7 2-5 2-2 4-1 4 2 3 5 2 8-1 8-1 4-3 4zM333 828l7-2 8-5 8-6 8-8 28-30 16-21 11-12 3-8 0-4-3-4-7-3-20 2-20-2-4 0-4 2-20 20-12 5-8 1-5-1-7-3-6-5-3-4-1-4 0-4 5-16 0-8-4-12-2-8 6-60 1-36-3-16-3-8-4-8-3-4-6-4-17-10-12-5-8-1-8 0-8 4-4 3-8 9-7 16-7 24-3 28-4 64 0 20 4 20 5 11 5 9 16 24 7 8 36 32 12 9 16 9 8 2 8 1zM450 596l0-4-2-2-4-1-4 1-2 2 0 4 2 2 4 2 4-2zM612 632l1-4-2-4-3-2-4 0-4 3-1 3 1 4 4 3 4 0zM361 704l3-4 0-8-2-4-3-4-7-3-4-1-8 2-4 2-2 4-1 4 1 4 2 4 4 3 4 2 8 2 4 0zM462 716l-1-8 0-16-1-3-4-3-4-2-4 1-5 3-3 4-1 4-1 8 2 7 4 5 8 3 4 0 4-1zM456 852l4-6 1-6-1-8-3-12-4-12-5-8-4-4-4-2-4 2-2 4 0 4 5 24 6 20 3 3 4 2z"/>
<path fill="#64ff91" d="M860 940l-840 0-1-536 1-137 60 0 28-2 20-5 27-12 9-1 12 0 16 3 12 1 56 0 20-2 12-2 8-3 13-8 15-7 16-4 20 0 80 2 56-2 316-24 44-5 1 140-1 340-32 8-4 2-12 10-20 8-4 4-2 4-4 16-2 3-4 2-4 0-8-2-8-1-8 1-4 2-4 3-4 8-1 8 0 24 0 16 3 16 5 12 5 7 8 7 8 3 12 3 12 0 8-2 8-3 12-9 8-10 19-32 17-21zM600 564l2-8 10-20 1-4-1-4-5-16-1-8 2-8 8-11 1-5-1-6-2-6-16-32-1-8 3-16 0-8-3-12-6-8-5-4-6-2-4 0-8 1-8 5-16 19-4 2-8 1-24 0-16 2-12 4-12 5-8 5-6 6-6 8-2 8 3 28 0 28 1 8 2 8 5 8 7 5 12 5 16 2 40 6 24 5 12 5 24 15 4 1zM711 632l8-4 9-7 8-9 4-8 1-8-1-16 0-8 3-8 9-16 3-12-2-28 0-8 3-9 4-3 4 0 8 4 3 4 2 8-1 16 0 4 1 4 3 3 4 3 8 3 12 1 8-2 20-9 16-4 5-3 4-4 2-8 0-8-4-12-6-12-29-44-8-6-12-7-8-3-12-2-12 0-12 1-12 4-9 5-10 8-6 8-3 16-8 24-2 24-3 12 0 4 1 6 7 14 3 8 0 12-10 28-11 20-2 8 0 4 2 4 4 4 7 4zM520 489l-4 2-4-2-3-9 0-8 1-4 2-3 4-2 4 2 2 3 2 8-1 8zM336 832l8-2 8-4 12-11 44-55 15-16 3-8 1-4-1-4-5-4-9-2-20 2-16-2-8 0-8 6-16 16-8 5-8 2-8-1-6-2-5-4-3-4-1-4 0-4 5-20-1-8-4-12 0-4 5-60 0-36-4-20-2-8-5-8-4-4-7-4-20-10-8-3-12-1-8 1-8 5-4 3-9 13-6 16-6 24-4 28-5 64 1 20 4 20 5 12 7 12 9 13 8 10 8 8 16 11 24 20 16 11 12 6 12 2zM449 600l3-4 0-4-4-4-4-1-4 1-4 3-1 1 1 4 4 4 4 1zM609 636l4-4 1-4-2-4-4-3-4 0-5 3-1 4 1 4 5 4zM363 708l3-4 2-8-3-8-5-6-8-4-8 0-7 2-5 4-2 4 0 4 0 4 3 4 4 4 7 4 8 2 8 0zM460 724l4-2 2-2 0-4-2-8 0-18-1-2-4-4-7-2-4 0-4 2-4 3-3 5-1 4-1 8 1 10 4 6 4 2 8 2zM447 860l5-1 4-1 4-5 2-9 0-8-4-16-5-12-5-9-4-4-4-2-4 1-2 2-1 4 0 4 6 32-1 8-2 4-6 4 0 4 6 3z"/>
<path fill="#7bff8a" d="M860 940l-840 0 0-670 60 0 28-2 20-5 28-12 8-2 40 4 56 0 20-1 12-2 8-3 8-4 10-7 10-5 8-2 12-2 24 0 76 3 52-2 316-24 44-4 0 285-35-53-9-7-12-8-8-3-12-3-8-1-12 0-10 2-10 3-8 4-9 5-9 8-6 8-1 16-6 24 1 20-4 16 0 4 2 8 7 16 2 12-3 12-6 17-13 23-1 8 2 8 3 4 6 4 7 2 8-3 8-6 10-9 5-8 3-8-1-20 1-8 2-6 10-18 4-12 0-4-4-16 0-12 2-10 4-4 4 0 4 1 6 5 2 4 0 4-3 20 1 4 3 4 7 4 12 3 8 0 8-1 20-6 20 0 8-3 0 144-12 4-20 6-4 2-13 11-19 8-5 4-2 4-4 16-3 4-6 1-12-4-8 0-8 3-4 3-3 5-3 8 0 32 0 16 2 13 4 11 4 8 8 7 12 6 12 2 12 0 8-1 8-3 12-8 11-15 18-32 15-19zM601 568l3-12 12-20 0-4 0-4-7-16-2-8 3-8 6-9 2-3 0-4-2-11-16-33-1-8 3-20-1-8-3-8-6-9-4-3-8-3-4-1-8 2-10 6-14 14-4 3-8 2-28 0-20 5-12 4-8 5-13 11-6 8-2 4 0 4 4 28-2 32 0 8 3 8 5 8 7 5 10 3 58 6 24 5 16 7 24 16 4 1 4-1zM516 489l-4-3-2-6 0-4 2-8 4-2 4 2 2 8 0 4-2 7zM344 836l13-4 6-4 4-4 22-36 19-24 15-16 3-4 6-11 4-5 4 0 20 0 4-1 3-3 1-4 1-4-3-8 1-16-1-4-2-4-8-4-8 0-4 1-4 3-6 8-2 8-1 12-3 6-4 1-16 0-20 2-8-1-15-4 4-8 2-8-1-4-2-8-3-4-4-4-5-3-8-2-8 1-4 1-5 3-4 4-1 4 0 8 2 4 4 4 8 5 12 4 11 3 0 4-13 16-10 9-12 4-8-1-4-1-4-3-3-4-1-4 0-8 3-12 2-8-3-20 2-52 1-40-2-16-4-16-3-6-4-6-5-4-23-11-8-3-8-2-8-1-8 2-6 3-6 4-9 12-9 20-6 20-5 36-6 56 0 16 1 12 4 20 6 12 6 12 10 14 9 10 10 8 21 13 32 25 12 7 12 3 12 1zM451 600l3-4-1-4-3-4-6-3-4 1-5 2-2 4 1 4 3 4 7 2 4 0zM611 636l3-4 1-4-2-4-5-3-4-1-4 2-3 6 1 4 2 2 4 3 4 0zM441 868l15-4 4-4 3-8 1-8-3-16-7-20-6-10-4-4-4-2-4 0-3 4-2 4 0 4 5 24 0 4-1 4-3 3-17 1-7 2-3 2-3 4 1 4 1 4 4 4 5 4 11 4 8 1z"/>
<path fill="#8cff81" d="M860 940l-840 0 0-667 60 0 28-2 20-5 28-11 8-2 44 3 52 0 20-1 12-3 12-4 20-12 8-4 16-2 24-1 72 4 56-2 316-24 44-4 0 272-20-26-12-18-16-13-16-8-8-2-12-1-20 1-12 3-8 3-8 4-9 6-8 8-5 8 0 20-6 24-1 4 3 4 2 8-3 16 0 8 9 24 0 12-7 24-3 8-10 16-2 8 2 8 3 4 7 5 8 2 8-3 6-4 10-9 6-7 2-4 2-8-1-20 2-8 14-24 6-16 0-4-3-2-4-8-1-6 0-8 1-8 4-4 4 0 4 1 4 3 2 4 1 8-6 20 4 4 7 4 12 4 8 1 8-1 20-4 8 1 16 4 8 0 0 129-12 6-20 6-4 2-13 12-20 8-4 4-2 4-4 16-4 4-5 1-8-3-8-1-8 1-8 4-4 6-2 8-2 40 1 16 2 12 3 8 6 9 8 6 12 5 16 3 12-1 8-1 8-4 7-5 5-5 8-12 16-31 8-11 8-9zM602 572l2-4 1-8 1-4 13-20 1-4-1-4-8-16-2-8 2-8 6-8 3-8-3-12-14-32-1-8 1-20-1-12-4-8-6-7-4-3-8-3-4 0-8 1-8 4-20 17-8 3-28 0-17 4-19 8-8 5-8 7-8 8-2 4-2 4 5 32-1 12-4 24 0 8 2 8 5 8 6 4 11 3 60 4 24 4 12 4 8 4 24 17 4 1 4 0zM516 486l-4-4-1-6 1-4 4-3 4 3 1 4-1 7zM445 872l11-4 6-4 2-4 1-12-1-12-6-20-6-13-8-10-4-2-4 0-5 5-1 8 3 16 0 8-1 3-4 2-36-7-5-2-3-4 0-8 2-8 3-8 13-20 9-12 16-16 9-12 4-2 4-2 20-2 4-3 2-7-3-16 3-12-1-4-2-4-5-4-6-2-8 0-4 1-7 5-3 4-4 8-3 12-3 5-8 2-24 3-12-2-5-4-2-16-2-8-7-8-6-4-10-3-8 0-10 3-10 6-4-5-2-13 1-68 0-12-4-16-6-16-4-4-5-3-36-15-8-1-8 1-12 5-7 5-7 8-7 12-6 16-7 28-9 60-2 32 2 24 6 20 11 20 11 16 11 11 8 5 28 16 24 20 12 7 8 4 12 2 12 1 28 1 8 1 8 4 17 16 6 4 13 6 8 1 8 0zM453 600l2-4 0-4-3-5-4-2-8-1-4 1-4 3-1 4 1 4 4 5 4 2 4 1 4-1zM613 636l2-4 0-4-1-4-6-4-4 0-4 1-2 3-1 4 1 4 2 3 4 3 4 0zM336 744l-8 3-8-1-4-2-4-4-2-4 1-8 9-31 1 3 5 4 24 12 5 4 0 4-4 8-7 7z"/>
<path fill="#96ff76" d="M860 940l-840 0 0-664 60 0 28-2 20-5 28-11 8-2 48 3 44 0 24-2 12-2 9-3 11-5 19-11 17-4 24 0 64 3 64-1 316-24 44-4 0 262-16-20-10-16-4-4-18-14-16-7-8-2-12-2-12 0-12 2-12 3-10 4-10 6-8 6-8 8-5 8 1 24-4 20 0 4 6 8 1 4-3 20 1 8 8 20 0 12-3 12-5 16-10 16-3 8-1 4 1 8 3 4 5 5 8 3 4 0 8-3 12-9 8-8 4-7 2-5 1-8-1-16 3-8 19-31 4-4 4-1 4 1 16 4 8 1 28-1 32 9 0 118-12 6-20 7-8 6-10 9-20 8-4 4-2 4-4 16-4 4-4 0-8-3-8-1-8 1-8 5-4 6-3 8-2 44 1 16 2 12 3 8 7 10 12 7 12 4 16 2 12-1 12-4 8-6 4-4 8-12 18-36 6-9 8-9zM605 572l1-12 2-4 4-7 11-13 1-4-2-4-9-16-2-8 2-8 7-12 1-8-3-12-13-28-1-8 1-20-2-12-3-8-8-9-8-5-4-1-8 1-12 4-16 13-8 5-8 1-28 1-20 5-12 6-8 5-19 18-3 4 0 4 5 24 0 12-2 12-6 24-1 8 2 11 4 7 4 3 4 1 8 1 48 0 20 1 16 2 16 5 8 3 10 6 14 12 4 2 4 2 4-1zM385 440l5-8 2-8-1-4-3-2-4-1-4 0-4 4-4 7-1 4 1 5 4 6 4 0zM516 483l-2-3 0-4 2-4 3 4-1 4zM764 522l-4-2-3-4-1-4-1-8 1-5 2-3 2-2 4-1 5 3 3 4 1 4-1 9-4 7zM431 880l25-8 7-4 2-4 2-12-1-12-9-28-4-8-5-8-4-4-4-2-4-1-4 3-3 8 1 20-1 4-1 2-4 0-24-11-3-3-2-4-1-8 4-12 9-16 7-8 22-22 8-5 20-3 4-3 2-3 2-8-3-12 0-4 3-12 0-4-2-4-4-4-6-3-8-2-8 2-6 3-4 4-5 8-5 13-4 5-7 2-17 2-8 0-5-2-4-4-6-20-5-7-4-4-8-4-8-2-24 1-4-5-2-11 0-40 0-20 0-12-5-20-5-12-3-4-4-4-5-3-28-11-8-3-8-1-8 1-12 5-8 6-6 6-8 12-5 12-6 16-4 16-10 56-3 32 1 28 2 12 4 12 9 20 14 20 12 11 12 8 27 13 25 21 8 5 16 6 36 6 12 4 8 4 24 17 12 5 12 2zM448 604l6-4 2-4 0-4-2-4-6-5-4-1-8 0-5 2-3 4 0 4 2 4 3 4 7 4zM614 636l2-4 0-4-1-4-3-3-4-2-4 0-4 1-3 4-1 4 1 4 3 4 4 2 4 1zM328 745l-7-1-5-3-3-5 0-4 1-8 3-8 3-5 4-2 8 2 11 5 6 4 1 4 0 4-6 8-8 6z"/>
<path fill="#a0ff6b" d="M860 940l-840 0 0-661 56 0 28-2 20-4 32-11 12-3 40 2 40 0 32-1 20-5 12-5 24-12 7-2 9-1 16 0 68 4 64-1 316-25 44-4 0 252-12-14-10-15-10-10-16-12-8-4-12-4-20-3-12 1-12 2-20 6-12 7-8 5-11 12-4 8-1 4 3 20-2 20 1 4 2 4 4 4 1 4 1 4-3 16 1 8 7 20 0 12-2 12-5 16-10 16-4 8-1 4 1 8 3 4 7 6 8 3 4 0 8-3 12-9 8-8 5-9 2-8 0-20 3-8 18-26 4-4 4-2 8 0 20 4 20 0 8 1 32 13 0 107-12 8-24 10-15 13-20 8-3 4-2 4-4 16-4 3-4 1-8-3-8-1-8 1-8 4-5 7-2 8-3 52 0 16 3 12 4 8 7 7 12 7 12 3 16 2 16-1 12-5 6-5 6-7 8-14 16-35 12-16zM451 604l5-4 2-4 0-4-2-4-4-4-4-3-16-4-1-1-1-4 1-8 4-8 5-3 8-2 44-7 16 0 20 1 20 4 16 6 8 5 12 11 8 5 4 2 4-1 4-2 2-3 1-8 3-8 6-9 7-7 3-4 1-4-1-4-10-13-3-7 0-8 8-16 1-8-4-16-10-24-1-8 0-16-1-12-3-8-3-6-5-6-5-4-10-4-4 0-8 1-8 3-16 12-8 5-8 1-28 2-20 4-12 6-8 5-8 7-16 17-1 5 4 16 2 12 0 8-1 8-13 32-2 8-1 19-2 5-5 4-9 5-3 3-3 4-1 4 0 4 2 4 3 4 8 4 6 2 3 2 8 12 5 4 8 2zM380 452l4-2 4-5 8-13 3-8 0-4-3-7-8-5-5 0-7 5-8 11-2 8 0 8 2 5 4 5 4 2zM764 518l-4-2-3-8-1-4 1-4 3-4 4-1 4 2 2 3 2 4-2 8-2 3zM418 888l14-3 24-10 8-4 4-7 1-16-3-12-7-20-5-12-6-9-4-4-4-2-4-1-4 2-2 2-3 8 0 12-1 4-2 2-4-2-12-8-4-4-2-8 2-12 7-12 6-8 19-18 9-6 7-2 12-2 4-1 3-3 1-4 1-8-3-12 1-4 4-12 0-4-1-4-6-5-8-4-8-1-8 1-8 4-4 4-4 5-8 16-4 3-8 2-12 2-4-1-6-2-3-4-5-12-5-8-7-8-6-4-8-3-24-3-4-4-2-6 0-8-1-64-5-20-5-12-3-5-4-5-8-5-32-12-8-1-8 0-12 3-9 5-9 8-6 8-7 12-5 12-6 16-13 56-3 16-1 16 0 36 4 24 4 12 5 12 13 20 13 13 12 8 33 15 7 5 16 14 8 6 16 7 32 7 12 4 12 7 20 14 12 6 12 2zM615 636l2-4 0-4-1-4-4-4-4-2-4 0-4 1-4 5-1 4 1 4 4 5 4 2 4 1 4-2zM332 741l-8 1-5-2-2-4-1-4 1-8 3-6 4-4 4 0 8 2 7 4 3 4 0 4-2 4-4 4z"/>
<path fill="#aaff5f" d="M860 940l-840 0 0-658 60-1 24-1 21-4 31-11 12-2 80 1 32-2 12-2 12-3 32-14 16-4 16 0 68 3 64-1 316-25 44-4 0 243-10-11-11-16-15-14-16-10-16-5-12-2-12-1-12 1-12 2-12 3-12 5-12 7-8 7-10 11-4 8 0 4 4 20 1 20 3 8 4 4 2 4 0 4-2 12 0 8 7 24 0 12-5 24-14 24-2 8 0 4 3 8 3 4 6 4 8 2 8-1 8-4 6-5 10-10 6-10 2-8 0-19 3-9 19-24 6-5 8-1 20 4 24 2 12 5 24 12 0 97-13 10-23 10-16 14-19 8-4 4-2 4-4 16-3 3-4 0-12-3-8 0-8 2-7 6-3 4-2 8-4 40 0 20 0 12 3 12 5 10 8 7 12 5 16 3 20 2 12-1 8-3 4-2 8-9 8-14 15-38 5-8 8-9zM453 604l4-4 2-4 0-4-1-4-6-7-10-5-3-4 0-4 5-6 8-5 14-5 18-5 16-1 16 0 12 0 16 3 12 4 12 6 7 5 9 9 8 6 8 0 6-3 2-4 0-8 3-8 5-6 11-10 2-4 1-4-2-5-11-15-3-8 1-4 1-4 7-12 0-8-3-16-10-28-1-24-1-8-3-8-4-8-9-9-8-4-12-1-12 4-16 11-8 5-8 1-28 2-20 5-12 5-8 5-26 24-2 4 0 4 5 16 2 12 0 8-2 8-5 12-13 20-9 20-14 20-3 8-1 4 2 8 4 4 6 4 16 7 8 9 6 4 6 2 4 1 4-1zM384 456l4-4 13-20 3-8 1-4-2-8-3-4-7-4-5-1-8 2-9 7-7 12-4 12 1 8 2 4 5 7 4 3 4 1 4 0zM764 514l-4-2-2-8 2-6 4 0 4 2 1 4-1 6zM426 892l30-14 10-6 3-4 1-4 0-16-3-12-9-24-6-12-8-10-4-3-4-1-4 2-6 8-2 5-4 5-4-2-4-3-3-5-1-4 0-8 3-8 6-8 23-22 8-4 20-4 4-4 2-6 0-4-2-16 2-8 4-8 1-4-2-4-5-5-8-5-12-2-8 1-8 3-5 4-6 8-5 10-4 4-3 2-5 2-8 1-8-1-3-2-5-6-8-14-8-9-12-7-24-6-4-4-2-6-1-8-1-28 1-24-1-12-8-24-4-8-4-6-4-4-8-4-32-12-8-2-8 0-8 2-8 4-9 6-9 8-9 12-6 12-10 28-15 56-3 28 1 44 4 24 4 12 6 12 7 12 7 8 12 11 12 7 32 14 8 5 17 15 11 7 12 4 28 7 12 5 12 6 24 18 12 6 8 2 8 1 8-1zM610 640l6-3 2-5 0-4-1-4-4-4-5-3-4 0-4 2-5 5 0 4 0 4 5 6 4 2zM332 738l-4 1-4 0-3-3-1-4 0-4 1-4 3-4 4-2 8 2 4 4 1 4-2 4z"/>
<path fill="#b4ff54" d="M860 940l-840 0 0-655 60-1 24-1 20-4 36-11 12-2 76 1 32-2 24-5 36-15 16-2 16-1 64 3 64-1 316-25 44-4 0 235-8-9-9-13-15-15-12-9-8-4-12-4-12-2-12-1-16 0-16 3-16 5-15 7-11 8-9 8-7 12-2 8 5 20 4 20 4 8 5 8 1 4-2 12 0 8 6 20 1 8-1 12-4 20-14 24-3 8 1 8 1 4 8 7 8 4 4 1 8-1 8-5 12-10 7-8 4-8 2-8-1-16 4-10 20-24 4-3 4-2 8 0 40 7 17 8 19 12 0 87-9 9-6 4-21 9-16 14-16 7-4 2-4 5-4 16-2 3-2 2-4 1-12-4-8 0-8 2-4 3-4 4-2 4-3 8 0 12-4 32-2 24 1 12 3 12 5 8 10 7 12 4 28 4 16 1 12-2 8-4 4-4 4-6 5-12 14-40 5-9 8-10zM455 604l3-4 2-4 0-4-1-4-3-5-7-7-2-4 1-4 3-4 5-3 16-7 16-5 16-2 20 0 16 3 12 3 12 5 9 6 15 15 4 2 8 0 4-1 4-4 1-4 1-8 2-6 4-5 14-13 2-4 0-4-1-4-12-16-3-8 0-4 2-4 6-12 1-8-4-20-8-24-4-32-2-8-4-8-7-8-4-3-4-2-8-2-12 1-8 3-16 10-8 4-8 1-28 2-12 2-11 4-13 6-8 6-26 24-1 4 0 4 6 16 2 8 1 8-2 9-4 9-4 6-21 20-5 8-15 32-2 8 0 8 2 4 2 4 6 4 8 4 17 6 11 10 5 3 4 1 8-1zM384 464l4-5 9-15 9-12 3-8 0-8-3-8-6-6-8-2-8 0-4 2-9 6-9 12-4 8-2 8 0 7 1 5 3 6 4 5 8 7 4 1 4 0zM764 509l-3-1-1-2 0-2 0-1 4-2 2 3zM421 900l11-5 33-19 3-3 3-5 1-16-2-12-11-28-6-12-5-7-8-7-4-1-4 1-3 2-5 6-4 3-4-2-2-3-1-4 0-8 3-6 4-6 20-19 8-5 4-1 16-3 6-4 1-4 1-4-3-20 3-8 5-8 1-4-1-4-3-4-6-4-8-4-12-2-8 0-8 3-8 6-12 17-4 4-4 1-8 1-8-2-4-3-12-17-8-7-12-7-18-6-6-6-2-6-1-12-1-20 1-24-1-12-3-8-7-20-8-12-6-6-8-4-28-11-8-2-8 0-8 1-8 3-12 7-10 8-8 8-8 12-6 12-6 16-12 36-7 24-2 12-1 16 2 56 1 12 3 12 8 20 7 12 7 8 12 11 16 10 32 13 32 23 12 5 28 7 16 6 14 9 22 18 12 7 8 2 8 1 8-1zM613 640l5-4 1-4 0-4-1-4-6-6-4-1-4-1-4 2-3 2-3 4 0 4 2 7 4 4 4 2 4 0zM328 733l-1-1-1-4 2-2 4 0 1 2-1 3z"/>
<path fill="#bfff49" d="M860 940l-840 0 0-652 64-1 20-1 24-5 32-10 16-2 76 0 28-2 20-3 40-14 16-3 16-1 68 2 64-2 220-17 92-7 44-4 0 226-12-16-12-12-9-8-11-8-8-4-12-4-12-2-16-1-20 2-16 3-16 6-12 6-12 8-10 10-6 11-2 9 7 20 6 20 4 8 6 8 1 4-2 12 0 8 5 20 1 8-1 16-3 16-2 4-13 20-3 8 0 8 2 4 3 4 6 4 9 4 8 1 4-1 8-5 13-11 7-8 4-8 1-8 0-16 3-8 8-10 14-14 6-4 8-1 36 7 20 10 20 15 0 77-7 8-9 7-20 10-16 14-16 6-5 3-5 8-2 12-2 4-2 2-4 0-12-3-8 0-8 2-5 3-4 4-2 4-2 8-1 12-6 44-2 24 2 12 3 8 5 6 8 5 12 4 44 7 12 1 8-1 8-4 4-4 3-6 17-56 5-12 7-8zM450 608l7-4 3-4 1-4 0-8-7-12-1-4 2-4 11-8 14-6 16-5 16-1 16 1 17 3 11 3 10 5 5 4 13 14 4 3 4 2 8 0 7-3 3-4 1-12 1-4 3-4 13-11 5-5 1-4 1-4-2-4-2-4-10-12-3-8 0-4 1-4 6-12 1-12-4-24-7-20-4-28-2-8-4-8-7-8-6-4-12-5-12 1-8 3-24 13-8 1-32 3-20 5-12 6-8 5-16 17-11 7-4 4 0 4 1 4 6 13 3 11 1 8-2 8-4 8-6 8-8 5-16 7-4 4-4 8-13 36-2 8 0 8 1 4 3 4 4 4 7 4 24 7 12 9 8 4 8 1zM384 472l4-5 7-15 5-8 15-16 0-8-4-12-3-4-4-4-8-3-4-1-8 1-8 3-5 4-8 8-5 8-4 8-2 8-1 8 2 8 5 8 6 8 4 3 8 3 4 0zM411 912l13-6 26-18 14-9 4-3 4-8 2-16-1-8-12-28-7-16-10-12-4-3-4-2-4 0-8 6-4 1-3-6 0-4 3-7 4-5 16-16 12-6 16-3 4-2 4-5 1-8-3-16 0-4 2-6 9-10 1-4-1-4-3-4-5-4-9-5-8-2-12-1-12 3-9 5-4 4-9 12-6 5-8 1-4-1-4-2-12-15-9-8-11-7-20-9-3-4-3-8-1-12 0-16 1-24-1-8-3-12-9-20-4-8-5-7-8-7-8-5-16-7-12-4-8-2-8 0-8 2-8 3-12 7-11 8-8 8-9 12-7 12-8 16-14 36-6 20-3 12-1 16 1 68 3 20 7 21 8 15 8 11 9 9 11 7 12 6 28 11 8 4 20 15 10 5 14 4 28 6 12 6 12 8 24 23 12 8 12 3 8 0zM616 640l3-4 2-4-2-8-3-4-4-3-8-1-4 1-4 3-2 4-1 4 1 4 2 4 4 4 4 2 8 0z"/>
<path fill="#c9ff3d" d="M860 940l-840 0 0-649 60 1 24-2 16-3 40-13 16-2 16-1 60 1 28-2 24-5 40-12 16-2 84 0 60-2 220-17 100-7 36-4 0 217-8-10-16-17-8-7-12-8-12-5-12-3-12-2-16 0-20 2-16 3-16 6-14 7-14 10-9 10-4 8-3 12 9 20 8 20 4 8 6 8 1 4-1 12 0 8 5 20 1 8-2 20-3 13-14 23-4 8 0 4 2 8 3 4 5 4 12 6 8 0 8-3 14-11 10-11 4-9 2-8 0-16 4-8 6-8 16-14 4-3 4-2 8 1 24 5 12 5 21 12 15 13 0 67-5 8-11 10-20 10-16 14-16 7-5 3-4 4-1 4-3 12-3 5-4 1-12-4-8 0-8 2-6 4-3 4-5 12-1 12-8 52-3 24 1 12 4 8 5 6 8 4 12 3 27 3 45 12 8 1 4-1 4-3 2-5 3-36 7-32 5-16 7-10zM453 608l5-4 3-4 2-4-1-8-4-12 1-4 3-4 11-8 15-7 12-3 16-1 16 1 16 4 12 4 8 5 16 17 4 3 4 2 8 0 4-1 6-4 2-4 0-12 2-4 6-6 12-9 3-5 1-4 0-8-4-6-8-10-4-8 0-6 7-14 0-16-1-20-7-20-4-24-4-12-4-8-7-8-8-6-12-4-12 0-12 5-16 8-8 3-32 3-20 4-12 5-11 6-9 7-11 13-5 3-4 1-4 0-3-4-7-16-6-6-4-3-8-2-12 1-8 3-8 6-8 9-5 8-6 12-2 8 0 8 2 8 8 12 11 10 12 8 4 2 4-4 7-24 3-8 6-8 8-6 4-1 4 1 4 5 7 13 3 12-1 8-3 8-6 7-4 3-8 3-4 1-8-1-12-3-4 13-6 29-9 28-1 8 2 8 4 4 7 4 35 10 20 11 8 1zM410 924l14-9 26-23 16-12 6-7 2-5 2-16-1-8-21-44-6-9-8-8-4-2-4 0-8 1-2-2 1-4 1-4 7-8 7-8 6-4 8-4 16-3 4-2 4-3 2-4 1-8-4-16 0-4 5-8 8-8 1-4-1-4-2-4-5-4-9-5-12-5-12-1-8 2-12 5-6 4-10 11-4 4-4 1-4 0-4-1-4-2-17-17-11-7-16-9-5-4-2-4-3-8 0-12 0-12 3-24-1-8-3-8-16-32-5-8-8-8-8-5-16-9-12-5-8-2-8 0-8 1-8 3-8 4-20 13-9 8-11 12-10 16-13 24-11 24-5 16-4 12-1 16 3 44-2 40 3 20 6 20 8 16 8 12 10 11 12 8 12 5 30 12 22 12 12 6 16 4 28 4 12 4 8 5 6 5 26 30 8 7 8 4 12 2 8-1zM618 640l3-4 1-4 0-4-4-8-6-4-4-1-4 0-4 1-4 3-3 5-1 4 1 4 3 5 4 4 8 2 4 0z"/>
<path fill="#d3ff32" d="M820 940l-405 0 13-15 19-25 7-8 14-10 4-5 2-5 4-20 0-4-3-8-7-13-11-23-7-12-10-10-12-6 1-4 5-8 10-10 8-4 16-3 4-1 6-6 2-4 1-4-1-8-4-12 0-4 4-6 11-10 1-6-4-7-12-9-12-5-8-2-8 0-12 2-12 5-8 5-8 8-4 3-4 1-4-2-22-17-19-12-5-4-3-4-3-8-1-8 0-12 3-12 2-7 4-8 4-3 4-1 52 11 24 11 8 1 8-2 8-6 4-8 0-8-2-12 2-4 9-8 13-8 10-3 12-3 20 1 24 5 8 3 8 5 12 15 8 6 4 2 8 0 9-3 3-4 2-4 0-12 2-4 16-12 4-5 3-7-1-8-2-4-13-16-1-4-1-4 6-12 2-8 0-36-6-20-5-20-5-12-4-8-6-8-7-6-8-4-12-2-12 1-24 11-8 3-36 3-12 3-12 4-12 5-9 6-7 7-8 10-4 2-4 0-3-3-9-16-3-4-7-4-6-2-8-1-8 2-8 3-12 9-10 13-9 16-3 12 1 12 3 8 3 4 19 20 4 8 2 8-1 16-4 20-5 16-8 15-4 3-4-1-8-6-8-9-9-18-6-8-5-6-12-9-16-10-12-5-8-1-12 0-12 4-8 4-27 19-18 16-17 20-15 20-6 12-10 24-4 16-1 12 2 16 6 36-5 40 0 20 3 16 10 32 6 16 8 13 8 10 12 8 12 6 16 5 20 4 36 4 44 2 8 1 4 2 11 9 8 12 9 16 11 24-343 0 0-226 5-6 1-8-2-7-4-4 0-395 60 2 24-1 20-4 28-11 20-5 20-1 60 1 24-1 24-4 40-12 20-3 140-2 216-18 84-5 44-4 16-2 0 208-24-27-8-6-12-8-12-4-12-3-16-2-16 1-16 1-19 4-17 6-13 6-12 8-13 12-5 8-4 12 0 4 11 18 13 26 9 12 1 4-1 20 5 28-2 24-4 12-13 20-2 4-2 8 1 8 3 4 5 4 11 6 8 2 4 0 8-4 12-9 8-8 8-11 3-12 0-16 4-8 9-9 16-13 4-2 6 0 22 5 16 6 20 13 9 8 7 8 0 56-11 16-10 8-15 7-16 15-16 6-6 4-3 4-2 4-2 12-3 4-4 1-12-3-8 0-8 2-4 2-6 6-5 12-1 15-16 85-1 8 2 8 3 4 5 4 7 2 8 2 28 1 8 1 16 6 12 8 5 4 7 8 6 12 3 12zM412 493l-8-2-4-3-3-4-1-4-1-8 3-12 3-8 7-7 4-3 4 0 4 2 4 4 4 5 4 11 0 8-3 8-5 7-4 3zM114 556l6-3 8-7 4-6 4-8 2-8 1-4-3-8-10-24-10-2-16 0-37 6-1 4 6 36 2 8 3 8 7 7 4 2 8 2 12 0zM620 640l3-4 0-8-1-4-6-7-4-2-8-1-4 1-6 5-2 4 0 8 4 6 4 4 4 1 8 1 4-1zM860 940l-9 0 7-36 1-16-2-8-6-12-3-7-2-9 0-8 0-16 4-20 5-16 5-7z"/>
<path fill="#ddff26" d="M620 940l-185 0 7-20 8-16 5-8 13-11 4-5 4-8 4-20 0-4-3-8-9-15-14-29-10-12-9-8-2-4 1-4 3-4 8-8 8-4 19-4 4-3 4-5 2-4 0-4-1-8-4-12 1-4 2-4 12-10 1-2 1-4 0-4-1-4-4-4-9-7-16-7-12-2-12 1-8 2-16 7-12 9-4 1-4-1-8-4-32-23-6-8-2-12 1-12 5-12 6-6 8-4 12-1 16 2 20 4 20 9 8 1 8-2 8-5 4-6 2-8-1-12 1-4 3-4 8-8 6-4 9-4 12-4 12-1 12 1 19 4 12 4 9 6 12 15 4 4 8 4 4 0 8 0 4-2 5-3 2-4 1-4 0-12 4-4 12-8 4-4 4-8 1-8-3-8-12-16-2-4-1-4 7-16 2-26 4-14-1-4-17-44-7-12-6-8-9-8-8-4-8-2-12 0-12 4-16 7-8 3-36 4-24 6-12 5-9 5-19 15-4-3-5-8-4-4-7-5-8-4-8-1-8 0-8 3-8 4-12 10-10 13-9 16-3 8-2 8 0 8 4 11 19 21 4 8 2 8 0 16-4 20-5 13-4 4-4 3-4 0-4-2-4-3-4-5-9-18-7-9-8-7-20-15-8-5-8-4-8-1-12 2-12 5-60 40-8 3-4 1-4-1-4-5-3-8-8-40-5-4-20-5-20-2-20 2-40 7-24 3 0-190 60 1 24-1 24-5 37-14 7-1 24-3 52 3 28-1 20-3 44-13 24-4 148-1 212-18 96-6 40-4 0 196-24-25-10-8-10-5-12-4-12-3-16-1-20 0-20 3-16 3-19 7-16 8-11 8-13 12-7 12-2 8 0 4 16 18 14 26 10 12 1 4-1 20 5 28-1 20-1 8-3 8-14 20-4 8-1 8 1 4 2 4 5 4 7 4 12 5 8 0 8-3 17-14 9-12 5-12 1-20 4-7 8-8 16-11 4-2 4-1 24 6 16 6 16 10 12 11 8 12 0 43-7 13-6 8-4 4-6 4-13 6-16 15-17 7-6 4-3 4-2 4-2 12-2 4-4 1-8-3-8-1-8 1-8 3-7 7-5 12 0 12-13 56-7 22-8 18-8 10-13 10-8 8-13 24-8 12-14 11zM416 488l-4 0-4-1-4-2-4-5-1-8 2-12 3-7 4-4 4-3 4 0 4 2 4 3 3 5 2 4 1 8-1 8-2 4-3 4-4 3zM617 644l7-4 2-4 0-8-5-8-5-4-8-3-8 1-4 2-3 4-2 4 0 4 3 8 6 6 4 2 8 1zM104 746l-4 1-4-1-5-6-3-4-3-8-2-16 0-20 3-16 2-6 4-6 4-3 4-1 4 1 4 3 8 10 8 16 2 10-2 12-4 11-8 15-4 5zM860 868l-5-8-3-8-1-8-1-12 2-24 4-12 4-8zM324 940l-68 0-4-5-4-7-2-8 1-8 5-8 4-4 6-4 8-4 14-4 12-2 12-2 8 1 5 3 7 8 4 8 3 12 0 8-2 8-6 8zM776 940l-60 0-4-5-3-7-1-8 2-8 5-8 3-4 5-4 9-4 14-4 10-2 8 0 8 2 7 4 5 5 5 7 2 8 0 8-3 8-6 8-4 4z"/>
<path fill="#e7ff1b" d="M344 548l-4 0-4-3-6-13-9-12-31-32-10-12-4-1-8-1-8 1-5 1-7 4-35 28-17 9-12 4-4 0-4-1-4-4-2-4-4-12-2-16-16-7-16-5-16-3-20 0-76 11 0-176 64 1 24-2 24-5 36-13 16-4 12-1 52 3 28-1 24-4 32-10 16-4 16-2 24 0 96 0 32-1 212-17 96-6 36-4 0 185-21-23-7-5-12-7-12-4-12-3-28-2-32 3-16 3-16 5-14 6-15 8-27 19-4 2-4 0-4-2-4-4-18-31-10-12-12-8-8-3-8-1-12 1-24 10-8 2-32 3-20 4-20 7-24 12-4-1-17-10-11-5-12 0-8 1-8 3-7 5-14 12-6 8-10 16-7 12-2 8-1 12 1 8 3 4 8 8 8 8 4 8 3 8 1 12-3 16-2 7-3 5zM416 484l-5 0-6-4-2-4-1-8 1-8 2-4 3-3 4-3 4 0 4 1 4 4 3 5 1 8 0 4-4 8-4 3zM580 940l-128 0-1-16 3-16 6-12 9-8 6-8 7-24 0-8-3-8-11-18-13-26-7-9-10-11-1-4 0-4 3-4 8-7 8-4 16-3 4-2 4-5 3-7 1-4-2-8-4-12 1-4 3-4 10-8 3-4 1-8-1-4-2-4-4-4-9-6-12-5-16-4-12 0-8 2-32 14-8-1-16-9-15-11-3-4-4-8 0-12 3-12 6-8 6-4 11-3 12 0 16 3 8 2 20 8 8 1 8-2 8-5 5-8 2-8 1-12 5-8 9-8 6-4 8-4 12-3 12-1 12 2 16 4 12 4 9 6 11 16 8 6 4 1 8 0 8-1 4-2 5-4 2-4-1-12 1-4 17-12 4-6 2-6 1-8-2-8-5-7-8-10-2-7 5-16 2-16 3-10 4-5 4-2 4 1 8 4 8 8 16 24 10 12 1 4 0 20 5 28-1 20-2 8-3 8-14 20-6 12 0 8 2 4 4 3 16 9 8 2 8 1 8-4 18-15 9-12 5-12 0-16 4-9 4-5 8-5 16-9 4-1 20 4 12 3 16 9 12 9 10 12 6 12 0 27-3 9-5 12-6 8-4 4-18 10-16 14-18 8-6 4-3 4-1 4-3 12-1 3-4 2-12-4-8 0-8 2-8 5-3 4-4 8-2 16-13 52-6 16-8 14-12 14-25 16-10 8-26 28-11 10-16 12zM623 644l7-4 1-4-3-8-5-8-7-6-8-3-8 1-4 2-4 6-2 8 3 8 3 4 4 3 8 3 8 0zM860 855l-5-15-1-16 2-20 4-12z"/>
<path fill="#f1ff10" d="M200 501l-8 0-4-2-4-7-1-8-7-4-28-12-12-4-12-3-16-1-16 1-72 9 0-162 64 1 16 0 28-5 16-4 28-10 16-4 12-1 48 2 28-1 24-4 48-11 20-3 120-1 40-2 200-16 100-6 32-4 0 172-18-19-10-7-8-4-8-4-12-3-28-2-32 1-28 5-16 5-13 5-35 18-8 2-4 0-4-1-8-8-14-19-11-12-11-6-8-4-8-1-12 1-20 8-12 4-32 3-20 4-16 5-20 8-8 1-8-2-16-7-8-2-8-1-8 1-8 2-8 4-12 9-9 9-22 32-6 12-7 17-4 4-4 2-8 0-24-7-8 0-8 2-16 5-20 9-12 13-4 4zM416 481l-4-1-4-3-3-5 0-4 0-4 3-6 4-4 4 0 4 1 4 5 2 8-1 4-2 4-3 3zM548 940l-70 0-6-4-4-4-4-6-2-6-1-8 1-8 2-4 8-9 4-7 2-8 1-8 6-16 0-4-3-8-14-21-10-19-17-24-1-4 0-4 3-4 5-5 8-3 16-4 4-2 6-6 2-5 1-7-1-8-4-12 1-4 3-3 10-9 3-4 1-8 0-4-2-4-3-4-5-4-12-7-16-6-12-3-12 2-28 12-8 2-4 0-8-2-16-9-9-9-4-8 0-12 2-8 5-8 10-6 8-2 12 0 12 2 8 2 16 8 8 2 4-1 8-2 8-5 5-6 3-8 4-16 5-8 8-8 6-4 9-4 8-2 12 0 12 1 16 4 12 4 7 5 9 15 4 5 8 5 4 1 8 0 8-1 8-3 3-2 3-4 1-4 0-12 3-4 10-7 4-5 4-10 1-10-2-8-3-5-11-15-1-4 5-16 1-12 2-7 4-5 4-1 4 0 8 3 8 7 14 19 10 12 1 4 0 20 4 20 1 8-1 24-3 8-2 5-18 23-5 8 0 8 2 4 5 4 20 9 8 3 8 0 8-4 20-16 8-11 4-13 1-16 4-8 3-4 8-5 12-6 8-2 20 3 12 3 16 9 11 10 10 12 4 12 2 12-2 12-5 16-8 12-8 7-16 9-12 12-19 8-5 4-3 4-2 4-3 14-4 2-12-4-8 0-8 2-9 6-5 8-3 8-2 16-9 34-4 14-8 16-4 6-8 10-12 9-30 15-13 8-9 8-23 24-17 13-20 11zM340 517l-4 0-4-3-15-18-4-8 0-4 3-3 4 1 5 2 6 4 3 4 6 10 2 6 0 4zM635 644l3-4 0-4-2-4-9-12-7-6-8-4-8 0-8 3-4 4-3 7 1 8 5 8 5 4 8 3 8 1 12-2zM860 841l-2-9-1-12 1-12 2-9z"/>
<path fill="#fbff04" d="M220 472l-16 3-12-1-12-3-40-16-12-2-12-2-12 0-16 1-68 9 0-148 28 0 40 4 16 0 20-4 23-9 25-9 20-4 72 0 28-3 44-9 32-3 176-6 180-16 96-6 40-4 0 159-16-16-8-6-8-4-8-3-12-3-28-3-32 1-28 4-28 8-40 16-8 2-4-1-8-3-4-4-17-19-11-9-16-7-8-2-8 0-12 4-16 7-56 8-44 12-8 0-20-7-12-3-8 0-8 1-8 4-8 5-17 15-29 36-14 20-4 3-4 0-4 0-12-7-8 0-24 8zM416 476l-4-1-2-3-2-4 1-4 2-4 5-2 5 2 2 4 0 4-3 6zM532 932l-16 0-20-3-13-5-5-4-4-4-2-4-1-8 8-20 2-16 5-12 1-8-3-8-12-17-13-23-16-24-1-4 1-4 5-6 8-4 16-4 8-6 3-4 2-4 2-8-5-20 2-5 12-12 4-11 1-4-2-4-2-4-4-4-9-6-16-8-20-9-8 1-24 12-12 5-8 1-8-1-12-7-8-8-4-8-1-4 0-8 3-8 6-7 8-5 8-1 8 0 12 2 10 3 14 7 8 2 4 0 8-3 8-6 7-8 8-24 9-12 12-8 8-3 8-2 8 0 12 1 15 4 13 5 5 3 3 4 9 16 7 6 4 2 8 1 20-1 8-2 5-2 6-4 4-4 0-4-4-8 0-4 9-17 2-7 1-8-2-12-4-8-9-12-1-4 4-16 1-12 4-6 4-1 8 1 8 5 4 3 21 26 2 4 1 20 4 20 0 8-1 20-2 12-5 8-19 20-6 8-2 4-1 4 2 4 14 7 12 4 12 6 8 1 8-2 21-16 10-12 4-8 2-8 1-16 2-5 4-5 4-3 8-4 12-4 8-1 16 3 16 5 12 8 11 10 8 12 4 12 1 12-3 16-3 8-4 8-7 8-19 11-13 13-19 8-5 4-4 8-3 13-4 2-12-3-12 0-8 3-6 5-3 4-4 8-3 18-13 46-8 16-11 14-8 6-12 7-34 13-15 8-10 8-22 24-9 8-10 7-20 9zM637 648l5-4 3-4 2-4 1-4-20-17-8-5-12-3-8 2-4 2-4 3-3 6-1 8 3 8 5 6 8 5 8 2 12 0z"/>
<path fill="#fffa00" d="M212 464l-12 1-12-2-44-16-12-3-12-2-12 0-16 1-72 9 0-132 28 1 44 5 20 0 16-3 12-4 12-7 12-8 16-5 16-3 52 0 24-2 60-9 36-2 96-5 96-3 156-16 51-3 61-1 16-2 16-3 0 144-16-15-16-8-16-4-24-2-40 0-24 3-28 6-44 15-12 1-8-3-4-3-18-16-18-13-8-3-8-2-8 0-8 2-28 10-28 4-20 4-36 9-8 1-8 0-8-2-24-9-12-1-8 4-20 15-14 13-18 21-16 15-8 6-4 1-12-2-8 0-56 20zM416 469l-1-1 1-3 1 3zM656 613l-8 1-5-2-3-4 0-4 1-4 8-16 0-4-5-12 0-4 5-20 0-12-3-12-10-16-1-4 0-4 4-24 1-2 4-1 8 2 8 4 8 9 16 19 1 5 1 16 4 24-1 28-1 5-3 7-5 6-8 8-8 6zM548 920l-16 3-16-1-9-2-10-4-7-4-4-4-2-4-1-4 0-28 1-6 5-10 1-8-3-8-15-20-14-24-12-20-1-4 1-4 4-4 6-3 16-4 8-6 5-7 2-4 1-8-4-20 1-4 11-11 7-13 0-4 0-4-6-8-9-7-27-17-8-8-2-4 0-4 2-4 13-16 4-8 6-16 8-12 8-8 7-4 9-3 8-1 12 1 12 2 14 5 8 4 4 4 6 13 5 7 7 6 16 6-4 2-4 5-4 9-1 8 3 8 2 3 4 5 8 5 8 2 8 1 16-1 4-2 8-6 8-4 4 0 20 4 12 6 8 2 8 0 4-1 22-18 10-11 5-13 2-20 5-8 8-6 12-4 12-1 20 3 16 8 11 8 8 8 5 8 3 8 3 12-1 12-3 12-3 8-5 8-6 5-16 9-14 14-18 7-4 3-5 6-3 16-4 3-12-4-8 0-12 4-7 5-3 4-4 8-4 20-9 32-5 12-8 15-8 9-12 9-12 6-43 13-9 4-6 4-6 5-19 23-9 9-12 8zM400 660l-8 0-12-5-8-7-4-8-1-4 0-8 4-8 5-5 8-4 12-2 15 3 15 8 9 8 1 4-1 4-5 8-14 10-8 4z"/>
<path fill="#fff100" d="M220 453l-12 1-16-2-12-3-36-13-12-2-12-1-28 1-72 10 0-114 28 0 48 6 24 0 16-3 16-6 37-23 23-3 32 1 20-1 60-10 16 0 16 0 28 5 12 0 12-1 32-6 24-3 28 0 52 3 20 0 24-2 56-9 84-11 28-1 72 0 16-1 16-3 0 122-15-12-13-6-16-4-24-1-44 0-24 2-24 5-44 13-8 1-8 0-4-1-8-3-36-27-12-5-8-1-12 1-28 9-40 8-33 9-15 3-12 0-8-2-20-11-12-3-8 2-8 6-52 50-16 12-8 3-16 2-9 2zM668 601l-8 3-4-1-4-4 1-19-4-16 3-24-1-12-3-10-8-14-2-8 3-16 1-4 2-2 8 1 8 5 19 20 4 8 1 16 4 24-1 28-2 8-5 8zM548 912l-16 4-12-1-12-5-7-6-9-14-4-9-1-5 0-8 4-8 2-8-2-8-4-8-15-19-20-33-4-8 0-4 4-6 4-2 12-4 8-4 5-4 6-8 2-4 1-8-4-20 1-4 9-10 7-10 2-4 1-4 0-4-5-8-5-5-26-19-6-8-3-8 1-8 9-16 8-20 8-12 5-5 8-6 8-3 8-1 8 0 13 3 22 8 5 5 8 19 4 4 10 8 2 4-2 12 0 8 3 8 3 4 4 5 8 5 12 4 8 0 8 0 8-2 12-8 8-2 20 3 12 6 8 2 8 0 4-2 4-2 20-17 7-8 5-8 2-8 3-20 2-4 3-4 10-5 16-4 20 3 16 6 12 8 7 8 6 8 4 8 2 12 0 12-2 12-3 8-6 8-4 4-16 9-10 11-5 4-21 9-5 7-3 12-2 4-2 2-12-3-8 0-12 3-7 6-8 12-5 23-12 37-8 15-12 12-12 8-12 5-16 5-32 6-12 5-9 8-14 20-9 10-12 9zM400 656l-8 0-8-3-7-5-5-8-1-8 2-8 3-4 4-4 8-3 12-1 12 3 8 5 4 4 2 4 1 4 0 4-5 8-10 8z"/>
<path fill="#ffe800" d="M232 441l-16 2-16-1-16-4-32-12-12-2-12-1-28 1-52 8-28 3 0-94 28-1 48 7 16 1 16-1 16-3 12-4 12-6 24-14 12-4 12-3 48-4 56-10 16 0 16 4 13 5 23 13 8 2 8-2 24-11 12-5 12-3 16-3 16-1 16 0 48 7 20 0 20-3 64-13 76-11 40-2 64 2 16-1 12-3 0 99-12-8-12-4-16-4-20-1-56 1-20 2-20 3-48 12-16 1-8-2-12-7-10-6-10-10-12-8-12-4-8-1-12 2-48 13-28 6-28 10-12 1-8-2-7-3-17-13-8-5-8-1-4 1-8 6-23 28-21 18-28 23-12 5zM668 596l-4 1-4-1-2-4-1-12-4-20 2-24-1-8-3-12-7-12-2-8 2-11 4-4 4 0 4 2 12 10 10 11 3 8 1 12 4 20-1 32-1 4-4 8-4 4zM536 908l-12 0-10-4-6-7-4-9-11-12-1-4 0-4 3-8 1-8-2-8-5-8-17-22-20-34-1-4 1-4 3-4 13-5 8-4 11-11 2-4 2-8 0-8-3-12 0-4 1-4 11-15 8-9 2-4-1-4-4-8-5-6-23-18-6-8-4-8 0-4 1-8 12-28 10-16 10-9 8-3 8-2 16 2 12 4 12 5 5 3 2 4 4 12 4 8 11 12 2 4 1 16 1 4 4 8 6 6 8 6 8 3 8 2 8-1 8-1 16-8 8-2 20 2 12 6 8 2 8-1 4-1 4-2 20-18 8-9 6-12 4-24 2-4 4-3 8-4 16-3 20 2 16 7 12 9 7 8 5 8 3 8 2 8 0 8-1 12-2 8-4 8-8 8-14 9-11 11-5 4-16 6-8 6-2 4-3 12-3 5-12-3-12 1-8 3-8 6-6 8-3 8-3 15-12 37-8 14-8 10-12 9-8 4-12 5-16 3-32 4-12 3-6 4-4 4-16 24-10 11-12 8-8 3zM400 653l-8 0-4-2-8-5-4-6-1-8 2-8 4-4 7-4 8-1 12 2 8 5 5 6 1 4-1 4-4 8-9 6z"/>
<path fill="#ffdf00" d="M672 364l-20 4-12 0-12-3-10-5-5-4-16-24-4-8-1-4 24-9 32-9 31-6 53-8 20-2 20 0 60 5 16-2 12-3 0 77-8-5-12-4-16-2-16-1-84 3-20 3zM232 432l-12 1-12-2-11-3-29-12-12-3-16-1-32 2-60 10-28 3 0-75 28-1 68 9 12 1 8-1 20-5 12-5 34-18 18-7 76-15 20-3 16 0 16 4 12 7 10 10 3 8 0 4-7 16-7 12-9 12-14 12-16 10-16 13-8 4-24 6zM464 353l-16 3-8-1-4-2-5-5-3-4-2-8 1-4 11-8 14-6 12-4 16-2 16 0 12 1 12 4 13 7-3 4-5 4-13 8-8 4zM676 588l-4 2-4 1-4-2-2-5-4-24 0-28-1-8-2-8-7-16 0-7 4-4 4 1 4 2 8 6 5 6 4 8 2 12 4 16 1 8-3 32-2 4zM540 900l-8 1-8-1-4-2-6-6-14-20-1-4 0-16-3-8-5-8-18-24-17-32-1-4 2-4 19-11 8-7 4-6 3-4 2-8-1-8-2-12 0-4 1-4 9-14 9-6 4-4 0-4 0-4-4-8-5-6-17-14-7-8-6-8-2-8 0-8 7-20 5-12 9-12 9-8 6-3 8-1 8 0 15 4 10 4 7 4 4 4 3 16 2 4 15 17 5 19 4 8 7 8 8 5 8 4 8 2 8 0 8-2 16-7 8-2 20 1 12 6 8 1 8 0 4-1 8-6 19-17 5-6 4-6 3-8 5-24 4-5 8-5 8-2 8 0 20 3 16 7 12 9 9 13 4 8 1 8 1 20-2 8-4 8-8 8-13 8-11 12-5 3-16 7-8 5-3 5-3 12-2 4-12-3-12 1-8 3-9 7-8 12-7 27-11 29-5 10-8 10-12 10-8 4-12 4-20 4-36 1-12 4-9 9-15 23-7 9-9 7zM400 649l-8 0-4-2-4-3-3-4-2-4 1-8 2-4 6-4 8-2 8 1 8 4 3 5 1 4 0 4-2 4-6 6z"/>
<path fill="#ffd700" d="M656 360l-20 0-11-4-1-12 1-4 3-7 7-9 11-8 30-7 76-12 20 0 20 2 16 2 20 6 8 2 12-2 12-7 0 52-8-4-8-1-20-2-16 1-40 3-44 0-12 1-36 7zM268 420l-32 3-12-2-4-1-7-4-9-9-8-5-8-3-16-1-20 1-24 2-76 14-32 3 0-54 20-1 13 1 39 15 20 5 24 4 20-1 12-3 8-4 4-4 8-10 8-14 21-12 19-8 48-13 28-5 12 0 12 2 8 3 8 5 4 4 4 6 1 6 0 4-2 8-3 8-5 8-9 12-10 7-16 9-15 12-6 4-11 4zM672 583l-4-3-6-24 0-8 0-24-4-20 2-2 4 1 4 4 3 5 3 12 6 16 1 8-3 12-1 16-1 4zM540 892l-8 1-6-1-6-4-4-6-9-14-5-16-3-8-5-8-18-24-13-24-3-8 1-4 4-4 15-12 10-12 4-8 1-4-1-8-2-12 1-8 7-13 4-2 8-3 3-2 2-4 0-8-4-8-6-8-22-20-5-8-3-8 0-12 3-12 7-16 8-12 11-8 10-3 8 1 10 2 10 4 7 4 5 4 1 4 1 16 2 4 16 14 4 8 5 14 6 8 5 5 8 6 8 4 8 2 12-1 20-8 8-2 16 1 4 0 12 6 8 1 8 0 4-2 8-5 24-23 7-12 2-8 3-16 2-4 3-4 8-4 7-2 8 0 16 2 16 6 13 10 10 12 3 8 2 8 1 12 0 8-1 8-4 8-8 8-13 8-11 12-4 3-20 8-4 3-4 6-4 14-16-1-8 1-8 2-6 4-4 4-8 12-6 22-11 30-5 10-8 11-12 9-8 5-12 4-20 3-40 0-8 2-4 1-8 7-16 25-8 10-8 6zM400 645l-8-1-6-4-2-4 0-4 1-4 3-4 4-2 4 0 8 1 6 5 1 4 0 4-3 4-4 3z"/>
<path fill="#ffce00" d="M776 340l-8 1-5-1-9-4-6-4-3-4-2-4 1-4 4-4 12-4 12 0 9 4 5 4 3 4 0 4-1 4-3 4zM276 413l-8 1-8 1-16-2-8-2-8-5-13-14-3-4 0-8 1-8 5-12 5-8 5-4 4-2 16-8 33-10 19-5 12-2 12 0 12 3 8 5 6 7 1 4 0 8-3 12-8 12-9 8-19 10-24 18zM860 341l-4-1-1-4 5-5zM36 408l-16 2 0-20 12 0 12 1 12 3 20 6-12 4zM672 553l-4-5 0-4 0-4 4-3 3 3 1 4 0 4zM544 882l-8 2-4 0-7-4-5-5-8-11-13-24-21-28-9-16-4-12 0-4 2-4 3-4 17-16 8-12 1-12-2-16 0-4 6-15 4-3 8 0 4-1 4-5 2-4-1-8-4-8-6-8-17-16-7-8-4-8-2-8 0-12 3-12 8-16 6-8 10-7 8-3 12 2 11 4 7 4 5 4 2 4 0 4-3 12 1 4 17 12 5 4 3 4 11 20 9 11 12 9 4 2 8 2 8-1 20-8 12-2 16 0 20 7 8 0 8-2 8-5 8-9 12-10 6-6 6-12 3-8 1-12 4-8 4-4 8-3 12-2 16 3 16 7 12 9 5 6 5 8 3 8 2 8 1 12-1 8-2 8-2 4-7 7-14 9-10 11-4 3-24 11-3 3-2 4-3 12-4 1-12-1-12 2-8 4-7 6-9 12-8 29-9 23-7 12-7 8-9 7-8 5-8 3-12 3-20 1-32-3-12 2-8 5-4 4-20 29-4 4zM400 639l-4 0-5-3-1-4 3-4 3-1 4 0 4 4 1 1-1 4z"/>
<path fill="#ffc500" d="M276 405l-8 3-4 0-13-4-7-4-10-12-1-8 1-8 3-8 6-8 10-8 9-4 38-12 12-2 8-1 11 3 6 4 3 4 2 8-1 8-5 8-8 7-20 12-23 17zM540 873l-4 0-8-2-12-10-14-21-22-28-8-16-3-12 2-8 2-4 16-16 8-12 1-4 1-8-3-16 0-4 4-12 4-4 8 1 4 0 4-3 4-4 2-6-1-8-5-10-4-6-17-16-7-8-5-8-2-8-1-12 3-12 8-16 6-8 7-5 8-3 12 2 13 6 5 4 2 4 0 4-3 12 1 4 2 4 16 10 8 6 19 28 9 9 12 8 8 1 8-1 20-8 8-2 18 1 18 6 8 0 8-1 8-3 24-22 8-8 6-12 5-24 5-6 8-3 12-2 16 4 16 7 12 9 5 7 4 8 4 16 1 16-2 8-2 4-6 6-15 10-13 13-4 3-21 8-3 4-4 13-3 3-13 0-12 2-8 3-8 7-9 12-7 23-11 29-5 9-8 9-8 6-8 5-12 4-8 2-20 1-36-5-8 1-4 1-5 3-7 7-12 17-8 10-8 5z"/>
<path fill="#ffbc00" d="M268 397l-4 0-4-2-6-7-1-4 1-8 2-5 4-4 9-7 32-16 15-3 4 1 5 2 3 4 1 4-1 4-7 4-17 6-8 5-5 5-5 8-10 9zM536 865l-8-2-4-2-8-6-4-5-29-38-7-12-3-12-1-8 2-4 6-8 15-16 4-8 2-12-2-20 1-7 3-5 1-1 8 1 8-1 5-3 3-4 1-4 1-4-2-8-4-10-8-10-19-20-5-8-3-8-1-12 2-12 6-13 8-11 6-4 6-2 12 2 8 4 5 4 2 4 0 4-1 12 0 4 2 5 4 4 16 9 8 7 20 26 8 9 8 6 8 3 4 0 8-1 16-8 8-2 16 0 20 5 8 1 12-1 8-4 26-23 6-6 4-6 3-8 5-20 1-4 4-4 7-3 12-2 16 4 16 7 11 10 8 12 5 18 1 14-2 8-2 4-5 5-16 11-12 13-6 3-21 8-3 4-3 12-3 3-12 0-12 2-8 3-9 8-10 12-9 29-9 23-7 10-8 9-8 5-8 4-8 3-12 2-20-1-32-6-12 1-8 4-4 4-20 26-8 6z"/>
<path fill="#ffb400" d="M540 857l-4 1-8-1-8-4-4-3-22-26-9-12-6-12-4-12 0-8 2-4 3-5 17-19 5-8 1-12-2-20 3-9 4-1 8 1 8-2 6-5 2-4 1-4-1-12-5-12-7-9-20-21-6-10-2-8 0-12 3-12 6-12 7-8 8-4 4 0 11 4 5 4 2 4 1 4-1 16 4 8 6 6 16 8 8 7 8 9 12 16 8 9 8 6 8 3 4 0 8-2 16-8 8-2 12 1 20 5 8 1 12-1 12-5 7-5 25-24 7-12 7-24 2-4 8-5 12-2 12 3 16 7 12 9 8 12 4 9 3 11 1 12-2 8-3 4-3 4-16 11-12 13-7 4-17 6-4 2-3 4-4 12-1 1-16 2-12 3-10 6-12 12-5 8-5 19-8 22-8 14-8 9-8 5-8 4-8 3-12 2-20 0-36-9-8 0-4 1-8 6-20 25-4 4z"/>
<path fill="#ffab00" d="M536 852l-4 1-8-2-4-2-8-7-16-19-8-11-7-12-3-12 0-8 1-4 5-7 13-13 6-8 1-4 2-12-1-16 1-4 1-4 13-2 5-2 7-5 4-7 0-13-2-7-3-8-7-11-20-21-5-8-2-8-1-12 1-8 5-12 6-8 5-4 7-1 4 1 6 4 3 4 2 4-1 12 2 8 4 8 8 6 16 9 8 5 8 8 12 18 8 9 8 5 8 3 4 0 8-2 15-9 5-2 12 1 16 5 12 1 16-1 12-5 8-6 26-25 7-12 7-24 4-5 7-3 9-1 16 5 16 8 8 8 8 13 6 19 0 12-4 8-3 4-15 10-13 14-7 4-16 5-6 3-4 12-3 4-19 3-12 4-7 5-13 12-5 8-7 24-6 16-6 11-8 10-8 6-8 4-12 4-12 1-8 0-12-2-32-10-8-1-4 1-7 4-4 4-13 18-8 9-4 2z"/>
<path fill="#ffa000" d="M532 848l-8-1-4-2-8-7-12-13-12-17-6-12-2-8 0-8 2-4 6-8 12-12 6-8 4-12 1-20 5-4 8-3 8-5 4-5 3-7 0-16-2-8-3-8-9-12-16-16-5-8-3-8-1-12 1-8 5-12 6-7 4-2 4 0 4 1 4 4 2 4 1 20 4 8 5 6 8 5 16 8 8 5 8 7 12 19 8 9 8 5 8 3 4 0 8-3 20-12 8 1 17 7 7 1 24-3 12-4 8-6 25-24 8-12 7-23 3-5 4-4 5-2 4-1 8 1 16 6 12 7 8 8 7 13 5 16 1 12-4 8-4 4-13 9-14 15-8 4-18 5-4 3-4 13-4 3-16 2-12 4-23 18-4 8-7 24-6 16-7 12-9 9-8 6-12 4-8 2-12 0-8 0-12-3-28-11-12-1-8 3-4 4-13 19-7 9-8 5z"/>
<path fill="#ff9500" d="M540 842l-8 2-8-1-4-2-8-6-12-13-8-11-6-11-3-12 0-8 2-4 7-8 13-12 5-8 3-8 2-16 2-4 4-4 11-8 4-4 4-6 2-6 0-12 0-8-5-16-9-13-12-11-3-4-6-12-1-8 0-8 2-8 5-8 3-2 4 0 3 2 2 4 2 20 4 8 5 6 8 5 16 6 12 6 8 7 10 18 7 8 7 6 4 2 8 2 8-1 4-1 20-13 8 1 16 8 4 1 24-3 8-3 8-3 10-8 26-24 7-12 8-24 3-4 6-3 8-1 14 4 14 7 10 9 6 10 7 18 1 8 0 4-4 8-4 4-12 8-15 16-8 4-17 4-4 2-2 2-3 12-3 2-20 4-8 3-25 19-4 8-7 24-6 16-8 12-8 8-10 6-8 3-8 2-12 0-12-2-8-3-28-13-8-2-8 1-4 2-4 3-4 4-13 23-7 7z"/>
<path fill="#ff8a00" d="M540 837l-8 3-8-1-8-4-8-8-10-11-7-12-5-12-1-8 3-8 3-4 15-12 6-8 4-8 6-20 14-15 4-6 3-7 2-12 1-12-2-10-5-18 0-4 1-2 4-2 12 1 8 2 8 4 6 5 10 18 7 10 5 4 8 4 12 1 8-2 20-12 4 0 4 1 16 8 8 0 28-6 12-6 8-7 20-18 6-7 7-12 7-20 4-5 4-3 8-1 12 3 12 6 6 4 6 6 8 13 4 9 2 8 0 8-3 8-4 4-12 8-10 12-5 4-8 4-16 2-4 2-3 4-2 8-3 5-28 7-23 16-4 4-5 8-8 28-5 12-7 11-8 8-9 5-11 4-8 1-12-1-16-5-20-12-8-4-8-2-8 0-8 3-4 4-15 28-5 6z"/>
<path fill="#ff7f00" d="M540 832l-4 2-8 2-8-2-8-6-8-8-9-12-5-12-1-12 3-8 4-4 16-12 7-8 3-8 5-16 15-24 7-24 1-8-1-20 1-4 2-2 4-2 4 0 8 2 5 2 4 4 8 16 5 8 6 7 8 4 8 2 12-1 8-3 16-9 4 0 16 6 4 1 8 0 12-2 16-5 12-6 8-6 23-20 6-8 5-8 10-24 4-4 8-2 12 3 13 7 7 5 4 5 8 14 5 12 0 8-1 4-2 4-5 4-12 8-9 12-5 4-11 4-16 2-4 5-3 9-3 4-26 8-26 16-4 4-5 8-8 28-5 12-5 8-7 8-8 5-12 4-12 1-8-1-8-2-7-3-6-4-11-10-8-5-12-3-12 0-8 4-4 4-11 26-5 8z"/>
<path fill="#ff7400" d="M528 832l-4-1-8-3-12-12-6-8-4-8-2-8 0-8 2-4 2-4 24-16 6-8 8-24 10-22 3-10 7-20 3-16 1-4 2-3 4-1 2 0 6 3 15 25 5 6 8 5 8 2 16-2 8-2 16-6 4-1 16 4 12 0 12-2 16-5 12-7 12-8 18-16 8-8 7-12 9-20 2-3 4-2 8-1 16 6 8 6 8 9 8 13 4 8 0 8-4 8-16 12-10 12-4 4-10 3-16 1-4 4-4 12-4 4-24 7-16 10-13 7-4 4-5 8-8 28-5 12-5 8-8 8-8 4-8 3-12 1-8-1-8-3-7-4-8-8-8-12-5-3-16-2-16 0-8 3-4 4-2 6-5 20-6 12-7 6z"/>
<path fill="#ff6800" d="M536 825l-4 2-4 1-4 0-8-4-5-4-7-8-5-8-3-12 0-7 3-5 5-5 26-11 4-4 3-8 2-20 7-20 3-16 15-25 4-2 4 3 16 18 4 4 8 4 8-1 20-2 20-5 20 1 16-2 12-3 20-9 15-9 15-12 9-8 6-8 8-12 7-16 4-4 4-1 4-1 8 2 8 4 10 8 10 13 4 7 3 8-1 8-3 4-15 10-11 14-5 4-8 3-16 0-3 1-3 4-2 8-2 4-2 2-4 2-20 6-16 10-17 8-4 4-5 8-7 28-5 12-5 8-9 7-11 5-9 1-12-1-8-4-6-4-3-4-2-8 1-12-2-3-4-2-24 1-32-1-4 2-3 3-1 4-1 20-2 8-5 12z"/>
<path fill="#ff5d00" d="M660 804l-8 2-8 1-8-2-8-5-3-4-2-4 0-4 2-12-1-6-4-6-4-2-8-1-20 4-12 0-16-4-8-6-4-6-2-5 0-12 6-33 4-7 8-7 4-1 4 1 4 3 12 13 8 5 4 0 16-6 20-2 20 1 20-5 16-3 28-13 28-19 15-15 8-12 9-16 4-3 4-1 4 0 8 3 8 4 12 13 8 11 1 5 1 4-1 4-3 4-14 9-3 3-9 12-5 4-7 2-16-1-4 1-4 6-4 12-4 3-24 8-12 7-15 6-7 4-4 4-4 8-6 28-5 12-7 9-4 3zM532 822l-4 1-4 0-8-3-8-8-4-6-4-10 0-8 2-4 6-5 12-4 8 0 4 1 4 4 3 4 3 12-1 12-3 8z"/>
<path fill="#ff5100" d="M660 801l-8 2-8 1-8-3-6-5-2-4 0-4 2-12 0-8-2-4-2-4-6-5-4-1-8-1-20 5-8 0-12-3-8-6-5-9-1-8 2-24 2-8 2-2 4-2 4 0 4 2 12 12 8 5 4 1 4 0 4-2 5-6 3-2 4-1 8-1 8 0 8 2 16 9 4-1 9-10 5-4 6-2 12-2 58-32 6-5 28-35 4-3 4-1 4 0 12 4 12 11 7 9 1 4 0 4-1 4-3 4-14 8-2 2-9 14-5 4-6 1-4 0-12-3-4 0-4 4-4 14-2 4-2 1-5 3-19 5-12 8-20 6-8 5-4 4-4 8-2 8-2 20-2 8-5 8-4 4zM528 818l-4 0-4-1-4-2-4-4-5-7-2-8 0-4 2-4 5-4 8-2 4 1 4 2 4 3 2 4 2 8 0 8-4 7z"/>
<path fill="#ff4500" d="M652 800l-8 0-4-1-5-3-2-4-1-4 3-16 0-8-3-8-4-5-8-5-8-2-8 1-16 6-4 0-8-2-6-5-5-8 0-8 0-4 3-5 4-1 20 8 8 0 4-3 3-3 5-8 4-2 8-1 10 3 18 13 8 2 4-1 4-2 4-4 8-12 12-5 13-11 27-15 24-8 12-17 12-11 8-3 8-1 4-3 4-2 8 2 8 5 4 4 2 5 1 4-1 4-6 6-13 6-6 12-5 5-4 3-8 0-16-6-4 0-3 6-3 16-2 4-8 4-16 4-13 8-27 5-8 4-3 3-4 8-1 8 0 20-3 12-5 8-4 3-4 3zM524 811l-4-1-4-3-2-3-1-4 0-4 3-3 4-1 4 2 4 5 1 5-1 3z"/>
<path fill="#ff3800" d="M796 684l-4 3-4 1-11-4-5-4-6-8 0-4 1-4 5-8 8-6 16-3 12-8 4-1 4 1 4 3 4 4 1 6-1 4-3 4-5 2-12 3-3 11-1 4zM720 722l-8 2-12-2-6-2-2-4 1-4 5-8 7-8 15-10 12-6 8-2 8 0 4 1 4 5 1 4 1 8-2 8-3 4-5 3-16 4zM636 738l-12-5-4-2-2-3 0-4 2-4 4 0 6 4 7 12zM652 796l-8 0-5-4-2-4 1-8 6-20-1-8-3-4-2-8 2-2 20 12 4 5 3 5 3 8 0 8-2 9-6 7z"/>
<path fill="#ff2c00" d="M816 661l-8 0-9-5 1-1 1-3 2-4 5-4 4-2 4 1 4 2 2 3 2 4-2 4-2 3zM792 686l-4 1-8-3-4-4-4-8 0-4 1-4 3-4 4-3 4-1 9 0 3 1 2 3 0 4 2 8 0 4-4 7zM716 721l-9-1-5-4-1-4 1-4 4-8 5-4 13-9 12-4 8-1 4 1 4 4 2 5 1 8-1 4-3 4-19 5-12 7zM656 789l-4 1-4 0-2-2-1-4 3-9 4-4 4-1 4 2 2 4 0 4-1 4z"/>
<path fill="#ff1f00" d="M820 657l-4 2-4 0-5-3 0-4 2-4 3-2 4 0 4 2 1 4zM792 685l-4 0-5-1-4-4-2-4-1-4 1-4 3-4 4-2 4 0 4 1 4 5 1 4 1 4-1 4zM720 717l-4 1-4-1-2-1-3-4 0-4 5-8 10-8 10-5 8-1 4 1 4 2 4 6 1 5-1 4-4 4-16 3z"/>
<path fill="#ff1300" d="M816 656l-1 0-3-4 4-2 2 2zM788 684l-6-4-2-4 0-4 3-4 5-1 4 2 2 3 1 4-1 4-2 3zM720 713l-5-1-2-4 3-6 7-6 7-4 6-2 8 1 4 4 2 5-2 5-4 2-12 2z"/>
<path fill="#ff0600" d="M792 680l-4 1-2-1-2-4 4-4 4 3zM740 705l-12 0-3-1 2-4 5-4 8-1 4 3 1 2-1 4z"/></g>
</g>
<use href="#basin" fill="none" stroke="#6e6e6e" stroke-width="2" stroke-linejoin="round"/>
<circle cx="209" cy="151" r="1.7" fill="#6e6e6e"/>
<circle cx="154.8" cy="224.6" r="1.7" fill="#6e6e6e"/>
<circle cx="333.6" cy="390.7" r="1.7" fill="#6e6e6e"/>
<circle cx="507.5" cy="592" r="1.7" fill="#6e6e6e"/>
<circle cx="525" cy="680" r="1.7" fill="#6e6e6e"/>
<circle cx="538" cy="679.5" r="1.7" fill="#6e6e6e"/>
<circle cx="780.3" cy="670.2" r="1.7" fill="#6e6e6e"/>
<circle cx="440.3" cy="724.5" r="1.7" fill="#6e6e6e"/>
<circle cx="471.5" cy="809" r="1.7" fill="#6e6e6e"/>
</g>
<rect x="1157.1" y="1509.7" width="868" height="1200.6" fill="none" stroke="#000" stroke-width="4.1" stroke-linejoin="round" shape-rendering="crispEdges"/>
<line x1="1312.6" y1="1484.2" x2="1312.6" y2="1509.7" stroke="#000" stroke-width="2.9" shape-rendering="crispEdges"/>
<line x1="1616.8" y1="1484.2" x2="1616.8" y2="1509.7" stroke="#000" stroke-width="2.9" shape-rendering="crispEdges"/>
<line x1="1920.3" y1="1484.2" x2="1920.3" y2="1509.7" stroke="#000" stroke-width="2.9" shape-rendering="crispEdges"/>
<line x1="1131.6" y1="1706.2" x2="1157.1" y2="1706.2" stroke="#000" stroke-width="2.9" shape-rendering="crispEdges"/>
<line x1="1131.6" y1="1912.3" x2="1157.1" y2="1912.3" stroke="#000" stroke-width="2.9" shape-rendering="crispEdges"/>
<line x1="1131.6" y1="2118.4" x2="1157.1" y2="2118.4" stroke="#000" stroke-width="2.9" shape-rendering="crispEdges"/>
<line x1="1131.6" y1="2322.5" x2="1157.1" y2="2322.5" stroke="#000" stroke-width="2.9" shape-rendering="crispEdges"/>
<line x1="1131.6" y1="2524.6" x2="1157.1" y2="2524.6" stroke="#000" stroke-width="2.9" shape-rendering="crispEdges"/>
<text transform="translate(1183.6 2834.8) scale(1.000 1.042)" font-size="110.3">33°E</text>
<text transform="translate(1486.1 2834.8) scale(1.000 1.042)" font-size="110.3">36°E</text>
<text transform="translate(1788.6 2834.8) scale(1.000 1.042)" font-size="110.3">39°E</text>
<text transform="translate(2154.5 1834.8) rotate(-90) scale(1.000 1.042)" font-size="110.3">14°N</text>
<text transform="translate(2154.5 2246.8) rotate(-90) scale(1.000 1.042)" font-size="110.3">10°N</text>
<text transform="translate(2154.5 2626) rotate(-90) scale(1.000 1.042)" font-size="110.3">6°N</text>
<rect x="1521.8" y="1612.5" width="166.3" height="50.2" fill="#fff" stroke="#000" stroke-width="3.7" stroke-linejoin="round"/>
<text transform="translate(1557.1 1584) scale(1.000 1.050)" font-size="59.4">170</text>
<text transform="translate(1702.1 1662) scale(1.000 1.030)" font-size="60">Km</text>
<path d="M1898,1678.7 L1846.2,1839.1 L1898.3,1821.9 L1949.8,1839.1Z" fill="#000"/>
<path d="M1890.7,1671 L1838.9,1831.4 L1891,1814.2 L1942.5,1831.4Z" fill="#fff" stroke="#000" stroke-width="0.9" stroke-linejoin="miter"/>
<text transform="translate(1870.4 1901.5) scale(1.000 1.050)" font-size="71">N</text>
<text transform="translate(1179.5 2122.1) scale(1.000 1.035)" font-size="94.7">d)</text>
<text transform="translate(1344.9 2537.8) scale(1.000 1.035)" font-size="94.7">NPI (180-day)</text>
<rect x="1444" y="2601" width="308.7" height="93.7" fill="url(#ramp)"/>
<line x1="1444.2" y1="2694.7" x2="1444.2" y2="2702.7" stroke="#000" stroke-width="1" shape-rendering="crispEdges"/>
<line x1="1598.5" y1="2694.7" x2="1598.5" y2="2702.7" stroke="#000" stroke-width="1" shape-rendering="crispEdges"/>
<line x1="1752.5" y1="2694.7" x2="1752.5" y2="2702.7" stroke="#000" stroke-width="1" shape-rendering="crispEdges"/>
<text transform="translate(1196 2682.1) scale(1.000 1.015)" font-size="94">1.528</text>
<text transform="translate(1762.9 2676.9) scale(1.000 1.015)" font-size="94">-1.723</text>
</g>
</svg>
</body></html>
